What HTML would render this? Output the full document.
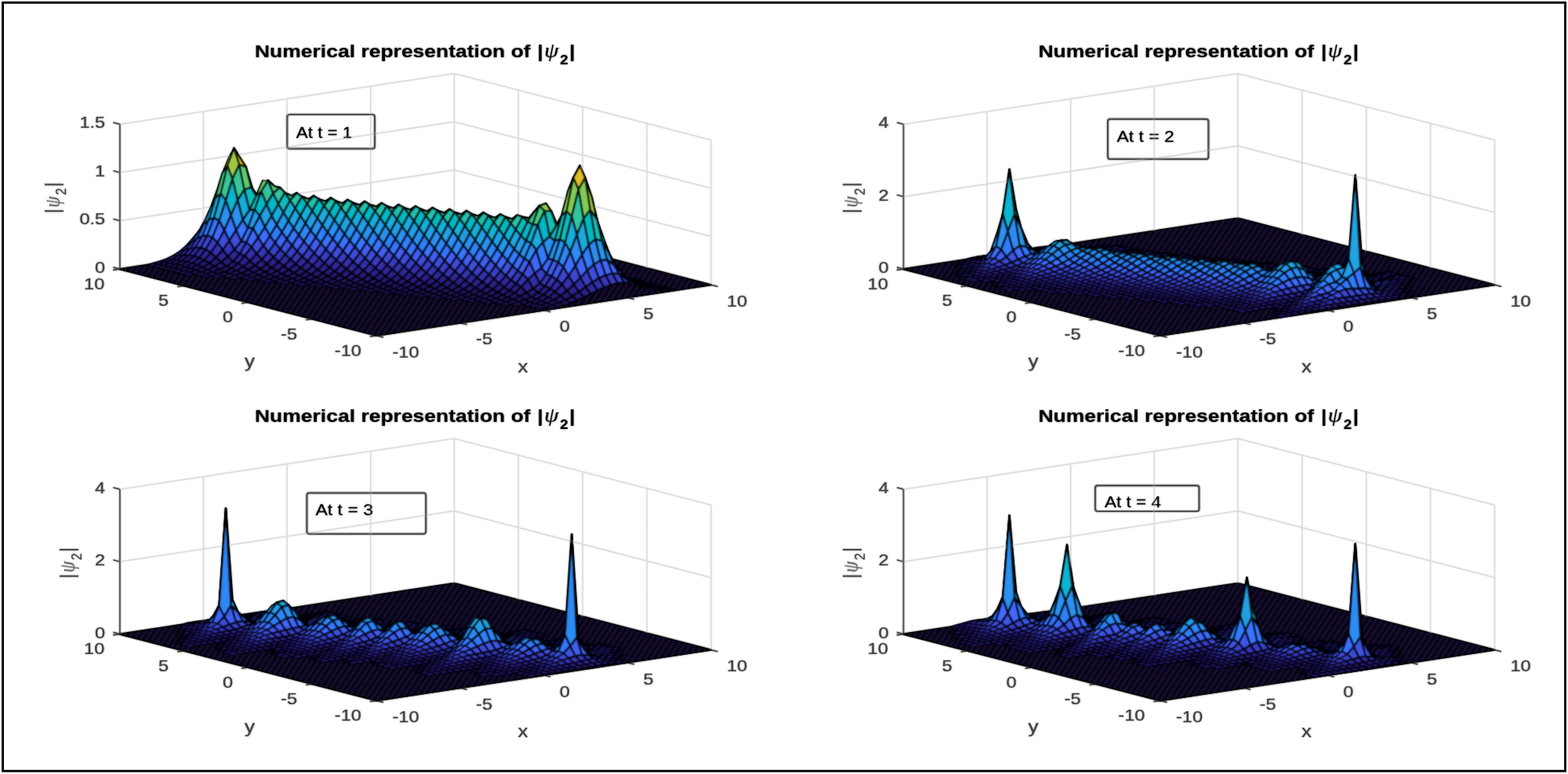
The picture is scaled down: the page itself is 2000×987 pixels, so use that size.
<!DOCTYPE html>
<html lang="en"><head><meta charset="utf-8"><title>Numerical representation of |ψ2|</title>
<style>html,body{margin:0;padding:0;background:#fff}body{width:2000px;height:987px;overflow:hidden}svg{display:block;font-family:"Liberation Sans", sans-serif}</style></head>
<body>
<svg width="2000" height="987" viewBox="0 0 2000 987">
<rect width="2000" height="987" fill="#fff"/>
<defs><filter id="soft" x="0" y="0" width="2000" height="987" filterUnits="userSpaceOnUse"><feGaussianBlur stdDeviation="0.8"/></filter></defs>
<g id="art">
<path d="M152.9 343.1L152.9 158.4M259.5 326.9L259.5 142.2M366.1 310.8L366.1 126.1M472.8 294.6L472.8 109.9M579.4 278.4L579.4 93.7M907 363.2L907 178.5M825.1 342L825.1 157.3M743.2 320.8L743.2 136.1M661.3 299.6L661.3 114.9M152.9 343.1L579.4 278.4M579.4 278.4L907 363.2M152.9 281.5L579.4 216.8M579.4 216.8L907 301.6M152.9 220L579.4 155.3M579.4 155.3L907 240.1M152.9 158.4L579.4 93.7M579.4 93.7L907 178.5" stroke="#dcdcdc" stroke-width="1.5" fill="none"/>
<path d="M152.9 158.4L152.9 343.1L480.5 427.9L907 363.2M152.9 343.1L144.4 340.9M152.9 281.5L144.4 279.3M152.9 220L144.4 217.8M152.9 158.4L144.4 156.2M480.5 427.9L471.8 429.2M398.6 406.7L389.9 408M316.7 385.5L308 386.8M234.8 364.3L226.1 365.6M152.9 343.1L144.2 344.4M480.5 427.9L489 430.1M587.1 411.7L595.6 413.9M693.8 395.5L702.3 397.8M800.4 379.4L808.9 381.6M907 363.2L915.5 365.4" stroke="#4a4a4a" stroke-width="1.7" fill="none" stroke-linejoin="round"/>
<g stroke="#000" stroke-width="1.9" stroke-linejoin="round"><path d="M152.9 343.1L480.5 427.9L907 363.2L579.4 278.4z" fill="#07061c" stroke="#000" stroke-width="2.2"/><path d="M159.5 344.8L161.4 341.8M166 346.5L170 340.5M172.6 348.2L178.5 339.2M179.1 349.9L187 337.9M185.7 351.6L195.5 336.6M192.2 353.3L204.1 335.3M198.8 355L212.6 334M205.3 356.7L221.1 332.7M211.9 358.4L229.7 331.5M218.4 360.1L238.2 330.2M225 361.8L246.7 328.9M231.5 363.5L255.3 327.6M238.1 365.1L263.8 326.3M244.6 366.8L272.3 325M251.2 368.5L280.9 323.7M257.7 370.2L289.4 322.4M264.3 371.9L297.9 321.1M270.8 373.6L306.4 319.8M277.4 375.3L315 318.5M283.9 377L323.5 317.2M290.5 378.7L332 315.9M297 380.4L340.6 314.6M303.6 382.1L349.1 313.3M310.1 383.8L357.6 312M316.7 385.5L366.1 310.8M323.3 387.2L374.7 309.5M329.8 388.9L383.2 308.2M336.4 390.6L391.7 306.9M342.9 392.3L400.3 305.6M349.5 394L408.8 304.3M356 395.7L417.3 303M362.6 397.4L425.9 301.7M369.1 399.1L434.4 300.4M375.7 400.8L442.9 299.1M382.2 402.5L451.4 297.8M388.8 404.2L460 296.5M395.3 405.9L468.5 295.2M401.9 407.5L477 293.9M408.4 409.2L485.6 292.6M415 410.9L494.1 291.3M421.5 412.6L502.6 290M428.1 414.3L511.2 288.8M434.6 416L519.7 287.5M441.2 417.7L528.2 286.2M447.7 419.4L536.7 284.9M454.3 421.1L545.3 283.6M460.8 422.8L553.8 282.3M467.4 424.5L562.3 281M473.9 426.2L570.9 279.7M480.5 427.9L579.4 278.4M489 426.6L586 280.1M497.6 425.3L592.5 281.8M506.1 424L599.1 283.5M514.6 422.7L605.6 285.2M523.1 421.4L612.2 286.9M531.7 420.1L618.7 288.6M540.2 418.8L625.3 290.3M548.7 417.5L631.8 292M557.3 416.3L638.4 293.7M565.8 415L644.9 295.4M574.3 413.7L651.5 297.1M582.9 412.4L658 298.8M591.4 411.1L664.6 300.4M599.9 409.8L671.1 302.1M608.5 408.5L677.7 303.8M617 407.2L684.2 305.5M625.5 405.9L690.8 307.2M634 404.6L697.3 308.9M642.6 403.3L703.9 310.6M651.1 402L710.4 312.3M659.6 400.7L717 314M668.2 399.4L723.5 315.7M676.7 398.1L730.1 317.4M685.2 396.8L736.6 319.1M693.8 395.5L743.2 320.8M702.3 394.3L749.8 322.5M710.8 393L756.3 324.2M719.3 391.7L762.9 325.9M727.9 390.4L769.4 327.6M736.4 389.1L776 329.3M744.9 387.8L782.5 331M753.5 386.5L789.1 332.7M762 385.2L795.6 334.4M770.5 383.9L802.2 336.1M779 382.6L808.7 337.8M787.6 381.3L815.3 339.5M796.1 380L821.8 341.2M804.6 378.7L828.4 342.8M813.2 377.4L834.9 344.5M821.7 376.1L841.5 346.2M830.2 374.8L848 347.9M838.8 373.6L854.6 349.6M847.3 372.3L861.1 351.3M855.8 371L867.7 353M864.3 369.7L874.2 354.7M872.9 368.4L880.8 356.4M881.4 367.1L887.3 358.1M889.9 365.8L893.9 359.8M898.5 364.5L900.4 361.5" fill="none" stroke="#15122c" stroke-width="2.8"/><path fill="#3875fe" stroke-width="1.1" d="M253.3 295.4l8.5-16.4-6.5 12.6-8.6 11.2z"/><path fill="#3e4dd8" stroke-width="1.3" d="M244.8 308.6l8.5-13.2-6.6 7.4-8.5 9.7z"/><path fill="#3430a9" stroke-width="1.5" d="M236.2 318.4l8.6-9.8-6.6 3.9-8.5 7.6z"/><path fill="#2c2389" stroke-width="1.6" d="M227.7 325.5l8.5-7.1-6.5 1.7-8.6 5.6z"/><path fill="#261b70" stroke-width="1.5" d="M219.2 330.6l8.5-5.1-6.6 0.2-8.5 4.2z"/><path fill="#231762" stroke-width="1.4" d="M210.6 334.2l8.6-3.6-6.6-0.7-8.5 3.1z"/><path fill="#201458" stroke-width="1.3" d="M202.1 336.8l8.5-2.6-6.5-1.2-8.6 2.4z"/><path fill="#201456" stroke-width="1.4" d="M193.6 339.6l8.5-2.8-6.6-1.4-8.5 2.5z"/><path fill="#2b91ef" stroke-width="1.2" d="M259.8 286.7l8.6-21.9-6.6 14.2-8.5 16.4z"/><path fill="#4166f7" stroke-width="1.5" d="M251.3 304.1l8.5-17.4-6.5 8.7-8.5 13.2z"/><path fill="#393dbe" stroke-width="1.7" d="M242.8 316.7l8.5-12.6-6.5 4.5-8.6 9.8z"/><path fill="#2e258f" stroke-width="1.8" d="M234.2 325.4l8.6-8.7-6.6 1.7-8.5 7.1z"/><path fill="#271c72" stroke-width="1.7" d="M225.7 331.4l8.5-6-6.5 0.1-8.5 5.1z"/><path fill="#231764" stroke-width="1.5" d="M217.2 335.5l8.5-4.1-6.5-0.8-8.6 3.6z"/><path fill="#211459" stroke-width="1.4" d="M208.7 338.3l8.5-2.8-6.6-1.3-8.5 2.6z"/><path fill="#201456" stroke-width="1.5" d="M200.1 341.3l8.6-3-6.6-1.5-8.5 2.8z"/><path fill="#37c897" stroke-width="1.2" d="M274.9 252.3l8.5-31.3-6.5 20.4-8.5 23.4z"/><path fill="#20a5e3" stroke-width="1.7" d="M266.4 280.1l8.5-27.8-6.5 12.5-8.6 21.9z"/><path fill="#3875fe" stroke-width="1.8" d="M257.9 300.8l8.5-20.7-6.6 6.6-8.5 17.4z"/><path fill="#3c45cd" stroke-width="1.9" d="M249.3 315.5l8.6-14.7-6.6 3.3-8.5 12.6z"/><path fill="#312a9b" stroke-width="1.9" d="M240.8 325.5l8.5-10-6.5 1.2-8.6 8.7z"/><path fill="#291f7b" stroke-width="1.9" d="M232.3 332.4l8.5-6.9-6.6-0.1-8.5 6z"/><path fill="#241765" stroke-width="1.6" d="M223.7 336.9l8.6-4.5-6.6-1-8.5 4.1z"/><path fill="#211459" stroke-width="1.4" d="M215.2 339.9l8.5-3-6.5-1.4-8.5 2.8z"/><path fill="#201457" stroke-width="1.5" d="M206.7 343l8.5-3.1-6.5-1.6-8.6 3z"/><path fill="#c5c22a" stroke-width="1.1" d="M290 211.1l8.5-22.2-6.5 10.9-8.6 21.2z"/><path fill="#4acb84" stroke-width="1.9" d="M281.5 246.6l8.5-35.5-6.6 9.9-8.5 31.3z"/><path fill="#18addb" stroke-width="2.2" d="M272.9 277.9l8.6-31.3-6.6 5.7-8.5 27.8z"/><path fill="#327cfc" stroke-width="2.2" d="M264.4 300.3l8.5-22.4-6.5 2.2-8.5 20.7z"/><path fill="#3d4bd5" stroke-width="2.3" d="M255.9 316l8.5-15.7-6.5 0.5-8.6 14.7z"/><path fill="#322a9d" stroke-width="2.2" d="M247.3 326.6l8.6-10.6-6.6-0.5-8.5 10z"/><path fill="#291f7c" stroke-width="2.0" d="M238.8 333.8l8.5-7.2-6.5-1.1-8.5 6.9z"/><path fill="#241865" stroke-width="1.7" d="M230.3 338.4l8.5-4.6-6.5-1.4-8.6 4.5z"/><path fill="#211459" stroke-width="1.5" d="M221.8 341.6l8.5-3.2-6.6-1.5-8.5 3z"/><path fill="#201457" stroke-width="1.5" d="M213.2 344.7l8.6-3.1-6.6-1.7-8.5 3.1z"/><path fill="#d1bf27" stroke-width="2.4" d="M305.1 210l8.5 2.8-6.5-10.1-8.6-13.8z"/><path fill="#9dc943" stroke-width="2.4" d="M296.5 228.2l8.6-18.2-6.6-21.1-8.5 22.2z"/><path fill="#37c897" stroke-width="2.4" d="M288 255.6l8.5-27.4-6.5-17.1-8.5 35.5z"/><path fill="#1ca9df" stroke-width="2.4" d="M279.5 281.4l8.5-25.8-6.5-9-8.6 31.3z"/><path fill="#327cfc" stroke-width="2.4" d="M271 302.8l8.5-21.4-6.6-3.5-8.5 22.4z"/><path fill="#3d46cf" stroke-width="2.4" d="M262.4 318.2l8.6-15.4-6.6-2.5-8.5 15.7z"/><path fill="#312a9b" stroke-width="2.4" d="M253.9 328.8l8.5-10.6-6.5-2.2-8.6 10.6z"/><path fill="#291f7c" stroke-width="2.1" d="M245.4 335.7l8.5-6.9-6.6-2.2-8.5 7.2z"/><path fill="#241764" stroke-width="1.8" d="M236.8 340.3l8.6-4.6-6.6-1.9-8.5 4.6z"/><path fill="#211459" stroke-width="1.5" d="M228.3 343.3l8.5-3-6.5-1.9-8.5 3.2z"/><path fill="#201456" stroke-width="1.5" d="M219.8 346.4l8.5-3.1-6.5-1.7-8.6 3.1z"/><path fill="#72cd64" stroke-width="2.1" d="M320.2 238.8l8.5 11.7-6.6-10.2-8.5-27.5z"/><path fill="#64cd6f" stroke-width="2.4" d="M311.6 241.9l8.6-3.1-6.6-26-8.5-2.8z"/><path fill="#37c897" stroke-width="2.4" d="M303.1 255.1l8.5-13.2-6.5-31.9-8.6 18.2z"/><path fill="#08b5d0" stroke-width="2.4" d="M294.6 274.6l8.5-19.5-6.6-26.9-8.5 27.4z"/><path fill="#2b91ef" stroke-width="2.4" d="M286 293.6l8.6-19-6.6-19-8.5 25.8z"/><path fill="#4269fd" stroke-width="2.4" d="M277.5 309.5l8.5-15.9-6.5-12.2-8.5 21.4z"/><path fill="#3a3ec4" stroke-width="2.4" d="M269 322.1l8.5-12.6-6.5-6.7-8.6 15.4z"/><path fill="#302997" stroke-width="2.4" d="M260.5 331.7l8.5-9.6-6.6-3.9-8.5 10.6z"/><path fill="#271c73" stroke-width="2.2" d="M251.9 338.1l8.6-6.4-6.6-2.9-8.5 6.9z"/><path fill="#231763" stroke-width="1.8" d="M243.4 342.3l8.5-4.2-6.5-2.4-8.6 4.6z"/><path fill="#201458" stroke-width="1.5" d="M234.9 345.2l8.5-2.9-6.6-2-8.5 3z"/><path fill="#201456" stroke-width="1.4" d="M226.3 348.1l8.6-2.9-6.6-1.9-8.5 3.1z"/><path fill="#4acb84" stroke-width="2.4" d="M326.7 249.9l8.5-19.4-6.5 20-8.5-11.7z"/><path fill="#0bbdbd" stroke-width="2.4" d="M318.2 268l8.5-18.1-6.5-11.1-8.6 3.1z"/><path fill="#18addb" stroke-width="2.4" d="M309.7 280.3l8.5-12.3-6.6-26.1-8.5 13.2z"/><path fill="#2b91ef" stroke-width="2.4" d="M301.1 293.5l8.6-13.2-6.6-25.2-8.5 19.5z"/><path fill="#3875fe" stroke-width="2.4" d="M292.6 306.8l8.5-13.3-6.5-18.9-8.6 19z"/><path fill="#3e4dd9" stroke-width="2.4" d="M284.1 318.6l8.5-11.8-6.6-13.2-8.5 15.9z"/><path fill="#3530aa" stroke-width="2.4" d="M275.5 328.4l8.6-9.8-6.6-9.1-8.5 12.6z"/><path fill="#2d238a" stroke-width="2.4" d="M267 335.5l8.5-7.1-6.5-6.3-8.5 9.6z"/><path fill="#261b6f" stroke-width="2.2" d="M258.5 340.8l8.5-5.3-6.5-3.8-8.6 6.4z"/><path fill="#231762" stroke-width="1.8" d="M249.9 344.6l8.6-3.8-6.6-2.7-8.5 4.2z"/><path fill="#201458" stroke-width="1.5" d="M241.4 347.2l8.5-2.6-6.5-2.3-8.5 2.9z"/><path fill="#1f1456" stroke-width="1.4" d="M232.9 349.8l8.5-2.6-6.5-2-8.6 2.9z"/><path fill="#64cd6f" stroke-width="1.1" d="M333.3 243.8l8.5-13.8-6.6 0.5-8.5 19.4z"/><path fill="#19bfb6" stroke-width="2.2" d="M324.7 267.2l8.6-23.4-6.6 6.1-8.5 18.1z"/><path fill="#259be8" stroke-width="2.4" d="M316.2 290.8l8.5-23.6-6.5 0.8-8.5 12.3z"/><path fill="#3875fe" stroke-width="2.4" d="M307.7 307.7l8.5-16.9-6.5-10.5-8.6 13.2z"/><path fill="#3f4edc" stroke-width="2.4" d="M299.1 318.4l8.6-10.7-6.6-14.2-8.5 13.3z"/><path fill="#3736b5" stroke-width="2.4" d="M290.6 327.1l8.5-8.7-6.5-11.6-8.5 11.8z"/><path fill="#2e258f" stroke-width="2.4" d="M282.1 334.3l8.5-7.2-6.5-8.5-8.6 9.8z"/><path fill="#281c74" stroke-width="2.4" d="M273.6 339.8l8.5-5.5-6.6-5.9-8.5 7.1z"/><path fill="#241865" stroke-width="2.1" d="M265 343.9l8.6-4.1-6.6-4.3-8.5 5.3z"/><path fill="#21145a" stroke-width="1.7" d="M256.5 346.9l8.5-3-6.5-3.1-8.6 3.8z"/><path fill="#201457" stroke-width="2.0" d="M248 350.2l8.5-3.3-6.6-2.3-8.5 2.6z"/><path fill="#1f1355" stroke-width="1.1" d="M239.4 351.5l8.6-1.3-6.6-3-8.5 2.6z"/><path fill="#57cc7a" stroke-width="2.4" d="M348.3 246.5l8.6-7.3-6.6-1.6-8.5-7.6z"/><path fill="#31c69f" stroke-width="2.4" d="M339.8 260.3l8.5-13.8-6.5-16.5-8.5 13.8z"/><path fill="#01b8ca" stroke-width="2.4" d="M331.3 275.4l8.5-15.1-6.5-16.5-8.6 23.4z"/><path fill="#259be8" stroke-width="2.2" d="M322.8 290.9l8.5-15.5-6.6-8.2-8.5 23.6z"/><path fill="#3875fe" stroke-width="2.4" d="M314.2 309l8.6-18.1-6.6-0.1-8.5 16.9z"/><path fill="#3b44ca" stroke-width="2.4" d="M305.7 323.9l8.5-14.9-6.5-1.3-8.6 10.7z"/><path fill="#302999" stroke-width="2.4" d="M297.2 333.7l8.5-9.8-6.6-5.5-8.5 8.7z"/><path fill="#2a1f7d" stroke-width="2.4" d="M288.6 339.4l8.6-5.7-6.6-6.6-8.5 7.2z"/><path fill="#261a6d" stroke-width="2.4" d="M280.1 343.6l8.5-4.2-6.5-5.1-8.5 5.5z"/><path fill="#231762" stroke-width="1.9" d="M271.6 346.8l8.5-3.2-6.5-3.8-8.6 4.1z"/><path fill="#201458" stroke-width="1.6" d="M263 349.2l8.6-2.4-6.6-2.9-8.5 3z"/><path fill="#1f1456" stroke-width="1.4" d="M254.5 351.9l8.5-2.7-6.5-2.3-8.5 3.3z"/><path fill="#31c69f" stroke-width="2.4" d="M354.9 260.1l8.5-14.4-6.5-6.5-8.6 7.3z"/><path fill="#01b8ca" stroke-width="2.4" d="M346.4 275.3l8.5-15.2-6.6-13.6-8.5 13.8z"/><path fill="#23a0e5" stroke-width="2.4" d="M337.8 289.6l8.6-14.3-6.6-15-8.5 15.1z"/><path fill="#2e87f7" stroke-width="2.4" d="M329.3 302.8l8.5-13.2-6.5-14.2-8.5 15.5z"/><path fill="#4166f7" stroke-width="2.4" d="M320.8 315.1l8.5-12.3-6.5-11.9-8.6 18.1z"/><path fill="#3b3fc5" stroke-width="2.4" d="M312.2 326l8.6-10.9-6.6-6.1-8.5 14.9z"/><path fill="#302997" stroke-width="2.4" d="M303.7 335.8l8.5-9.8-6.5-2.1-8.5 9.8z"/><path fill="#271c72" stroke-width="2.4" d="M295.2 342.6l8.5-6.8-6.5-2.1-8.6 5.7z"/><path fill="#231763" stroke-width="2.1" d="M286.7 346.7l8.5-4.1-6.6-3.2-8.5 4.2z"/><path fill="#211459" stroke-width="1.7" d="M278.1 349.3l8.6-2.6-6.6-3.1-8.5 3.2z"/><path fill="#201457" stroke-width="1.9" d="M269.6 352.3l8.5-3-6.5-2.5-8.6 2.4z"/><path fill="#1f1355" stroke-width="1.1" d="M261.1 353.6l8.5-1.3-6.6-3.1-8.5 2.7z"/><path fill="#3fca8e" stroke-width="2.4" d="M370 255.7l8.5-9.6-6.5 3.5-8.6-3.9z"/><path fill="#0bbdbd" stroke-width="2.4" d="M361.5 271.2l8.5-15.5-6.6-10-8.5 14.4z"/><path fill="#1ca9df" stroke-width="2.4" d="M352.9 286.7l8.6-15.5-6.6-11.1-8.5 15.2z"/><path fill="#2d8cf3" stroke-width="2.4" d="M344.4 300.7l8.5-14-6.5-11.4-8.6 14.3z"/><path fill="#3e6fff" stroke-width="2.4" d="M335.9 313.3l8.5-12.6-6.6-11.1-8.5 13.2z"/><path fill="#3d4cd5" stroke-width="2.4" d="M327.3 323.8l8.6-10.5-6.6-10.5-8.5 12.3z"/><path fill="#3430a9" stroke-width="2.4" d="M318.8 332.9l8.5-9.1-6.5-8.7-8.6 10.9z"/><path fill="#2d238a" stroke-width="2.4" d="M310.3 339.7l8.5-6.8-6.6-6.9-8.5 9.8z"/><path fill="#261b70" stroke-width="2.0" d="M301.7 344.9l8.6-5.2-6.6-3.9-8.5 6.8z"/><path fill="#231762" stroke-width="1.8" d="M293.2 348.8l8.5-3.9-6.5-2.3-8.5 4.1z"/><path fill="#201457" stroke-width="2.2" d="M284.7 352.7l8.5-3.9-6.5-2.1-8.6 2.6z"/><path fill="#1f1356" stroke-width="1.1" d="M276.2 354l8.5-1.3-6.6-3.4-8.5 3z"/><path fill="#2cc4a7" stroke-width="2.4" d="M376.5 265.6l8.6-14.9-6.6-4.6-8.5 9.6z"/><path fill="#12b1d6" stroke-width="2.4" d="M368 281.4l8.5-15.8-6.5-9.9-8.5 15.5z"/><path fill="#2797eb" stroke-width="2.4" d="M359.5 296.3l8.5-14.9-6.5-10.2-8.6 15.5z"/><path fill="#327cfc" stroke-width="2.4" d="M350.9 309.6l8.6-13.3-6.6-9.6-8.5 14z"/><path fill="#4055e4" stroke-width="2.4" d="M342.4 321.2l8.5-11.6-6.5-8.9-8.5 12.6z"/><path fill="#3737b6" stroke-width="2.4" d="M333.9 330.9l8.5-9.7-6.5-7.9-8.6 10.5z"/><path fill="#2e258f" stroke-width="2.4" d="M325.4 338.6l8.5-7.7-6.6-7.1-8.5 9.1z"/><path fill="#281c73" stroke-width="2.4" d="M316.8 344.1l8.6-5.5-6.6-5.7-8.5 6.8z"/><path fill="#241765" stroke-width="2.2" d="M308.3 348.2l8.5-4.1-6.5-4.4-8.6 5.2z"/><path fill="#211459" stroke-width="1.7" d="M299.8 351.2l8.5-3-6.6-3.3-8.5 3.9z"/><path fill="#201457" stroke-width="1.5" d="M291.2 354.4l8.6-3.2-6.6-2.4-8.5 3.9z"/><path fill="#3fca8e" stroke-width="2.4" d="M391.6 259.6l8.5-9.8-6.5 4.1-8.5-3.2z"/><path fill="#02bac3" stroke-width="2.4" d="M383.1 275.4l8.5-15.8-6.5-8.9-8.6 14.9z"/><path fill="#20a5e3" stroke-width="2.4" d="M374.6 291l8.5-15.6-6.6-9.8-8.5 15.8z"/><path fill="#2e87f7" stroke-width="2.4" d="M366 305l8.6-14-6.6-9.6-8.5 14.9z"/><path fill="#4166f7" stroke-width="2.4" d="M357.5 317.6l8.5-12.6-6.5-8.7-8.6 13.3z"/><path fill="#3b44ca" stroke-width="2.4" d="M349 327.9l8.5-10.3-6.6-8-8.5 11.6z"/><path fill="#322a9d" stroke-width="2.4" d="M340.4 336.7l8.6-8.8-6.6-6.7-8.5 9.7z"/><path fill="#2a207f" stroke-width="2.4" d="M331.9 343.1l8.5-6.4-6.5-5.8-8.5 7.7z"/><path fill="#241867" stroke-width="2.4" d="M323.4 347.8l8.5-4.7-6.5-4.5-8.6 5.5z"/><path fill="#221761" stroke-width="1.9" d="M314.8 351.1l8.6-3.3-6.6-3.7-8.5 4.1z"/><path fill="#201457" stroke-width="2.2" d="M306.3 354.8l8.5-3.7-6.5-2.9-8.5 3z"/><path fill="#1f1355" stroke-width="1.1" d="M297.8 356.1l8.5-1.3-6.5-3.6-8.6 3.2z"/><path fill="#24c1ae" stroke-width="2.4" d="M398.2 268.9l8.5-15.1-6.6-4-8.5 9.8z"/><path fill="#12b1d6" stroke-width="2.4" d="M389.6 284.8l8.6-15.9-6.6-9.3-8.5 15.8z"/><path fill="#2797eb" stroke-width="2.4" d="M381.1 299.7l8.5-14.9-6.5-9.4-8.5 15.6z"/><path fill="#3875fe" stroke-width="2.4" d="M372.6 313l8.5-13.3-6.5-8.7-8.6 14z"/><path fill="#3f4edc" stroke-width="2.4" d="M364 324.5l8.6-11.5-6.6-8-8.5 12.6z"/><path fill="#3636b2" stroke-width="2.4" d="M355.5 334l8.5-9.5-6.5-6.9-8.5 10.3z"/><path fill="#2d248c" stroke-width="2.4" d="M347 341.5l8.5-7.5-6.5-6.1-8.6 8.8z"/><path fill="#271b71" stroke-width="2.4" d="M338.5 346.9l8.5-5.4-6.6-4.8-8.5 6.4z"/><path fill="#231763" stroke-width="2.1" d="M329.9 350.8l8.6-3.9-6.6-3.8-8.5 4.7z"/><path fill="#201458" stroke-width="1.7" d="M321.4 353.6l8.5-2.8-6.5-3-8.6 3.3z"/><path fill="#201456" stroke-width="1.4" d="M312.9 356.5l8.5-2.9-6.6-2.5-8.5 3.7z"/><path fill="#37c897" stroke-width="2.4" d="M413.2 262.4l8.6-10-6.6 4.4-8.5-3z"/><path fill="#02bac3" stroke-width="2.4" d="M404.7 278.2l8.5-15.8-6.5-8.6-8.5 15.1z"/><path fill="#23a0e5" stroke-width="2.4" d="M396.2 293.9l8.5-15.7-6.5-9.3-8.6 15.9z"/><path fill="#2e87f7" stroke-width="2.4" d="M387.7 307.9l8.5-14-6.6-9.1-8.5 14.9z"/><path fill="#425ff3" stroke-width="2.4" d="M379.1 320.4l8.6-12.5-6.6-8.2-8.5 13.3z"/><path fill="#3b3fc4" stroke-width="2.4" d="M370.6 330.7l8.5-10.3-6.5-7.4-8.6 11.5z"/><path fill="#312a9b" stroke-width="2.4" d="M362.1 339.4l8.5-8.7-6.6-6.2-8.5 9.5z"/><path fill="#2a1f7d" stroke-width="2.4" d="M353.5 345.7l8.6-6.3-6.6-5.4-8.5 7.5z"/><path fill="#241866" stroke-width="2.3" d="M345 350.3l8.5-4.6-6.5-4.2-8.5 5.4z"/><path fill="#21145a" stroke-width="1.8" d="M336.5 353.5l8.5-3.2-6.5-3.4-8.6 3.9z"/><path fill="#201457" stroke-width="2.1" d="M327.9 356.9l8.6-3.4-6.6-2.7-8.5 2.8z"/><path fill="#1f1355" stroke-width="1.1" d="M319.4 358.2l8.5-1.3-6.5-3.3-8.5 2.9z"/><path fill="#24c1ae" stroke-width="2.4" d="M419.8 271.4l8.5-15.1-6.5-3.9-8.6 10z"/><path fill="#18addb" stroke-width="2.4" d="M411.3 287.3l8.5-15.9-6.6-9-8.5 15.8z"/><path fill="#2b91ef" stroke-width="2.4" d="M402.7 302.3l8.6-15-6.6-9.1-8.5 15.7z"/><path fill="#3875fe" stroke-width="2.4" d="M394.2 315.6l8.5-13.3-6.5-8.4-8.5 14z"/><path fill="#3f4edb" stroke-width="2.4" d="M385.7 327.1l8.5-11.5-6.5-7.7-8.6 12.5z"/><path fill="#3635b1" stroke-width="2.4" d="M377.2 336.5l8.5-9.4-6.6-6.7-8.5 10.3z"/><path fill="#2d248b" stroke-width="2.4" d="M368.6 344l8.6-7.5-6.6-5.8-8.5 8.7z"/><path fill="#271b70" stroke-width="2.4" d="M360.1 349.3l8.5-5.3-6.5-4.6-8.6 6.3z"/><path fill="#231762" stroke-width="2.0" d="M351.6 353.2l8.5-3.9-6.6-3.6-8.5 4.6z"/><path fill="#201458" stroke-width="1.6" d="M343 355.9l8.6-2.7-6.6-2.9-8.5 3.2z"/><path fill="#1f1456" stroke-width="1.4" d="M334.5 358.6l8.5-2.7-6.5-2.4-8.6 3.4z"/><path fill="#37c897" stroke-width="2.4" d="M434.9 264.7l8.5-9.9-6.5 4.5-8.6-3z"/><path fill="#02bac3" stroke-width="2.4" d="M426.4 280.6l8.5-15.9-6.6-8.4-8.5 15.1z"/><path fill="#23a0e5" stroke-width="2.4" d="M417.8 296.3l8.6-15.7-6.6-9.2-8.5 15.9z"/><path fill="#2f81fa" stroke-width="2.4" d="M409.3 310.3l8.5-14-6.5-9-8.6 15z"/><path fill="#425ff2" stroke-width="2.4" d="M400.8 322.8l8.5-12.5-6.6-8-8.5 13.3z"/><path fill="#3a3ec3" stroke-width="2.4" d="M392.2 333.1l8.6-10.3-6.6-7.2-8.5 11.5z"/><path fill="#31299a" stroke-width="2.4" d="M383.7 341.8l8.5-8.7-6.5-6-8.5 9.4z"/><path fill="#2a1f7d" stroke-width="2.4" d="M375.2 348l8.5-6.2-6.5-5.3-8.6 7.5z"/><path fill="#241865" stroke-width="2.2" d="M366.6 352.6l8.6-4.6-6.6-4-8.5 5.3z"/><path fill="#211459" stroke-width="1.8" d="M358.1 355.8l8.5-3.2-6.5-3.3-8.5 3.9z"/><path fill="#201457" stroke-width="2.0" d="M349.6 359l8.5-3.2-6.5-2.6-8.6 2.7z"/><path fill="#1f1355" stroke-width="1.1" d="M341.1 360.3l8.5-1.3-6.6-3.1-8.5 2.7z"/><path fill="#24c1ae" stroke-width="2.4" d="M441.4 273.7l8.6-15.1-6.6-3.8-8.5 9.9z"/><path fill="#18addb" stroke-width="2.4" d="M432.9 289.6l8.5-15.9-6.5-9-8.5 15.9z"/><path fill="#2b91ef" stroke-width="2.4" d="M424.4 304.6l8.5-15-6.5-9-8.6 15.7z"/><path fill="#3875fe" stroke-width="2.4" d="M415.8 317.9l8.6-13.3-6.6-8.3-8.5 14z"/><path fill="#3f4dda" stroke-width="2.4" d="M407.3 329.3l8.5-11.4-6.5-7.6-8.5 12.5z"/><path fill="#3531ac" stroke-width="2.4" d="M398.8 338.8l8.5-9.5-6.5-6.5-8.6 10.3z"/><path fill="#2d248a" stroke-width="2.4" d="M390.3 346.2l8.5-7.4-6.6-5.7-8.5 8.7z"/><path fill="#261b70" stroke-width="2.4" d="M381.7 351.5l8.6-5.3-6.6-4.4-8.5 6.2z"/><path fill="#231762" stroke-width="2.0" d="M373.2 355.4l8.5-3.9-6.5-3.5-8.6 4.6z"/><path fill="#201458" stroke-width="1.6" d="M364.7 358.1l8.5-2.7-6.6-2.8-8.5 3.2z"/><path fill="#1f1356" stroke-width="1.4" d="M356.1 360.7l8.6-2.6-6.6-2.3-8.5 3.2z"/><path fill="#37c897" stroke-width="2.4" d="M456.5 266.9l8.5-10-6.5 4.6-8.5-2.9z"/><path fill="#02bac3" stroke-width="2.4" d="M448 282.8l8.5-15.9-6.5-8.3-8.6 15.1z"/><path fill="#23a0e5" stroke-width="2.4" d="M439.5 298.5l8.5-15.7-6.6-9.1-8.5 15.9z"/><path fill="#2f81fa" stroke-width="2.4" d="M430.9 312.5l8.6-14-6.6-8.9-8.5 15z"/><path fill="#425ff1" stroke-width="2.4" d="M422.4 325l8.5-12.5-6.5-7.9-8.6 13.3z"/><path fill="#3a3ec3" stroke-width="2.4" d="M413.9 335.3l8.5-10.3-6.6-7.1-8.5 11.4z"/><path fill="#31299a" stroke-width="2.4" d="M405.3 344l8.6-8.7-6.6-6-8.5 9.5z"/><path fill="#291f7c" stroke-width="2.4" d="M396.8 350.1l8.5-6.1-6.5-5.2-8.5 7.4z"/><path fill="#241865" stroke-width="2.2" d="M388.3 354.7l8.5-4.6-6.5-3.9-8.6 5.3z"/><path fill="#211459" stroke-width="1.8" d="M379.7 357.9l8.6-3.2-6.6-3.2-8.5 3.9z"/><path fill="#201456" stroke-width="1.9" d="M371.2 361.1l8.5-3.2-6.5-2.5-8.5 2.7z"/><path fill="#1f1355" stroke-width="1.1" d="M362.7 362.4l8.5-1.3-6.5-3-8.6 2.6z"/><path fill="#24c1ae" stroke-width="2.4" d="M463.1 275.8l8.5-15.1-6.6-3.8-8.5 10z"/><path fill="#18addb" stroke-width="2.4" d="M454.5 291.8l8.6-16-6.6-8.9-8.5 15.9z"/><path fill="#2b91ef" stroke-width="2.4" d="M446 306.8l8.5-15-6.5-9-8.5 15.7z"/><path fill="#3875fe" stroke-width="2.4" d="M437.5 320l8.5-13.2-6.5-8.3-8.6 14z"/><path fill="#3f4dda" stroke-width="2.4" d="M428.9 331.5l8.6-11.5-6.6-7.5-8.5 12.5z"/><path fill="#3531ab" stroke-width="2.4" d="M420.4 340.9l8.5-9.4-6.5-6.5-8.5 10.3z"/><path fill="#2d238a" stroke-width="2.4" d="M411.9 348.4l8.5-7.5-6.5-5.6-8.6 8.7z"/><path fill="#261b70" stroke-width="2.4" d="M403.4 353.7l8.5-5.3-6.6-4.4-8.5 6.1z"/><path fill="#231762" stroke-width="2.0" d="M394.8 357.5l8.6-3.8-6.6-3.6-8.5 4.6z"/><path fill="#201458" stroke-width="1.6" d="M386.3 360.2l8.5-2.7-6.5-2.8-8.6 3.2z"/><path fill="#1f1355" stroke-width="1.4" d="M377.8 362.8l8.5-2.6-6.6-2.3-8.5 3.2z"/><path fill="#37c897" stroke-width="2.4" d="M478.2 269l8.5-10-6.6 4.6-8.5-2.9z"/><path fill="#02bac3" stroke-width="2.4" d="M469.6 284.9l8.6-15.9-6.6-8.3-8.5 15.1z"/><path fill="#23a0e5" stroke-width="2.4" d="M461.1 300.6l8.5-15.7-6.5-9.1-8.6 16z"/><path fill="#2f81fa" stroke-width="2.4" d="M452.6 314.6l8.5-14-6.6-8.8-8.5 15z"/><path fill="#425ff1" stroke-width="2.4" d="M444 327.2l8.6-12.6-6.6-7.8-8.5 13.2z"/><path fill="#3a3ec2" stroke-width="2.4" d="M435.5 337.5l8.5-10.3-6.5-7.2-8.6 11.5z"/><path fill="#31299a" stroke-width="2.4" d="M427 346.1l8.5-8.6-6.6-6-8.5 9.4z"/><path fill="#291f7c" stroke-width="2.4" d="M418.4 352.3l8.6-6.2-6.6-5.2-8.5 7.5z"/><path fill="#241865" stroke-width="2.2" d="M409.9 356.8l8.5-4.5-6.5-3.9-8.5 5.3z"/><path fill="#211459" stroke-width="1.8" d="M401.4 360l8.5-3.2-6.5-3.1-8.6 3.8z"/><path fill="#201456" stroke-width="1.9" d="M392.9 363.2l8.5-3.2-6.6-2.5-8.5 2.7z"/><path fill="#1f1355" stroke-width="1.1" d="M384.3 364.5l8.6-1.3-6.6-3-8.5 2.6z"/><path fill="#24c1ae" stroke-width="2.4" d="M484.7 277.9l8.5-15.1-6.5-3.8-8.5 10z"/><path fill="#18addb" stroke-width="2.4" d="M476.2 293.9l8.5-16-6.5-8.9-8.6 15.9z"/><path fill="#2b91ef" stroke-width="2.4" d="M467.6 308.9l8.6-15-6.6-9-8.5 15.7z"/><path fill="#3875fe" stroke-width="2.4" d="M459.1 322.1l8.5-13.2-6.5-8.3-8.5 14z"/><path fill="#3f4dda" stroke-width="2.4" d="M450.6 333.6l8.5-11.5-6.5-7.5-8.6 12.6z"/><path fill="#3531ab" stroke-width="2.4" d="M442.1 343l8.5-9.4-6.6-6.4-8.5 10.3z"/><path fill="#2d238a" stroke-width="2.4" d="M433.5 350.5l8.6-7.5-6.6-5.5-8.5 8.6z"/><path fill="#261b70" stroke-width="2.4" d="M425 355.8l8.5-5.3-6.5-4.4-8.6 6.2z"/><path fill="#231762" stroke-width="2.0" d="M416.5 359.6l8.5-3.8-6.6-3.5-8.5 4.5z"/><path fill="#201458" stroke-width="1.6" d="M407.9 362.3l8.6-2.7-6.6-2.8-8.5 3.2z"/><path fill="#1f1355" stroke-width="1.4" d="M399.4 364.9l8.5-2.6-6.5-2.3-8.5 3.2z"/><path fill="#37c897" stroke-width="2.4" d="M499.8 271.1l8.5-10.1-6.5 4.7-8.6-2.9z"/><path fill="#02bac3" stroke-width="2.4" d="M491.3 287l8.5-15.9-6.6-8.3-8.5 15.1z"/><path fill="#23a0e5" stroke-width="2.4" d="M482.7 302.7l8.6-15.7-6.6-9.1-8.5 16z"/><path fill="#2f81fa" stroke-width="2.4" d="M474.2 316.7l8.5-14-6.5-8.8-8.6 15z"/><path fill="#425ff1" stroke-width="2.4" d="M465.7 329.3l8.5-12.6-6.6-7.8-8.5 13.2z"/><path fill="#3a3ec2" stroke-width="2.4" d="M457.1 339.6l8.6-10.3-6.6-7.2-8.5 11.5z"/><path fill="#30299a" stroke-width="2.4" d="M448.6 348.2l8.5-8.6-6.5-6-8.5 9.4z"/><path fill="#291f7c" stroke-width="2.4" d="M440.1 354.4l8.5-6.2-6.5-5.2-8.6 7.5z"/><path fill="#241865" stroke-width="2.2" d="M431.5 359l8.6-4.6-6.6-3.9-8.5 5.3z"/><path fill="#211459" stroke-width="1.8" d="M423 362.1l8.5-3.1-6.5-3.2-8.5 3.8z"/><path fill="#201456" stroke-width="1.9" d="M414.5 365.3l8.5-3.2-6.5-2.5-8.6 2.7z"/><path fill="#1f1355" stroke-width="1.1" d="M406 366.6l8.5-1.3-6.6-3-8.5 2.6z"/><path fill="#4acb84" stroke-width="1.1" d="M514.9 264.8l8.5 2.8-6.6 5.5-8.5-12.1z"/><path fill="#24c1ae" stroke-width="2.4" d="M506.3 279.9l8.6-15.1-6.6-3.8-8.5 10.1z"/><path fill="#18addb" stroke-width="2.4" d="M497.8 295.9l8.5-16-6.5-8.8-8.5 15.9z"/><path fill="#2b91ef" stroke-width="2.4" d="M489.3 310.9l8.5-15-6.5-8.9-8.6 15.7z"/><path fill="#3875fe" stroke-width="2.4" d="M480.7 324.2l8.6-13.3-6.6-8.2-8.5 14z"/><path fill="#3f4dda" stroke-width="2.4" d="M472.2 335.7l8.5-11.5-6.5-7.5-8.5 12.6z"/><path fill="#3531ab" stroke-width="2.4" d="M463.7 345.1l8.5-9.4-6.5-6.4-8.6 10.3z"/><path fill="#2d238a" stroke-width="2.4" d="M455.2 352.6l8.5-7.5-6.6-5.5-8.5 8.6z"/><path fill="#261b70" stroke-width="2.4" d="M446.6 357.9l8.6-5.3-6.6-4.4-8.5 6.2z"/><path fill="#231762" stroke-width="2.0" d="M438.1 361.7l8.5-3.8-6.5-3.5-8.6 4.6z"/><path fill="#201458" stroke-width="1.6" d="M429.6 364.4l8.5-2.7-6.6-2.7-8.5 3.1z"/><path fill="#1f1355" stroke-width="1.4" d="M421 367l8.6-2.6-6.6-2.3-8.5 3.2z"/><path fill="#37c897" stroke-width="2.4" d="M521.4 273l8.6-10-6.6 4.6-8.5-2.8z"/><path fill="#02bac3" stroke-width="2.4" d="M512.9 289l8.5-16-6.5-8.2-8.6 15.1z"/><path fill="#23a0e5" stroke-width="2.4" d="M504.4 304.7l8.5-15.7-6.6-9.1-8.5 16z"/><path fill="#2f81fa" stroke-width="2.4" d="M495.8 318.8l8.6-14.1-6.6-8.8-8.5 15z"/><path fill="#425ff1" stroke-width="2.4" d="M487.3 331.3l8.5-12.5-6.5-7.9-8.6 13.3z"/><path fill="#3a3ec2" stroke-width="2.4" d="M478.8 341.6l8.5-10.3-6.6-7.1-8.5 11.5z"/><path fill="#30299a" stroke-width="2.4" d="M470.2 350.3l8.6-8.7-6.6-5.9-8.5 9.4z"/><path fill="#291f7c" stroke-width="2.4" d="M461.7 356.5l8.5-6.2-6.5-5.2-8.5 7.5z"/><path fill="#241865" stroke-width="2.2" d="M453.2 361.1l8.5-4.6-6.5-3.9-8.6 5.3z"/><path fill="#211459" stroke-width="1.8" d="M444.6 364.2l8.6-3.1-6.6-3.2-8.5 3.8z"/><path fill="#201456" stroke-width="1.9" d="M436.1 367.4l8.5-3.2-6.5-2.5-8.5 2.7z"/><path fill="#1f1355" stroke-width="1.1" d="M427.6 368.7l8.5-1.3-6.5-3-8.6 2.6z"/><path fill="#24c1ae" stroke-width="2.4" d="M528 281.9l8.5-15.2-6.5-3.7-8.6 10z"/><path fill="#18addb" stroke-width="2.4" d="M519.4 297.9l8.6-16-6.6-8.9-8.5 16z"/><path fill="#2b91ef" stroke-width="2.4" d="M510.9 313l8.5-15.1-6.5-8.9-8.5 15.7z"/><path fill="#3875fe" stroke-width="2.4" d="M502.4 326.3l8.5-13.3-6.5-8.3-8.6 14.1z"/><path fill="#3f4dda" stroke-width="2.4" d="M493.9 337.8l8.5-11.5-6.6-7.5-8.5 12.5z"/><path fill="#3531ab" stroke-width="2.4" d="M485.3 347.2l8.6-9.4-6.6-6.5-8.5 10.3z"/><path fill="#2d238a" stroke-width="2.4" d="M476.8 354.7l8.5-7.5-6.5-5.6-8.6 8.7z"/><path fill="#261b70" stroke-width="2.4" d="M468.3 360l8.5-5.3-6.6-4.4-8.5 6.2z"/><path fill="#231762" stroke-width="2.0" d="M459.7 363.8l8.6-3.8-6.6-3.5-8.5 4.6z"/><path fill="#201458" stroke-width="1.6" d="M451.2 366.5l8.5-2.7-6.5-2.7-8.6 3.1z"/><path fill="#1f1355" stroke-width="1.4" d="M442.7 369.1l8.5-2.6-6.6-2.3-8.5 3.2z"/><path fill="#37c897" stroke-width="2.4" d="M543.1 275l8.5-10.1-6.6 4.7-8.5-2.9z"/><path fill="#02bac3" stroke-width="2.4" d="M534.5 290.9l8.6-15.9-6.6-8.3-8.5 15.2z"/><path fill="#23a0e5" stroke-width="2.4" d="M526 306.7l8.5-15.8-6.5-9-8.6 16z"/><path fill="#2f81fa" stroke-width="2.4" d="M517.5 320.8l8.5-14.1-6.6-8.8-8.5 15.1z"/><path fill="#425ff1" stroke-width="2.4" d="M508.9 333.4l8.6-12.6-6.6-7.8-8.5 13.3z"/><path fill="#3a3ec3" stroke-width="2.4" d="M500.4 343.7l8.5-10.3-6.5-7.1-8.5 11.5z"/><path fill="#31299a" stroke-width="2.4" d="M491.9 352.4l8.5-8.7-6.5-5.9-8.6 9.4z"/><path fill="#291f7c" stroke-width="2.4" d="M483.3 358.6l8.6-6.2-6.6-5.2-8.5 7.5z"/><path fill="#241865" stroke-width="2.2" d="M474.8 363.2l8.5-4.6-6.5-3.9-8.5 5.3z"/><path fill="#211459" stroke-width="1.8" d="M466.3 366.3l8.5-3.1-6.5-3.2-8.6 3.8z"/><path fill="#201456" stroke-width="1.9" d="M457.8 369.5l8.5-3.2-6.6-2.5-8.5 2.7z"/><path fill="#1f1355" stroke-width="1.1" d="M449.2 370.8l8.6-1.3-6.6-3-8.5 2.6z"/><path fill="#57cc7a" stroke-width="1.1" d="M558.1 268.6l8.6 2.9-6.6 5.5-8.5-12.1z"/><path fill="#24c1ae" stroke-width="2.4" d="M549.6 283.8l8.5-15.2-6.5-3.7-8.5 10.1z"/><path fill="#12b1d6" stroke-width="2.4" d="M541.1 299.9l8.5-16.1-6.5-8.8-8.6 15.9z"/><path fill="#2b91ef" stroke-width="2.4" d="M532.5 315l8.6-15.1-6.6-9-8.5 15.8z"/><path fill="#3875fe" stroke-width="2.4" d="M524 328.3l8.5-13.3-6.5-8.3-8.5 14.1z"/><path fill="#3f4dda" stroke-width="2.4" d="M515.5 339.8l8.5-11.5-6.5-7.5-8.6 12.6z"/><path fill="#3531ab" stroke-width="2.4" d="M507 349.3l8.5-9.5-6.6-6.4-8.5 10.3z"/><path fill="#2d238a" stroke-width="2.4" d="M498.4 356.8l8.6-7.5-6.6-5.6-8.5 8.7z"/><path fill="#261b70" stroke-width="2.4" d="M489.9 362.1l8.5-5.3-6.5-4.4-8.6 6.2z"/><path fill="#231762" stroke-width="2.0" d="M481.4 365.9l8.5-3.8-6.6-3.5-8.5 4.6z"/><path fill="#201458" stroke-width="1.6" d="M472.8 368.6l8.6-2.7-6.6-2.7-8.5 3.1z"/><path fill="#1f1355" stroke-width="1.4" d="M464.3 371.2l8.5-2.6-6.5-2.3-8.5 3.2z"/><path fill="#37c897" stroke-width="2.4" d="M564.7 276.9l8.5-10-6.5 4.6-8.6-2.9z"/><path fill="#02bac3" stroke-width="2.4" d="M556.2 292.9l8.5-16-6.6-8.3-8.5 15.2z"/><path fill="#23a0e5" stroke-width="2.4" d="M547.6 308.7l8.6-15.8-6.6-9.1-8.5 16.1z"/><path fill="#2f81fa" stroke-width="2.4" d="M539.1 322.8l8.5-14.1-6.5-8.8-8.6 15.1z"/><path fill="#425ff2" stroke-width="2.4" d="M530.6 335.4l8.5-12.6-6.6-7.8-8.5 13.3z"/><path fill="#3a3ec3" stroke-width="2.4" d="M522 345.8l8.6-10.4-6.6-7.1-8.5 11.5z"/><path fill="#31299a" stroke-width="2.4" d="M513.5 354.5l8.5-8.7-6.5-6-8.5 9.5z"/><path fill="#291f7c" stroke-width="2.4" d="M505 360.7l8.5-6.2-6.5-5.2-8.6 7.5z"/><path fill="#241865" stroke-width="2.2" d="M496.4 365.2l8.6-4.5-6.6-3.9-8.5 5.3z"/><path fill="#211459" stroke-width="1.8" d="M487.9 368.4l8.5-3.2-6.5-3.1-8.5 3.8z"/><path fill="#201456" stroke-width="1.9" d="M479.4 371.6l8.5-3.2-6.5-2.5-8.6 2.7z"/><path fill="#1f1355" stroke-width="1.1" d="M470.9 372.9l8.5-1.3-6.6-3-8.5 2.6z"/><path fill="#57cc7a" stroke-width="1.1" d="M579.8 270.6l8.5 2.9-6.6 5.5-8.5-12.1z"/><path fill="#24c1ae" stroke-width="2.4" d="M571.2 285.8l8.6-15.2-6.6-3.7-8.5 10z"/><path fill="#12b1d6" stroke-width="2.4" d="M562.7 301.9l8.5-16.1-6.5-8.9-8.5 16z"/><path fill="#2b91ef" stroke-width="2.4" d="M554.2 317l8.5-15.1-6.5-9-8.6 15.8z"/><path fill="#3875fe" stroke-width="2.4" d="M545.7 330.3l8.5-13.3-6.6-8.3-8.5 14.1z"/><path fill="#3f4dda" stroke-width="2.4" d="M537.1 341.9l8.6-11.6-6.6-7.5-8.5 12.6z"/><path fill="#3531ac" stroke-width="2.4" d="M528.6 351.4l8.5-9.5-6.5-6.5-8.6 10.4z"/><path fill="#2d248a" stroke-width="2.4" d="M520.1 358.9l8.5-7.5-6.6-5.6-8.5 8.7z"/><path fill="#261b70" stroke-width="2.4" d="M511.5 364.2l8.6-5.3-6.6-4.4-8.5 6.2z"/><path fill="#231762" stroke-width="2.0" d="M503 368l8.5-3.8-6.5-3.5-8.6 4.5z"/><path fill="#201458" stroke-width="1.6" d="M494.5 370.7l8.5-2.7-6.6-2.8-8.5 3.2z"/><path fill="#1f1355" stroke-width="1.4" d="M485.9 373.3l8.6-2.6-6.6-2.3-8.5 3.2z"/><path fill="#37c897" stroke-width="2.4" d="M586.3 279l8.6-10.1-6.6 4.6-8.5-2.9z"/><path fill="#02bac3" stroke-width="2.4" d="M577.8 295l8.5-16-6.5-8.4-8.6 15.2z"/><path fill="#23a0e5" stroke-width="2.4" d="M569.3 310.7l8.5-15.7-6.6-9.2-8.5 16.1z"/><path fill="#2e87f7" stroke-width="2.4" d="M560.7 324.9l8.6-14.2-6.6-8.8-8.5 15.1z"/><path fill="#425ff2" stroke-width="2.4" d="M552.2 337.5l8.5-12.6-6.5-7.9-8.5 13.3z"/><path fill="#3a3ec3" stroke-width="2.4" d="M543.7 347.8l8.5-10.3-6.5-7.2-8.6 11.6z"/><path fill="#31299a" stroke-width="2.4" d="M535.1 356.5l8.6-8.7-6.6-5.9-8.5 9.5z"/><path fill="#291f7c" stroke-width="2.4" d="M526.6 362.7l8.5-6.2-6.5-5.1-8.5 7.5z"/><path fill="#241865" stroke-width="2.2" d="M518.1 367.3l8.5-4.6-6.5-3.8-8.6 5.3z"/><path fill="#211459" stroke-width="1.8" d="M509.6 370.5l8.5-3.2-6.6-3.1-8.5 3.8z"/><path fill="#201456" stroke-width="1.9" d="M501 373.7l8.6-3.2-6.6-2.5-8.5 2.7z"/><path fill="#1f1355" stroke-width="1.1" d="M492.5 375l8.5-1.3-6.5-3-8.6 2.6z"/><path fill="#24c1ae" stroke-width="2.4" d="M592.9 287.9l8.5-15.1-6.5-3.9-8.6 10.1z"/><path fill="#12b1d6" stroke-width="2.4" d="M584.3 304l8.6-16.1-6.6-8.9-8.5 16z"/><path fill="#2b91ef" stroke-width="2.4" d="M575.8 319.1l8.5-15.1-6.5-9-8.5 15.7z"/><path fill="#3875fe" stroke-width="2.4" d="M567.3 332.4l8.5-13.3-6.5-8.4-8.6 14.2z"/><path fill="#3f4dda" stroke-width="2.4" d="M558.8 344l8.5-11.6-6.6-7.5-8.5 12.6z"/><path fill="#3635b0" stroke-width="2.4" d="M550.2 353.4l8.6-9.4-6.6-6.5-8.5 10.3z"/><path fill="#2d248a" stroke-width="2.4" d="M541.7 360.9l8.5-7.5-6.5-5.6-8.6 8.7z"/><path fill="#261b70" stroke-width="2.4" d="M533.2 366.2l8.5-5.3-6.6-4.4-8.5 6.2z"/><path fill="#231762" stroke-width="2.0" d="M524.6 370.1l8.6-3.9-6.6-3.5-8.5 4.6z"/><path fill="#201458" stroke-width="1.6" d="M516.1 372.8l8.5-2.7-6.5-2.8-8.5 3.2z"/><path fill="#1f1355" stroke-width="1.4" d="M507.6 375.4l8.5-2.6-6.5-2.3-8.6 3.2z"/><path fill="#37c897" stroke-width="2.4" d="M608 281.1l8.5-10-6.6 4.6-8.5-2.9z"/><path fill="#02bac3" stroke-width="2.4" d="M599.4 297.1l8.6-16-6.6-8.3-8.5 15.1z"/><path fill="#23a0e5" stroke-width="2.4" d="M590.9 312.9l8.5-15.8-6.5-9.2-8.6 16.1z"/><path fill="#2e87f7" stroke-width="2.4" d="M582.4 327l8.5-14.1-6.6-8.9-8.5 15.1z"/><path fill="#425ff2" stroke-width="2.4" d="M573.8 339.6l8.6-12.6-6.6-7.9-8.5 13.3z"/><path fill="#3a3ec3" stroke-width="2.4" d="M565.3 349.9l8.5-10.3-6.5-7.2-8.5 11.6z"/><path fill="#31299a" stroke-width="2.4" d="M556.8 358.6l8.5-8.7-6.5-5.9-8.6 9.4z"/><path fill="#291f7c" stroke-width="2.4" d="M548.2 364.8l8.6-6.2-6.6-5.2-8.5 7.5z"/><path fill="#241865" stroke-width="2.2" d="M539.7 369.4l8.5-4.6-6.5-3.9-8.5 5.3z"/><path fill="#211459" stroke-width="1.8" d="M531.2 372.6l8.5-3.2-6.5-3.2-8.6 3.9z"/><path fill="#201456" stroke-width="1.9" d="M522.7 375.8l8.5-3.2-6.6-2.5-8.5 2.7z"/><path fill="#1f1355" stroke-width="1.1" d="M514.1 377.1l8.6-1.3-6.6-3-8.5 2.6z"/><path fill="#57cc7a" stroke-width="1.1" d="M623 274.9l8.6 2.9-6.6 5.4-8.5-12.1z"/><path fill="#24c1ae" stroke-width="2.4" d="M614.5 290.1l8.5-15.2-6.5-3.8-8.5 10z"/><path fill="#12b1d6" stroke-width="2.4" d="M606 306.1l8.5-16-6.5-9-8.6 16z"/><path fill="#2b91ef" stroke-width="2.4" d="M597.4 321.2l8.6-15.1-6.6-9-8.5 15.8z"/><path fill="#3875fe" stroke-width="2.4" d="M588.9 334.5l8.5-13.3-6.5-8.3-8.5 14.1z"/><path fill="#3f4dda" stroke-width="2.4" d="M580.4 346l8.5-11.5-6.5-7.5-8.6 12.6z"/><path fill="#3635b0" stroke-width="2.4" d="M571.9 355.5l8.5-9.5-6.6-6.4-8.5 10.3z"/><path fill="#2d248a" stroke-width="2.4" d="M563.3 363l8.6-7.5-6.6-5.6-8.5 8.7z"/><path fill="#261b70" stroke-width="2.4" d="M554.8 368.3l8.5-5.3-6.5-4.4-8.6 6.2z"/><path fill="#231762" stroke-width="2.0" d="M546.3 372.2l8.5-3.9-6.6-3.5-8.5 4.6z"/><path fill="#201458" stroke-width="1.6" d="M537.7 374.9l8.6-2.7-6.6-2.8-8.5 3.2z"/><path fill="#1f1355" stroke-width="1.4" d="M529.2 377.5l8.5-2.6-6.5-2.3-8.5 3.2z"/><path fill="#37c897" stroke-width="2.4" d="M629.6 283.2l8.5-10-6.5 4.6-8.6-2.9z"/><path fill="#02bac3" stroke-width="2.4" d="M621.1 299.2l8.5-16-6.6-8.3-8.5 15.2z"/><path fill="#23a0e5" stroke-width="2.4" d="M612.5 315l8.6-15.8-6.6-9.1-8.5 16z"/><path fill="#2f81fa" stroke-width="2.4" d="M604 329.1l8.5-14.1-6.5-8.9-8.6 15.1z"/><path fill="#425ff2" stroke-width="2.4" d="M595.5 341.7l8.5-12.6-6.6-7.9-8.5 13.3z"/><path fill="#3a3ec3" stroke-width="2.4" d="M586.9 352l8.6-10.3-6.6-7.2-8.5 11.5z"/><path fill="#31299a" stroke-width="2.4" d="M578.4 360.7l8.5-8.7-6.5-6-8.5 9.5z"/><path fill="#291f7c" stroke-width="2.4" d="M569.9 366.9l8.5-6.2-6.5-5.2-8.6 7.5z"/><path fill="#241865" stroke-width="2.2" d="M561.4 371.5l8.5-4.6-6.6-3.9-8.5 5.3z"/><path fill="#211459" stroke-width="1.8" d="M552.8 374.7l8.6-3.2-6.6-3.2-8.5 3.9z"/><path fill="#201456" stroke-width="1.9" d="M544.3 377.9l8.5-3.2-6.5-2.5-8.6 2.7z"/><path fill="#1f1355" stroke-width="1.1" d="M535.8 379.2l8.5-1.3-6.6-3-8.5 2.6z"/><path fill="#57cc7a" stroke-width="1.1" d="M644.7 276.7l8.5 2.7-6.5 5.7-8.6-11.9z"/><path fill="#24c1ae" stroke-width="2.4" d="M636.1 292l8.6-15.3-6.6-3.5-8.5 10z"/><path fill="#12b1d6" stroke-width="2.4" d="M627.6 308.1l8.5-16.1-6.5-8.8-8.5 16z"/><path fill="#2b91ef" stroke-width="2.4" d="M619.1 323.2l8.5-15.1-6.5-8.9-8.6 15.8z"/><path fill="#3875fe" stroke-width="2.4" d="M610.6 336.6l8.5-13.4-6.6-8.2-8.5 14.1z"/><path fill="#3f4dda" stroke-width="2.4" d="M602 348.1l8.6-11.5-6.6-7.5-8.5 12.6z"/><path fill="#3635b0" stroke-width="2.4" d="M593.5 357.6l8.5-9.5-6.5-6.4-8.6 10.3z"/><path fill="#2d248a" stroke-width="2.4" d="M585 365.1l8.5-7.5-6.6-5.6-8.5 8.7z"/><path fill="#261b70" stroke-width="2.4" d="M576.4 370.4l8.6-5.3-6.6-4.4-8.5 6.2z"/><path fill="#231762" stroke-width="2.0" d="M567.9 374.3l8.5-3.9-6.5-3.5-8.5 4.6z"/><path fill="#201458" stroke-width="1.6" d="M559.4 377l8.5-2.7-6.5-2.8-8.6 3.2z"/><path fill="#1f1355" stroke-width="1.4" d="M550.8 379.6l8.6-2.6-6.6-2.3-8.5 3.2z"/><path fill="#3fca8e" stroke-width="2.4" d="M651.2 284.6l8.6-10.4-6.6 5.2-8.5-2.7z"/><path fill="#02bac3" stroke-width="2.4" d="M642.7 300.9l8.5-16.3-6.5-7.9-8.6 15.3z"/><path fill="#23a0e5" stroke-width="2.4" d="M634.2 316.8l8.5-15.9-6.6-8.9-8.5 16.1z"/><path fill="#2e87f7" stroke-width="2.4" d="M625.6 331l8.6-14.2-6.6-8.7-8.5 15.1z"/><path fill="#425ff2" stroke-width="2.4" d="M617.1 343.7l8.5-12.7-6.5-7.8-8.5 13.4z"/><path fill="#3a3ec3" stroke-width="2.4" d="M608.6 354.1l8.5-10.4-6.5-7.1-8.6 11.5z"/><path fill="#31299a" stroke-width="2.4" d="M600 362.8l8.6-8.7-6.6-6-8.5 9.5z"/><path fill="#291f7d" stroke-width="2.4" d="M591.5 369l8.5-6.2-6.5-5.2-8.5 7.5z"/><path fill="#241865" stroke-width="2.2" d="M583 373.6l8.5-4.6-6.5-3.9-8.6 5.3z"/><path fill="#211459" stroke-width="1.8" d="M574.5 376.8l8.5-3.2-6.6-3.2-8.5 3.9z"/><path fill="#201456" stroke-width="1.9" d="M565.9 380l8.6-3.2-6.6-2.5-8.5 2.7z"/><path fill="#1f1355" stroke-width="1.1" d="M557.4 381.3l8.5-1.3-6.5-3-8.6 2.6z"/><path fill="#57cc7a" stroke-width="1.1" d="M666.3 276.7l8.5 1.6-6.5 7.4-8.5-11.5z"/><path fill="#2cc4a7" stroke-width="2.4" d="M657.8 292.8l8.5-16.1-6.5-2.5-8.6 10.4z"/><path fill="#12b1d6" stroke-width="2.4" d="M649.2 309.4l8.6-16.6-6.6-8.2-8.5 16.3z"/><path fill="#2797eb" stroke-width="2.4" d="M640.7 324.8l8.5-15.4-6.5-8.5-8.5 15.9z"/><path fill="#3875fe" stroke-width="2.4" d="M632.2 338.4l8.5-13.6-6.5-8-8.6 14.2z"/><path fill="#3f4edb" stroke-width="2.4" d="M623.7 350.1l8.5-11.7-6.6-7.4-8.5 12.7z"/><path fill="#3635b0" stroke-width="2.4" d="M615.1 359.6l8.6-9.5-6.6-6.4-8.5 10.4z"/><path fill="#2d248b" stroke-width="2.4" d="M606.6 367.2l8.5-7.6-6.5-5.5-8.6 8.7z"/><path fill="#261b70" stroke-width="2.4" d="M598.1 372.5l8.5-5.3-6.6-4.4-8.5 6.2z"/><path fill="#231762" stroke-width="2.0" d="M589.5 376.4l8.6-3.9-6.6-3.5-8.5 4.6z"/><path fill="#201458" stroke-width="1.6" d="M581 379.1l8.5-2.7-6.5-2.8-8.5 3.2z"/><path fill="#1f1355" stroke-width="1.4" d="M572.5 381.7l8.5-2.6-6.5-2.3-8.6 3.2z"/><path fill="#4acb84" stroke-width="2.4" d="M672.9 282.6l8.5-12.6-6.6 8.3-8.5-1.6z"/><path fill="#0bbdbd" stroke-width="2.4" d="M664.3 300.5l8.6-17.9-6.6-5.9-8.5 16.1z"/><path fill="#20a5e3" stroke-width="2.4" d="M655.8 317.5l8.5-17-6.5-7.7-8.6 16.6z"/><path fill="#2e87f7" stroke-width="2.4" d="M647.3 332.3l8.5-14.8-6.6-8.1-8.5 15.4z"/><path fill="#4066f5" stroke-width="2.4" d="M638.7 345.3l8.6-13-6.6-7.5-8.5 13.6z"/><path fill="#3b3fc4" stroke-width="2.4" d="M630.2 355.9l8.5-10.6-6.5-6.9-8.5 11.7z"/><path fill="#312a9a" stroke-width="2.4" d="M621.7 364.7l8.5-8.8-6.5-5.8-8.6 9.5z"/><path fill="#2a1f7d" stroke-width="2.4" d="M613.1 371l8.6-6.3-6.6-5.1-8.5 7.6z"/><path fill="#241865" stroke-width="2.2" d="M604.6 375.7l8.5-4.7-6.5-3.8-8.5 5.3z"/><path fill="#211459" stroke-width="1.8" d="M596.1 378.9l8.5-3.2-6.5-3.2-8.6 3.9z"/><path fill="#201456" stroke-width="1.9" d="M587.6 382.1l8.5-3.2-6.6-2.5-8.5 2.7z"/><path fill="#1f1355" stroke-width="1.1" d="M579 383.4l8.6-1.3-6.6-3-8.5 2.6z"/><path fill="#3fca8e" stroke-width="2.4" d="M679.4 286.2l8.5-23.7-6.5 7.5-8.5 12.6z"/><path fill="#01b8ca" stroke-width="2.4" d="M670.9 307.2l8.5-21-6.5-3.6-8.6 17.9z"/><path fill="#259be8" stroke-width="2.4" d="M662.4 324.5l8.5-17.3-6.6-6.7-8.5 17z"/><path fill="#327cfc" stroke-width="2.4" d="M653.8 339.2l8.6-14.7-6.6-7-8.5 14.8z"/><path fill="#3f54e0" stroke-width="2.4" d="M645.3 351.5l8.5-12.3-6.5-6.9-8.6 13z"/><path fill="#3636b2" stroke-width="2.4" d="M636.8 361.4l8.5-9.9-6.6-6.2-8.5 10.6z"/><path fill="#2d248b" stroke-width="2.4" d="M628.2 369.1l8.6-7.7-6.6-5.5-8.5 8.8z"/><path fill="#271b70" stroke-width="2.4" d="M619.7 374.5l8.5-5.4-6.5-4.4-8.6 6.3z"/><path fill="#231762" stroke-width="2.0" d="M611.2 378.4l8.5-3.9-6.6-3.5-8.5 4.7z"/><path fill="#201458" stroke-width="1.6" d="M602.6 381.2l8.6-2.8-6.6-2.7-8.5 3.2z"/><path fill="#1f1356" stroke-width="1.4" d="M594.1 383.8l8.5-2.6-6.5-2.3-8.5 3.2z"/><path fill="#8fcb4e" stroke-width="2.2" d="M694.5 268.9l8.5 0.3-6.5-9.8-8.6 3.1z"/><path fill="#4acb84" stroke-width="2.3" d="M686 286.6l8.5-17.7-6.6-6.4-8.5 23.7z"/><path fill="#08b5d0" stroke-width="2.4" d="M677.4 309.9l8.6-23.3-6.6-0.4-8.5 21z"/><path fill="#2b91ef" stroke-width="2.4" d="M668.9 329.9l8.5-20-6.5-2.7-8.5 17.3z"/><path fill="#3e6ffe" stroke-width="2.4" d="M660.4 345.4l8.5-15.5-6.5-5.4-8.6 14.7z"/><path fill="#3c45cc" stroke-width="2.4" d="M651.8 357l8.6-11.6-6.6-6.2-8.5 12.3z"/><path fill="#312a9c" stroke-width="2.4" d="M643.3 366.3l8.5-9.3-6.5-5.5-8.5 9.9z"/><path fill="#2a1f7e" stroke-width="2.4" d="M634.8 372.8l8.5-6.5-6.5-4.9-8.6 7.7z"/><path fill="#241866" stroke-width="2.2" d="M626.3 377.6l8.5-4.8-6.6-3.7-8.5 5.4z"/><path fill="#21145a" stroke-width="1.8" d="M617.7 380.9l8.6-3.3-6.6-3.1-8.5 3.9z"/><path fill="#201457" stroke-width="2.0" d="M609.2 384.2l8.5-3.3-6.5-2.5-8.6 2.8z"/><path fill="#1f1355" stroke-width="1.1" d="M600.7 385.5l8.5-1.3-6.6-3-8.5 2.6z"/><path fill="#201458" stroke-width="1.1" d="M803.4 356l8.5 0.1-6.5-1.7-8.5 1.3z"/><path fill="#3fca8e" stroke-width="2.4" d="M709.6 287.6l8.5-13.1-6.5 14.6-8.6-19.9z"/><path fill="#19bfb6" stroke-width="2.4" d="M701 301.5l8.6-13.9-6.6-18.4-8.5-0.3z"/><path fill="#01b8ca" stroke-width="2.4" d="M692.5 309l8.5-7.5-6.5-32.6-8.5 17.7z"/><path fill="#1ca9df" stroke-width="2.4" d="M684 318.8l8.5-9.8-6.5-22.4-8.6 23.3z"/><path fill="#2d8cf3" stroke-width="2.4" d="M675.5 333.8l8.5-15-6.6-8.9-8.5 20z"/><path fill="#425ff2" stroke-width="2.4" d="M666.9 349.5l8.6-15.7-6.6-3.9-8.5 15.5z"/><path fill="#3838b8" stroke-width="2.4" d="M658.4 361.8l8.5-12.3-6.5-4.1-8.6 11.6z"/><path fill="#2e248e" stroke-width="2.4" d="M649.9 370.5l8.5-8.7-6.6-4.8-8.5 9.3z"/><path fill="#271b71" stroke-width="2.4" d="M641.3 376.2l8.6-5.7-6.6-4.2-8.5 6.5z"/><path fill="#231763" stroke-width="2.0" d="M632.8 380.3l8.5-4.1-6.5-3.4-8.5 4.8z"/><path fill="#201458" stroke-width="1.6" d="M624.3 383.2l8.5-2.9-6.5-2.7-8.6 3.3z"/><path fill="#1f1456" stroke-width="1.4" d="M615.7 385.9l8.6-2.7-6.6-2.3-8.5 3.3z"/><path fill="#201458" stroke-width="1.1" d="M810 357.5l8.5 0.3-6.6-1.7-8.5-0.1z"/><path fill="#231763" stroke-width="1.1" d="M801.4 357.2l8.6 0.3-6.6-1.5-8.5-0.1z"/><path fill="#72cd64" stroke-width="1.3" d="M716.1 275.6l8.6-32.9-6.6 31.8-8.5 13.1z"/><path fill="#02bac3" stroke-width="2.4" d="M707.6 307.3l8.5-31.7-6.5 12-8.6 13.9z"/><path fill="#2b91ef" stroke-width="2.4" d="M699.1 329.9l8.5-22.6-6.6-5.8-8.5 7.5z"/><path fill="#327cfc" stroke-width="2.4" d="M690.5 341.6l8.6-11.7-6.6-20.9-8.5 9.8z"/><path fill="#4167f9" stroke-width="2.4" d="M682 348.6l8.5-7-6.5-22.8-8.5 15z"/><path fill="#3f4dda" stroke-width="2.4" d="M673.5 356.3l8.5-7.7-6.5-14.8-8.6 15.7z"/><path fill="#3531ab" stroke-width="2.4" d="M664.9 365.9l8.6-9.6-6.6-6.8-8.5 12.3z"/><path fill="#2b2082" stroke-width="2.4" d="M656.4 373.7l8.5-7.8-6.5-4.1-8.5 8.7z"/><path fill="#261a6d" stroke-width="2.3" d="M647.9 379.2l8.5-5.5-6.5-3.2-8.6 5.7z"/><path fill="#21155a" stroke-width="1.8" d="M639.4 382.8l8.5-3.6-6.6-3-8.5 4.1z"/><path fill="#201457" stroke-width="2.0" d="M630.8 386.3l8.6-3.5-6.6-2.5-8.5 2.9z"/><path fill="#1f1355" stroke-width="1.1" d="M622.3 387.6l8.5-1.3-6.5-3.1-8.6 2.7z"/><path fill="#211459" stroke-width="1.1" d="M816.5 359.1l8.5 0.4-6.5-1.7-8.5-0.3z"/><path fill="#231764" stroke-width="1.1" d="M808 358.7l8.5 0.4-6.5-1.6-8.6-0.3z"/><path fill="#8fcb4e" stroke-width="2.0" d="M722.7 269.1l8.5-42.4-6.5 16-8.6 32.9z"/><path fill="#19bfb6" stroke-width="2.2" d="M714.1 305.1l8.6-36-6.6 6.5-8.5 31.7z"/><path fill="#2b91ef" stroke-width="2.4" d="M705.6 331.5l8.5-26.4-6.5 2.2-8.5 22.6z"/><path fill="#4166f7" stroke-width="2.4" d="M697.1 349.4l8.5-17.9-6.5-1.6-8.6 11.7z"/><path fill="#3a3dc1" stroke-width="2.4" d="M688.6 361.4l8.5-12-6.6-7.8-8.5 7z"/><path fill="#332fa4" stroke-width="2.4" d="M680 368.2l8.6-6.8-6.6-12.8-8.5 7.7z"/><path fill="#2d248c" stroke-width="2.4" d="M671.5 373.1l8.5-4.9-6.5-11.9-8.6 9.6z"/><path fill="#281c74" stroke-width="2.4" d="M663 377.6l8.5-4.5-6.6-7.2-8.5 7.8z"/><path fill="#241765" stroke-width="2.0" d="M654.4 381.8l8.6-4.2-6.6-3.9-8.5 5.5z"/><path fill="#211459" stroke-width="1.7" d="M645.9 385l8.5-3.2-6.5-2.6-8.5 3.6z"/><path fill="#201456" stroke-width="1.5" d="M637.4 388l8.5-3-6.5-2.2-8.6 3.5z"/><path fill="#211459" stroke-width="1.1" d="M823.1 360.8l8.5 0.4-6.6-1.7-8.5-0.4z"/><path fill="#231764" stroke-width="1.1" d="M814.5 360.4l8.6 0.4-6.6-1.7-8.5-0.4z"/><path fill="#281c73" stroke-width="1.1" d="M806 358.7l8.5 1.7-6.5-1.7-8.6-1.9z"/><path fill="#dcbd29" stroke-width="2.4" d="M737.8 241.6l8.5-14.9-6.6-15.6-8.5 15.6z"/><path fill="#81cc59" stroke-width="2.4" d="M729.2 276.2l8.6-34.6-6.6-14.9-8.5 42.4z"/><path fill="#0bbdbd" stroke-width="2.4" d="M720.7 309.5l8.5-33.3-6.5-7.1-8.6 36z"/><path fill="#2b91ef" stroke-width="2.4" d="M712.2 334.6l8.5-25.1-6.6-4.4-8.5 26.4z"/><path fill="#425ff1" stroke-width="2.4" d="M703.6 352.3l8.6-17.7-6.6-3.1-8.5 17.9z"/><path fill="#3837b7" stroke-width="2.4" d="M695.1 364.7l8.5-12.4-6.5-2.9-8.5 12z"/><path fill="#2d248c" stroke-width="2.4" d="M686.6 373.3l8.5-8.6-6.5-3.3-8.6 6.8z"/><path fill="#271b71" stroke-width="2.4" d="M678 378.9l8.6-5.6-6.6-5.1-8.5 4.9z"/><path fill="#231764" stroke-width="2.4" d="M669.5 382.4l8.5-3.5-6.5-5.8-8.5 4.5z"/><path fill="#21145a" stroke-width="1.9" d="M661 384.9l8.5-2.5-6.5-4.8-8.6 4.2z"/><path fill="#201457" stroke-width="2.1" d="M652.5 388.4l8.5-3.5-6.6-3.1-8.5 3.2z"/><path fill="#1f1355" stroke-width="1.1" d="M643.9 389.7l8.6-1.3-6.6-3.4-8.5 3z"/><path fill="#211459" stroke-width="1.1" d="M829.6 362.5l8.5 0.4-6.5-1.7-8.5-0.4z"/><path fill="#231764" stroke-width="1.1" d="M821.1 362.2l8.5 0.3-6.5-1.7-8.6-0.4z"/><path fill="#271c72" stroke-width="1.1" d="M812.6 360.7l8.5 1.5-6.6-1.8-8.5-1.7z"/><path fill="#72cd64" stroke-width="1.2" d="M761.4 279.8l8.5 23.9-6.5-18.4-8.6-34.1z"/><path fill="#9dc943" stroke-width="2.4" d="M752.8 267.4l8.6 12.4-6.6-28.6-8.5-24.5z"/><path fill="#81cc59" stroke-width="2.4" d="M744.3 279l8.5-11.6-6.5-40.7-8.5 14.9z"/><path fill="#31c69f" stroke-width="2.4" d="M735.8 299.4l8.5-20.4-6.5-37.4-8.6 34.6z"/><path fill="#18addb" stroke-width="2.4" d="M727.3 321l8.5-21.6-6.6-23.2-8.5 33.3z"/><path fill="#2e87f7" stroke-width="2.4" d="M718.7 340.5l8.6-19.5-6.6-11.5-8.5 25.1z"/><path fill="#4056e5" stroke-width="2.4" d="M710.2 356.5l8.5-16-6.5-5.9-8.6 17.7z"/><path fill="#3635b0" stroke-width="2.4" d="M701.7 368.1l8.5-11.6-6.6-4.2-8.5 12.4z"/><path fill="#2b2082" stroke-width="2.4" d="M693.1 376.1l8.6-8-6.6-3.4-8.5 8.6z"/><path fill="#261b6e" stroke-width="2.1" d="M684.6 381.5l8.5-5.4-6.5-2.8-8.6 5.6z"/><path fill="#221761" stroke-width="1.9" d="M676.1 385.1l8.5-3.6-6.6-2.6-8.5 3.5z"/><path fill="#201457" stroke-width="2.3" d="M667.5 388.8l8.6-3.7-6.6-2.7-8.5 2.5z"/><path fill="#1f1456" stroke-width="1.1" d="M659 390.1l8.5-1.3-6.5-3.9-8.5 3.5z"/><path fill="#201459" stroke-width="1.1" d="M836.2 364.3l8.5 0.3-6.6-1.7-8.5-0.4z"/><path fill="#231763" stroke-width="1.1" d="M827.6 364.1l8.6 0.2-6.6-1.8-8.5-0.3z"/><path fill="#271b71" stroke-width="1.1" d="M819.1 362.9l8.5 1.2-6.5-1.9-8.5-1.5z"/><path fill="#2d248b" stroke-width="1.1" d="M810.6 360.2l8.5 2.7-6.5-2.2-8.6-3.4z"/><path fill="#23a0e5" stroke-width="1.3" d="M776.5 322.4l8.5 14.5-6.6-11.9-8.5-21.3z"/><path fill="#0bbdbd" stroke-width="1.8" d="M767.9 307.1l8.6 15.3-6.6-18.7-8.5-23.9z"/><path fill="#19bfb6" stroke-width="2.4" d="M759.4 305l8.5 2.1-6.5-27.3-8.6-12.4z"/><path fill="#02bac3" stroke-width="2.4" d="M750.9 312.3l8.5-7.3-6.6-37.6-8.5 11.6z"/><path fill="#1ca9df" stroke-width="2.4" d="M742.3 324.9l8.6-12.6-6.6-33.3-8.5 20.4z"/><path fill="#2d8cf3" stroke-width="2.4" d="M733.8 338.8l8.5-13.9-6.5-25.5-8.5 21.6z"/><path fill="#3e6fff" stroke-width="2.4" d="M725.3 351.6l8.5-12.8-6.5-17.8-8.6 19.5z"/><path fill="#3d46ce" stroke-width="2.4" d="M716.7 362.5l8.6-10.9-6.6-11.1-8.5 16z"/><path fill="#322a9e" stroke-width="2.4" d="M708.2 372.1l8.5-9.6-6.5-6-8.5 11.6z"/><path fill="#2a1f7e" stroke-width="2.4" d="M699.7 379.1l8.5-7-6.5-4-8.6 8z"/><path fill="#241866" stroke-width="2.1" d="M691.2 384l8.5-4.9-6.6-3-8.5 5.4z"/><path fill="#211459" stroke-width="1.7" d="M682.6 387.2l8.6-3.2-6.6-2.5-8.5 3.6z"/><path fill="#201457" stroke-width="1.5" d="M674.1 390.5l8.5-3.3-6.5-2.1-8.6 3.7z"/><path fill="#201458" stroke-width="1.1" d="M842.7 366.1l8.5 0.2-6.5-1.7-8.5-0.3z"/><path fill="#231762" stroke-width="1.1" d="M834.2 366.2l8.5-0.1-6.5-1.8-8.6-0.2z"/><path fill="#261b6f" stroke-width="1.1" d="M825.7 365.4l8.5 0.8-6.6-2.1-8.5-1.2z"/><path fill="#2a2080" stroke-width="1.1" d="M817.1 363.4l8.6 2-6.6-2.5-8.5-2.7z"/><path fill="#322a9d" stroke-width="1.1" d="M808.6 359.9l8.5 3.5-6.5-3.2-8.6-4.8z"/><path fill="#3a3ec4" stroke-width="1.1" d="M800.1 354.5l8.5 5.4-6.6-4.5-8.5-7.4z"/><path fill="#425ff2" stroke-width="1.2" d="M791.5 347l8.6 7.5-6.6-6.5-8.5-11.1z"/><path fill="#2f81fa" stroke-width="1.7" d="M783 338l8.5 9-6.5-10.1-8.5-14.5z"/><path fill="#2797eb" stroke-width="2.4" d="M774.5 331.2l8.5 6.8-6.5-15.6-8.6-15.3zM765.9 332.2l8.6-1-6.6-24.1-8.5-2.1z"/><path fill="#2d8cf3" stroke-width="2.4" d="M757.4 337.2l8.5-5-6.5-27.2-8.5 7.3z"/><path fill="#327cfc" stroke-width="2.4" d="M748.9 345.2l8.5-8-6.5-24.9-8.6 12.6z"/><path fill="#4066f5" stroke-width="2.4" d="M740.4 354l8.5-8.8-6.6-20.3-8.5 13.9z"/><path fill="#3d46cf" stroke-width="2.4" d="M731.8 362.8l8.6-8.8-6.6-15.2-8.5 12.8z"/><path fill="#3530aa" stroke-width="2.4" d="M723.3 370.8l8.5-8-6.5-11.2-8.6 10.9z"/><path fill="#2d248c" stroke-width="2.4" d="M714.8 377.4l8.5-6.6-6.6-8.3-8.5 9.6z"/><path fill="#271c72" stroke-width="2.4" d="M706.2 382.5l8.6-5.1-6.6-5.3-8.5 7z"/><path fill="#231763" stroke-width="1.9" d="M697.7 386.4l8.5-3.9-6.5-3.4-8.5 4.9z"/><path fill="#201458" stroke-width="1.6" d="M689.2 389.3l8.5-2.9-6.5-2.4-8.6 3.2z"/><path fill="#201456" stroke-width="1.4" d="M680.6 392.2l8.6-2.9-6.6-2.1-8.5 3.3z"/><path fill="#201458" stroke-width="1.1" d="M849.3 367.9l8.5 0.1-6.6-1.7-8.5-0.2z"/><path fill="#221761" stroke-width="1.1" d="M840.7 368.1l8.6-0.2-6.6-1.8-8.5 0.1z"/><path fill="#241866" stroke-width="1.1" d="M832.2 367.8l8.5 0.3-6.5-1.9-8.5-0.8z"/><path fill="#281c74" stroke-width="1.1" d="M823.7 366.5l8.5 1.3-6.5-2.4-8.6-2z"/><path fill="#2e248e" stroke-width="1.1" d="M815.1 364.2l8.6 2.3-6.6-3.1-8.5-3.5z"/><path fill="#3531ab" stroke-width="1.1" d="M806.6 360.4l8.5 3.8-6.5-4.3-8.5-5.4z"/><path fill="#3d46d0" stroke-width="1.4" d="M798.1 355.3l8.5 5.1-6.5-5.9-8.6-7.5z"/><path fill="#4066f5" stroke-width="1.7" d="M789.6 349.3l8.5 6-6.6-8.3-8.5-9z"/><path fill="#3e6ffe" stroke-width="2.4" d="M781 348.6l8.6 0.7-6.6-11.3-8.5-6.8z"/><path fill="#4167f9" stroke-width="2.4" d="M772.5 350.9l8.5-2.3-6.5-17.4-8.6 1z"/><path fill="#415ded" stroke-width="2.4" d="M764 354.9l8.5-4-6.6-18.7-8.5 5z"/><path fill="#3f4dda" stroke-width="2.4" d="M755.4 360l8.6-5.1-6.6-17.7-8.5 8z"/><path fill="#3a3ec1" stroke-width="2.4" d="M746.9 366l8.5-6-6.5-14.8-8.5 8.8z"/><path fill="#342fa7" stroke-width="2.4" d="M738.4 372l8.5-6-6.5-12-8.6 8.8z"/><path fill="#2d248c" stroke-width="2.4" d="M729.8 377.7l8.6-5.7-6.6-9.2-8.5 8z"/><path fill="#281c73" stroke-width="2.4" d="M721.3 382.4l8.5-4.7-6.5-6.9-8.5 6.6z"/><path fill="#241865" stroke-width="2.3" d="M712.8 386.2l8.5-3.8-6.5-5-8.6 5.1z"/><path fill="#21145a" stroke-width="1.8" d="M704.3 389.1l8.5-2.9-6.6-3.7-8.5 3.9z"/><path fill="#201457" stroke-width="2.1" d="M695.7 392.6l8.6-3.5-6.6-2.7-8.5 2.9z"/><path fill="#1f1355" stroke-width="1.1" d="M687.2 393.9l8.5-1.3-6.5-3.3-8.6 2.9z"/><path fill="#201458" stroke-width="1.1" d="M855.8 369.7l8.6 0-6.6-1.7-8.5-0.1z"/><path fill="#221761" stroke-width="1.1" d="M847.3 370l8.5-0.3-6.5-1.8-8.6 0.2z"/><path fill="#241765" stroke-width="1.1" d="M838.8 369.9l8.5 0.1-6.6-1.9-8.5-0.3z"/><path fill="#271b71" stroke-width="1.1" d="M830.2 369.3l8.6 0.6-6.6-2.1-8.5-1.3z"/><path fill="#2b2080" stroke-width="1.1" d="M821.7 367.9l8.5 1.4-6.5-2.8-8.6-2.3z"/><path fill="#302999" stroke-width="1.3" d="M813.2 365.6l8.5 2.3-6.6-3.7-8.5-3.8z"/><path fill="#3736b4" stroke-width="1.5" d="M804.6 362.3l8.6 3.3-6.6-5.2-8.5-5.1z"/><path fill="#3b44c9" stroke-width="2.3" d="M796.1 359.9l8.5 2.4-6.5-7-8.5-6z"/><path fill="#3b44ca" stroke-width="2.4" d="M787.6 360.9l8.5-1-6.5-10.6-8.6-0.7z"/><path fill="#3a3ec3" stroke-width="2.4" d="M779 363.2l8.6-2.3-6.6-12.3-8.5 2.3z"/><path fill="#3837b7" stroke-width="2.4" d="M770.5 366.5l8.5-3.3-6.5-12.3-8.5 4z"/><path fill="#3430a9" stroke-width="2.4" d="M762 370.5l8.5-4-6.5-11.6-8.6 5.1z"/><path fill="#302999" stroke-width="2.4" d="M753.5 374.8l8.5-4.3-6.6-10.5-8.5 6z"/><path fill="#2b2082" stroke-width="2.4" d="M744.9 379l8.6-4.2-6.6-8.8-8.5 6z"/><path fill="#271c72" stroke-width="2.4" d="M736.4 383l8.5-4-6.5-7-8.6 5.7z"/><path fill="#241866" stroke-width="2.3" d="M727.9 386.5l8.5-3.5-6.6-5.3-8.5 4.7z"/><path fill="#221761" stroke-width="1.9" d="M719.3 389.3l8.6-2.8-6.6-4.1-8.5 3.8z"/><path fill="#201458" stroke-width="1.6" d="M710.8 391.6l8.5-2.3-6.5-3.1-8.5 2.9z"/><path fill="#201456" stroke-width="1.4" d="M702.3 394.3l8.5-2.7-6.5-2.5-8.6 3.5z"/></g>
<text transform="translate(134.2 348) scale(1.18 1)" font-size="20" text-anchor="end" font-weight="normal" fill="#404040" stroke="#404040" stroke-width="0.1" >0</text>
<text transform="translate(134.2 286.4) scale(1.18 1)" font-size="20" text-anchor="end" font-weight="normal" fill="#404040" stroke="#404040" stroke-width="0.1" >0.5</text>
<text transform="translate(134.2 224.9) scale(1.18 1)" font-size="20" text-anchor="end" font-weight="normal" fill="#404040" stroke="#404040" stroke-width="0.1" >1</text>
<text transform="translate(134.2 163.3) scale(1.18 1)" font-size="20" text-anchor="end" font-weight="normal" fill="#404040" stroke="#404040" stroke-width="0.1" >1.5</text>
<text transform="translate(460.9 453.7) scale(1.18 1)" font-size="20" text-anchor="end" font-weight="normal" fill="#404040" stroke="#404040" stroke-width="0.1" >-10</text>
<text transform="translate(379 432.5) scale(1.18 1)" font-size="20" text-anchor="end" font-weight="normal" fill="#404040" stroke="#404040" stroke-width="0.1" >-5</text>
<text transform="translate(297.1 411.3) scale(1.18 1)" font-size="20" text-anchor="end" font-weight="normal" fill="#404040" stroke="#404040" stroke-width="0.1" >0</text>
<text transform="translate(215.2 390.1) scale(1.18 1)" font-size="20" text-anchor="end" font-weight="normal" fill="#404040" stroke="#404040" stroke-width="0.1" >5</text>
<text transform="translate(133.3 368.9) scale(1.18 1)" font-size="20" text-anchor="end" font-weight="normal" fill="#404040" stroke="#404040" stroke-width="0.1" >10</text>
<text transform="translate(500.5 455.6) scale(1.18 1)" font-size="20" text-anchor="start" font-weight="normal" fill="#404040" stroke="#404040" stroke-width="0.1" >-10</text>
<text transform="translate(607.1 439.4) scale(1.18 1)" font-size="20" text-anchor="start" font-weight="normal" fill="#404040" stroke="#404040" stroke-width="0.1" >-5</text>
<text transform="translate(713.8 423.2) scale(1.18 1)" font-size="20" text-anchor="start" font-weight="normal" fill="#404040" stroke="#404040" stroke-width="0.1" >0</text>
<text transform="translate(820.4 407.1) scale(1.18 1)" font-size="20" text-anchor="start" font-weight="normal" fill="#404040" stroke="#404040" stroke-width="0.1" >5</text>
<text transform="translate(927 390.9) scale(1.18 1)" font-size="20" text-anchor="start" font-weight="normal" fill="#404040" stroke="#404040" stroke-width="0.1" >10</text>
<text transform="translate(318.5 468.3) scale(1.18 1)" font-size="22" text-anchor="middle" font-weight="normal" fill="#404040" stroke="#404040" stroke-width="0.1" >y</text>
<text transform="translate(667 474.6) scale(1.18 1)" font-size="22" text-anchor="middle" font-weight="normal" fill="#404040" stroke="#404040" stroke-width="0.1" >x</text>
<text transform="translate(75.5 252.2) rotate(-90) scale(1 1.18)" font-size="22" text-anchor="middle" fill="#404040" textLength="39.5" lengthAdjust="spacing">|<tspan font-family="'Liberation Serif', 'DejaVu Serif', serif" font-style="italic" font-size="23" fill="#6a6a6a">ψ</tspan><tspan font-size="16" dy="7.5">2</tspan><tspan dy="-7.5">|</tspan></text>
<text transform="translate(325 72.5) scale(1.18 1)" font-size="22" font-weight="bold" fill="#000" textLength="298.0" lengthAdjust="spacingAndGlyphs">Numerical representation of</text>
<text transform="translate(685.6 72.5) scale(1.18 1)" font-size="22" font-weight="bold" fill="#000" textLength="40.6" lengthAdjust="spacing">|<tspan font-family="'Liberation Serif', 'DejaVu Serif', serif" font-style="italic" font-weight="normal" font-size="25">ψ</tspan><tspan font-size="16" dy="9.3">2</tspan><tspan dy="-9.3">|</tspan></text>
<rect x="366.3" y="146" width="111.7" height="43.7" rx="3" fill="none" stroke="#505050" stroke-width="2.2"/>
<text x="377.8" y="176" font-size="20.5" fill="#000" textLength="71.5" lengthAdjust="spacingAndGlyphs">At t = 1</text>
<path d="M1152.4 343.1L1152.4 158.4M1259 326.9L1259 142.2M1365.7 310.8L1365.7 126.1M1472.3 294.6L1472.3 109.9M1578.9 278.4L1578.9 93.7M1906.5 363.2L1906.5 178.5M1824.6 342L1824.6 157.3M1742.7 320.8L1742.7 136.1M1660.8 299.6L1660.8 114.9M1152.4 343.1L1578.9 278.4M1578.9 278.4L1906.5 363.2M1152.4 250.8L1578.9 186.1M1578.9 186.1L1906.5 270.9M1152.4 158.4L1578.9 93.7M1578.9 93.7L1906.5 178.5" stroke="#dcdcdc" stroke-width="1.5" fill="none"/>
<path d="M1152.4 158.4L1152.4 343.1L1480 427.9L1906.5 363.2M1152.4 343.1L1143.9 340.9M1152.4 250.8L1143.9 248.5M1152.4 158.4L1143.9 156.2M1480 427.9L1471.3 429.2M1398.1 406.7L1389.4 408M1316.2 385.5L1307.5 386.8M1234.3 364.3L1225.6 365.6M1152.4 343.1L1143.7 344.4M1480 427.9L1488.5 430.1M1586.6 411.7L1595.1 413.9M1693.2 395.5L1701.8 397.8M1799.9 379.4L1808.4 381.6M1906.5 363.2L1915 365.4" stroke="#4a4a4a" stroke-width="1.7" fill="none" stroke-linejoin="round"/>
<g stroke="#000" stroke-width="1.9" stroke-linejoin="round"><path d="M1152.4 343.1L1480 427.9L1906.5 363.2L1578.9 278.4z" fill="#07061c" stroke="#000" stroke-width="2.2"/><path d="M1159 344.8L1160.9 341.8M1165.5 346.5L1169.5 340.5M1172.1 348.2L1178 339.2M1178.6 349.9L1186.5 337.9M1185.2 351.6L1195.1 336.6M1191.7 353.3L1203.6 335.3M1198.3 355L1212.1 334M1204.8 356.7L1220.6 332.7M1211.4 358.4L1229.2 331.5M1217.9 360.1L1237.7 330.2M1224.5 361.8L1246.2 328.9M1231 363.5L1254.8 327.6M1237.6 365.1L1263.3 326.3M1244.1 366.8L1271.8 325M1250.7 368.5L1280.3 323.7M1257.2 370.2L1288.9 322.4M1263.8 371.9L1297.4 321.1M1270.3 373.6L1305.9 319.8M1276.9 375.3L1314.5 318.5M1283.4 377L1323 317.2M1290 378.7L1331.5 315.9M1296.5 380.4L1340.1 314.6M1303.1 382.1L1348.6 313.3M1309.6 383.8L1357.1 312M1316.2 385.5L1365.7 310.8M1322.8 387.2L1374.2 309.5M1329.3 388.9L1382.7 308.2M1335.9 390.6L1391.2 306.9M1342.4 392.3L1399.8 305.6M1349 394L1408.3 304.3M1355.5 395.7L1416.8 303M1362.1 397.4L1425.4 301.7M1368.6 399.1L1433.9 300.4M1375.2 400.8L1442.4 299.1M1381.7 402.5L1450.9 297.8M1388.3 404.2L1459.5 296.5M1394.8 405.9L1468 295.2M1401.4 407.5L1476.5 293.9M1407.9 409.2L1485.1 292.6M1414.5 410.9L1493.6 291.3M1421 412.6L1502.1 290M1427.6 414.3L1510.7 288.8M1434.1 416L1519.2 287.5M1440.7 417.7L1527.7 286.2M1447.2 419.4L1536.2 284.9M1453.8 421.1L1544.8 283.6M1460.3 422.8L1553.3 282.3M1466.9 424.5L1561.8 281M1473.4 426.2L1570.4 279.7M1480 427.9L1578.9 278.4M1488.5 426.6L1585.5 280.1M1497.1 425.3L1592 281.8M1505.6 424L1598.6 283.5M1514.1 422.7L1605.1 285.2M1522.7 421.4L1611.7 286.9M1531.2 420.1L1618.2 288.6M1539.7 418.8L1624.8 290.3M1548.2 417.5L1631.3 292M1556.8 416.3L1637.9 293.7M1565.3 415L1644.4 295.4M1573.8 413.7L1651 297.1M1582.4 412.4L1657.5 298.8M1590.9 411.1L1664.1 300.4M1599.4 409.8L1670.6 302.1M1608 408.5L1677.2 303.8M1616.5 407.2L1683.7 305.5M1625 405.9L1690.3 307.2M1633.5 404.6L1696.8 308.9M1642.1 403.3L1703.4 310.6M1650.6 402L1709.9 312.3M1659.1 400.7L1716.5 314M1667.7 399.4L1723 315.7M1676.2 398.1L1729.6 317.4M1684.7 396.8L1736.1 319.1M1693.2 395.5L1742.7 320.8M1701.8 394.3L1749.3 322.5M1710.3 393L1755.8 324.2M1718.8 391.7L1762.4 325.9M1727.4 390.4L1768.9 327.6M1735.9 389.1L1775.5 329.3M1744.4 387.8L1782 331M1753 386.5L1788.6 332.7M1761.5 385.2L1795.1 334.4M1770 383.9L1801.7 336.1M1778.5 382.6L1808.2 337.8M1787.1 381.3L1814.8 339.5M1795.6 380L1821.3 341.2M1804.1 378.7L1827.9 342.8M1812.7 377.4L1834.4 344.5M1821.2 376.1L1841 346.2M1829.7 374.8L1847.5 347.9M1838.3 373.6L1854.1 349.6M1846.8 372.3L1860.6 351.3M1855.3 371L1867.2 353M1863.8 369.7L1873.7 354.7M1872.4 368.4L1880.3 356.4M1880.9 367.1L1886.8 358.1M1889.4 365.8L1893.4 359.8M1898 364.5L1899.9 361.5" fill="none" stroke="#15122c" stroke-width="2.8"/><path fill="#2a1f7d" stroke-width="1.1" d="M1338.1 315.6l8.5-0.8-6.5-1.6-8.6 1z"/><path fill="#2d248b" stroke-width="1.1" d="M1329.6 316.4l8.5-0.8-6.6-1.4-8.5 1.1z"/><path fill="#302997" stroke-width="1.1" d="M1321 317.1l8.6-0.7-6.6-1.1-8.5 1.4z"/><path fill="#312a9b" stroke-width="1.1" d="M1312.5 318.1l8.5-1-6.5-0.4-8.6 1.4z"/><path fill="#332fa6" stroke-width="1.1" d="M1261.3 325.5l8.5-1.2-6.5 0.1-8.5 1.3z"/><path fill="#312a9b" stroke-width="1.1" d="M1252.8 327.2l8.5-1.7-6.5 0.2-8.6 1.4z"/><path fill="#2d238a" stroke-width="1.1" d="M1244.3 329.4l8.5-2.2-6.6-0.1-8.5 1.6z"/><path fill="#271c72" stroke-width="1.1" d="M1235.7 331.5l8.6-2.1-6.6-0.7-8.5 2.8z"/><path fill="#241865" stroke-width="1.4" d="M1227.2 334.4l8.5-2.9-6.5 0-8.6 1.2z"/><path fill="#2d248c" stroke-width="1.1" d="M1336.1 318l8.5-0.6-6.5-1.8-8.5 0.8z"/><path fill="#322a9e" stroke-width="1.1" d="M1327.6 318.4l8.5-0.4-6.5-1.6-8.6 0.7z"/><path fill="#3737b6" stroke-width="1.1" d="M1319 318.5l8.6-0.1-6.6-1.3-8.5 1z"/><path fill="#3a3ec2" stroke-width="1.1" d="M1310.5 318.8l8.5-0.3-6.5-0.4-8.5 1.3z"/><path fill="#3737b5" stroke-width="1.1" d="M1250.8 329l8.5-3.6-6.5 1.8-8.5 2.2z"/><path fill="#2e248d" stroke-width="1.1" d="M1242.3 332.1l8.5-3.1-6.5 0.4-8.6 2.1z"/><path fill="#271b71" stroke-width="1.1" d="M1233.7 334.6l8.6-2.5-6.6-0.6-8.5 2.9z"/><path fill="#231763" stroke-width="1.4" d="M1225.2 337.4l8.5-2.8-6.5-0.2-8.5 1.3z"/><path fill="#312a9c" stroke-width="1.1" d="M1334.1 320.2l8.6-0.3-6.6-1.9-8.5 0.4z"/><path fill="#3837b7" stroke-width="1.1" d="M1325.6 320l8.5 0.2-6.5-1.8-8.6 0.1z"/><path fill="#3c45cd" stroke-width="1.1" d="M1317.1 319.5l8.5 0.5-6.6-1.5-8.5 0.3z"/><path fill="#3f54e2" stroke-width="1.2" d="M1257.4 326.6l8.5-8.5-6.6 7.3-8.5 3.6z"/><path fill="#3636b3" stroke-width="1.4" d="M1248.8 332.1l8.6-5.5-6.6 2.4-8.5 3.1z"/><path fill="#2b2081" stroke-width="1.3" d="M1240.3 335.5l8.5-3.4-6.5 0-8.6 2.5z"/><path fill="#261b6e" stroke-width="1.1" d="M1231.8 337.9l8.5-2.4-6.6-0.9-8.5 2.8z"/><path fill="#231762" stroke-width="1.4" d="M1223.2 340.4l8.6-2.5-6.6-0.5-8.5 1.3z"/><path fill="#261b6e" stroke-width="1.1" d="M1408.9 313.7l8.5 0-6.5-1.7-8.5 1.2z"/><path fill="#261b70" stroke-width="1.1" d="M1400.4 314.8l8.5-1.1-6.5-0.5-8.6 1.3z"/><path fill="#271b71" stroke-width="1.1" d="M1391.9 316l8.5-1.2-6.6-0.3-8.5 1.3z"/><path fill="#271c72" stroke-width="1.1" d="M1383.3 317.2l8.6-1.2-6.6-0.2-8.5 1.3z"/><path fill="#3c45cd" stroke-width="1.1" d="M1323.6 321.2l8.5 0.8-6.5-2-8.5-0.5z"/><path fill="#3c45ce" stroke-width="1.8" d="M1255.4 331.4l8.5-11.3-6.5 6.5-8.6 5.5z"/><path fill="#302999" stroke-width="1.5" d="M1246.8 336.3l8.6-4.9-6.6 0.7-8.5 3.4z"/><path fill="#281c74" stroke-width="1.2" d="M1238.3 339.1l8.5-2.8-6.5-0.8-8.5 2.4z"/><path fill="#241865" stroke-width="1.5" d="M1229.8 342.1l8.5-3-6.5-1.2-8.6 2.5z"/><path fill="#261b6d" stroke-width="1.1" d="M1424 314.1l8.5 0-6.5-1.7-8.6 1.3z"/><path fill="#271b71" stroke-width="1.1" d="M1415.5 315.1l8.5-1-6.6-0.4-8.5 0z"/><path fill="#291f7b" stroke-width="1.1" d="M1406.9 316.1l8.6-1-6.6-1.4-8.5 1.1z"/><path fill="#2a1f7f" stroke-width="1.1" d="M1398.4 317.1l8.5-1-6.5-1.3-8.5 1.2z"/><path fill="#2b2082" stroke-width="1.1" d="M1389.9 318.2l8.5-1.1-6.5-1.1-8.6 1.2z"/><path fill="#2797eb" stroke-width="2.0" d="M1270.5 314.1l8.5-41-6.6 22.2-8.5 24.8z"/><path fill="#4065f5" stroke-width="1.8" d="M1261.9 329.4l8.6-15.3-6.6 6-8.5 11.3z"/><path fill="#3838b8" stroke-width="1.6" d="M1253.4 336.3l8.5-6.9-6.5 2-8.6 4.9z"/><path fill="#2c2389" stroke-width="1.4" d="M1244.9 340.1l8.5-3.8-6.6 0-8.5 2.8z"/><path fill="#261b6f" stroke-width="1.1" d="M1236.3 342.4l8.6-2.3-6.6-1-8.5 3z"/><path fill="#231763" stroke-width="1.4" d="M1227.8 345.1l8.5-2.7-6.5-0.3-8.5 1.3z"/><path fill="#261b6d" stroke-width="1.1" d="M1430.6 315.8l8.5 0-6.6-1.7-8.5 0z"/><path fill="#271b72" stroke-width="1.1" d="M1422 316.8l8.6-1-6.6-1.7-8.5 1z"/><path fill="#2a1f7e" stroke-width="1.1" d="M1413.5 317.6l8.5-0.8-6.5-1.7-8.6 1z"/><path fill="#2d248b" stroke-width="1.1" d="M1405 318.4l8.5-0.8-6.6-1.5-8.5 1z"/><path fill="#24c1ae" stroke-width="2.4" d="M1294.1 272.7l8.5 18.6-6.5-23.7-8.6-51.6z"/><path fill="#08b5d0" stroke-width="2.4" d="M1285.5 295.3l8.6-22.6-6.6-56.7-8.5 57.1z"/><path fill="#2b91ef" stroke-width="2.4" d="M1277 318.3l8.5-23-6.5-22.2-8.5 41z"/><path fill="#3e6fff" stroke-width="2.0" d="M1268.5 329.6l8.5-11.3-6.5-4.2-8.6 15.3z"/><path fill="#3d46cf" stroke-width="1.4" d="M1260 335.9l8.5-6.3-6.6-0.2-8.5 6.9z"/><path fill="#3430a9" stroke-width="1.2" d="M1251.4 340.2l8.6-4.3-6.6 0.4-8.5 3.8z"/><path fill="#2b2080" stroke-width="1.2" d="M1242.9 343.3l8.5-3.1-6.5-0.1-8.6 2.3z"/><path fill="#261a6d" stroke-width="1.1" d="M1234.4 345.6l8.5-2.3-6.6-0.9-8.5 2.7z"/><path fill="#231762" stroke-width="1.4" d="M1225.8 348.1l8.6-2.5-6.6-0.5-8.5 1.3z"/><path fill="#241867" stroke-width="1.5" d="M1437.1 318.7l8.5-1.3-6.5-1.6-8.5 0z"/><path fill="#271b71" stroke-width="1.1" d="M1428.6 318.5l8.5 0.2-6.5-2.9-8.6 1z"/><path fill="#2a1f7e" stroke-width="1.1" d="M1420 319.3l8.6-0.8-6.6-1.7-8.5 0.8z"/><path fill="#2d248c" stroke-width="1.1" d="M1411.5 319.9l8.5-0.6-6.5-1.7-8.5 0.8z"/><path fill="#2f81fa" stroke-width="1.9" d="M1317.7 319.2l8.5 2.4-6.5-1.7-8.6-8.6z"/><path fill="#2b91ef" stroke-width="2.4" d="M1309.2 314.8l8.5 4.4-6.6-7.9-8.5-20z"/><path fill="#259be8" stroke-width="2.4" d="M1300.6 313.2l8.6 1.6-6.6-23.5-8.5-18.6z"/><path fill="#2d8cf3" stroke-width="2.4" d="M1292.1 319.4l8.5-6.2-6.5-40.5-8.6 22.6z"/><path fill="#327cfc" stroke-width="2.4" d="M1283.6 327.5l8.5-8.1-6.6-24.1-8.5 23z"/><path fill="#415eee" stroke-width="2.4" d="M1275 333.4l8.6-5.9-6.6-9.2-8.5 11.3z"/><path fill="#3d4bd4" stroke-width="1.6" d="M1266.5 337.4l8.5-4-6.5-3.8-8.5 6.3z"/><path fill="#393cbd" stroke-width="1.2" d="M1258 340.8l8.5-3.4-6.5-1.5-8.6 4.3z"/><path fill="#312a9c" stroke-width="1.1" d="M1249.4 343.8l8.6-3-6.6-0.6-8.5 3.1z"/><path fill="#2a1f7f" stroke-width="1.1" d="M1240.9 346.4l8.5-2.6-6.5-0.5-8.5 2.3z"/><path fill="#261b6d" stroke-width="1.1" d="M1232.4 348.6l8.5-2.2-6.5-0.8-8.6 2.5z"/><path fill="#221761" stroke-width="1.4" d="M1223.9 351.1l8.5-2.5-6.6-0.5-8.5 1.3z"/><path fill="#261b6e" stroke-width="1.1" d="M1443.7 319.1l8.5 0-6.6-1.7-8.5 1.3z"/><path fill="#271c72" stroke-width="1.1" d="M1435.1 320.1l8.6-1-6.6-0.4-8.5-0.2z"/><path fill="#2a1f7e" stroke-width="1.1" d="M1426.6 321l8.5-0.9-6.5-1.6-8.6 0.8z"/><path fill="#2d248c" stroke-width="1.1" d="M1418.1 321.7l8.5-0.7-6.6-1.7-8.5 0.6z"/><path fill="#2f81fa" stroke-width="2.4" d="M1315.7 323.8l8.5-3-6.5-1.6-8.5-4.4z"/><path fill="#327cfc" stroke-width="2.4" d="M1307.2 327l8.5-3.2-6.5-9-8.6-1.6z"/><path fill="#4269fd" stroke-width="2.4" d="M1298.6 330.9l8.6-3.9-6.6-13.8-8.5 6.2z"/><path fill="#4055e5" stroke-width="2.4" d="M1290.1 334.7l8.5-3.8-6.5-11.5-8.5 8.1z"/><path fill="#3d46d0" stroke-width="2.4" d="M1281.6 338l8.5-3.3-6.5-7.2-8.6 5.9z"/><path fill="#3a3ec2" stroke-width="1.9" d="M1273.1 340.7l8.5-2.7-6.6-4.6-8.5 4z"/><path fill="#3737b5" stroke-width="1.5" d="M1264.5 343l8.6-2.3-6.6-3.3-8.5 3.4z"/><path fill="#332fa4" stroke-width="1.2" d="M1256 345.2l8.5-2.2-6.5-2.2-8.6 3z"/><path fill="#2e248d" stroke-width="1.1" d="M1247.5 347.5l8.5-2.3-6.6-1.4-8.5 2.6z"/><path fill="#291f7c" stroke-width="1.1" d="M1238.9 349.6l8.6-2.1-6.6-1.1-8.5 2.2z"/><path fill="#241867" stroke-width="1.5" d="M1230.4 352.8l8.5-3.2-6.5-1-8.5 2.5z"/><path fill="#261b6e" stroke-width="1.1" d="M1458.7 319.6l8.6-0.1-6.6-1.7-8.5 1.3z"/><path fill="#271b71" stroke-width="1.1" d="M1450.2 320.6l8.5-1-6.5-0.5-8.5 0z"/><path fill="#281c74" stroke-width="1.1" d="M1441.7 321.6l8.5-1-6.5-1.5-8.6 1z"/><path fill="#2b2080" stroke-width="1.1" d="M1433.1 322.5l8.6-0.9-6.6-1.5-8.5 0.9z"/><path fill="#2e248d" stroke-width="1.1" d="M1424.6 323.3l8.5-0.8-6.5-1.5-8.5 0.7z"/><path fill="#2f81fa" stroke-width="1.7" d="M1322.3 324.1l8.5-6.7-6.6 3.4-8.5 3z"/><path fill="#3e6fff" stroke-width="2.4" d="M1313.7 330.5l8.6-6.4-6.6-0.3-8.5 3.2z"/><path fill="#3f54e2" stroke-width="2.4" d="M1305.2 335.5l8.5-5-6.5-3.5-8.6 3.9z"/><path fill="#3b44ca" stroke-width="2.4" d="M1296.7 339.1l8.5-3.6-6.6-4.6-8.5 3.8z"/><path fill="#3838b8" stroke-width="2.1" d="M1288.1 341.8l8.6-2.7-6.6-4.4-8.5 3.3z"/><path fill="#3530aa" stroke-width="1.8" d="M1279.6 343.9l8.5-2.1-6.5-3.8-8.5 2.7z"/><path fill="#312a9d" stroke-width="1.6" d="M1271.1 345.8l8.5-1.9-6.5-3.2-8.6 2.3z"/><path fill="#2f2590" stroke-width="1.4" d="M1262.5 347.6l8.6-1.8-6.6-2.8-8.5 2.2z"/><path fill="#2d238a" stroke-width="1.3" d="M1254 349.4l8.5-1.8-6.5-2.4-8.5 2.3z"/><path fill="#2a1f7e" stroke-width="1.1" d="M1245.5 351.1l8.5-1.7-6.5-1.9-8.6 2.1z"/><path fill="#271b71" stroke-width="1.1" d="M1237 352.9l8.5-1.8-6.6-1.5-8.5 3.2z"/><path fill="#241866" stroke-width="1.4" d="M1228.4 355.8l8.6-2.9-6.6-0.1-8.5 1.3z"/><path fill="#261b6f" stroke-width="1.1" d="M1465.3 321.2l8.5 0-6.5-1.7-8.6 0.1z"/><path fill="#271c73" stroke-width="1.1" d="M1456.8 322.1l8.5-0.9-6.6-1.6-8.5 1z"/><path fill="#2a1f7e" stroke-width="1.1" d="M1448.2 323.1l8.6-1-6.6-1.5-8.5 1z"/><path fill="#2d248a" stroke-width="1.1" d="M1439.7 323.9l8.5-0.8-6.5-1.5-8.6 0.9z"/><path fill="#302998" stroke-width="1.1" d="M1431.2 324.6l8.5-0.7-6.6-1.4-8.5 0.8z"/><path fill="#1ca9df" stroke-width="1.6" d="M1345.9 307.6l8.5-1.2-6.6 5.1-8.5 1.2z"/><path fill="#23a0e5" stroke-width="1.1" d="M1337.3 313.7l8.6-6.1-6.6 5.1-8.5 4.7z"/><path fill="#2d8cf3" stroke-width="1.3" d="M1328.8 322.2l8.5-8.5-6.5 3.7-8.5 6.7z"/><path fill="#327cfc" stroke-width="1.6" d="M1320.3 330.1l8.5-7.9-6.5 1.9-8.6 6.4z"/><path fill="#405ceb" stroke-width="1.7" d="M1311.8 336.3l8.5-6.2-6.6 0.4-8.5 5z"/><path fill="#3b44c9" stroke-width="1.8" d="M1303.2 340.9l8.6-4.6-6.6-0.8-8.5 3.6z"/><path fill="#3635b0" stroke-width="1.8" d="M1294.7 344.2l8.5-3.3-6.5-1.8-8.6 2.7z"/><path fill="#302998" stroke-width="1.7" d="M1286.2 346.6l8.5-2.4-6.6-2.4-8.5 2.1z"/><path fill="#2d248b" stroke-width="1.5" d="M1277.6 348.5l8.6-1.9-6.6-2.7-8.5 1.9z"/><path fill="#2a2080" stroke-width="1.4" d="M1269.1 350.1l8.5-1.6-6.5-2.7-8.6 1.8z"/><path fill="#291f7c" stroke-width="1.3" d="M1260.6 351.7l8.5-1.6-6.6-2.5-8.5 1.8z"/><path fill="#271c73" stroke-width="1.2" d="M1252 353.2l8.6-1.5-6.6-2.3-8.5 1.7z"/><path fill="#261b70" stroke-width="1.2" d="M1243.5 354.7l8.5-1.5-6.5-2.1-8.5 1.8z"/><path fill="#241867" stroke-width="1.4" d="M1235 357.5l8.5-2.8-6.5-1.8-8.6 2.9z"/><path fill="#261b70" stroke-width="1.1" d="M1471.8 322.8l8.6 0.1-6.6-1.7-8.5 0z"/><path fill="#291f7b" stroke-width="1.1" d="M1463.3 323.7l8.5-0.9-6.5-1.6-8.5 0.9z"/><path fill="#2b2081" stroke-width="1.1" d="M1454.8 324.5l8.5-0.8-6.5-1.6-8.6 1z"/><path fill="#1ca9df" stroke-width="1.1" d="M1352.4 307l8.6-0.7-6.6 0.1-8.5 1.2z"/><path fill="#20a5e3" stroke-width="1.3" d="M1343.9 313.1l8.5-6.1-6.5 0.6-8.6 6.1z"/><path fill="#2b91ef" stroke-width="1.6" d="M1335.4 321.6l8.5-8.5-6.6 0.6-8.5 8.5z"/><path fill="#2f81fa" stroke-width="1.6" d="M1326.8 329.7l8.6-8.1-6.6 0.6-8.5 7.9z"/><path fill="#4168fa" stroke-width="1.5" d="M1318.3 336.3l8.5-6.6-6.5 0.4-8.5 6.2z"/><path fill="#3e4cd6" stroke-width="1.4" d="M1309.8 341.4l8.5-5.1-6.5 0-8.6 4.6z"/><path fill="#3837b8" stroke-width="1.4" d="M1301.2 345.2l8.6-3.8-6.6-0.5-8.5 3.3z"/><path fill="#31299a" stroke-width="1.4" d="M1292.7 348.2l8.5-3-6.5-1-8.5 2.4z"/><path fill="#2b2080" stroke-width="1.4" d="M1284.2 350.4l8.5-2.2-6.5-1.6-8.6 1.9z"/><path fill="#281c73" stroke-width="1.4" d="M1275.7 352.3l8.5-1.9-6.6-1.9-8.5 1.6z"/><path fill="#261b70" stroke-width="1.3" d="M1267.1 353.9l8.6-1.6-6.6-2.2-8.5 1.6z"/><path fill="#261b6e" stroke-width="1.3" d="M1258.6 355.3l8.5-1.4-6.5-2.2-8.6 1.5z"/><path fill="#241866" stroke-width="1.9" d="M1250.1 357.9l8.5-2.6-6.6-2.1-8.5 1.5z"/><path fill="#241765" stroke-width="1.1" d="M1241.5 359.2l8.6-1.3-6.6-3.2-8.5 2.8z"/><path fill="#261b6e" stroke-width="1.1" d="M1486.9 323.4l8.6-0.1-6.6-1.7-8.5 1.3z"/><path fill="#271b71" stroke-width="1.1" d="M1478.4 324.4l8.5-1-6.5-0.5-8.6-0.1z"/><path fill="#291f7d" stroke-width="1.1" d="M1469.9 325.3l8.5-0.9-6.6-1.6-8.5 0.9z"/><path fill="#2d238a" stroke-width="1.1" d="M1461.3 326.1l8.6-0.8-6.6-1.6-8.5 0.8z"/><path fill="#23a0e5" stroke-width="1.1" d="M1376 313.4l8.6 4.3-6.6-1.7-8.5-5.6z"/><path fill="#20a5e3" stroke-width="1.1" d="M1367.5 310.8l8.5 2.6-6.5-3-8.5-4.1z"/><path fill="#20a5e3" stroke-width="2.4" d="M1359 312.3l8.5-1.5-6.5-4.5-8.6 0.7z"/><path fill="#23a0e5" stroke-width="2.4" d="M1350.4 317.5l8.6-5.2-6.6-5.3-8.5 6.1z"/><path fill="#2b91ef" stroke-width="2.3" d="M1341.9 324.2l8.5-6.7-6.5-4.4-8.5 8.5z"/><path fill="#2f81fa" stroke-width="1.9" d="M1333.4 331l8.5-6.8-6.5-2.6-8.6 8.1z"/><path fill="#3e6fff" stroke-width="1.7" d="M1324.9 336.9l8.5-5.9-6.6-1.3-8.5 6.6z"/><path fill="#3f54e2" stroke-width="1.4" d="M1316.3 341.9l8.6-5-6.6-0.6-8.5 5.1z"/><path fill="#3a3ec3" stroke-width="1.3" d="M1307.8 345.9l8.5-4-6.5-0.5-8.6 3.8z"/><path fill="#3430a9" stroke-width="1.3" d="M1299.3 349.1l8.5-3.2-6.6-0.7-8.5 3z"/><path fill="#2d248c" stroke-width="1.2" d="M1290.7 351.7l8.6-2.6-6.6-0.9-8.5 2.2z"/><path fill="#281c74" stroke-width="1.2" d="M1282.2 353.9l8.5-2.2-6.5-1.3-8.5 1.9z"/><path fill="#261b6e" stroke-width="1.2" d="M1273.7 355.7l8.5-1.8-6.5-1.6-8.6 1.6z"/><path fill="#241765" stroke-width="1.8" d="M1265.1 358.3l8.6-2.6-6.6-1.8-8.5 1.4z"/><path fill="#231763" stroke-width="1.1" d="M1256.6 359.6l8.5-1.3-6.5-3-8.5 2.6z"/><path fill="#261b6f" stroke-width="1.1" d="M1493.5 325l8.5 0-6.5-1.7-8.6 0.1z"/><path fill="#271c73" stroke-width="1.1" d="M1484.9 325.9l8.6-0.9-6.6-1.6-8.5 1z"/><path fill="#2a1f7e" stroke-width="1.1" d="M1476.4 326.8l8.5-0.9-6.5-1.5-8.5 0.9z"/><path fill="#23a0e5" stroke-width="2.3" d="M1374.1 316.5l8.5-0.6-6.6-2.5-8.5-2.6z"/><path fill="#259be8" stroke-width="2.4" d="M1365.5 319.7l8.6-3.2-6.6-5.7-8.5 1.5z"/><path fill="#2b91ef" stroke-width="2.4" d="M1357 324.5l8.5-4.8-6.5-7.4-8.6 5.2z"/><path fill="#2e87f7" stroke-width="2.4" d="M1348.5 329.7l8.5-5.2-6.6-7-8.5 6.7z"/><path fill="#327cfc" stroke-width="2.4" d="M1339.9 334.7l8.6-5-6.6-5.5-8.5 6.8z"/><path fill="#3e6fff" stroke-width="1.9" d="M1331.4 339.2l8.5-4.5-6.5-3.7-8.5 5.9z"/><path fill="#4055e4" stroke-width="1.6" d="M1322.9 343.3l8.5-4.1-6.5-2.3-8.6 5z"/><path fill="#3c45cc" stroke-width="1.4" d="M1314.3 347l8.6-3.7-6.6-1.4-8.5 4z"/><path fill="#3737b6" stroke-width="1.3" d="M1305.8 350.1l8.5-3.1-6.5-1.1-8.5 3.2z"/><path fill="#31299a" stroke-width="1.2" d="M1297.3 352.8l8.5-2.7-6.5-1-8.6 2.6z"/><path fill="#2b2080" stroke-width="1.2" d="M1288.8 355.1l8.5-2.3-6.6-1.1-8.5 2.2z"/><path fill="#271b71" stroke-width="1.1" d="M1280.2 357.2l8.6-2.1-6.6-1.2-8.5 1.8z"/><path fill="#241865" stroke-width="1.4" d="M1271.7 360l8.5-2.8-6.5-1.5-8.6 2.6z"/><path fill="#261b6e" stroke-width="1.1" d="M1508.6 325.5l8.5-0.1-6.6-1.7-8.5 1.3z"/><path fill="#271b71" stroke-width="1.1" d="M1500 326.5l8.6-1-6.6-0.5-8.5 0z"/><path fill="#291f7c" stroke-width="1.1" d="M1491.5 327.4l8.5-0.9-6.5-1.5-8.6 0.9z"/><path fill="#2b2081" stroke-width="1.1" d="M1483 328.3l8.5-0.9-6.6-1.5-8.5 0.9z"/><path fill="#2e258f" stroke-width="1.1" d="M1474.4 329l8.6-0.7-6.6-1.5-8.5 0.8z"/><path fill="#259be8" stroke-width="2.2" d="M1380.6 320.1l8.5-3.5-6.5-0.7-8.5 0.6z"/><path fill="#2b91ef" stroke-width="2.4" d="M1372.1 325.6l8.5-5.5-6.5-3.6-8.6 3.2z"/><path fill="#2f81fa" stroke-width="2.4" d="M1363.5 331l8.6-5.4-6.6-5.9-8.5 4.8z"/><path fill="#327cfc" stroke-width="2.4" d="M1355 335.6l8.5-4.6-6.5-6.5-8.5 5.2z"/><path fill="#3e6fff" stroke-width="2.4" d="M1346.5 339.5l8.5-3.9-6.5-5.9-8.6 5z"/><path fill="#405dec" stroke-width="2.2" d="M1338 342.9l8.5-3.4-6.6-4.8-8.5 4.5z"/><path fill="#3f4dd9" stroke-width="1.8" d="M1329.4 346l8.6-3.1-6.6-3.7-8.5 4.1z"/><path fill="#3b44ca" stroke-width="1.5" d="M1320.9 348.9l8.5-2.9-6.5-2.7-8.6 3.7z"/><path fill="#3837b7" stroke-width="1.3" d="M1312.4 351.6l8.5-2.7-6.6-1.9-8.5 3.1z"/><path fill="#332fa4" stroke-width="1.2" d="M1303.8 354.2l8.6-2.6-6.6-1.5-8.5 2.7z"/><path fill="#2d248c" stroke-width="1.2" d="M1295.3 356.4l8.5-2.2-6.5-1.4-8.5 2.3z"/><path fill="#291f7c" stroke-width="1.1" d="M1286.8 358.5l8.5-2.1-6.5-1.3-8.6 2.1z"/><path fill="#261b6f" stroke-width="1.1" d="M1278.2 360.4l8.6-1.9-6.6-1.3-8.5 2.8z"/><path fill="#231764" stroke-width="1.4" d="M1269.7 363l8.5-2.6-6.5-0.4-8.5 1.3z"/><path fill="#261b70" stroke-width="1.1" d="M1515.1 327l8.5 0.1-6.5-1.7-8.5 0.1z"/><path fill="#281c74" stroke-width="1.1" d="M1506.6 328l8.5-1-6.5-1.5-8.6 1z"/><path fill="#2a207f" stroke-width="1.1" d="M1498.1 328.9l8.5-0.9-6.6-1.5-8.5 0.9z"/><path fill="#23a0e5" stroke-width="1.1" d="M1395.7 317.9l8.5-1.4-6.5 0.2-8.6-0.1z"/><path fill="#2797eb" stroke-width="2.2" d="M1387.2 322.9l8.5-5-6.6-1.3-8.5 3.5z"/><path fill="#2d8cf3" stroke-width="2.4" d="M1378.6 329.2l8.6-6.3-6.6-2.8-8.5 5.5z"/><path fill="#327cfc" stroke-width="2.4" d="M1370.1 335.1l8.5-5.9-6.5-3.6-8.6 5.4z"/><path fill="#3e6fff" stroke-width="2.4" d="M1361.6 340l8.5-4.9-6.6-4.1-8.5 4.6z"/><path fill="#4156e7" stroke-width="2.4" d="M1353 343.7l8.6-3.7-6.6-4.4-8.5 3.9z"/><path fill="#3e4cd7" stroke-width="2.2" d="M1344.5 346.7l8.5-3-6.5-4.2-8.5 3.4z"/><path fill="#3b44ca" stroke-width="1.9" d="M1336 349.3l8.5-2.6-6.5-3.8-8.6 3.1z"/><path fill="#393dbe" stroke-width="1.7" d="M1327.4 351.6l8.6-2.3-6.6-3.3-8.5 2.9z"/><path fill="#3636b2" stroke-width="1.5" d="M1318.9 353.8l8.5-2.2-6.5-2.7-8.5 2.7z"/><path fill="#322a9d" stroke-width="1.3" d="M1310.4 356l8.5-2.2-6.5-2.2-8.6 2.6z"/><path fill="#2e248e" stroke-width="1.2" d="M1301.9 358l8.5-2-6.6-1.8-8.5 2.2z"/><path fill="#2a1f7f" stroke-width="1.1" d="M1293.3 360l8.6-2-6.6-1.6-8.5 2.1z"/><path fill="#271b71" stroke-width="1.1" d="M1284.8 361.8l8.5-1.8-6.5-1.5-8.6 1.9z"/><path fill="#241866" stroke-width="1.4" d="M1276.3 364.7l8.5-2.9-6.6-1.4-8.5 2.6z"/><path fill="#261b6e" stroke-width="1.1" d="M1530.2 327.6l8.5-0.1-6.5-1.7-8.6 1.3z"/><path fill="#271b71" stroke-width="1.1" d="M1521.7 328.6l8.5-1-6.6-0.5-8.5-0.1z"/><path fill="#2a1f7d" stroke-width="1.1" d="M1513.1 329.5l8.6-0.9-6.6-1.6-8.5 1z"/><path fill="#2c2389" stroke-width="1.1" d="M1504.6 330.3l8.5-0.8-6.5-1.5-8.5 0.9z"/><path fill="#23a0e5" stroke-width="1.1" d="M1410.8 318.4l8.5 1.1-6.5-0.8-8.6-2.2z"/><path fill="#259be8" stroke-width="1.9" d="M1402.2 321l8.6-2.6-6.6-1.9-8.5 1.4z"/><path fill="#2b91ef" stroke-width="2.4" d="M1393.7 326.4l8.5-5.4-6.5-3.1-8.5 5z"/><path fill="#2e87f7" stroke-width="2.4" d="M1385.2 332.7l8.5-6.3-6.5-3.5-8.6 6.3z"/><path fill="#3875fe" stroke-width="2.3" d="M1376.7 338.3l8.5-5.6-6.6-3.5-8.5 5.9z"/><path fill="#425ff3" stroke-width="2.2" d="M1368.1 342.9l8.6-4.6-6.6-3.2-8.5 4.9z"/><path fill="#3f4dda" stroke-width="2.0" d="M1359.6 346.7l8.5-3.8-6.5-2.9-8.6 3.7z"/><path fill="#3b44c9" stroke-width="1.9" d="M1351.1 349.8l8.5-3.1-6.6-3-8.5 3z"/><path fill="#383cbc" stroke-width="1.8" d="M1342.5 352.3l8.6-2.5-6.6-3.1-8.5 2.6z"/><path fill="#3531ab" stroke-width="1.7" d="M1334 354.4l8.5-2.1-6.5-3-8.6 2.3z"/><path fill="#322a9d" stroke-width="1.5" d="M1325.5 356.4l8.5-2-6.6-2.8-8.5 2.2z"/><path fill="#2f2590" stroke-width="1.4" d="M1316.9 358.2l8.6-1.8-6.6-2.6-8.5 2.2z"/><path fill="#2d238a" stroke-width="1.3" d="M1308.4 360l8.5-1.8-6.5-2.2-8.5 2z"/><path fill="#2a1f7e" stroke-width="1.2" d="M1299.9 361.7l8.5-1.7-6.5-2-8.6 2z"/><path fill="#271c72" stroke-width="1.1" d="M1291.4 363.4l8.5-1.7-6.6-1.7-8.5 1.8z"/><path fill="#261b6e" stroke-width="1.1" d="M1282.8 365.1l8.6-1.7-6.6-1.6-8.5 2.9z"/><path fill="#231764" stroke-width="1.4" d="M1274.3 367.6l8.5-2.5-6.5-0.4-8.6 1.3z"/><path fill="#261b6f" stroke-width="1.1" d="M1536.7 329.2l8.6 0-6.6-1.7-8.5 0.1z"/><path fill="#271c73" stroke-width="1.1" d="M1528.2 330.1l8.5-0.9-6.5-1.6-8.5 1z"/><path fill="#2a1f7f" stroke-width="1.1" d="M1519.7 331l8.5-0.9-6.5-1.5-8.6 0.9z"/><path fill="#2d248c" stroke-width="1.1" d="M1511.2 331.7l8.5-0.7-6.6-1.5-8.5 0.8z"/><path fill="#259be8" stroke-width="1.6" d="M1417.3 321.8l8.6-0.7-6.6-1.6-8.5-1.1z"/><path fill="#2797eb" stroke-width="2.4" d="M1408.8 325.7l8.5-3.9-6.5-3.4-8.6 2.6z"/><path fill="#2d8cf3" stroke-width="2.4" d="M1400.3 331.1l8.5-5.4-6.6-4.7-8.5 5.4z"/><path fill="#2f81fa" stroke-width="2.4" d="M1391.7 336.5l8.6-5.4-6.6-4.7-8.5 6.3z"/><path fill="#3e6fff" stroke-width="2.3" d="M1383.2 341.4l8.5-4.9-6.5-3.8-8.5 5.6z"/><path fill="#405ceb" stroke-width="2.0" d="M1374.7 345.6l8.5-4.2-6.5-3.1-8.6 4.6z"/><path fill="#3d4bd4" stroke-width="1.8" d="M1366.1 349.1l8.6-3.5-6.6-2.7-8.5 3.8z"/><path fill="#3a3ec1" stroke-width="1.7" d="M1357.6 352.1l8.5-3-6.5-2.4-8.5 3.1z"/><path fill="#3636b2" stroke-width="1.6" d="M1349.1 354.7l8.5-2.6-6.5-2.3-8.6 2.5z"/><path fill="#312a9c" stroke-width="1.5" d="M1340.6 356.9l8.5-2.2-6.6-2.4-8.5 2.1z"/><path fill="#2e248e" stroke-width="1.5" d="M1332 358.8l8.6-1.9-6.6-2.5-8.5 2z"/><path fill="#2b2082" stroke-width="1.4" d="M1323.5 360.5l8.5-1.7-6.5-2.4-8.6 1.8z"/><path fill="#2a1f7e" stroke-width="1.3" d="M1315 362.1l8.5-1.6-6.6-2.3-8.5 1.8z"/><path fill="#281c74" stroke-width="1.2" d="M1306.4 363.7l8.6-1.6-6.6-2.1-8.5 1.7z"/><path fill="#271b71" stroke-width="1.2" d="M1297.9 365.3l8.5-1.6-6.5-2-8.5 1.7z"/><path fill="#261b6e" stroke-width="1.1" d="M1289.4 366.8l8.5-1.5-6.5-1.9-8.6 1.7z"/><path fill="#241765" stroke-width="1.4" d="M1280.8 369.3l8.6-2.5-6.6-1.7-8.5 2.5z"/><path fill="#261b6e" stroke-width="1.1" d="M1551.8 329.6l8.6 0-6.6-1.7-8.5 1.3z"/><path fill="#271b71" stroke-width="1.1" d="M1543.3 330.7l8.5-1.1-6.5-0.4-8.6 0z"/><path fill="#291f7c" stroke-width="1.1" d="M1534.8 331.6l8.5-0.9-6.6-1.5-8.5 0.9z"/><path fill="#2b2081" stroke-width="1.1" d="M1526.2 332.5l8.6-0.9-6.6-1.5-8.5 0.9z"/><path fill="#259be8" stroke-width="1.1" d="M1432.4 322.7l8.5 0.2-6.5 0.3-8.5-2.1z"/><path fill="#2797eb" stroke-width="2.2" d="M1423.9 325.6l8.5-2.9-6.5-1.6-8.6 0.7z"/><path fill="#2d8cf3" stroke-width="2.4" d="M1415.3 330.6l8.6-5-6.6-3.8-8.5 3.9z"/><path fill="#2f81fa" stroke-width="2.4" d="M1406.8 335.9l8.5-5.3-6.5-4.9-8.5 5.4z"/><path fill="#3875fe" stroke-width="2.4" d="M1398.3 340.7l8.5-4.8-6.5-4.8-8.6 5.4z"/><path fill="#4065f5" stroke-width="2.3" d="M1389.8 344.9l8.5-4.2-6.6-4.2-8.5 4.9z"/><path fill="#3f53e0" stroke-width="2.0" d="M1381.2 348.5l8.6-3.6-6.6-3.5-8.5 4.2z"/><path fill="#3c45cc" stroke-width="1.7" d="M1372.7 351.6l8.5-3.1-6.5-2.9-8.6 3.5z"/><path fill="#393cbd" stroke-width="1.6" d="M1364.2 354.3l8.5-2.7-6.6-2.5-8.5 3z"/><path fill="#3430a8" stroke-width="1.5" d="M1355.6 356.7l8.6-2.4-6.6-2.2-8.5 2.6z"/><path fill="#302998" stroke-width="1.4" d="M1347.1 358.9l8.5-2.2-6.5-2-8.5 2.2z"/><path fill="#2c238a" stroke-width="1.3" d="M1338.6 360.8l8.5-1.9-6.5-2-8.6 1.9z"/><path fill="#2a1f7d" stroke-width="1.3" d="M1330 362.6l8.6-1.8-6.6-2-8.5 1.7z"/><path fill="#271c72" stroke-width="1.3" d="M1321.5 364.2l8.5-1.6-6.5-2.1-8.5 1.6z"/><path fill="#261b70" stroke-width="1.2" d="M1313 365.8l8.5-1.6-6.5-2.1-8.6 1.6z"/><path fill="#261b6d" stroke-width="1.2" d="M1304.5 367.2l8.5-1.4-6.6-2.1-8.5 1.6z"/><path fill="#241865" stroke-width="1.8" d="M1295.9 369.7l8.6-2.5-6.6-1.9-8.5 1.5z"/><path fill="#231764" stroke-width="1.1" d="M1287.4 371l8.5-1.3-6.5-2.9-8.6 2.5z"/><path fill="#261b70" stroke-width="1.1" d="M1558.4 331.2l8.5 0.1-6.5-1.7-8.6 0z"/><path fill="#281c74" stroke-width="1.1" d="M1549.8 332.1l8.6-0.9-6.6-1.6-8.5 1.1z"/><path fill="#2a207f" stroke-width="1.1" d="M1541.3 333l8.5-0.9-6.5-1.4-8.5 0.9z"/><path fill="#259be8" stroke-width="1.1" d="M1439 324.4l8.5-1.6-6.6 0.1-8.5-0.2z"/><path fill="#2b91ef" stroke-width="2.3" d="M1430.4 329l8.6-4.6-6.6-1.7-8.5 2.9z"/><path fill="#2e87f7" stroke-width="2.4" d="M1421.9 334.7l8.5-5.7-6.5-3.4-8.6 5z"/><path fill="#327cfc" stroke-width="2.4" d="M1413.4 340.1l8.5-5.4-6.6-4.1-8.5 5.3z"/><path fill="#4168fa" stroke-width="2.4" d="M1404.8 344.6l8.6-4.5-6.6-4.2-8.5 4.8z"/><path fill="#4055e4" stroke-width="2.2" d="M1396.3 348.3l8.5-3.7-6.5-3.9-8.5 4.2z"/><path fill="#3d46d0" stroke-width="1.9" d="M1387.8 351.4l8.5-3.1-6.5-3.4-8.6 3.6z"/><path fill="#3a3ec1" stroke-width="1.7" d="M1379.2 354.2l8.6-2.8-6.6-2.9-8.5 3.1z"/><path fill="#3736b4" stroke-width="1.5" d="M1370.7 356.6l8.5-2.4-6.5-2.6-8.5 2.7z"/><path fill="#332fa3" stroke-width="1.4" d="M1362.2 358.8l8.5-2.2-6.5-2.3-8.6 2.4z"/><path fill="#2e258f" stroke-width="1.3" d="M1353.7 360.8l8.5-2-6.6-2.1-8.5 2.2z"/><path fill="#2b2081" stroke-width="1.3" d="M1345.1 362.7l8.6-1.9-6.6-1.9-8.5 1.9z"/><path fill="#281c74" stroke-width="1.2" d="M1336.6 364.5l8.5-1.8-6.5-1.9-8.6 1.8z"/><path fill="#261b70" stroke-width="1.2" d="M1328.1 366.1l8.5-1.6-6.6-1.9-8.5 1.6z"/><path fill="#241867" stroke-width="1.9" d="M1319.5 368.9l8.6-2.8-6.6-1.9-8.5 1.6z"/><path fill="#241765" stroke-width="1.5" d="M1311 370.1l8.5-1.2-6.5-3.1-8.5 1.4z"/><path fill="#231763" stroke-width="1.1" d="M1302.5 371.4l8.5-1.3-6.5-2.9-8.6 2.5z"/><path fill="#261b6e" stroke-width="1.1" d="M1573.5 331.8l8.5-0.1-6.6-1.7-8.5 1.3z"/><path fill="#271b71" stroke-width="1.1" d="M1564.9 332.8l8.6-1-6.6-0.5-8.5-0.1z"/><path fill="#291f7c" stroke-width="1.1" d="M1556.4 333.7l8.5-0.9-6.5-1.6-8.6 0.9z"/><path fill="#2c2389" stroke-width="1.1" d="M1547.9 334.5l8.5-0.8-6.6-1.6-8.5 0.9z"/><path fill="#2797eb" stroke-width="1.7" d="M1445.5 326.8l8.5-3.3-6.5-0.7-8.5 1.6z"/><path fill="#2d8cf3" stroke-width="2.4" d="M1437 332.4l8.5-5.6-6.5-2.4-8.6 4.6z"/><path fill="#2f81fa" stroke-width="2.4" d="M1428.4 338.3l8.6-5.9-6.6-3.4-8.5 5.7z"/><path fill="#3875fe" stroke-width="2.4" d="M1419.9 343.5l8.5-5.2-6.5-3.6-8.5 5.4z"/><path fill="#415ded" stroke-width="2.2" d="M1411.4 347.8l8.5-4.3-6.5-3.4-8.6 4.5z"/><path fill="#3e4cd7" stroke-width="2.0" d="M1402.9 351.3l8.5-3.5-6.6-3.2-8.5 3.7z"/><path fill="#3a3fc4" stroke-width="1.8" d="M1394.3 354.2l8.6-2.9-6.6-3-8.5 3.1z"/><path fill="#3837b7" stroke-width="1.6" d="M1385.8 356.7l8.5-2.5-6.5-2.8-8.6 2.8z"/><path fill="#3430a7" stroke-width="1.5" d="M1377.3 358.9l8.5-2.2-6.6-2.5-8.5 2.4z"/><path fill="#302998" stroke-width="1.4" d="M1368.7 360.9l8.6-2-6.6-2.3-8.5 2.2z"/><path fill="#2d248b" stroke-width="1.3" d="M1360.2 362.8l8.5-1.9-6.5-2.1-8.5 2z"/><path fill="#2a1f7e" stroke-width="1.2" d="M1351.7 364.6l8.5-1.8-6.5-2-8.6 1.9z"/><path fill="#271c73" stroke-width="1.2" d="M1343.2 366.3l8.5-1.7-6.6-1.9-8.5 1.8z"/><path fill="#261b6f" stroke-width="1.2" d="M1334.6 367.9l8.6-1.6-6.6-1.8-8.5 1.6z"/><path fill="#241866" stroke-width="1.4" d="M1326.1 370.5l8.5-2.6-6.5-1.8-8.6 2.8z"/><path fill="#261b6f" stroke-width="1.1" d="M1580 333.3l8.5 0.1-6.5-1.7-8.5 0.1z"/><path fill="#271c73" stroke-width="1.1" d="M1571.5 334.3l8.5-1-6.5-1.5-8.6 1z"/><path fill="#2a1f7e" stroke-width="1.1" d="M1563 335.2l8.5-0.9-6.6-1.5-8.5 0.9z"/><path fill="#259be8" stroke-width="1.1" d="M1460.6 325.7l8.5-0.8-6.5-1-8.6-0.4z"/><path fill="#2797eb" stroke-width="2.2" d="M1452.1 330.1l8.5-4.4-6.6-2.2-8.5 3.3z"/><path fill="#2e87f7" stroke-width="2.4" d="M1443.5 336l8.6-5.9-6.6-3.3-8.5 5.6z"/><path fill="#327cfc" stroke-width="2.4" d="M1435 341.7l8.5-5.7-6.5-3.6-8.6 5.9z"/><path fill="#4268fc" stroke-width="2.2" d="M1426.5 346.5l8.5-4.8-6.6-3.4-8.5 5.2z"/><path fill="#4055e3" stroke-width="2.0" d="M1417.9 350.6l8.6-4.1-6.6-3-8.5 4.3z"/><path fill="#3c45cd" stroke-width="1.8" d="M1409.4 353.9l8.5-3.3-6.5-2.8-8.5 3.5z"/><path fill="#393dbe" stroke-width="1.7" d="M1400.9 356.7l8.5-2.8-6.5-2.6-8.6 2.9z"/><path fill="#3530aa" stroke-width="1.6" d="M1392.4 359.1l8.5-2.4-6.6-2.5-8.5 2.5z"/><path fill="#31299a" stroke-width="1.5" d="M1383.8 361.2l8.6-2.1-6.6-2.4-8.5 2.2z"/><path fill="#2d248c" stroke-width="1.4" d="M1375.3 363.1l8.5-1.9-6.5-2.3-8.6 2z"/><path fill="#2b2080" stroke-width="1.3" d="M1366.8 364.9l8.5-1.8-6.6-2.2-8.5 1.9z"/><path fill="#291f7b" stroke-width="1.2" d="M1358.2 366.5l8.6-1.6-6.6-2.1-8.5 1.8z"/><path fill="#271b71" stroke-width="1.2" d="M1349.7 368.2l8.5-1.7-6.5-1.9-8.5 1.7z"/><path fill="#261b6e" stroke-width="1.2" d="M1341.2 369.7l8.5-1.5-6.5-1.9-8.6 1.6z"/><path fill="#241865" stroke-width="1.4" d="M1332.6 372.2l8.6-2.5-6.6-1.8-8.5 2.6z"/><path fill="#261b6e" stroke-width="1.1" d="M1595.1 333.9l8.5-0.1-6.5-1.7-8.6 1.3z"/><path fill="#271b71" stroke-width="1.1" d="M1586.6 334.9l8.5-1-6.6-0.5-8.5-0.1z"/><path fill="#291f7c" stroke-width="1.1" d="M1578 335.8l8.6-0.9-6.6-1.6-8.5 1z"/><path fill="#259be8" stroke-width="1.1" d="M1475.7 327.1l8.5 0.4-6.5-0.3-8.6-2.3z"/><path fill="#2797eb" stroke-width="2.1" d="M1467.1 329.6l8.6-2.5-6.6-2.2-8.5 0.8z"/><path fill="#2d8cf3" stroke-width="2.4" d="M1458.6 334.5l8.5-4.9-6.5-3.9-8.5 4.4z"/><path fill="#2f81fa" stroke-width="2.4" d="M1450.1 339.9l8.5-5.4-6.5-4.4-8.6 5.9z"/><path fill="#3875fe" stroke-width="2.4" d="M1441.6 345l8.5-5.1-6.6-3.9-8.5 5.7z"/><path fill="#425ff1" stroke-width="2.1" d="M1433 349.5l8.6-4.5-6.6-3.3-8.5 4.8z"/><path fill="#3e4dd9" stroke-width="1.9" d="M1424.5 353.1l8.5-3.6-6.5-3-8.6 4.1z"/><path fill="#3b3fc4" stroke-width="1.7" d="M1416 356.2l8.5-3.1-6.6-2.5-8.5 3.3z"/><path fill="#3737b6" stroke-width="1.6" d="M1407.4 358.9l8.6-2.7-6.6-2.3-8.5 2.8z"/><path fill="#332fa4" stroke-width="1.5" d="M1398.9 361.2l8.5-2.3-6.5-2.2-8.5 2.4z"/><path fill="#2e258f" stroke-width="1.4" d="M1390.4 363.3l8.5-2.1-6.5-2.1-8.6 2.1z"/><path fill="#2b2081" stroke-width="1.3" d="M1381.8 365.2l8.6-1.9-6.6-2.1-8.5 1.9z"/><path fill="#291f7c" stroke-width="1.3" d="M1373.3 366.9l8.5-1.7-6.5-2.1-8.5 1.8z"/><path fill="#271b71" stroke-width="1.2" d="M1364.8 368.5l8.5-1.6-6.5-2-8.6 1.6z"/><path fill="#261b6e" stroke-width="1.2" d="M1356.3 370.1l8.5-1.6-6.6-2-8.5 1.7z"/><path fill="#241866" stroke-width="1.8" d="M1347.7 372.6l8.6-2.5-6.6-1.9-8.5 1.5z"/><path fill="#231764" stroke-width="1.1" d="M1339.2 373.9l8.5-1.3-6.5-2.9-8.6 2.5z"/><path fill="#261b6f" stroke-width="1.1" d="M1601.6 335.5l8.6 0-6.6-1.7-8.5 0.1z"/><path fill="#271c73" stroke-width="1.1" d="M1593.1 336.4l8.5-0.9-6.5-1.6-8.5 1z"/><path fill="#2a207f" stroke-width="1.1" d="M1584.6 337.3l8.5-0.9-6.5-1.5-8.6 0.9z"/><path fill="#259be8" stroke-width="1.2" d="M1482.2 328.9l8.6-1.9-6.6 0.5-8.5-0.4z"/><path fill="#2b91ef" stroke-width="2.4" d="M1473.7 333.5l8.5-4.6-6.5-1.8-8.6 2.5z"/><path fill="#2e87f7" stroke-width="2.4" d="M1465.2 339.1l8.5-5.6-6.6-3.9-8.5 4.9z"/><path fill="#327cfc" stroke-width="2.4" d="M1456.6 344.2l8.6-5.1-6.6-4.6-8.5 5.4z"/><path fill="#4268fc" stroke-width="2.3" d="M1448.1 348.6l8.5-4.4-6.5-4.3-8.5 5.1z"/><path fill="#4055e5" stroke-width="2.0" d="M1439.6 352.4l8.5-3.8-6.5-3.6-8.6 4.5z"/><path fill="#3d46cf" stroke-width="1.8" d="M1431 355.7l8.6-3.3-6.6-2.9-8.5 3.6z"/><path fill="#393dc0" stroke-width="1.6" d="M1422.5 358.5l8.5-2.8-6.5-2.6-8.5 3.1z"/><path fill="#3635b1" stroke-width="1.5" d="M1414 361l8.5-2.5-6.5-2.3-8.6 2.7z"/><path fill="#312a9b" stroke-width="1.4" d="M1405.5 363.2l8.5-2.2-6.6-2.1-8.5 2.3z"/><path fill="#2d248c" stroke-width="1.3" d="M1396.9 365.2l8.6-2-6.6-2-8.5 2.1z"/><path fill="#2a1f7e" stroke-width="1.3" d="M1388.4 367.1l8.5-1.9-6.5-1.9-8.6 1.9z"/><path fill="#271c73" stroke-width="1.2" d="M1379.9 368.8l8.5-1.7-6.6-1.9-8.5 1.7z"/><path fill="#261b6f" stroke-width="1.2" d="M1371.3 370.4l8.6-1.6-6.6-1.9-8.5 1.6z"/><path fill="#241866" stroke-width="1.8" d="M1362.8 373l8.5-2.6-6.5-1.9-8.5 1.6z"/><path fill="#231764" stroke-width="1.1" d="M1354.3 374.3l8.5-1.3-6.5-2.9-8.6 2.5z"/><path fill="#261b6f" stroke-width="1.1" d="M1616.7 335.9l8.6 0-6.6-1.7-8.5 1.3z"/><path fill="#271b72" stroke-width="1.1" d="M1608.2 336.9l8.5-1-6.5-0.4-8.6 0z"/><path fill="#291f7c" stroke-width="1.1" d="M1599.7 337.9l8.5-1-6.6-1.4-8.5 0.9z"/><path fill="#259be8" stroke-width="1.6" d="M1488.8 330.8l8.5-3.2-6.5-0.6-8.6 1.9z"/><path fill="#2d8cf3" stroke-width="2.3" d="M1480.2 336.6l8.6-5.8-6.6-1.9-8.5 4.6z"/><path fill="#2f81fa" stroke-width="2.4" d="M1471.7 342.7l8.5-6.1-6.5-3.1-8.5 5.6z"/><path fill="#3e6fff" stroke-width="2.4" d="M1463.2 347.9l8.5-5.2-6.5-3.6-8.6 5.1z"/><path fill="#405dec" stroke-width="2.3" d="M1454.7 352.1l8.5-4.2-6.6-3.7-8.5 4.4z"/><path fill="#3e4cd7" stroke-width="2.0" d="M1446.1 355.5l8.6-3.4-6.6-3.5-8.5 3.8z"/><path fill="#3b3fc4" stroke-width="1.8" d="M1437.6 358.3l8.5-2.8-6.5-3.1-8.6 3.3z"/><path fill="#3837b7" stroke-width="1.6" d="M1429.1 360.9l8.5-2.6-6.6-2.6-8.5 2.8z"/><path fill="#342fa7" stroke-width="1.4" d="M1420.5 363.2l8.6-2.3-6.6-2.4-8.5 2.5z"/><path fill="#302997" stroke-width="1.4" d="M1412 365.2l8.5-2-6.5-2.2-8.5 2.2z"/><path fill="#2c2389" stroke-width="1.3" d="M1403.5 367.2l8.5-2-6.5-2-8.6 2z"/><path fill="#291f7c" stroke-width="1.2" d="M1394.9 368.9l8.6-1.7-6.6-2-8.5 1.9z"/><path fill="#271b71" stroke-width="1.2" d="M1386.4 370.6l8.5-1.7-6.5-1.8-8.5 1.7z"/><path fill="#261b6e" stroke-width="1.2" d="M1377.9 372.2l8.5-1.6-6.5-1.8-8.6 1.6z"/><path fill="#241865" stroke-width="1.4" d="M1369.4 374.7l8.5-2.5-6.6-1.8-8.5 2.6z"/><path fill="#271b70" stroke-width="1.1" d="M1623.3 337.5l8.5 0.1-6.5-1.7-8.6 0z"/><path fill="#291f7b" stroke-width="1.1" d="M1614.8 338.4l8.5-0.9-6.6-1.6-8.5 1z"/><path fill="#2b2080" stroke-width="1.1" d="M1606.2 339.3l8.6-0.9-6.6-1.5-8.5 1z"/><path fill="#259be8" stroke-width="1.4" d="M1503.9 330.7l8.5-0.8-6.6-1.5-8.5-0.8z"/><path fill="#2797eb" stroke-width="2.3" d="M1495.3 334.5l8.6-3.8-6.6-3.1-8.5 3.2z"/><path fill="#2e87f7" stroke-width="2.4" d="M1486.8 340.1l8.5-5.6-6.5-3.7-8.6 5.8z"/><path fill="#327cfc" stroke-width="2.3" d="M1478.3 345.8l8.5-5.7-6.6-3.5-8.5 6.1z"/><path fill="#4268fc" stroke-width="2.2" d="M1469.7 350.8l8.6-5-6.6-3.1-8.5 5.2z"/><path fill="#3f54e2" stroke-width="2.0" d="M1461.2 354.9l8.5-4.1-6.5-2.9-8.5 4.2z"/><path fill="#3c45cc" stroke-width="1.9" d="M1452.7 358.2l8.5-3.3-6.5-2.8-8.6 3.4z"/><path fill="#393dbe" stroke-width="1.7" d="M1444.2 360.9l8.5-2.7-6.6-2.7-8.5 2.8z"/><path fill="#3531ab" stroke-width="1.6" d="M1435.6 363.3l8.6-2.4-6.6-2.6-8.5 2.6z"/><path fill="#312a9b" stroke-width="1.4" d="M1427.1 365.3l8.5-2-6.5-2.4-8.6 2.3z"/><path fill="#2e248d" stroke-width="1.3" d="M1418.6 367.3l8.5-2-6.6-2.1-8.5 2z"/><path fill="#2a2080" stroke-width="1.3" d="M1410 369.1l8.6-1.8-6.6-2.1-8.5 2z"/><path fill="#281c74" stroke-width="1.2" d="M1401.5 370.8l8.5-1.7-6.5-1.9-8.6 1.7z"/><path fill="#261b70" stroke-width="1.2" d="M1393 372.4l8.5-1.6-6.6-1.9-8.5 1.7z"/><path fill="#241866" stroke-width="1.8" d="M1384.4 375.1l8.6-2.7-6.6-1.8-8.5 1.6z"/><path fill="#231764" stroke-width="1.1" d="M1375.9 376.4l8.5-1.3-6.5-2.9-8.5 2.5z"/><path fill="#271b71" stroke-width="1.1" d="M1629.8 339.1l8.6-1-6.6-0.5-8.5-0.1z"/><path fill="#2a1f7d" stroke-width="1.1" d="M1621.3 339.9l8.5-0.8-6.5-1.6-8.5 0.9z"/><path fill="#2d238a" stroke-width="1.1" d="M1612.8 340.7l8.5-0.8-6.5-1.5-8.6 0.9z"/><path fill="#2797eb" stroke-width="2.1" d="M1510.4 334.3l8.5-3.3-6.5-1.1-8.5 0.8z"/><path fill="#2d8cf3" stroke-width="2.4" d="M1501.9 339.3l8.5-5-6.5-3.6-8.6 3.8z"/><path fill="#2f81fa" stroke-width="2.4" d="M1493.4 344.6l8.5-5.3-6.6-4.8-8.5 5.6z"/><path fill="#3875fe" stroke-width="2.4" d="M1484.8 349.4l8.6-4.8-6.6-4.5-8.5 5.7z"/><path fill="#425ff1" stroke-width="2.1" d="M1476.3 353.6l8.5-4.2-6.5-3.6-8.6 5z"/><path fill="#3f4dd9" stroke-width="1.8" d="M1467.8 357.3l8.5-3.7-6.6-2.8-8.5 4.1z"/><path fill="#3b3fc4" stroke-width="1.7" d="M1459.2 360.5l8.6-3.2-6.6-2.4-8.5 3.3z"/><path fill="#3737b6" stroke-width="1.6" d="M1450.7 363.2l8.5-2.7-6.5-2.3-8.5 2.7z"/><path fill="#332fa4" stroke-width="1.5" d="M1442.2 365.5l8.5-2.3-6.5-2.3-8.6 2.4z"/><path fill="#2e258f" stroke-width="1.4" d="M1433.6 367.5l8.6-2-6.6-2.2-8.5 2z"/><path fill="#2b2081" stroke-width="1.3" d="M1425.1 369.3l8.5-1.8-6.5-2.2-8.5 2z"/><path fill="#291f7c" stroke-width="1.3" d="M1416.6 371l8.5-1.7-6.5-2-8.6 1.8z"/><path fill="#271c72" stroke-width="1.2" d="M1408.1 372.7l8.5-1.7-6.6-1.9-8.5 1.7z"/><path fill="#261b6e" stroke-width="1.2" d="M1399.5 374.3l8.6-1.6-6.6-1.9-8.5 1.6z"/><path fill="#241865" stroke-width="1.4" d="M1391 376.8l8.5-2.5-6.5-1.9-8.6 2.7z"/><path fill="#2a207f" stroke-width="1.1" d="M1627.9 341.5l8.5-0.9-6.6-1.5-8.5 0.8z"/><path fill="#2d248c" stroke-width="1.1" d="M1619.3 342.2l8.6-0.7-6.6-1.6-8.5 0.8z"/><path fill="#312a9c" stroke-width="1.1" d="M1610.8 342.8l8.5-0.6-6.5-1.5-8.6 0.6z"/><path fill="#259be8" stroke-width="1.1" d="M1525.5 332.4l8.5-1.3-6.5-0.1-8.6 0z"/><path fill="#2b91ef" stroke-width="2.1" d="M1517 337.1l8.5-4.7-6.6-1.4-8.5 3.3z"/><path fill="#2e87f7" stroke-width="2.4" d="M1508.4 343.1l8.6-6-6.6-2.8-8.5 5z"/><path fill="#327cfc" stroke-width="2.4" d="M1499.9 348.7l8.5-5.6-6.5-3.8-8.5 5.3z"/><path fill="#4167f9" stroke-width="2.4" d="M1491.4 353.2l8.5-4.5-6.5-4.1-8.6 4.8z"/><path fill="#4055e3" stroke-width="2.1" d="M1482.8 356.9l8.6-3.7-6.6-3.8-8.5 4.2z"/><path fill="#3d46cf" stroke-width="1.8" d="M1474.3 360l8.5-3.1-6.5-3.3-8.5 3.7z"/><path fill="#393dc0" stroke-width="1.6" d="M1465.8 362.7l8.5-2.7-6.5-2.7-8.6 3.2z"/><path fill="#3635b1" stroke-width="1.5" d="M1457.3 365.2l8.5-2.5-6.6-2.2-8.5 2.7z"/><path fill="#312a9b" stroke-width="1.4" d="M1448.7 367.4l8.6-2.2-6.6-2-8.5 2.3z"/><path fill="#2d248b" stroke-width="1.3" d="M1440.2 369.5l8.5-2.1-6.5-1.9-8.6 2z"/><path fill="#2a1f7e" stroke-width="1.3" d="M1431.7 371.3l8.5-1.8-6.6-2-8.5 1.8z"/><path fill="#271c73" stroke-width="1.2" d="M1423.1 373l8.6-1.7-6.6-2-8.5 1.7z"/><path fill="#261b6f" stroke-width="1.2" d="M1414.6 374.6l8.5-1.6-6.5-2-8.5 1.7z"/><path fill="#241866" stroke-width="1.8" d="M1406.1 377.2l8.5-2.6-6.5-1.9-8.6 1.6z"/><path fill="#231764" stroke-width="1.1" d="M1397.5 378.5l8.6-1.3-6.6-2.9-8.5 2.5z"/><path fill="#261b6e" stroke-width="1.1" d="M1660 340.1l8.5 0-6.5-1.7-8.6 1.3z"/><path fill="#302897" stroke-width="1.1" d="M1625.9 343.6l8.5-0.8-6.5-1.3-8.6 0.7z"/><path fill="#332fa5" stroke-width="1.1" d="M1617.3 344.1l8.6-0.5-6.6-1.4-8.5 0.6z"/><path fill="#259be8" stroke-width="1.1" d="M1540.6 333l8.5 0.6-6.5-0.4-8.6-2.1z"/><path fill="#2797eb" stroke-width="1.9" d="M1532 335.6l8.6-2.6-6.6-1.9-8.5 1.3z"/><path fill="#2d8cf3" stroke-width="2.4" d="M1523.5 340.7l8.5-5.1-6.5-3.2-8.5 4.7z"/><path fill="#2f81fa" stroke-width="2.4" d="M1515 346.4l8.5-5.7-6.5-3.6-8.6 6z"/><path fill="#3875fe" stroke-width="2.3" d="M1506.5 351.8l8.5-5.4-6.6-3.3-8.5 5.6z"/><path fill="#415ded" stroke-width="2.2" d="M1497.9 356.2l8.6-4.4-6.6-3.1-8.5 4.5z"/><path fill="#3e4cd6" stroke-width="2.0" d="M1489.4 359.8l8.5-3.6-6.5-3-8.6 3.7z"/><path fill="#3a3ec3" stroke-width="1.8" d="M1480.9 362.7l8.5-2.9-6.6-2.9-8.5 3.1z"/><path fill="#3737b6" stroke-width="1.6" d="M1472.3 365.2l8.6-2.5-6.6-2.7-8.5 2.7z"/><path fill="#332fa6" stroke-width="1.5" d="M1463.8 367.4l8.5-2.2-6.5-2.5-8.5 2.5z"/><path fill="#302997" stroke-width="1.3" d="M1455.3 369.4l8.5-2-6.5-2.2-8.6 2.2z"/><path fill="#2c2389" stroke-width="1.3" d="M1446.7 371.3l8.6-1.9-6.6-2-8.5 2.1z"/><path fill="#291f7c" stroke-width="1.2" d="M1438.2 373.1l8.5-1.8-6.5-1.8-8.5 1.8z"/><path fill="#271b71" stroke-width="1.2" d="M1429.7 374.8l8.5-1.7-6.5-1.8-8.6 1.7z"/><path fill="#261b6e" stroke-width="1.2" d="M1421.2 376.4l8.5-1.6-6.6-1.8-8.5 1.6z"/><path fill="#241865" stroke-width="1.4" d="M1412.6 378.9l8.6-2.5-6.6-1.8-8.5 2.6z"/><path fill="#261b6e" stroke-width="1.1" d="M1666.5 341.8l8.6 0-6.6-1.7-8.5 0z"/><path fill="#271c73" stroke-width="1.1" d="M1658 342.7l8.5-0.9-6.5-1.7-8.5 1z"/><path fill="#259be8" stroke-width="1.4" d="M1547.1 335.1l8.6-2.1-6.6 0.6-8.5-0.6z"/><path fill="#2b91ef" stroke-width="2.4" d="M1538.6 339.6l8.5-4.5-6.5-2.1-8.6 2.6z"/><path fill="#2e87f7" stroke-width="2.4" d="M1530.1 345.1l8.5-5.5-6.6-4-8.5 5.1z"/><path fill="#327cfc" stroke-width="2.4" d="M1521.5 350.3l8.6-5.2-6.6-4.4-8.5 5.7z"/><path fill="#4268fc" stroke-width="2.2" d="M1513 354.9l8.5-4.6-6.5-3.9-8.5 5.4z"/><path fill="#4055e4" stroke-width="1.9" d="M1504.5 358.8l8.5-3.9-6.5-3.1-8.6 4.4z"/><path fill="#3c45ce" stroke-width="1.8" d="M1495.9 362.2l8.6-3.4-6.6-2.6-8.5 3.6z"/><path fill="#393dbe" stroke-width="1.7" d="M1487.4 365.1l8.5-2.9-6.5-2.4-8.5 2.9z"/><path fill="#3430aa" stroke-width="1.6" d="M1478.9 367.5l8.5-2.4-6.5-2.4-8.6 2.5z"/><path fill="#302999" stroke-width="1.5" d="M1470.4 369.6l8.5-2.1-6.6-2.3-8.5 2.2z"/><path fill="#2d248c" stroke-width="1.4" d="M1461.8 371.5l8.6-1.9-6.6-2.2-8.5 2z"/><path fill="#2a207f" stroke-width="1.3" d="M1453.3 373.3l8.5-1.8-6.5-2.1-8.6 1.9z"/><path fill="#281c74" stroke-width="1.2" d="M1444.8 375l8.5-1.7-6.6-2-8.5 1.8z"/><path fill="#261b70" stroke-width="1.2" d="M1436.2 376.6l8.6-1.6-6.6-1.9-8.5 1.7z"/><path fill="#241866" stroke-width="1.8" d="M1427.7 379.3l8.5-2.7-6.5-1.8-8.5 1.6z"/><path fill="#231764" stroke-width="1.1" d="M1419.2 380.6l8.5-1.3-6.5-2.9-8.6 2.5z"/><path fill="#261b6f" stroke-width="1.1" d="M1673.1 343.4l8.5 0.1-6.5-1.7-8.6 0z"/><path fill="#271c73" stroke-width="1.1" d="M1664.6 344.4l8.5-1-6.6-1.6-8.5 0.9z"/><path fill="#259be8" stroke-width="1.4" d="M1553.7 336.5l8.5-3.5-6.5 0-8.6 2.1z"/><path fill="#2d8cf3" stroke-width="2.4" d="M1545.2 342.6l8.5-6.1-6.6-1.4-8.5 4.5z"/><path fill="#2f81fa" stroke-width="2.4" d="M1536.6 348.9l8.6-6.3-6.6-3-8.5 5.5z"/><path fill="#3e6fff" stroke-width="2.4" d="M1528.1 354.1l8.5-5.2-6.5-3.8-8.6 5.2z"/><path fill="#415dee" stroke-width="2.2" d="M1519.6 358.2l8.5-4.1-6.6-3.8-8.5 4.6z"/><path fill="#3e4dd8" stroke-width="1.9" d="M1511 361.7l8.6-3.5-6.6-3.3-8.5 3.9z"/><path fill="#3b3fc5" stroke-width="1.7" d="M1502.5 364.6l8.5-2.9-6.5-2.9-8.6 3.4z"/><path fill="#3837b7" stroke-width="1.5" d="M1494 367.2l8.5-2.6-6.6-2.4-8.5 2.9z"/><path fill="#332fa5" stroke-width="1.4" d="M1485.4 369.6l8.6-2.4-6.6-2.1-8.5 2.4z"/><path fill="#2e258f" stroke-width="1.4" d="M1476.9 371.7l8.5-2.1-6.5-2.1-8.5 2.1z"/><path fill="#2b2081" stroke-width="1.3" d="M1468.4 373.6l8.5-1.9-6.5-2.1-8.6 1.9z"/><path fill="#291f7c" stroke-width="1.3" d="M1459.9 375.3l8.5-1.7-6.6-2.1-8.5 1.8z"/><path fill="#271b71" stroke-width="1.2" d="M1451.3 376.9l8.6-1.6-6.6-2-8.5 1.7z"/><path fill="#261b6e" stroke-width="1.2" d="M1442.8 378.5l8.5-1.6-6.5-1.9-8.6 1.6z"/><path fill="#241865" stroke-width="1.4" d="M1434.3 381l8.5-2.5-6.6-1.9-8.5 2.7z"/><path fill="#261b70" stroke-width="1.1" d="M1696.7 342.5l8.5-1.1-6.5-0.5-8.5 1.3z"/><path fill="#271b71" stroke-width="1.1" d="M1688.2 343.6l8.5-1.1-6.5-0.3-8.6 1.3z"/><path fill="#281c73" stroke-width="1.1" d="M1679.7 344.8l8.5-1.2-6.6-0.1-8.5-0.1z"/><path fill="#2a1f7d" stroke-width="1.1" d="M1671.1 345.8l8.6-1-6.6-1.4-8.5 1z"/><path fill="#2b2081" stroke-width="1.1" d="M1662.6 346.8l8.5-1-6.5-1.4-8.6 0.8z"/><path fill="#259be8" stroke-width="1.4" d="M1568.8 336l8.5-0.7-6.6-1.5-8.5-0.8z"/><path fill="#2797eb" stroke-width="2.2" d="M1560.2 340l8.6-4-6.6-3-8.5 3.5z"/><path fill="#2d8cf3" stroke-width="2.3" d="M1551.7 345.7l8.5-5.7-6.5-3.5-8.5 6.1z"/><path fill="#327cfc" stroke-width="2.3" d="M1543.2 351.7l8.5-6-6.5-3.1-8.6 6.3z"/><path fill="#4269fd" stroke-width="2.2" d="M1534.6 356.9l8.6-5.2-6.6-2.8-8.5 5.2z"/><path fill="#3f54e2" stroke-width="2.1" d="M1526.1 361.1l8.5-4.2-6.5-2.8-8.5 4.1z"/><path fill="#3c45cd" stroke-width="1.9" d="M1517.6 364.4l8.5-3.3-6.5-2.9-8.6 3.5z"/><path fill="#393dbe" stroke-width="1.7" d="M1509.1 367.1l8.5-2.7-6.6-2.7-8.5 2.9z"/><path fill="#3531ab" stroke-width="1.5" d="M1500.5 369.5l8.6-2.4-6.6-2.5-8.5 2.6z"/><path fill="#312a9b" stroke-width="1.4" d="M1492 371.6l8.5-2.1-6.5-2.3-8.6 2.4z"/><path fill="#2d248c" stroke-width="1.3" d="M1483.5 373.6l8.5-2-6.6-2-8.5 2.1z"/><path fill="#2a207f" stroke-width="1.3" d="M1474.9 375.4l8.6-1.8-6.6-1.9-8.5 1.9z"/><path fill="#271c73" stroke-width="1.2" d="M1466.4 377.2l8.5-1.8-6.5-1.8-8.5 1.7z"/><path fill="#261b6f" stroke-width="1.2" d="M1457.9 378.8l8.5-1.6-6.5-1.9-8.6 1.6z"/><path fill="#241866" stroke-width="1.8" d="M1449.3 381.4l8.6-2.6-6.6-1.9-8.5 1.6z"/><path fill="#231764" stroke-width="1.1" d="M1440.8 382.7l8.5-1.3-6.5-2.9-8.5 2.5z"/><path fill="#2a1f7e" stroke-width="1.1" d="M1694.7 344.8l8.6-0.9-6.6-1.4-8.5 1.1z"/><path fill="#2b2082" stroke-width="1.1" d="M1686.2 345.8l8.5-1-6.5-1.2-8.5 1.2z"/><path fill="#2d248c" stroke-width="1.1" d="M1677.7 346.8l8.5-1-6.5-1-8.6 1z"/><path fill="#2f2590" stroke-width="1.1" d="M1669.1 347.8l8.6-1-6.6-1-8.5 1z"/><path fill="#2797eb" stroke-width="2.2" d="M1575.3 339.7l8.5-3.3-6.5-1.1-8.5 0.7z"/><path fill="#2d8cf3" stroke-width="2.4" d="M1566.8 344.9l8.5-5.2-6.5-3.7-8.6 4z"/><path fill="#2f81fa" stroke-width="2.4" d="M1558.3 350.3l8.5-5.4-6.6-4.9-8.5 5.7z"/><path fill="#3875fe" stroke-width="2.4" d="M1549.7 355.2l8.6-4.9-6.6-4.6-8.5 6z"/><path fill="#4065f5" stroke-width="2.0" d="M1541.2 359.6l8.5-4.4-6.5-3.5-8.6 5.2z"/><path fill="#3f4edb" stroke-width="1.8" d="M1532.7 363.4l8.5-3.8-6.6-2.7-8.5 4.2z"/><path fill="#3b44c8" stroke-width="1.7" d="M1524.1 366.7l8.6-3.3-6.6-2.3-8.5 3.3z"/><path fill="#3737b6" stroke-width="1.6" d="M1515.6 369.4l8.5-2.7-6.5-2.3-8.5 2.7z"/><path fill="#332fa4" stroke-width="1.5" d="M1507.1 371.7l8.5-2.3-6.5-2.3-8.6 2.4z"/><path fill="#2e258f" stroke-width="1.4" d="M1498.5 373.7l8.6-2-6.6-2.2-8.5 2.1z"/><path fill="#2b2082" stroke-width="1.3" d="M1490 375.6l8.5-1.9-6.5-2.1-8.5 2z"/><path fill="#291f7c" stroke-width="1.2" d="M1481.5 377.3l8.5-1.7-6.5-2-8.6 1.8z"/><path fill="#271b71" stroke-width="1.2" d="M1473 379l8.5-1.7-6.6-1.9-8.5 1.8z"/><path fill="#261b6e" stroke-width="1.2" d="M1464.4 380.6l8.6-1.6-6.6-1.8-8.5 1.6z"/><path fill="#241865" stroke-width="1.4" d="M1455.9 383.1l8.5-2.5-6.5-1.8-8.6 2.6z"/><path fill="#2f2590" stroke-width="1.1" d="M1692.8 346.9l8.5-0.7-6.6-1.4-8.5 1z"/><path fill="#322a9d" stroke-width="1.1" d="M1684.2 347.7l8.6-0.8-6.6-1.1-8.5 1z"/><path fill="#3530aa" stroke-width="1.1" d="M1675.7 348.4l8.5-0.7-6.5-0.9-8.6 1z"/><path fill="#3737b6" stroke-width="1.1" d="M1667.2 349.1l8.5-0.7-6.6-0.6-8.5 0.8z"/><path fill="#23a0e5" stroke-width="1.1" d="M1590.4 337.7l8.5-1.3-6.5 0-8.6 0z"/><path fill="#2797eb" stroke-width="2.2" d="M1581.9 342.5l8.5-4.8-6.6-1.3-8.5 3.3z"/><path fill="#2e87f7" stroke-width="2.4" d="M1573.3 348.7l8.6-6.2-6.6-2.8-8.5 5.2z"/><path fill="#327cfc" stroke-width="2.4" d="M1564.8 354.4l8.5-5.7-6.5-3.8-8.5 5.4z"/><path fill="#4268fc" stroke-width="2.4" d="M1556.3 359.1l8.5-4.7-6.5-4.1-8.6 4.9z"/><path fill="#4056e5" stroke-width="2.1" d="M1547.7 362.8l8.6-3.7-6.6-3.9-8.5 4.4z"/><path fill="#3d46d1" stroke-width="1.8" d="M1539.2 366l8.5-3.2-6.5-3.2-8.5 3.8z"/><path fill="#3a3ec1" stroke-width="1.6" d="M1530.7 368.8l8.5-2.8-6.5-2.6-8.6 3.3z"/><path fill="#3636b2" stroke-width="1.5" d="M1522.2 371.4l8.5-2.6-6.6-2.1-8.5 2.7z"/><path fill="#312a9b" stroke-width="1.4" d="M1513.6 373.7l8.6-2.3-6.6-2-8.5 2.3z"/><path fill="#2d248c" stroke-width="1.4" d="M1505.1 375.8l8.5-2.1-6.5-2-8.6 2z"/><path fill="#2a1f7e" stroke-width="1.3" d="M1496.6 377.6l8.5-1.8-6.6-2.1-8.5 1.9z"/><path fill="#271c73" stroke-width="1.2" d="M1488 379.3l8.6-1.7-6.6-2-8.5 1.7z"/><path fill="#261b70" stroke-width="1.2" d="M1479.5 380.9l8.5-1.6-6.5-2-8.5 1.7z"/><path fill="#241866" stroke-width="1.8" d="M1471 383.5l8.5-2.6-6.5-1.9-8.6 1.6z"/><path fill="#231764" stroke-width="1.1" d="M1462.4 384.8l8.6-1.3-6.6-2.9-8.5 2.5z"/><path fill="#3530aa" stroke-width="1.1" d="M1690.8 348.8l8.5-0.3-6.5-1.6-8.6 0.8z"/><path fill="#393dbe" stroke-width="1.1" d="M1682.2 349l8.6-0.2-6.6-1.1-8.5 0.7z"/><path fill="#3b44ca" stroke-width="1.1" d="M1673.7 349.2l8.5-0.2-6.5-0.6-8.5 0.7z"/><path fill="#259be8" stroke-width="1.1" d="M1605.5 339.6l8.5 1.6-6.5-2.2-8.6-2.6z"/><path fill="#259be8" stroke-width="1.9" d="M1596.9 341.4l8.6-1.8-6.6-3.2-8.5 1.3z"/><path fill="#2b91ef" stroke-width="2.4" d="M1588.4 346.2l8.5-4.8-6.5-3.7-8.5 4.8z"/><path fill="#2f81fa" stroke-width="2.4" d="M1579.9 352.1l8.5-5.9-6.5-3.7-8.6 6.2z"/><path fill="#3875fe" stroke-width="2.3" d="M1571.4 357.6l8.5-5.5-6.6-3.4-8.5 5.7z"/><path fill="#415ef0" stroke-width="2.2" d="M1562.8 362.1l8.6-4.5-6.6-3.2-8.5 4.7z"/><path fill="#3e4dd8" stroke-width="2.0" d="M1554.3 365.8l8.5-3.7-6.5-3-8.6 3.7z"/><path fill="#3b3fc5" stroke-width="1.8" d="M1545.8 368.8l8.5-3-6.6-3-8.5 3.2z"/><path fill="#3837b7" stroke-width="1.6" d="M1537.2 371.3l8.6-2.5-6.6-2.8-8.5 2.8z"/><path fill="#3430a8" stroke-width="1.4" d="M1528.7 373.6l8.5-2.3-6.5-2.5-8.5 2.6z"/><path fill="#302998" stroke-width="1.3" d="M1520.2 375.6l8.5-2-6.5-2.2-8.6 2.3z"/><path fill="#2d238a" stroke-width="1.3" d="M1511.6 377.6l8.6-2-6.6-1.9-8.5 2.1z"/><path fill="#291f7d" stroke-width="1.2" d="M1503.1 379.4l8.5-1.8-6.5-1.8-8.5 1.8z"/><path fill="#271b71" stroke-width="1.2" d="M1494.6 381.1l8.5-1.7-6.5-1.8-8.6 1.7z"/><path fill="#261b6e" stroke-width="1.2" d="M1486.1 382.7l8.5-1.6-6.6-1.8-8.5 1.6z"/><path fill="#241865" stroke-width="1.4" d="M1477.5 385.2l8.6-2.5-6.6-1.8-8.5 2.6z"/><path fill="#393dc0" stroke-width="1.1" d="M1688.8 350.4l8.5 0.3-6.5-1.9-8.6 0.2z"/><path fill="#3d4cd5" stroke-width="1.1" d="M1680.3 349.8l8.5 0.6-6.6-1.4-8.5 0.2z"/><path fill="#2b91ef" stroke-width="2.0" d="M1612 344l8.6-1.1-6.6-1.7-8.5-1.6z"/><path fill="#2d8cf3" stroke-width="2.4" d="M1603.5 347.2l8.5-3.2-6.5-4.4-8.6 1.8z"/><path fill="#2e87f7" stroke-width="2.4" d="M1595 351.6l8.5-4.4-6.6-5.8-8.5 4.8z"/><path fill="#327cfc" stroke-width="2.4" d="M1586.4 356.3l8.6-4.7-6.6-5.4-8.5 5.9z"/><path fill="#3e6fff" stroke-width="2.2" d="M1577.9 360.8l8.5-4.5-6.5-4.2-8.5 5.5z"/><path fill="#4156e6" stroke-width="2.0" d="M1569.4 364.8l8.5-4-6.5-3.2-8.6 4.5z"/><path fill="#3d46d0" stroke-width="1.8" d="M1560.9 368.3l8.5-3.5-6.6-2.7-8.5 3.7z"/><path fill="#393dbf" stroke-width="1.7" d="M1552.3 371.2l8.6-2.9-6.6-2.5-8.5 3z"/><path fill="#3531ac" stroke-width="1.6" d="M1543.8 373.7l8.5-2.5-6.5-2.4-8.6 2.5z"/><path fill="#312a9b" stroke-width="1.5" d="M1535.3 375.8l8.5-2.1-6.6-2.4-8.5 2.3z"/><path fill="#2e248d" stroke-width="1.4" d="M1526.7 377.7l8.6-1.9-6.6-2.2-8.5 2z"/><path fill="#2b2080" stroke-width="1.3" d="M1518.2 379.5l8.5-1.8-6.5-2.1-8.6 2z"/><path fill="#291f7b" stroke-width="1.2" d="M1509.7 381.2l8.5-1.7-6.6-1.9-8.5 1.8z"/><path fill="#271b70" stroke-width="1.2" d="M1501.1 382.9l8.6-1.7-6.6-1.8-8.5 1.7z"/><path fill="#241866" stroke-width="1.8" d="M1492.6 385.6l8.5-2.7-6.5-1.8-8.5 1.6z"/><path fill="#231764" stroke-width="1.1" d="M1484.1 386.9l8.5-1.3-6.5-2.9-8.6 2.5z"/><path fill="#3d46cf" stroke-width="1.1" d="M1686.8 351.9l8.6 1-6.6-2.5-8.5-0.6z"/><path fill="#415eef" stroke-width="1.1" d="M1678.3 350.1l8.5 1.8-6.5-2.1-8.6-0.8z"/><path fill="#2b91ef" stroke-width="1.9" d="M1618.6 345.8l8.5-5.2-6.5 2.3-8.6 1.1z"/><path fill="#2e87f7" stroke-width="2.4" d="M1610.1 351.8l8.5-6-6.6-1.8-8.5 3.2z"/><path fill="#327cfc" stroke-width="2.4" d="M1601.5 356.8l8.6-5-6.6-4.6-8.5 4.4z"/><path fill="#3e6fff" stroke-width="2.4" d="M1593 361.1l8.5-4.3-6.5-5.2-8.6 4.7z"/><path fill="#405ded" stroke-width="2.3" d="M1584.5 364.7l8.5-3.6-6.6-4.8-8.5 4.5z"/><path fill="#3e4dd9" stroke-width="1.9" d="M1575.9 367.8l8.6-3.1-6.6-3.9-8.5 4z"/><path fill="#3b44ca" stroke-width="1.7" d="M1567.4 370.7l8.5-2.9-6.5-3-8.5 3.5z"/><path fill="#3838b8" stroke-width="1.5" d="M1558.9 373.3l8.5-2.6-6.5-2.4-8.6 2.9z"/><path fill="#342fa7" stroke-width="1.4" d="M1550.3 375.7l8.6-2.4-6.6-2.1-8.5 2.5z"/><path fill="#302897" stroke-width="1.4" d="M1541.8 377.9l8.5-2.2-6.5-2-8.5 2.1z"/><path fill="#2b2082" stroke-width="1.3" d="M1533.3 379.8l8.5-1.9-6.5-2.1-8.6 1.9z"/><path fill="#291f7c" stroke-width="1.3" d="M1524.8 381.5l8.5-1.7-6.6-2.1-8.5 1.8z"/><path fill="#271c72" stroke-width="1.2" d="M1516.2 383.2l8.6-1.7-6.6-2-8.5 1.7z"/><path fill="#261b6f" stroke-width="1.2" d="M1507.7 384.7l8.5-1.5-6.5-2-8.6 1.7z"/><path fill="#241866" stroke-width="1.4" d="M1499.2 387.3l8.5-2.6-6.6-1.8-8.5 2.7z"/><path fill="#261b6f" stroke-width="1.1" d="M1770.1 347.6l8.6 0-6.6-1.7-8.5 1.3z"/><path fill="#271b71" stroke-width="1.1" d="M1761.6 348.7l8.5-1.1-6.5-0.4-8.5 1.3z"/><path fill="#271c72" stroke-width="1.1" d="M1753.1 349.9l8.5-1.2-6.5-0.2-8.6 1.3zM1744.6 351.2l8.5-1.3-6.6-0.1-8.5 1.3z"/><path fill="#271b71" stroke-width="1.1" d="M1736 352.6l8.6-1.4-6.6-0.1-8.5 1.3z"/><path fill="#3f54e2" stroke-width="1.1" d="M1684.8 353.2l8.6 1.9-6.6-3.2-8.5-1.8z"/><path fill="#3875fe" stroke-width="1.1" d="M1676.3 349.9l8.5 3.3-6.5-3.1-8.5-2.5z"/><path fill="#20a5e3" stroke-width="1.1" d="M1633.7 336.9l8.5-3.9-6.6 5.3-8.5 2.3z"/><path fill="#259be8" stroke-width="1.4" d="M1625.1 344.6l8.6-7.7-6.6 3.7-8.5 5.2z"/><path fill="#2e87f7" stroke-width="2.1" d="M1616.6 353l8.5-8.4-6.5 1.2-8.5 6z"/><path fill="#3875fe" stroke-width="2.4" d="M1608.1 359.8l8.5-6.8-6.5-1.2-8.6 5z"/><path fill="#415eef" stroke-width="2.4" d="M1599.5 364.7l8.6-4.9-6.6-3-8.5 4.3z"/><path fill="#3e4dd9" stroke-width="2.2" d="M1591 368.3l8.5-3.6-6.5-3.6-8.5 3.6z"/><path fill="#3b44ca" stroke-width="2.0" d="M1582.5 371.1l8.5-2.8-6.5-3.6-8.6 3.1z"/><path fill="#393dbe" stroke-width="1.7" d="M1574 373.5l8.5-2.4-6.6-3.3-8.5 2.9z"/><path fill="#3635b1" stroke-width="1.5" d="M1565.4 375.7l8.6-2.2-6.6-2.8-8.5 2.6z"/><path fill="#312a9d" stroke-width="1.4" d="M1556.9 377.8l8.5-2.1-6.5-2.4-8.6 2.4z"/><path fill="#2e248e" stroke-width="1.3" d="M1548.4 379.8l8.5-2-6.6-2.1-8.5 2.2z"/><path fill="#2b2080" stroke-width="1.3" d="M1539.8 381.7l8.6-1.9-6.6-1.9-8.5 1.9z"/><path fill="#281c73" stroke-width="1.2" d="M1531.3 383.4l8.5-1.7-6.5-1.9-8.5 1.7z"/><path fill="#261b70" stroke-width="1.2" d="M1522.8 385l8.5-1.6-6.5-1.9-8.6 1.7z"/><path fill="#241866" stroke-width="1.8" d="M1514.2 387.7l8.6-2.7-6.6-1.8-8.5 1.5z"/><path fill="#241764" stroke-width="1.1" d="M1505.7 389l8.5-1.3-6.5-3-8.5 2.6z"/><path fill="#241866" stroke-width="1.5" d="M1776.7 350.6l8.5-1.3-6.5-1.7-8.6 0z"/><path fill="#271c72" stroke-width="1.1" d="M1768.2 350.3l8.5 0.3-6.6-3-8.5 1.1z"/><path fill="#2b2080" stroke-width="1.1" d="M1759.6 351l8.6-0.7-6.6-1.6-8.5 1.2z"/><path fill="#2d248c" stroke-width="1.1" d="M1751.1 351.9l8.5-0.9-6.5-1.1-8.5 1.3z"/><path fill="#2e248e" stroke-width="1.1" d="M1742.6 353l8.5-1.1-6.5-0.7-8.6 1.4z"/><path fill="#3b44ca" stroke-width="1.2" d="M1691.4 357.2l8.5 1.1-6.5-3.2-8.6-1.9z"/><path fill="#425ff2" stroke-width="1.1" d="M1682.9 354.4l8.5 2.8-6.6-4-8.5-3.3z"/><path fill="#2f81fa" stroke-width="1.1" d="M1674.3 349.6l8.6 4.8-6.6-4.5-8.5-4.8z"/><path fill="#1ca9df" stroke-width="1.1" d="M1640.2 336.2l8.5-3.6-6.5 0.4-8.5 3.9z"/><path fill="#23a0e5" stroke-width="1.6" d="M1631.7 344.3l8.5-8.1-6.5 0.7-8.6 7.7z"/><path fill="#2d8cf3" stroke-width="1.8" d="M1623.2 353.1l8.5-8.8-6.6 0.3-8.5 8.4z"/><path fill="#327cfc" stroke-width="1.9" d="M1614.6 360.6l8.6-7.5-6.6-0.1-8.5 6.8z"/><path fill="#415ef0" stroke-width="1.9" d="M1606.1 366.4l8.5-5.8-6.5-0.8-8.6 4.9z"/><path fill="#3d46d1" stroke-width="1.9" d="M1597.6 370.6l8.5-4.2-6.6-1.7-8.5 3.6z"/><path fill="#393dbf" stroke-width="1.8" d="M1589 373.8l8.6-3.2-6.6-2.3-8.5 2.8z"/><path fill="#3531ab" stroke-width="1.7" d="M1580.5 376.2l8.5-2.4-6.5-2.7-8.5 2.4z"/><path fill="#312a9c" stroke-width="1.5" d="M1572 378.2l8.5-2-6.5-2.7-8.6 2.2z"/><path fill="#2e258f" stroke-width="1.4" d="M1563.4 380.1l8.6-1.9-6.6-2.5-8.5 2.1z"/><path fill="#2c2389" stroke-width="1.3" d="M1554.9 381.8l8.5-1.7-6.5-2.3-8.5 2z"/><path fill="#2a1f7d" stroke-width="1.2" d="M1546.4 383.5l8.5-1.7-6.5-2-8.6 1.9z"/><path fill="#271c72" stroke-width="1.2" d="M1537.9 385.2l8.5-1.7-6.6-1.8-8.5 1.7z"/><path fill="#261b6e" stroke-width="1.2" d="M1529.3 386.8l8.6-1.6-6.6-1.8-8.5 1.6z"/><path fill="#241865" stroke-width="1.4" d="M1520.8 389.4l8.5-2.6-6.5-1.8-8.6 2.7z"/><path fill="#261b6f" stroke-width="1.1" d="M1783.2 351l8.6 0-6.6-1.7-8.5 1.3z"/><path fill="#271b70" stroke-width="1.1" d="M1774.7 352.1l8.5-1.1-6.5-0.4-8.5-0.3z"/><path fill="#291f7c" stroke-width="1.1" d="M1766.2 353l8.5-0.9-6.5-1.8-8.6 0.7z"/><path fill="#2e248e" stroke-width="1.1" d="M1757.7 353.4l8.5-0.4-6.6-2-8.5 0.9z"/><path fill="#342fa7" stroke-width="1.1" d="M1749.1 353.7l8.6-0.3-6.6-1.5-8.5 1.1z"/><path fill="#3736b5" stroke-width="1.1" d="M1740.6 354.2l8.5-0.5-6.5-0.7-8.6 1.3z"/><path fill="#3e4cd7" stroke-width="1.4" d="M1689.4 359l8.5 1-6.5-2.8-8.5-2.8z"/><path fill="#3e6fff" stroke-width="1.4" d="M1680.9 355.8l8.5 3.2-6.5-4.6-8.6-4.8z"/><path fill="#2e87f7" stroke-width="1.2" d="M1672.4 350.4l8.5 5.4-6.6-6.2-8.5-6.9z"/><path fill="#259be8" stroke-width="1.2" d="M1663.8 344.3l8.6 6.1-6.6-7.7-8.5-6.9z"/><path fill="#20a5e3" stroke-width="1.8" d="M1655.3 340.9l8.5 3.4-6.5-8.5-8.6-3.2z"/><path fill="#20a5e3" stroke-width="2.4" d="M1646.8 342.5l8.5-1.6-6.6-8.3-8.5 3.6z"/><path fill="#259be8" stroke-width="2.4" d="M1638.2 347.9l8.6-5.4-6.6-6.3-8.5 8.1z"/><path fill="#2d8cf3" stroke-width="2.1" d="M1629.7 355l8.5-7.1-6.5-3.6-8.5 8.8z"/><path fill="#327cfc" stroke-width="1.9" d="M1621.2 361.7l8.5-6.7-6.5-1.9-8.6 7.5z"/><path fill="#4166f7" stroke-width="1.7" d="M1612.6 367.3l8.6-5.6-6.6-1.1-8.5 5.8z"/><path fill="#3e4cd7" stroke-width="1.6" d="M1604.1 371.8l8.5-4.5-6.5-0.9-8.5 4.2z"/><path fill="#393dbf" stroke-width="1.5" d="M1595.6 375.4l8.5-3.6-6.5-1.2-8.6 3.2z"/><path fill="#3430a7" stroke-width="1.5" d="M1587.1 378.2l8.5-2.8-6.6-1.6-8.5 2.4z"/><path fill="#2e2590" stroke-width="1.5" d="M1578.5 380.4l8.6-2.2-6.6-2-8.5 2z"/><path fill="#2b2082" stroke-width="1.4" d="M1570 382.3l8.5-1.9-6.5-2.2-8.6 1.9z"/><path fill="#2a1f7d" stroke-width="1.3" d="M1561.5 384l8.5-1.7-6.6-2.2-8.5 1.7z"/><path fill="#271c73" stroke-width="1.2" d="M1552.9 385.6l8.6-1.6-6.6-2.2-8.5 1.7z"/><path fill="#261b70" stroke-width="1.2" d="M1544.4 387.1l8.5-1.5-6.5-2.1-8.5 1.7z"/><path fill="#241867" stroke-width="1.8" d="M1535.9 389.8l8.5-2.7-6.5-1.9-8.6 1.6z"/><path fill="#241765" stroke-width="1.1" d="M1527.3 391.1l8.6-1.3-6.6-3-8.5 2.6z"/><path fill="#261b6e" stroke-width="1.1" d="M1789.8 352.7l8.5 0-6.5-1.7-8.6 0z"/><path fill="#291f7b" stroke-width="1.1" d="M1781.3 353.5l8.5-0.8-6.6-1.7-8.5 1.1z"/><path fill="#2b2080" stroke-width="1.1" d="M1772.7 354.4l8.6-0.9-6.6-1.4-8.5 0.9z"/><path fill="#2d238a" stroke-width="1.1" d="M1764.2 355.4l8.5-1-6.5-1.4-8.5 0.4z"/><path fill="#302999" stroke-width="1.1" d="M1755.7 355.9l8.5-0.5-6.5-2-8.6 0.3z"/><path fill="#3837b8" stroke-width="1.1" d="M1747.2 355.6l8.5 0.3-6.6-2.2-8.5 0.5z"/><path fill="#3c45ce" stroke-width="1.1" d="M1738.6 354.9l8.6 0.7-6.6-1.4-8.5 0.9z"/><path fill="#415ded" stroke-width="1.6" d="M1687.4 359.8l8.6-0.3-6.6-0.5-8.5-3.2z"/><path fill="#3875fe" stroke-width="2.0" d="M1678.9 357.9l8.5 1.9-6.5-4-8.5-5.4z"/><path fill="#2f81fa" stroke-width="2.2" d="M1670.4 355l8.5 2.9-6.5-7.5-8.6-6.1z"/><path fill="#2d8cf3" stroke-width="2.4" d="M1661.8 353.2l8.6 1.8-6.6-10.7-8.5-3.4zM1653.3 353.8l8.5-0.6-6.5-12.3-8.5 1.6z"/><path fill="#2e87f7" stroke-width="2.4" d="M1644.8 356.4l8.5-2.6-6.5-11.3-8.6 5.4z"/><path fill="#2f81fa" stroke-width="2.4" d="M1636.3 360.3l8.5-3.9-6.6-8.5-8.5 7.1z"/><path fill="#327cfc" stroke-width="2.1" d="M1627.7 364.7l8.6-4.4-6.6-5.3-8.5 6.7z"/><path fill="#4066f6" stroke-width="1.8" d="M1619.2 369.1l8.5-4.4-6.5-3-8.6 5.6z"/><path fill="#3f4dda" stroke-width="1.5" d="M1610.7 373.2l8.5-4.1-6.6-1.8-8.5 4.5z"/><path fill="#3a3ec3" stroke-width="1.4" d="M1602.1 376.6l8.6-3.4-6.6-1.4-8.5 3.6z"/><path fill="#3531ab" stroke-width="1.3" d="M1593.6 379.6l8.5-3-6.5-1.2-8.5 2.8z"/><path fill="#2f2590" stroke-width="1.3" d="M1585.1 382.1l8.5-2.5-6.5-1.4-8.6 2.2z"/><path fill="#2b2080" stroke-width="1.3" d="M1576.6 384.2l8.5-2.1-6.6-1.7-8.5 1.9z"/><path fill="#271c73" stroke-width="1.3" d="M1568 386l8.6-1.8-6.6-1.9-8.5 1.7z"/><path fill="#261b6f" stroke-width="1.2" d="M1559.5 387.6l8.5-1.6-6.5-2-8.6 1.6z"/><path fill="#241867" stroke-width="1.9" d="M1551 390.2l8.5-2.6-6.6-2-8.5 1.5z"/><path fill="#241865" stroke-width="1.1" d="M1542.4 391.5l8.6-1.3-6.6-3.1-8.5 2.7z"/><path fill="#231762" stroke-width="1.5" d="M1796.4 355.7l8.5-1.3-6.6-1.7-8.5 0z"/><path fill="#261b6f" stroke-width="1.1" d="M1787.8 355.7l8.6 0-6.6-3-8.5 0.8z"/><path fill="#2a207f" stroke-width="1.1" d="M1779.3 356.1l8.5-0.4-6.5-2.2-8.6 0.9z"/><path fill="#302998" stroke-width="1.1" d="M1770.8 356.4l8.5-0.3-6.6-1.7-8.5 1z"/><path fill="#342fa6" stroke-width="1.1" d="M1762.2 357l8.6-0.6-6.6-1-8.5 0.5z"/><path fill="#3636b2" stroke-width="1.1" d="M1753.7 357.8l8.5-0.8-6.5-1.1-8.5-0.3z"/><path fill="#3a3ec3" stroke-width="1.1" d="M1745.2 357.7l8.5 0.1-6.5-2.2-8.6-0.7z"/><path fill="#3e6fff" stroke-width="2.4" d="M1676.9 361.6l8.6-2.9-6.6-0.8-8.5-2.9zM1668.4 363.1l8.5-1.5-6.5-6.6-8.6-1.8zM1659.9 364.3l8.5-1.2-6.6-9.9-8.5 0.6zM1651.3 365.8l8.6-1.5-6.6-10.5-8.5 2.6z"/><path fill="#4168fa" stroke-width="2.4" d="M1642.8 367.8l8.5-2-6.5-9.4-8.5 3.9z"/><path fill="#425ef0" stroke-width="2.4" d="M1634.3 370.1l8.5-2.3-6.5-7.5-8.6 4.4z"/><path fill="#4055e4" stroke-width="2.0" d="M1625.8 372.7l8.5-2.6-6.6-5.4-8.5 4.4z"/><path fill="#3d4cd5" stroke-width="1.6" d="M1617.2 375.5l8.6-2.8-6.6-3.6-8.5 4.1z"/><path fill="#3a3ec3" stroke-width="1.4" d="M1608.7 378.3l8.5-2.8-6.5-2.3-8.6 3.4z"/><path fill="#3636b3" stroke-width="1.3" d="M1600.2 381l8.5-2.7-6.6-1.7-8.5 3z"/><path fill="#31299a" stroke-width="1.2" d="M1591.6 383.5l8.6-2.5-6.6-1.4-8.5 2.5z"/><path fill="#2b2082" stroke-width="1.2" d="M1583.1 385.7l8.5-2.2-6.5-1.4-8.5 2.1z"/><path fill="#281c73" stroke-width="1.2" d="M1574.6 387.6l8.5-1.9-6.5-1.5-8.6 1.8z"/><path fill="#261b6e" stroke-width="1.2" d="M1566 389.3l8.6-1.7-6.6-1.6-8.5 1.6z"/><path fill="#241865" stroke-width="1.4" d="M1557.5 391.9l8.5-2.6-6.5-1.7-8.5 2.6z"/><path fill="#231763" stroke-width="1.5" d="M1794.4 358.7l8.5-1.3-6.5-1.7-8.6 0z"/><path fill="#261b6e" stroke-width="1.1" d="M1785.8 358.7l8.6 0-6.6-3-8.5 0.4z"/><path fill="#2b2081" stroke-width="1.1" d="M1777.3 359l8.5-0.3-6.5-2.6-8.5 0.3z"/><path fill="#332fa6" stroke-width="1.1" d="M1768.8 358.8l8.5 0.2-6.5-2.6-8.6 0.6z"/><path fill="#3a3ec1" stroke-width="1.1" d="M1760.3 358.3l8.5 0.5-6.6-1.8-8.5 0.8z"/><path fill="#3d46cf" stroke-width="1.1" d="M1751.7 358.2l8.6 0.1-6.6-0.5-8.5-0.1z"/><path fill="#3f4edb" stroke-width="1.1" d="M1743.2 358.4l8.5-0.2-6.5-0.5-8.6-1.9z"/><path fill="#4167f9" stroke-width="2.4" d="M1675 365.7l8.5-7.8-6.6 3.7-8.5 1.5z"/><path fill="#3e4dd8" stroke-width="2.4" d="M1666.4 370.4l8.6-4.7-6.6-2.6-8.5 1.2z"/><path fill="#3c45cd" stroke-width="2.4" d="M1657.9 372.7l8.5-2.3-6.5-6.1-8.6 1.5z"/><path fill="#3b44ca" stroke-width="2.4" d="M1649.4 374.3l8.5-1.6-6.6-6.9-8.5 2z"/><path fill="#3b44c9" stroke-width="2.4" d="M1640.8 375.8l8.6-1.5-6.6-6.5-8.5 2.3z"/><path fill="#3a3ec4" stroke-width="2.2" d="M1632.3 377.3l8.5-1.5-6.5-5.7-8.5 2.6z"/><path fill="#393dc0" stroke-width="1.8" d="M1623.8 379.1l8.5-1.8-6.5-4.6-8.6 2.8z"/><path fill="#3837b8" stroke-width="1.5" d="M1615.2 381l8.6-1.9-6.6-3.6-8.5 2.8z"/><path fill="#3530aa" stroke-width="1.4" d="M1606.7 383l8.5-2-6.5-2.7-8.5 2.7z"/><path fill="#31299a" stroke-width="1.3" d="M1598.2 385.2l8.5-2.2-6.5-2-8.6 2.5z"/><path fill="#2d248b" stroke-width="1.2" d="M1589.7 387.2l8.5-2-6.6-1.7-8.5 2.2z"/><path fill="#291f7c" stroke-width="1.2" d="M1581.1 389.1l8.6-1.9-6.6-1.5-8.5 1.9z"/><path fill="#261b70" stroke-width="1.1" d="M1572.6 390.9l8.5-1.8-6.5-1.5-8.6 1.7z"/><path fill="#241865" stroke-width="1.4" d="M1564.1 393.6l8.5-2.7-6.6-1.6-8.5 2.6z"/><path fill="#231764" stroke-width="1.5" d="M1792.4 361.7l8.5-1.3-6.5-1.7-8.6 0z"/><path fill="#271b70" stroke-width="1.1" d="M1783.9 361.5l8.5 0.2-6.6-3-8.5 0.3z"/><path fill="#2b2081" stroke-width="1.4" d="M1775.3 362l8.6-0.5-6.6-2.5-8.5-0.2z"/><path fill="#3530aa" stroke-width="1.1" d="M1766.8 361.5l8.5 0.5-6.5-3.2-8.5-0.5z"/><path fill="#3d46cf" stroke-width="1.1" d="M1758.3 359.9l8.5 1.6-6.5-3.2-8.6-0.1z"/><path fill="#425ff2" stroke-width="1.1" d="M1749.7 357.7l8.6 2.2-6.6-1.7-8.5 0.2z"/><path fill="#18addb" stroke-width="1.8" d="M1698.6 339.6l8.5-3.9-6.6 7.5-8.5 5.8z"/><path fill="#2f81fa" stroke-width="1.1" d="M1681.5 360.7l8.5-11.1-6.5 8.3-8.5 7.8z"/><path fill="#425ff2" stroke-width="1.6" d="M1673 369.4l8.5-8.7-6.5 5-8.6 4.7z"/><path fill="#3a3ec4" stroke-width="2.1" d="M1664.4 375.1l8.6-5.7-6.6 1-8.5 2.3z"/><path fill="#3430a9" stroke-width="2.3" d="M1655.9 378.3l8.5-3.2-6.5-2.4-8.5 1.6z"/><path fill="#322a9d" stroke-width="2.1" d="M1647.4 380.2l8.5-1.9-6.5-4-8.6 1.5z"/><path fill="#312a9b" stroke-width="2.0" d="M1638.9 381.6l8.5-1.4-6.6-4.4-8.5 1.5z"/><path fill="#312a9b" stroke-width="1.8" d="M1630.3 382.9l8.6-1.3-6.6-4.3-8.5 1.8z"/><path fill="#31299a" stroke-width="1.6" d="M1621.8 384.3l8.5-1.4-6.5-3.8-8.6 1.9z"/><path fill="#302997" stroke-width="1.5" d="M1613.3 385.8l8.5-1.5-6.6-3.3-8.5 2z"/><path fill="#2e248e" stroke-width="1.3" d="M1604.7 387.4l8.6-1.6-6.6-2.8-8.5 2.2z"/><path fill="#2b2082" stroke-width="1.2" d="M1596.2 389.1l8.5-1.7-6.5-2.2-8.5 2z"/><path fill="#291f7d" stroke-width="1.2" d="M1587.7 390.8l8.5-1.7-6.5-1.9-8.6 1.9z"/><path fill="#271b71" stroke-width="1.1" d="M1579.1 392.5l8.6-1.7-6.6-1.7-8.5 1.8z"/><path fill="#241866" stroke-width="1.4" d="M1570.6 395.3l8.5-2.8-6.5-1.6-8.5 2.7z"/><path fill="#241865" stroke-width="1.6" d="M1790.4 364.7l8.5-1.3-6.5-1.7-8.5-0.2z"/><path fill="#271c73" stroke-width="1.1" d="M1781.9 364.3l8.5 0.4-6.5-3.2-8.6 0.5z"/><path fill="#2d248c" stroke-width="1.3" d="M1773.4 364.6l8.5-0.3-6.6-2.3-8.5-0.5z"/><path fill="#3635b0" stroke-width="1.6" d="M1764.8 364.3l8.6 0.3-6.6-3.1-8.5-1.6z"/><path fill="#3e4cd8" stroke-width="1.1" d="M1756.3 362.2l8.5 2.1-6.5-4.4-8.6-2.2z"/><path fill="#3875fe" stroke-width="1.1" d="M1747.8 357.8l8.5 4.4-6.6-4.5-8.5-1.4z"/><path fill="#1ca9df" stroke-width="2.4" d="M1713.6 341.3l8.6-9.5-6.6 9.5-8.5-5.6z"/><path fill="#1ca9df" stroke-width="2.2" d="M1705.1 343.7l8.5-2.4-6.5-5.6-8.5 3.9z"/><path fill="#20a5e3" stroke-width="1.1" d="M1696.6 348.1l8.5-4.4-6.5-4.1-8.6 10z"/><path fill="#2b91ef" stroke-width="1.1" d="M1688.1 357.2l8.5-9.1-6.6 1.5-8.5 11.1z"/><path fill="#327cfc" stroke-width="1.1" d="M1679.5 366.2l8.6-9-6.6 3.5-8.5 8.7z"/><path fill="#4156e8" stroke-width="1.2" d="M1671 373.4l8.5-7.2-6.5 3.2-8.6 5.7z"/><path fill="#393dc0" stroke-width="1.4" d="M1662.5 378.7l8.5-5.3-6.6 1.7-8.5 3.2z"/><path fill="#302998" stroke-width="1.7" d="M1653.9 382.2l8.6-3.5-6.6-0.4-8.5 1.9z"/><path fill="#2a207f" stroke-width="1.7" d="M1645.4 384.5l8.5-2.3-6.5-2-8.5 1.4z"/><path fill="#291f7c" stroke-width="1.6" d="M1636.9 386.1l8.5-1.6-6.5-2.9-8.6 1.3zM1628.3 387.4l8.6-1.3-6.6-3.2-8.5 1.4z"/><path fill="#291f7c" stroke-width="1.5" d="M1619.8 388.6l8.5-1.2-6.5-3.1-8.5 1.5z"/><path fill="#291f7c" stroke-width="1.4" d="M1611.3 390l8.5-1.4-6.5-2.8-8.6 1.6z"/><path fill="#281c74" stroke-width="1.3" d="M1602.8 391.3l8.5-1.3-6.6-2.6-8.5 1.7z"/><path fill="#271c72" stroke-width="1.2" d="M1594.2 392.8l8.6-1.5-6.6-2.2-8.5 1.7z"/><path fill="#261b70" stroke-width="1.1" d="M1585.7 394.3l8.5-1.5-6.5-2-8.6 1.7z"/><path fill="#241867" stroke-width="1.4" d="M1577.2 397l8.5-2.7-6.6-1.8-8.5 2.8z"/><path fill="#241867" stroke-width="1.6" d="M1788.4 367.7l8.6-1.3-6.6-1.7-8.5-0.4z"/><path fill="#291f7c" stroke-width="1.1" d="M1779.9 367.1l8.5 0.6-6.5-3.4-8.5 0.3z"/><path fill="#302998" stroke-width="1.1" d="M1771.4 367.2l8.5-0.1-6.5-2.5-8.6-0.3z"/><path fill="#383cbd" stroke-width="1.5" d="M1762.8 366.5l8.6 0.7-6.6-2.9-8.5-2.1z"/><path fill="#3f4edc" stroke-width="1.9" d="M1754.3 364.7l8.5 1.8-6.5-4.3-8.5-4.4z"/><path fill="#327cfc" stroke-width="1.1" d="M1745.8 358.4l8.5 6.3-6.5-6.9-8.6-6z"/><path fill="#2797eb" stroke-width="2.4" d="M1711.7 353.7l8.5-23.1-6.6 10.7-8.5 2.4z"/><path fill="#2d8cf3" stroke-width="2.4" d="M1703.1 359.8l8.6-6.1-6.6-10-8.5 4.4z"/><path fill="#2e87f7" stroke-width="2.4" d="M1694.6 362.4l8.5-2.6-6.5-11.7-8.5 9.1z"/><path fill="#2f81fa" stroke-width="1.3" d="M1686.1 366.7l8.5-4.3-6.5-5.2-8.6 9z"/><path fill="#3e6fff" stroke-width="1.1" d="M1677.6 372.5l8.5-5.8-6.6-0.5-8.5 7.2z"/><path fill="#3f4dda" stroke-width="1.1" d="M1669 377.8l8.6-5.3-6.6 0.9-8.5 5.3z"/><path fill="#383cbc" stroke-width="1.1" d="M1660.5 382.1l8.5-4.3-6.5 0.9-8.6 3.5z"/><path fill="#2e2590" stroke-width="1.3" d="M1652 385.4l8.5-3.3-6.6 0.1-8.5 2.3z"/><path fill="#281c73" stroke-width="1.4" d="M1643.4 387.9l8.6-2.5-6.6-0.9-8.5 1.6z"/><path fill="#261b6e" stroke-width="1.4" d="M1634.9 389.7l8.5-1.8-6.5-1.8-8.6 1.3z"/><path fill="#241866" stroke-width="2.0" d="M1626.4 392.2l8.5-2.5-6.6-2.3-8.5 1.2z"/><path fill="#241866" stroke-width="1.7" d="M1617.8 393.5l8.6-1.3-6.6-3.6-8.5 1.4zM1609.3 394.8l8.5-1.3-6.5-3.5-8.5 1.3z"/><path fill="#241866" stroke-width="1.6" d="M1600.8 396.1l8.5-1.3-6.5-3.5-8.6 1.5zM1592.2 397.4l8.6-1.3-6.6-3.3-8.5 1.5z"/><path fill="#241765" stroke-width="1.1" d="M1583.7 398.7l8.5-1.3-6.5-3.1-8.5 2.7z"/><path fill="#261b6f" stroke-width="1.1" d="M1786.5 369.3l8.5 0.1-6.6-1.7-8.5-0.6z"/><path fill="#2b2080" stroke-width="1.2" d="M1777.9 369.7l8.6-0.4-6.6-2.2-8.5 0.1z"/><path fill="#332fa4" stroke-width="1.2" d="M1769.4 369.6l8.5 0.1-6.5-2.5-8.6-0.7z"/><path fill="#3b3fc4" stroke-width="1.2" d="M1760.9 368.6l8.5 1-6.6-3.1-8.5-1.8z"/><path fill="#415eee" stroke-width="1.8" d="M1752.3 365.9l8.6 2.7-6.6-3.9-8.5-6.3z"/><path fill="#2e87f7" stroke-width="2.3" d="M1743.8 357.7l8.5 8.2-6.5-7.5-8.5-23.8z"/><path fill="#18addb" stroke-width="2.4" d="M1735.3 341l8.5 16.7-6.5-23.1-8.6-111.2z"/><path fill="#20a5e3" stroke-width="2.4" d="M1726.8 348.2l8.5-7.2-6.6-117.6-8.5 107.2z"/><path fill="#259be8" stroke-width="2.0" d="M1718.2 355.1l8.6-6.9-6.6-17.6-8.5 23.1z"/><path fill="#2e87f7" stroke-width="2.4" d="M1709.7 362.8l8.5-7.7-6.5-1.4-8.6 6.1z"/><path fill="#3875fe" stroke-width="2.4" d="M1701.2 370l8.5-7.2-6.6-3-8.5 2.6z"/><path fill="#4166f7" stroke-width="2.4" d="M1692.6 374l8.6-4-6.6-7.6-8.5 4.3z"/><path fill="#415ef0" stroke-width="1.9" d="M1684.1 376l8.5-2-6.5-7.3-8.5 5.8z"/><path fill="#4054e2" stroke-width="1.2" d="M1675.6 378.8l8.5-2.8-6.5-3.5-8.6 5.3z"/><path fill="#3c44cb" stroke-width="1.1" d="M1667 382.3l8.6-3.5-6.6-1-8.5 4.3z"/><path fill="#3636b2" stroke-width="1.1" d="M1658.5 385.7l8.5-3.4-6.5-0.2-8.5 3.3z"/><path fill="#2e248e" stroke-width="1.1" d="M1650 388.6l8.5-2.9-6.5-0.3-8.6 2.5z"/><path fill="#271c73" stroke-width="1.2" d="M1641.5 391l8.5-2.4-6.6-0.7-8.5 1.8z"/><path fill="#241865" stroke-width="1.4" d="M1632.9 393.9l8.6-2.9-6.6-1.3-8.5 2.5z"/><path fill="#241866" stroke-width="1.5" d="M1793 372.3l8.5-1.2-6.5-1.7-8.5-0.1z"/><path fill="#281c73" stroke-width="1.1" d="M1784.5 371.9l8.5 0.4-6.5-3-8.6 0.4z"/><path fill="#2d248c" stroke-width="1.2" d="M1776 372.3l8.5-0.4-6.6-2.2-8.5-0.1z"/><path fill="#3531ab" stroke-width="1.3" d="M1767.4 372l8.6 0.3-6.6-2.7-8.5-1z"/><path fill="#3c45cc" stroke-width="1.6" d="M1758.9 370.9l8.5 1.1-6.5-3.4-8.6-2.7z"/><path fill="#415eee" stroke-width="2.4" d="M1750.4 368.9l8.5 2-6.6-5-8.5-8.2z"/><path fill="#3875fe" stroke-width="2.4" d="M1741.8 367.3l8.6 1.6-6.6-11.2-8.5-16.7zM1733.3 368l8.5-0.7-6.5-26.3-8.5 7.2z"/><path fill="#327cfc" stroke-width="2.4" d="M1724.8 368l8.5 0-6.5-19.8-8.6 6.9zM1716.2 368.8l8.6-0.8-6.6-12.9-8.5 7.7z"/><path fill="#3875fe" stroke-width="1.4" d="M1707.7 371.7l8.5-2.9-6.5-6-8.5 7.2z"/><path fill="#415ef0" stroke-width="2.0" d="M1699.2 376.4l8.5-4.7-6.5-1.7-8.6 4z"/><path fill="#3d46d0" stroke-width="2.4" d="M1690.7 380.8l8.5-4.4-6.6-2.4-8.5 2z"/><path fill="#3a3ec3" stroke-width="2.4" d="M1682.1 383.4l8.6-2.6-6.6-4.8-8.5 2.8z"/><path fill="#393dc0" stroke-width="1.5" d="M1673.6 384.9l8.5-1.5-6.5-4.6-8.6 3.5z"/><path fill="#3837b7" stroke-width="1.1" d="M1665.1 387l8.5-2.1-6.6-2.6-8.5 3.4z"/><path fill="#332fa4" stroke-width="1.1" d="M1656.5 389.4l8.6-2.4-6.6-1.3-8.5 2.9z"/><path fill="#2d238a" stroke-width="1.1" d="M1648 391.8l8.5-2.4-6.5-0.8-8.5 2.4z"/><path fill="#271c72" stroke-width="1.1" d="M1639.5 394l8.5-2.2-6.5-0.8-8.6 2.9z"/><path fill="#241765" stroke-width="1.4" d="M1630.9 396.9l8.6-2.9-6.6-0.1-8.5 1.3z"/><path fill="#261b70" stroke-width="1.1" d="M1791 373.9l8.6 0.1-6.6-1.7-8.5-0.4z"/><path fill="#2a207f" stroke-width="1.1" d="M1782.5 374.5l8.5-0.6-6.5-2-8.5 0.4z"/><path fill="#302999" stroke-width="1.1" d="M1774 374.7l8.5-0.2-6.5-2.2-8.6-0.3z"/><path fill="#3736b4" stroke-width="1.5" d="M1765.4 374.7l8.6 0-6.6-2.7-8.5-1.1z"/><path fill="#3b3fc4" stroke-width="2.1" d="M1756.9 374.5l8.5 0.2-6.5-3.8-8.5-2z"/><path fill="#3d46d0" stroke-width="2.4" d="M1748.4 374.7l8.5-0.2-6.5-5.6-8.6-1.6z"/><path fill="#3e4cd6" stroke-width="2.4" d="M1739.9 375.6l8.5-0.9-6.6-7.4-8.5 0.7z"/><path fill="#3d4cd6" stroke-width="2.4" d="M1731.3 377l8.6-1.4-6.6-7.6-8.5 0z"/><path fill="#3d46d0" stroke-width="2.4" d="M1722.8 378.6l8.5-1.6-6.5-9-8.6 0.8z"/><path fill="#3e4cd8" stroke-width="2.4" d="M1714.3 379.3l8.5-0.7-6.6-9.8-8.5 2.9z"/><path fill="#3f4dda" stroke-width="1.8" d="M1705.7 380.4l8.6-1.1-6.6-7.6-8.5 4.7z"/><path fill="#3d46d1" stroke-width="1.2" d="M1697.2 382.4l8.5-2-6.5-4-8.5 4.4z"/><path fill="#393dc0" stroke-width="1.6" d="M1688.7 385.4l8.5-3-6.5-1.6-8.6 2.6z"/><path fill="#3430a7" stroke-width="2.0" d="M1680.1 388.3l8.6-2.9-6.6-2-8.5 1.5z"/><path fill="#302999" stroke-width="1.8" d="M1671.6 390.2l8.5-1.9-6.5-3.4-8.5 2.1z"/><path fill="#302998" stroke-width="1.3" d="M1663.1 391.6l8.5-1.4-6.5-3.2-8.6 2.4z"/><path fill="#2e248d" stroke-width="1.1" d="M1654.6 393.3l8.5-1.7-6.6-2.2-8.5 2.4z"/><path fill="#2a207f" stroke-width="1.1" d="M1646 395.2l8.6-1.9-6.6-1.5-8.5 2.2z"/><path fill="#271b70" stroke-width="1.1" d="M1637.5 397.1l8.5-1.9-6.5-1.2-8.6 2.9z"/><path fill="#241764" stroke-width="1.4" d="M1629 399.9l8.5-2.8-6.6-0.2-8.5 1.3z"/><path fill="#241867" stroke-width="1.6" d="M1797.6 377l8.5-1.3-6.5-1.7-8.6-0.1z"/><path fill="#281c74" stroke-width="1.1" d="M1789.1 376.6l8.5 0.4-6.6-3.1-8.5 0.6z"/><path fill="#2d248b" stroke-width="1.1" d="M1780.5 377.1l8.6-0.5-6.6-2.1-8.5 0.2z"/><path fill="#312a9c" stroke-width="1.2" d="M1772 377.5l8.5-0.4-6.5-2.4-8.6 0z"/><path fill="#3430a9" stroke-width="1.6" d="M1763.5 378.2l8.5-0.7-6.6-2.8-8.5-0.2z"/><path fill="#3531ab" stroke-width="2.1" d="M1754.9 379.3l8.6-1.1-6.6-3.7-8.5 0.2z"/><path fill="#3531ab" stroke-width="2.3" d="M1746.4 380.6l8.5-1.3-6.5-4.6-8.5 0.9z"/><path fill="#3530aa" stroke-width="2.2" d="M1737.9 382l8.5-1.4-6.5-5-8.6 1.4z"/><path fill="#3430a9" stroke-width="2.2" d="M1729.3 383.4l8.6-1.4-6.6-5-8.5 1.6z"/><path fill="#3430a7" stroke-width="2.4" d="M1720.8 384.8l8.5-1.4-6.5-4.8-8.5 0.7z"/><path fill="#332fa5" stroke-width="2.4" d="M1712.3 386.3l8.5-1.5-6.5-5.5-8.6 1.1z"/><path fill="#3530aa" stroke-width="2.1" d="M1703.8 387.2l8.5-0.9-6.6-5.9-8.5 2z"/><path fill="#3635b1" stroke-width="1.4" d="M1695.2 388.3l8.6-1.1-6.6-4.8-8.5 3z"/><path fill="#3430a8" stroke-width="1.1" d="M1686.7 389.9l8.5-1.6-6.5-2.9-8.6 2.9z"/><path fill="#302997" stroke-width="1.3" d="M1678.2 392.1l8.5-2.2-6.6-1.6-8.5 1.9z"/><path fill="#2b2080" stroke-width="1.6" d="M1669.6 394.2l8.6-2.1-6.6-1.9-8.5 1.4z"/><path fill="#291f7c" stroke-width="1.5" d="M1661.1 395.9l8.5-1.7-6.5-2.6-8.5 1.7z"/><path fill="#291f7b" stroke-width="1.2" d="M1652.6 397.2l8.5-1.3-6.5-2.6-8.6 1.9z"/><path fill="#271c72" stroke-width="1.1" d="M1644 398.7l8.6-1.5-6.6-2-8.5 1.9z"/><path fill="#261b6e" stroke-width="1.1" d="M1635.5 400.4l8.5-1.7-6.5-1.6-8.5 2.8z"/><path fill="#231764" stroke-width="1.4" d="M1627 402.9l8.5-2.5-6.5-0.5-8.6 1.3z"/><path fill="#261b70" stroke-width="1.1" d="M1795.6 378.6l8.5 0.1-6.5-1.7-8.5-0.4z"/><path fill="#2a1f7d" stroke-width="1.1" d="M1787.1 379.3l8.5-0.7-6.5-2-8.6 0.5z"/><path fill="#2d238a" stroke-width="1.3" d="M1778.6 380.1l8.5-0.8-6.6-2.2-8.5 0.4z"/><path fill="#2e248e" stroke-width="1.4" d="M1770 381.1l8.6-1-6.6-2.6-8.5 0.7z"/><path fill="#2e248d" stroke-width="1.6" d="M1761.5 382.4l8.5-1.3-6.5-2.9-8.6 1.1z"/><path fill="#2d248b" stroke-width="1.7" d="M1753 383.9l8.5-1.5-6.6-3.1-8.5 1.3z"/><path fill="#2b2081" stroke-width="1.8" d="M1744.4 385.5l8.6-1.6-6.6-3.3-8.5 1.4z"/><path fill="#2b2080" stroke-width="1.7" d="M1735.9 386.9l8.5-1.4-6.5-3.5-8.6 1.4z"/><path fill="#2a207f" stroke-width="1.7" d="M1727.4 388.2l8.5-1.3-6.6-3.5-8.5 1.4z"/><path fill="#2a207f" stroke-width="1.6" d="M1718.8 389.6l8.6-1.4-6.6-3.4-8.5 1.5z"/><path fill="#2a1f7e" stroke-width="1.8" d="M1710.3 390.9l8.5-1.3-6.5-3.3-8.5 0.9z"/><path fill="#2a1f7e" stroke-width="1.9" d="M1701.8 392.2l8.5-1.3-6.5-3.7-8.6 1.1z"/><path fill="#2b2081" stroke-width="1.6" d="M1693.2 393.3l8.6-1.1-6.6-3.9-8.5 1.6z"/><path fill="#2c2389" stroke-width="1.2" d="M1684.7 394.4l8.5-1.1-6.5-3.4-8.5 2.2z"/><path fill="#2b2081" stroke-width="1.1" d="M1676.2 395.9l8.5-1.5-6.5-2.3-8.6 2.1z"/><path fill="#281c74" stroke-width="1.2" d="M1667.7 397.6l8.5-1.7-6.6-1.7-8.5 1.7z"/><path fill="#261b6f" stroke-width="1.4" d="M1659.1 399.4l8.6-1.8-6.6-1.7-8.5 1.3z"/><path fill="#241866" stroke-width="1.9" d="M1650.6 402l8.5-2.6-6.5-2.2-8.6 1.5z"/><path fill="#241866" stroke-width="1.5" d="M1642.1 403.3l8.5-1.3-6.6-3.3-8.5 1.7z"/><path fill="#241865" stroke-width="1.1" d="M1633.5 404.6l8.6-1.3-6.6-2.9-8.5 2.5z"/></g>
<text transform="translate(1133.7 348) scale(1.18 1)" font-size="20" text-anchor="end" font-weight="normal" fill="#404040" stroke="#404040" stroke-width="0.1" >0</text>
<text transform="translate(1133.7 255.7) scale(1.18 1)" font-size="20" text-anchor="end" font-weight="normal" fill="#404040" stroke="#404040" stroke-width="0.1" >2</text>
<text transform="translate(1133.7 163.3) scale(1.18 1)" font-size="20" text-anchor="end" font-weight="normal" fill="#404040" stroke="#404040" stroke-width="0.1" >4</text>
<text transform="translate(1460.4 453.7) scale(1.18 1)" font-size="20" text-anchor="end" font-weight="normal" fill="#404040" stroke="#404040" stroke-width="0.1" >-10</text>
<text transform="translate(1378.5 432.5) scale(1.18 1)" font-size="20" text-anchor="end" font-weight="normal" fill="#404040" stroke="#404040" stroke-width="0.1" >-5</text>
<text transform="translate(1296.6 411.3) scale(1.18 1)" font-size="20" text-anchor="end" font-weight="normal" fill="#404040" stroke="#404040" stroke-width="0.1" >0</text>
<text transform="translate(1214.7 390.1) scale(1.18 1)" font-size="20" text-anchor="end" font-weight="normal" fill="#404040" stroke="#404040" stroke-width="0.1" >5</text>
<text transform="translate(1132.8 368.9) scale(1.18 1)" font-size="20" text-anchor="end" font-weight="normal" fill="#404040" stroke="#404040" stroke-width="0.1" >10</text>
<text transform="translate(1500 455.6) scale(1.18 1)" font-size="20" text-anchor="start" font-weight="normal" fill="#404040" stroke="#404040" stroke-width="0.1" >-10</text>
<text transform="translate(1606.6 439.4) scale(1.18 1)" font-size="20" text-anchor="start" font-weight="normal" fill="#404040" stroke="#404040" stroke-width="0.1" >-5</text>
<text transform="translate(1713.2 423.2) scale(1.18 1)" font-size="20" text-anchor="start" font-weight="normal" fill="#404040" stroke="#404040" stroke-width="0.1" >0</text>
<text transform="translate(1819.9 407.1) scale(1.18 1)" font-size="20" text-anchor="start" font-weight="normal" fill="#404040" stroke="#404040" stroke-width="0.1" >5</text>
<text transform="translate(1926.5 390.9) scale(1.18 1)" font-size="20" text-anchor="start" font-weight="normal" fill="#404040" stroke="#404040" stroke-width="0.1" >10</text>
<text transform="translate(1318 468.3) scale(1.18 1)" font-size="22" text-anchor="middle" font-weight="normal" fill="#404040" stroke="#404040" stroke-width="0.1" >y</text>
<text transform="translate(1666.5 474.6) scale(1.18 1)" font-size="22" text-anchor="middle" font-weight="normal" fill="#404040" stroke="#404040" stroke-width="0.1" >x</text>
<text transform="translate(1094.3 252.2) rotate(-90) scale(1 1.18)" font-size="22" text-anchor="middle" fill="#404040" textLength="39.5" lengthAdjust="spacing">|<tspan font-family="'Liberation Serif', 'DejaVu Serif', serif" font-style="italic" font-size="23" fill="#6a6a6a">ψ</tspan><tspan font-size="16" dy="7.5">2</tspan><tspan dy="-7.5">|</tspan></text>
<text transform="translate(1324.5 72.5) scale(1.18 1)" font-size="22" font-weight="bold" fill="#000" textLength="298.0" lengthAdjust="spacingAndGlyphs">Numerical representation of</text>
<text transform="translate(1685.1 72.5) scale(1.18 1)" font-size="22" font-weight="bold" fill="#000" textLength="40.6" lengthAdjust="spacing">|<tspan font-family="'Liberation Serif', 'DejaVu Serif', serif" font-style="italic" font-weight="normal" font-size="25">ψ</tspan><tspan font-size="16" dy="9.3">2</tspan><tspan dy="-9.3">|</tspan></text>
<rect x="1413" y="151.8" width="128.4" height="51.1" rx="3" fill="none" stroke="#505050" stroke-width="2.2"/>
<text x="1424.4" y="180.5" font-size="20.5" fill="#000" textLength="73.5" lengthAdjust="spacingAndGlyphs">At t = 2</text>
<path d="M152.9 808.6L152.9 623.9M259.5 792.4L259.5 607.7M366.1 776.2L366.1 591.5M472.8 760.1L472.8 575.4M579.4 743.9L579.4 559.2M907 828.7L907 644M825.1 807.5L825.1 622.8M743.2 786.3L743.2 601.6M661.3 765.1L661.3 580.4M152.9 808.6L579.4 743.9M579.4 743.9L907 828.7M152.9 716.2L579.4 651.6M579.4 651.6L907 736.4M152.9 623.9L579.4 559.2M579.4 559.2L907 644" stroke="#dcdcdc" stroke-width="1.5" fill="none"/>
<path d="M152.9 623.9L152.9 808.6L480.5 893.4L907 828.7M152.9 808.6L144.4 806.4M152.9 716.2L144.4 714M152.9 623.9L144.4 621.7M480.5 893.4L471.8 894.7M398.6 872.2L389.9 873.5M316.7 851L308 852.3M234.8 829.8L226.1 831.1M152.9 808.6L144.2 809.9M480.5 893.4L489 895.6M587.1 877.2L595.6 879.4M693.8 861L702.3 863.3M800.4 844.9L808.9 847.1M907 828.7L915.5 830.9" stroke="#4a4a4a" stroke-width="1.7" fill="none" stroke-linejoin="round"/>
<g stroke="#000" stroke-width="1.9" stroke-linejoin="round"><path d="M152.9 808.6L480.5 893.4L907 828.7L579.4 743.9z" fill="#07061c" stroke="#000" stroke-width="2.2"/><path d="M159.5 810.3L161.4 807.3M166 812L170 806M172.6 813.7L178.5 804.7M179.1 815.4L187 803.4M185.7 817.1L195.5 802.1M192.2 818.8L204.1 800.8M198.8 820.5L212.6 799.5M205.3 822.2L221.1 798.2M211.9 823.9L229.7 797M218.4 825.6L238.2 795.7M225 827.3L246.7 794.4M231.5 829L255.3 793.1M238.1 830.6L263.8 791.8M244.6 832.3L272.3 790.5M251.2 834L280.9 789.2M257.7 835.7L289.4 787.9M264.3 837.4L297.9 786.6M270.8 839.1L306.4 785.3M277.4 840.8L315 784M283.9 842.5L323.5 782.7M290.5 844.2L332 781.4M297 845.9L340.6 780.1M303.6 847.6L349.1 778.8M310.1 849.3L357.6 777.5M316.7 851L366.1 776.2M323.3 852.7L374.7 775M329.8 854.4L383.2 773.7M336.4 856.1L391.7 772.4M342.9 857.8L400.3 771.1M349.5 859.5L408.8 769.8M356 861.2L417.3 768.5M362.6 862.9L425.9 767.2M369.1 864.6L434.4 765.9M375.7 866.3L442.9 764.6M382.2 868L451.4 763.3M388.8 869.7L460 762M395.3 871.4L468.5 760.7M401.9 873L477 759.4M408.4 874.7L485.6 758.1M415 876.4L494.1 756.8M421.5 878.1L502.6 755.5M428.1 879.8L511.2 754.3M434.6 881.5L519.7 753M441.2 883.2L528.2 751.7M447.7 884.9L536.7 750.4M454.3 886.6L545.3 749.1M460.8 888.3L553.8 747.8M467.4 890L562.3 746.5M473.9 891.7L570.9 745.2M480.5 893.4L579.4 743.9M489 892.1L586 745.6M497.6 890.8L592.5 747.3M506.1 889.5L599.1 749M514.6 888.2L605.6 750.7M523.1 886.9L612.2 752.4M531.7 885.6L618.7 754.1M540.2 884.3L625.3 755.8M548.7 883L631.8 757.5M557.3 881.8L638.4 759.2M565.8 880.5L644.9 760.9M574.3 879.2L651.5 762.6M582.9 877.9L658 764.3M591.4 876.6L664.6 765.9M599.9 875.3L671.1 767.6M608.5 874L677.7 769.3M617 872.7L684.2 771M625.5 871.4L690.8 772.7M634 870.1L697.3 774.4M642.6 868.8L703.9 776.1M651.1 867.5L710.4 777.8M659.6 866.2L717 779.5M668.2 864.9L723.5 781.2M676.7 863.6L730.1 782.9M685.2 862.3L736.6 784.6M693.8 861L743.2 786.3M702.3 859.8L749.8 788M710.8 858.5L756.3 789.7M719.3 857.2L762.9 791.4M727.9 855.9L769.4 793.1M736.4 854.6L776 794.8M744.9 853.3L782.5 796.5M753.5 852L789.1 798.2M762 850.7L795.6 799.9M770.5 849.4L802.2 801.6M779 848.1L808.7 803.3M787.6 846.8L815.3 805M796.1 845.5L821.8 806.7M804.6 844.2L828.4 808.3M813.2 842.9L834.9 810M821.7 841.6L841.5 811.7M830.2 840.3L848 813.4M838.8 839.1L854.6 815.1M847.3 837.8L861.1 816.8M855.8 836.5L867.7 818.5M864.3 835.2L874.2 820.2M872.9 833.9L880.8 821.9M881.4 832.6L887.3 823.6M889.9 831.3L893.9 825.3M898.5 830L900.4 827" fill="none" stroke="#15122c" stroke-width="2.8"/><path fill="#271c73" stroke-width="1.1" d="M338.6 781.4l8.5-0.8-6.5-1.7-8.6 1.1z"/><path fill="#2a207f" stroke-width="1.1" d="M330.1 782.3l8.5-0.9-6.6-1.4-8.5 1.2z"/><path fill="#2c2389" stroke-width="1.1" d="M321.5 783.3l8.6-1-6.6-1.1-8.5 1.3z"/><path fill="#2d248b" stroke-width="1.1" d="M313 784.4l8.5-1.1-6.5-0.8-8.6 1.4z"/><path fill="#2d248c" stroke-width="1.1" d="M304.5 785.7l8.5-1.3-6.6-0.5-8.5 1.4z"/><path fill="#2e258e" stroke-width="1.1" d="M270.3 790.6l8.6-0.9-6.6-0.6-8.5 1.3z"/><path fill="#302998" stroke-width="1.1" d="M261.8 791.6l8.5-1-6.5-0.2-8.5 1.2z"/><path fill="#302997" stroke-width="1.1" d="M253.3 793l8.5-1.4-6.5 0-8.6 1.3z"/><path fill="#2b2080" stroke-width="1.1" d="M244.8 795.1l8.5-2.1-6.6-0.1-8.5 1.4z"/><path fill="#261b6e" stroke-width="1.1" d="M236.2 797.3l8.6-2.2-6.6-0.8-8.5 2.7z"/><path fill="#231762" stroke-width="1.4" d="M227.7 799.9l8.5-2.6-6.5-0.3-8.6 1.2z"/><path fill="#2a1f7e" stroke-width="1.1" d="M336.6 784l8.5-0.7-6.5-1.9-8.5 0.9z"/><path fill="#2e258e" stroke-width="1.1" d="M328.1 784.6l8.5-0.6-6.5-1.7-8.6 1z"/><path fill="#322a9e" stroke-width="1.1" d="M319.5 785.1l8.6-0.5-6.6-1.3-8.5 1.1z"/><path fill="#3531ac" stroke-width="1.1" d="M311 785.8l8.5-0.7-6.5-0.7-8.5 1.3z"/><path fill="#3737b6" stroke-width="1.1" d="M302.5 786.6l8.5-0.8-6.5-0.1-8.6 1.4z"/><path fill="#3a3ec2" stroke-width="1.1" d="M268.4 790.7l8.5-0.9-6.6 0.8-8.5 1z"/><path fill="#393dbf" stroke-width="1.1" d="M259.8 792.4l8.6-1.7-6.6 0.9-8.5 1.4z"/><path fill="#332fa4" stroke-width="1.1" d="M251.3 795.4l8.5-3-6.5 0.6-8.5 2.1z"/><path fill="#2a1f7d" stroke-width="1.2" d="M242.8 798.3l8.5-2.9-6.5-0.3-8.6 2.2z"/><path fill="#241865" stroke-width="1.5" d="M234.2 801.6l8.6-3.3-6.6-1-8.5 2.6z"/><path fill="#2d238a" stroke-width="1.1" d="M334.6 786.6l8.6-0.4-6.6-2.2-8.5 0.6z"/><path fill="#322a9e" stroke-width="1.1" d="M326.1 786.8l8.5-0.2-6.5-2-8.6 0.5z"/><path fill="#3838b8" stroke-width="1.1" d="M317.6 786.7l8.5 0.1-6.6-1.7-8.5 0.7z"/><path fill="#3c45cc" stroke-width="1.1" d="M309 786.4l8.6 0.3-6.6-0.9-8.5 0.8z"/><path fill="#383cbc" stroke-width="1.3" d="M257.9 795.7l8.5-4.7-6.6 1.4-8.5 3z"/><path fill="#2e258e" stroke-width="1.3" d="M249.3 799.2l8.6-3.5-6.6-0.3-8.5 2.9z"/><path fill="#271c72" stroke-width="1.1" d="M240.8 801.7l8.5-2.5-6.5-0.9-8.6 3.3z"/><path fill="#231764" stroke-width="1.4" d="M232.3 804.6l8.5-2.9-6.6-0.1-8.5 1.3z"/><path fill="#2e258e" stroke-width="1.1" d="M332.6 789.3l8.6-0.3-6.6-2.4-8.5 0.2z"/><path fill="#3636b3" stroke-width="1.1" d="M324.1 789l8.5 0.3-6.5-2.5-8.5-0.1z"/><path fill="#3c45ce" stroke-width="1.1" d="M315.6 787.9l8.5 1.1-6.5-2.3-8.6-0.3z"/><path fill="#3e4cd7" stroke-width="1.8" d="M264.4 794.9l8.5-10.8-6.5 6.9-8.5 4.7z"/><path fill="#332fa6" stroke-width="1.5" d="M255.9 800l8.5-5.1-6.5 0.8-8.6 3.5z"/><path fill="#2a207f" stroke-width="1.2" d="M247.3 802.9l8.6-2.9-6.6-0.8-8.5 2.5z"/><path fill="#261b6f" stroke-width="1.1" d="M238.8 805l8.5-2.1-6.5-1.2-8.5 2.9z"/><path fill="#231763" stroke-width="1.4" d="M230.3 807.6l8.5-2.6-6.5-0.4-8.6 1.3z"/><path fill="#261b6f" stroke-width="1.1" d="M416 780.8l8.5 0-6.6-1.6-8.5 1.2z"/><path fill="#271b71" stroke-width="1.1" d="M407.4 781.9l8.6-1.1-6.6-0.4-8.5 1.3z"/><path fill="#271c73" stroke-width="1.1" d="M398.9 783l8.5-1.1-6.5-0.2-8.5 1.3z"/><path fill="#281c74" stroke-width="1.1" d="M390.4 784.3l8.5-1.3-6.5 0-8.6 1.3zM381.8 785.6l8.6-1.3-6.6 0-8.5 1.3z"/><path fill="#312a9b" stroke-width="1.1" d="M330.7 791.7l8.5-0.1-6.6-2.3-8.5-0.3z"/><path fill="#3a3ec1" stroke-width="1.1" d="M322.1 790.8l8.6 0.9-6.6-2.7-8.5-1.1z"/><path fill="#405cea" stroke-width="1.1" d="M313.6 788.2l8.5 2.6-6.5-2.9-8.5-2.1z"/><path fill="#23a0e5" stroke-width="2.2" d="M279.5 773.2l8.5-124.9-6.5 119.4-8.6 16.4z"/><path fill="#4065f5" stroke-width="2.1" d="M271 793.5l8.5-20.3-6.6 10.9-8.5 10.8z"/><path fill="#3a3ec3" stroke-width="1.4" d="M262.4 799.6l8.6-6.1-6.6 1.4-8.5 5.1z"/><path fill="#31299a" stroke-width="1.3" d="M253.9 803.5l8.5-3.9-6.5 0.4-8.6 2.9z"/><path fill="#291f7b" stroke-width="1.2" d="M245.4 806.2l8.5-2.7-6.6-0.6-8.5 2.1z"/><path fill="#241866" stroke-width="1.5" d="M236.8 809.3l8.6-3.1-6.6-1.2-8.5 2.6z"/><path fill="#271b71" stroke-width="1.1" d="M422.5 782.3l8.6 0.2-6.6-1.7-8.5 0z"/><path fill="#291f7c" stroke-width="1.1" d="M414 783.2l8.5-0.9-6.5-1.5-8.6 1.1z"/><path fill="#2b2080" stroke-width="1.1" d="M405.5 784.2l8.5-1-6.6-1.3-8.5 1.1z"/><path fill="#2d248b" stroke-width="1.1" d="M396.9 785.2l8.6-1-6.6-1.2-8.5 1.3z"/><path fill="#2e248e" stroke-width="1.1" d="M388.4 786.2l8.5-1-6.5-0.9-8.6 1.3z"/><path fill="#2e258f" stroke-width="1.1" d="M379.9 787.4l8.5-1.2-6.6-0.6-8.5 1.3z"/><path fill="#3636b2" stroke-width="1.1" d="M328.7 793.7l8.5 0-6.5-2-8.6-0.9z"/><path fill="#3d4cd6" stroke-width="1.1" d="M320.2 791.9l8.5 1.8-6.6-2.9-8.5-2.6z"/><path fill="#3875fe" stroke-width="1.1" d="M311.6 787.7l8.6 4.2-6.6-3.7-8.5-5.4z"/><path fill="#2d8cf3" stroke-width="1.9" d="M303.1 780.2l8.5 7.5-6.5-4.9-8.6-17.8z"/><path fill="#20a5e3" stroke-width="2.4" d="M294.6 771.8l8.5 8.4-6.6-15.2-8.5-116.7z"/><path fill="#2e87f7" stroke-width="2.4" d="M286 786.3l8.6-14.5-6.6-123.5-8.5 124.9z"/><path fill="#4066f5" stroke-width="2.2" d="M277.5 795.2l8.5-8.9-6.5-13.1-8.5 20.3z"/><path fill="#3d46d0" stroke-width="1.4" d="M269 800l8.5-4.8-6.5-1.7-8.6 6.1z"/><path fill="#3737b6" stroke-width="1.1" d="M260.5 803.8l8.5-3.8-6.6-0.4-8.5 3.9z"/><path fill="#2e2590" stroke-width="1.1" d="M251.9 806.8l8.6-3-6.6-0.3-8.5 2.7z"/><path fill="#281c74" stroke-width="1.1" d="M243.4 809.2l8.5-2.4-6.5-0.6-8.6 3.1z"/><path fill="#241865" stroke-width="1.5" d="M234.9 812.3l8.5-3.1-6.6 0.1-8.5 1.3z"/><path fill="#261b6e" stroke-width="1.1" d="M429.1 784.3l8.5-0.1-6.5-1.7-8.6-0.2z"/><path fill="#291f7b" stroke-width="1.1" d="M420.5 785l8.6-0.7-6.6-2-8.5 0.9z"/><path fill="#2d238a" stroke-width="1.1" d="M412 785.6l8.5-0.6-6.5-1.8-8.5 1z"/><path fill="#302998" stroke-width="1.1" d="M403.5 786.3l8.5-0.7-6.5-1.4-8.6 1z"/><path fill="#332fa5" stroke-width="1.1" d="M395 787l8.5-0.7-6.6-1.1-8.5 1z"/><path fill="#3635b1" stroke-width="1.1" d="M386.4 787.7l8.6-0.7-6.6-0.8-8.5 1.2z"/><path fill="#3737b6" stroke-width="1.1" d="M377.9 788.6l8.5-0.9-6.5-0.3-8.6 1.3z"/><path fill="#3d46cf" stroke-width="1.1" d="M326.7 794.1l8.5-0.1-6.5-0.3-8.5-1.8z"/><path fill="#405cea" stroke-width="1.7" d="M318.2 792.9l8.5 1.2-6.5-2.2-8.6-4.2z"/><path fill="#4269fd" stroke-width="2.4" d="M309.7 792l8.5 0.9-6.6-5.2-8.5-7.5zM301.1 793.3l8.6-1.3-6.6-11.8-8.5-8.4z"/><path fill="#415ded" stroke-width="2.4" d="M292.6 796.5l8.5-3.2-6.5-21.5-8.6 14.5z"/><path fill="#3f4dda" stroke-width="2.4" d="M284.1 799.6l8.5-3.1-6.6-10.2-8.5 8.9z"/><path fill="#3c44cb" stroke-width="1.6" d="M275.5 802.4l8.6-2.8-6.6-4.4-8.5 4.8z"/><path fill="#383cbd" stroke-width="1.2" d="M267 805.1l8.5-2.7-6.5-2.4-8.5 3.8z"/><path fill="#332fa5" stroke-width="1.1" d="M258.5 807.7l8.5-2.6-6.5-1.3-8.6 3z"/><path fill="#2d248b" stroke-width="1.1" d="M249.9 810.1l8.6-2.4-6.6-0.9-8.5 2.4z"/><path fill="#271c73" stroke-width="1.1" d="M241.4 812.3l8.5-2.2-6.5-0.9-8.5 3.1z"/><path fill="#241865" stroke-width="1.5" d="M232.9 815.3l8.5-3-6.5 0-8.6 1.3z"/><path fill="#231763" stroke-width="1.5" d="M435.6 787.2l8.6-1.3-6.6-1.7-8.5 0.1z"/><path fill="#261b6f" stroke-width="1.1" d="M427.1 787.2l8.5 0-6.5-2.9-8.6 0.7z"/><path fill="#2a1f7e" stroke-width="1.1" d="M418.6 787.7l8.5-0.5-6.6-2.2-8.5 0.6z"/><path fill="#302997" stroke-width="1.1" d="M410 788.1l8.6-0.4-6.6-2.1-8.5 0.7z"/><path fill="#3531ab" stroke-width="1.1" d="M401.5 788.2l8.5-0.1-6.5-1.8-8.5 0.7z"/><path fill="#393dbf" stroke-width="1.1" d="M393 788.4l8.5-0.2-6.5-1.2-8.6 0.7z"/><path fill="#3b44ca" stroke-width="1.1" d="M384.4 788.6l8.6-0.2-6.6-0.7-8.5 0.9z"/><path fill="#3f4edb" stroke-width="2.4" d="M316.2 797.2l8.5-4-6.5-0.3-8.5-0.9z"/><path fill="#3b44c9" stroke-width="2.4" d="M307.7 800.4l8.5-3.2-6.5-5.2-8.6 1.3z"/><path fill="#393dbf" stroke-width="2.4" d="M299.1 802.7l8.6-2.3-6.6-7.1-8.5 3.2z"/><path fill="#3837b7" stroke-width="2.3" d="M290.6 804.4l8.5-1.7-6.5-6.2-8.5 3.1z"/><path fill="#3636b3" stroke-width="1.9" d="M282.1 806.1l8.5-1.7-6.5-4.8-8.6 2.8z"/><path fill="#3430a9" stroke-width="1.5" d="M273.6 807.8l8.5-1.7-6.6-3.7-8.5 2.7z"/><path fill="#322a9d" stroke-width="1.3" d="M265 809.6l8.6-1.8-6.6-2.7-8.5 2.6z"/><path fill="#2e258f" stroke-width="1.1" d="M256.5 811.5l8.5-1.9-6.5-1.9-8.6 2.4z"/><path fill="#2a2080" stroke-width="1.1" d="M248 813.5l8.5-2-6.6-1.4-8.5 2.2z"/><path fill="#271b71" stroke-width="1.1" d="M239.4 815.4l8.6-1.9-6.6-1.2-8.5 3z"/><path fill="#241865" stroke-width="1.4" d="M230.9 818.3l8.5-2.9-6.5-0.1-8.5 1.3z"/><path fill="#231763" stroke-width="1.5" d="M433.6 790.2l8.6-1.3-6.6-1.7-8.5 0z"/><path fill="#2b2080" stroke-width="1.1" d="M416.6 790.6l8.5-0.4-6.5-2.5-8.6 0.4z"/><path fill="#312a9d" stroke-width="1.1" d="M408.1 790.6l8.5 0-6.6-2.5-8.5 0.1z"/><path fill="#393cbd" stroke-width="1.1" d="M399.5 790.3l8.6 0.3-6.6-2.4-8.5 0.2z"/><path fill="#3d46d0" stroke-width="1.1" d="M391 789.6l8.5 0.7-6.5-1.9-8.6 0.2z"/><path fill="#4156e7" stroke-width="1.1" d="M382.5 788.7l8.5 0.9-6.6-1-8.5 0.3z"/><path fill="#425ff3" stroke-width="1.6" d="M322.8 796.5l8.5-8.4-6.6 5.1-8.5 4z"/><path fill="#3a3ec2" stroke-width="2.1" d="M314.2 802.6l8.6-6.1-6.6 0.7-8.5 3.2z"/><path fill="#322a9e" stroke-width="2.1" d="M305.7 806.1l8.5-3.5-6.5-2.2-8.6 2.3z"/><path fill="#2e248e" stroke-width="2.0" d="M297.2 808.1l8.5-2-6.6-3.4-8.5 1.7z"/><path fill="#2d248b" stroke-width="1.8" d="M288.6 809.6l8.6-1.5-6.6-3.7-8.5 1.7z"/><path fill="#2d248b" stroke-width="1.6" d="M280.1 811l8.5-1.4-6.5-3.5-8.5 1.7z"/><path fill="#2d238a" stroke-width="1.4" d="M271.6 812.3l8.5-1.3-6.5-3.2-8.6 1.8z"/><path fill="#2b2081" stroke-width="1.3" d="M263 813.8l8.6-1.5-6.6-2.7-8.5 1.9z"/><path fill="#2a1f7e" stroke-width="1.2" d="M254.5 815.3l8.5-1.5-6.5-2.3-8.5 2z"/><path fill="#281c73" stroke-width="1.1" d="M246 817l8.5-1.7-6.5-1.8-8.6 1.9z"/><path fill="#261b6f" stroke-width="1.1" d="M237.5 818.7l8.5-1.7-6.6-1.6-8.5 2.9z"/><path fill="#231764" stroke-width="1.4" d="M228.9 821.3l8.6-2.6-6.6-0.4-8.5 1.3z"/><path fill="#241865" stroke-width="1.5" d="M431.7 793.2l8.5-1.3-6.6-1.7-8.5 0z"/><path fill="#332fa6" stroke-width="1.1" d="M406.1 793.3l8.5 0.2-6.5-2.9-8.6-0.3z"/><path fill="#3b3fc4" stroke-width="1.1" d="M397.5 792.4l8.6 0.9-6.6-3-8.5-0.7z"/><path fill="#4156e6" stroke-width="1.1" d="M389 790.5l8.5 1.9-6.5-2.8-8.5-0.9z"/><path fill="#327cfc" stroke-width="1.4" d="M329.3 793.9l8.5-11.3-6.5 5.5-8.5 8.4z"/><path fill="#3f4edc" stroke-width="1.5" d="M320.8 801.8l8.5-7.9-6.5 2.6-8.6 6.1z"/><path fill="#3737b5" stroke-width="1.5" d="M312.2 806.7l8.6-4.9-6.6 0.8-8.5 3.5z"/><path fill="#2e248d" stroke-width="1.5" d="M303.7 809.9l8.5-3.2-6.5-0.6-8.5 2z"/><path fill="#291f7b" stroke-width="1.5" d="M295.2 812.1l8.5-2.2-6.5-1.8-8.6 1.5z"/><path fill="#271b71" stroke-width="1.5" d="M286.7 813.7l8.5-1.6-6.6-2.5-8.5 1.4z"/><path fill="#271b70" stroke-width="1.4" d="M278.1 815l8.6-1.3-6.6-2.7-8.5 1.3z"/><path fill="#271b71" stroke-width="1.4" d="M269.6 816.3l8.5-1.3-6.5-2.7-8.6 1.5z"/><path fill="#271b70" stroke-width="1.3" d="M261.1 817.6l8.5-1.3-6.6-2.5-8.5 1.5z"/><path fill="#261b70" stroke-width="1.2" d="M252.5 819l8.6-1.4-6.6-2.3-8.5 1.7z"/><path fill="#261b6e" stroke-width="1.1" d="M244 820.4l8.5-1.4-6.5-2-8.5 1.7z"/><path fill="#241865" stroke-width="1.4" d="M235.5 823l8.5-2.6-6.5-1.7-8.6 2.6z"/><path fill="#261b6e" stroke-width="1.1" d="M463.8 789.8l8.5-0.1-6.5-1.7-8.5 1.3zM455.3 791l8.5-1.2-6.5-0.5-8.6 1.3z"/><path fill="#261b6f" stroke-width="1.1" d="M446.8 792.3l8.5-1.3-6.6-0.4-8.5 1.3z"/><path fill="#261b70" stroke-width="1.1" d="M438.2 793.5l8.6-1.2-6.6-0.4-8.5 1.3z"/><path fill="#3430a9" stroke-width="1.3" d="M404.1 796.1l8.5 0.3-6.5-3.1-8.6-0.9z"/><path fill="#3d46cf" stroke-width="1.1" d="M395.6 794.5l8.5 1.6-6.6-3.7-8.5-1.9z"/><path fill="#3e6fff" stroke-width="1.1" d="M387 790.9l8.6 3.6-6.6-4-8.5-3z"/><path fill="#12b1d6" stroke-width="1.1" d="M352.9 768.5l8.6-2.6-6.6 6.1-8.5 0.5z"/><path fill="#23a0e5" stroke-width="1.7" d="M344.4 780.8l8.5-12.3-6.5 4-8.6 10.1z"/><path fill="#2e87f7" stroke-width="1.7" d="M335.9 792.6l8.5-11.8-6.6 1.8-8.5 11.3z"/><path fill="#4166f7" stroke-width="1.5" d="M327.3 800.8l8.6-8.2-6.6 1.3-8.5 7.9z"/><path fill="#3c45cd" stroke-width="1.3" d="M318.8 806.4l8.5-5.6-6.5 1-8.6 4.9z"/><path fill="#3430a9" stroke-width="1.2" d="M310.3 810.3l8.5-3.9-6.6 0.3-8.5 3.2z"/><path fill="#2c2389" stroke-width="1.2" d="M301.7 813.2l8.6-2.9-6.6-0.4-8.5 2.2z"/><path fill="#271b71" stroke-width="1.3" d="M293.2 815.4l8.5-2.2-6.5-1.1-8.5 1.6z"/><path fill="#241865" stroke-width="1.9" d="M284.7 818.2l8.5-2.8-6.5-1.7-8.6 1.3z"/><path fill="#231764" stroke-width="1.6" d="M276.2 819.5l8.5-1.3-6.6-3.2-8.5 1.3zM267.6 820.8l8.6-1.3-6.6-3.2-8.5 1.3zM259.1 822.1l8.5-1.3-6.5-3.2-8.6 1.4z"/><path fill="#231764" stroke-width="1.5" d="M250.6 823.4l8.5-1.3-6.6-3.1-8.5 1.4z"/><path fill="#231763" stroke-width="1.1" d="M242 824.7l8.6-1.3-6.6-3-8.5 2.6z"/><path fill="#261b6f" stroke-width="1.1" d="M478.9 790.1l8.5 0-6.5-1.7-8.6 1.3z"/><path fill="#271c72" stroke-width="1.1" d="M470.4 791.1l8.5-1-6.6-0.4-8.5 0.1z"/><path fill="#291f7b" stroke-width="1.1" d="M461.8 792.2l8.6-1.1-6.6-1.3-8.5 1.2z"/><path fill="#2a1f7e" stroke-width="1.1" d="M453.3 793.3l8.5-1.1-6.5-1.2-8.5 1.3z"/><path fill="#2a207f" stroke-width="1.1" d="M444.8 794.4l8.5-1.1-6.5-1-8.6 1.2z"/><path fill="#2b2081" stroke-width="1.1" d="M436.2 795.6l8.6-1.2-6.6-0.9-8.5 1.2z"/><path fill="#3737b5" stroke-width="1.5" d="M402.1 798.5l8.6 0.2-6.6-2.6-8.5-1.6z"/><path fill="#3f4edc" stroke-width="1.3" d="M393.6 796.2l8.5 2.3-6.5-4-8.6-3.6z"/><path fill="#327cfc" stroke-width="1.1" d="M385.1 790.3l8.5 5.9-6.6-5.3-8.5-6.5z"/><path fill="#1ca9df" stroke-width="2.4" d="M359.5 774l8.5-2.5-6.5-5.6-8.6 2.6z"/><path fill="#259be8" stroke-width="2.4" d="M350.9 784.1l8.6-10.1-6.6-5.5-8.5 12.3z"/><path fill="#2e87f7" stroke-width="2.2" d="M342.4 793.8l8.5-9.7-6.5-3.3-8.5 11.8z"/><path fill="#3e6fff" stroke-width="1.7" d="M333.9 801l8.5-7.2-6.5-1.2-8.6 8.2z"/><path fill="#3f54e0" stroke-width="1.3" d="M325.4 806.3l8.5-5.3-6.6-0.2-8.5 5.6z"/><path fill="#3a3ec1" stroke-width="1.2" d="M316.8 810.4l8.6-4.1-6.6 0.1-8.5 3.9z"/><path fill="#332fa4" stroke-width="1.1" d="M308.3 813.7l8.5-3.3-6.5-0.1-8.6 2.9z"/><path fill="#2b2081" stroke-width="1.1" d="M299.8 816.3l8.5-2.6-6.6-0.5-8.5 2.2z"/><path fill="#261b70" stroke-width="1.1" d="M291.2 818.5l8.6-2.2-6.6-0.9-8.5 2.8z"/><path fill="#231764" stroke-width="1.4" d="M282.7 821.2l8.5-2.7-6.5-0.3-8.5 1.3z"/><path fill="#261b6e" stroke-width="1.1" d="M485.4 791.8l8.6 0-6.6-1.7-8.5 0z"/><path fill="#281c73" stroke-width="1.1" d="M476.9 792.7l8.5-0.9-6.5-1.7-8.5 1z"/><path fill="#2d248c" stroke-width="1.1" d="M459.9 794.4l8.5-0.9-6.6-1.3-8.5 1.1z"/><path fill="#302997" stroke-width="1.1" d="M451.3 795.3l8.6-0.9-6.6-1.1-8.5 1.1z"/><path fill="#312a9b" stroke-width="1.1" d="M442.8 796.2l8.5-0.9-6.5-0.9-8.6 1.2z"/><path fill="#3c45cc" stroke-width="1.2" d="M400.1 799.4l8.6 0.3-6.6-1.2-8.5-2.3z"/><path fill="#425ff2" stroke-width="1.6" d="M391.6 796.9l8.5 2.5-6.5-3.2-8.5-5.9z"/><path fill="#2f81fa" stroke-width="1.7" d="M383.1 791.1l8.5 5.8-6.5-6.6-8.6-10.1z"/><path fill="#2b91ef" stroke-width="2.3" d="M374.6 786.6l8.5 4.5-6.6-10.9-8.5-8.7z"/><path fill="#2b91ef" stroke-width="2.4" d="M366 788.2l8.6-1.6-6.6-15.1-8.5 2.5z"/><path fill="#2e87f7" stroke-width="2.4" d="M357.5 793l8.5-4.8-6.5-14.2-8.6 10.1z"/><path fill="#327cfc" stroke-width="2.4" d="M349 798.2l8.5-5.2-6.6-8.9-8.5 9.7z"/><path fill="#3e6fff" stroke-width="1.9" d="M340.4 803.1l8.6-4.9-6.6-4.4-8.5 7.2z"/><path fill="#4055e5" stroke-width="1.5" d="M331.9 807.4l8.5-4.3-6.5-2.1-8.5 5.3z"/><path fill="#3c45cc" stroke-width="1.3" d="M323.4 811.1l8.5-3.7-6.5-1.1-8.6 4.1z"/><path fill="#3737b6" stroke-width="1.1" d="M314.8 814.3l8.6-3.2-6.6-0.7-8.5 3.3z"/><path fill="#302999" stroke-width="1.1" d="M306.3 817.1l8.5-2.8-6.5-0.6-8.5 2.6z"/><path fill="#2a207f" stroke-width="1.1" d="M297.8 819.4l8.5-2.3-6.5-0.8-8.6 2.2z"/><path fill="#261b6f" stroke-width="1.1" d="M289.3 821.5l8.5-2.1-6.6-0.9-8.5 2.7z"/><path fill="#231763" stroke-width="1.4" d="M280.7 824.2l8.6-2.7-6.6-0.3-8.5 1.3z"/><path fill="#241865" stroke-width="1.5" d="M492 794.8l8.5-1.3-6.5-1.7-8.6 0z"/><path fill="#271b71" stroke-width="1.1" d="M483.5 794.6l8.5 0.2-6.6-3-8.5 0.9z"/><path fill="#2a207f" stroke-width="1.1" d="M474.9 795.3l8.6-0.7-6.6-1.9-8.5 0.8z"/><path fill="#332fa5" stroke-width="1.1" d="M457.9 796.3l8.5-0.5-6.5-1.4-8.6 0.9z"/><path fill="#3736b4" stroke-width="1.1" d="M449.3 796.8l8.6-0.5-6.6-1-8.5 0.9z"/><path fill="#393dbe" stroke-width="1.1" d="M440.8 797.3l8.5-0.5-6.5-0.6-8.5 1z"/><path fill="#3e6fff" stroke-width="2.4" d="M389.6 797.9l8.6-0.4-6.6-0.6-8.5-5.8zM381.1 799.6l8.5-1.7-6.5-6.8-8.5-4.5z"/><path fill="#4268fc" stroke-width="2.4" d="M372.6 801.4l8.5-1.8-6.5-13-8.6 1.6z"/><path fill="#4166f7" stroke-width="2.4" d="M364 803.4l8.6-2-6.6-13.2-8.5 4.8z"/><path fill="#415ef0" stroke-width="2.4" d="M355.5 805.4l8.5-2-6.5-10.4-8.5 5.2z"/><path fill="#4156e6" stroke-width="2.3" d="M347 807.6l8.5-2.2-6.5-7.2-8.6 4.9z"/><path fill="#3f4dda" stroke-width="1.7" d="M338.5 810.1l8.5-2.5-6.6-4.5-8.5 4.3z"/><path fill="#3c45cc" stroke-width="1.4" d="M329.9 812.8l8.6-2.7-6.6-2.7-8.5 3.7z"/><path fill="#393cbd" stroke-width="1.3" d="M321.4 815.6l8.5-2.8-6.5-1.7-8.6 3.2z"/><path fill="#342fa7" stroke-width="1.2" d="M312.9 818.1l8.5-2.5-6.6-1.3-8.5 2.8z"/><path fill="#2e248e" stroke-width="1.1" d="M304.3 820.5l8.6-2.4-6.6-1-8.5 2.3z"/><path fill="#291f7d" stroke-width="1.1" d="M295.8 822.6l8.5-2.1-6.5-1.1-8.5 2.1z"/><path fill="#261b6e" stroke-width="1.1" d="M287.3 824.6l8.5-2-6.5-1.1-8.6 2.7z"/><path fill="#231763" stroke-width="1.4" d="M278.7 827.2l8.6-2.6-6.6-0.4-8.5 1.3z"/><path fill="#261a6d" stroke-width="1.1" d="M490 796.6l8.6-0.1-6.6-1.7-8.5-0.2z"/><path fill="#281c73" stroke-width="1.1" d="M481.5 797.4l8.5-0.8-6.5-2-8.6 0.7z"/><path fill="#3838b8" stroke-width="1.1" d="M455.9 798.1l8.5 0-6.5-1.8-8.6 0.5z"/><path fill="#3c45cb" stroke-width="1.1" d="M447.4 797.8l8.5 0.3-6.6-1.3-8.5 0.5z"/><path fill="#327cfc" stroke-width="1.1" d="M396.2 797.3l8.5-4-6.5 4.2-8.6 0.4z"/><path fill="#415eef" stroke-width="2.4" d="M387.7 803.3l8.5-6-6.6 0.6-8.5 1.7z"/><path fill="#3c45cc" stroke-width="2.4" d="M379.1 808l8.6-4.7-6.6-3.7-8.5 1.8z"/><path fill="#393dbf" stroke-width="2.4" d="M370.6 810.6l8.5-2.6-6.5-6.6-8.6 2z"/><path fill="#393dbe" stroke-width="2.4" d="M362.1 812l8.5-1.4-6.6-7.2-8.5 2z"/><path fill="#393dbf" stroke-width="2.4" d="M353.5 813.2l8.6-1.2-6.6-6.6-8.5 2.2z"/><path fill="#393dbf" stroke-width="2.0" d="M345 814.5l8.5-1.3-6.5-5.6-8.5 2.5z"/><path fill="#393cbd" stroke-width="1.6" d="M336.5 816l8.5-1.5-6.5-4.4-8.6 2.7z"/><path fill="#3737b6" stroke-width="1.4" d="M327.9 817.8l8.6-1.8-6.6-3.2-8.5 2.8z"/><path fill="#3430a7" stroke-width="1.2" d="M319.4 819.8l8.5-2-6.5-2.2-8.5 2.5z"/><path fill="#302997" stroke-width="1.2" d="M310.9 821.9l8.5-2.1-6.5-1.7-8.6 2.4z"/><path fill="#2b2081" stroke-width="1.1" d="M302.4 824l8.5-2.1-6.6-1.4-8.5 2.1z"/><path fill="#271c73" stroke-width="1.1" d="M293.8 825.9l8.6-1.9-6.6-1.4-8.5 2z"/><path fill="#241867" stroke-width="1.5" d="M285.3 828.9l8.5-3-6.5-1.3-8.6 2.6z"/><path fill="#261b6f" stroke-width="1.1" d="M522.2 794.3l8.5 0-6.6-1.7-8.5 1.3z"/><path fill="#271b71" stroke-width="1.1" d="M513.6 795.4l8.6-1.1-6.6-0.4-8.5 1.3zM505.1 796.7l8.5-1.3-6.5-0.2-8.5 1.3z"/><path fill="#271b70" stroke-width="1.1" d="M496.6 798.1l8.5-1.4-6.5-0.2-8.6 0.1z"/><path fill="#271b71" stroke-width="1.1" d="M488 799.2l8.6-1.1-6.6-1.5-8.5 0.8z"/><path fill="#2a1f7d" stroke-width="1.1" d="M479.5 800.1l8.5-0.9-6.5-1.8-8.5 0.5z"/><path fill="#3b44cb" stroke-width="1.1" d="M453.9 799.6l8.6 0.8-6.6-2.3-8.5-0.3z"/><path fill="#4156e7" stroke-width="1.1" d="M445.4 798l8.5 1.6-6.5-1.8-8.6-0.5z"/><path fill="#2e87f7" stroke-width="1.1" d="M402.7 795.3l8.6-7.2-6.6 5.2-8.5 4z"/><path fill="#4268fc" stroke-width="1.8" d="M394.2 803.6l8.5-8.3-6.5 2-8.5 6z"/><path fill="#3d46ce" stroke-width="1.9" d="M385.7 809.4l8.5-5.8-6.5-0.3-8.6 4.7z"/><path fill="#3636b2" stroke-width="1.9" d="M377.2 813.2l8.5-3.8-6.6-1.4-8.5 2.6z"/><path fill="#302998" stroke-width="2.1" d="M368.6 815.8l8.6-2.6-6.6-2.6-8.5 1.4z"/><path fill="#2e248d" stroke-width="2.1" d="M360.1 817.5l8.5-1.7-6.5-3.8-8.6 1.2z"/><path fill="#2e258e" stroke-width="1.9" d="M351.6 818.7l8.5-1.2-6.6-4.3-8.5 1.3z"/><path fill="#302997" stroke-width="1.7" d="M343 819.8l8.6-1.1-6.6-4.2-8.5 1.5z"/><path fill="#302998" stroke-width="1.6" d="M334.5 821l8.5-1.2-6.5-3.8-8.6 1.8z"/><path fill="#302997" stroke-width="1.4" d="M326 822.3l8.5-1.3-6.6-3.2-8.5 2z"/><path fill="#2e248e" stroke-width="1.2" d="M317.4 823.9l8.6-1.6-6.6-2.5-8.5 2.1z"/><path fill="#2b2081" stroke-width="1.2" d="M308.9 825.6l8.5-1.7-6.5-2-8.5 2.1z"/><path fill="#291f7c" stroke-width="1.1" d="M300.4 827.4l8.5-1.8-6.5-1.6-8.6 1.9z"/><path fill="#261b70" stroke-width="1.1" d="M291.9 829.2l8.5-1.8-6.6-1.5-8.5 3z"/><path fill="#241865" stroke-width="1.4" d="M283.3 831.9l8.6-2.7-6.6-0.3-8.5 1.3z"/><path fill="#261b6f" stroke-width="1.1" d="M528.7 796l8.5 0-6.5-1.7-8.5 0z"/><path fill="#291f7b" stroke-width="1.1" d="M520.2 796.8l8.5-0.8-6.5-1.7-8.6 1.1z"/><path fill="#2b2080" stroke-width="1.1" d="M511.7 797.7l8.5-0.9-6.6-1.4-8.5 1.3z"/><path fill="#2d238a" stroke-width="1.1" d="M503.1 798.7l8.6-1-6.6-1-8.5 1.4zM494.6 800l8.5-1.3-6.5-0.6-8.6 1.1z"/><path fill="#2c2389" stroke-width="1.1" d="M486.1 801.3l8.5-1.3-6.6-0.8-8.5 0.9z"/><path fill="#3f54e0" stroke-width="1.1" d="M451.9 800.5l8.6 1.9-6.6-2.8-8.5-1.6z"/><path fill="#2d8cf3" stroke-width="1.8" d="M409.3 795.2l8.5-8.9-6.5 1.8-8.6 7.2z"/><path fill="#3875fe" stroke-width="1.8" d="M400.8 803.8l8.5-8.6-6.6 0.1-8.5 8.3z"/><path fill="#3f4edb" stroke-width="1.6" d="M392.2 809.9l8.6-6.1-6.6-0.2-8.5 5.8z"/><path fill="#393dbe" stroke-width="1.4" d="M383.7 814.2l8.5-4.3-6.5-0.5-8.5 3.8z"/><path fill="#312a9b" stroke-width="1.4" d="M375.2 817.2l8.5-3-6.5-1-8.6 2.6z"/><path fill="#2b2081" stroke-width="1.5" d="M366.6 819.6l8.6-2.4-6.6-1.4-8.5 1.7z"/><path fill="#281c73" stroke-width="1.6" d="M358.1 821.5l8.5-1.9-6.5-2.1-8.5 1.2z"/><path fill="#271b72" stroke-width="1.6" d="M349.6 822.9l8.5-1.4-6.5-2.8-8.6 1.1z"/><path fill="#271c73" stroke-width="1.6" d="M341.1 824.1l8.5-1.2-6.6-3.1-8.5 1.2z"/><path fill="#291f7b" stroke-width="1.5" d="M332.5 825.3l8.6-1.2-6.6-3.1-8.5 1.3z"/><path fill="#291f7c" stroke-width="1.4" d="M324 826.5l8.5-1.2-6.5-3-8.6 1.6z"/><path fill="#291f7b" stroke-width="1.2" d="M315.5 827.8l8.5-1.3-6.6-2.6-8.5 1.7z"/><path fill="#271c73" stroke-width="1.2" d="M306.9 829.3l8.6-1.5-6.6-2.2-8.5 1.8z"/><path fill="#261b70" stroke-width="1.1" d="M298.4 830.8l8.5-1.5-6.5-1.9-8.5 1.8z"/><path fill="#241866" stroke-width="1.4" d="M289.9 833.6l8.5-2.8-6.5-1.6-8.6 2.7z"/><path fill="#241865" stroke-width="1.5" d="M535.3 799l8.5-1.3-6.6-1.7-8.5 0z"/><path fill="#271b71" stroke-width="1.1" d="M526.7 798.8l8.6 0.2-6.6-3-8.5 0.8z"/><path fill="#2b2080" stroke-width="1.1" d="M518.2 799.4l8.5-0.6-6.5-2-8.5 0.9z"/><path fill="#3531ab" stroke-width="1.1" d="M492.6 801.3l8.5-0.9-6.5-0.4-8.5 1.3z"/><path fill="#3635b1" stroke-width="1.1" d="M484.1 802.5l8.5-1.2-6.5 0-8.6 1.1z"/><path fill="#3e6fff" stroke-width="1.1" d="M450 800.2l8.5 3.2-6.6-2.9-8.5-3.9z"/><path fill="#2797eb" stroke-width="2.4" d="M424.4 791.2l8.5-2.3-6.5-4.5-8.6 1.9z"/><path fill="#2e87f7" stroke-width="2.4" d="M415.8 798.4l8.6-7.2-6.6-4.9-8.5 8.9z"/><path fill="#3875fe" stroke-width="2.1" d="M407.3 805.5l8.5-7.1-6.5-3.2-8.5 8.6z"/><path fill="#4055e4" stroke-width="1.6" d="M398.8 810.9l8.5-5.4-6.5-1.7-8.6 6.1z"/><path fill="#3b3fc5" stroke-width="1.4" d="M390.3 814.9l8.5-4-6.6-1-8.5 4.3z"/><path fill="#3531ab" stroke-width="1.2" d="M381.7 818.2l8.6-3.3-6.6-0.7-8.5 3z"/><path fill="#2e248e" stroke-width="1.2" d="M373.2 820.8l8.5-2.6-6.5-1-8.6 2.4z"/><path fill="#291f7c" stroke-width="1.2" d="M364.7 823l8.5-2.2-6.6-1.2-8.5 1.9z"/><path fill="#261b6f" stroke-width="1.3" d="M356.1 824.8l8.6-1.8-6.6-1.5-8.5 1.4z"/><path fill="#241865" stroke-width="2.0" d="M347.6 827.5l8.5-2.7-6.5-1.9-8.5 1.2z"/><path fill="#231764" stroke-width="1.7" d="M339.1 828.8l8.5-1.3-6.5-3.4-8.6 1.2z"/><path fill="#241865" stroke-width="1.7" d="M330.5 830.1l8.6-1.3-6.6-3.5-8.5 1.2z"/><path fill="#241866" stroke-width="1.7" d="M322 831.4l8.5-1.3-6.5-3.6-8.5 1.3zM313.5 832.7l8.5-1.3-6.5-3.6-8.6 1.5z"/><path fill="#241866" stroke-width="1.6" d="M305 834l8.5-1.3-6.6-3.4-8.5 1.5z"/><path fill="#241865" stroke-width="1.1" d="M296.4 835.2l8.6-1.2-6.6-3.2-8.5 2.8z"/><path fill="#261b6e" stroke-width="1.1" d="M533.3 800.8l8.5-0.1-6.5-1.7-8.6-0.2z"/><path fill="#271c73" stroke-width="1.1" d="M524.8 801.6l8.5-0.8-6.6-2-8.5 0.6z"/><path fill="#2d248b" stroke-width="1.1" d="M516.2 802.1l8.6-0.5-6.6-2.2-8.5 0.5z"/><path fill="#393dbe" stroke-width="1.1" d="M499.2 802l8.5 0.1-6.6-1.7-8.5 0.9z"/><path fill="#3c45cc" stroke-width="1.1" d="M490.6 801.9l8.6 0.1-6.6-0.7-8.5 1.2z"/><path fill="#327cfc" stroke-width="1.2" d="M448 799.5l8.5 2.7-6.5-2-8.6-6.1z"/><path fill="#2e87f7" stroke-width="2.4" d="M439.5 798.3l8.5 1.2-6.6-5.4-8.5-5.2z"/><path fill="#2f81fa" stroke-width="2.4" d="M430.9 801l8.6-2.7-6.6-9.4-8.5 2.3z"/><path fill="#3875fe" stroke-width="2.4" d="M422.4 805.2l8.5-4.2-6.5-9.8-8.6 7.2z"/><path fill="#4066f7" stroke-width="2.4" d="M413.9 809.3l8.5-4.1-6.6-6.8-8.5 7.1z"/><path fill="#3f54e0" stroke-width="1.7" d="M405.3 813l8.6-3.7-6.6-3.8-8.5 5.4z"/><path fill="#3b44ca" stroke-width="1.4" d="M396.8 816.4l8.5-3.4-6.5-2.1-8.5 4z"/><path fill="#3737b6" stroke-width="1.3" d="M388.3 819.3l8.5-2.9-6.5-1.5-8.6 3.3z"/><path fill="#312a9b" stroke-width="1.2" d="M379.7 821.9l8.6-2.6-6.6-1.1-8.5 2.6z"/><path fill="#2b2082" stroke-width="1.1" d="M371.2 824.2l8.5-2.3-6.5-1.1-8.5 2.2z"/><path fill="#271c73" stroke-width="1.1" d="M362.7 826.2l8.5-2-6.5-1.2-8.6 1.8z"/><path fill="#241866" stroke-width="1.4" d="M354.2 829.2l8.5-3-6.6-1.4-8.5 2.7z"/><path fill="#261b6f" stroke-width="1.1" d="M565.4 798.5l8.6 0-6.6-1.7-8.5 1.3z"/><path fill="#271c73" stroke-width="1.1" d="M556.9 799.4l8.5-0.9-6.5-0.4-8.6 1.3z"/><path fill="#291f7c" stroke-width="1.1" d="M539.8 801.8l8.6-1.2-6.6 0.1-8.5 0.1zM531.3 803.1l8.5-1.3-6.5-1-8.5 0.8z"/><path fill="#2a1f7e" stroke-width="1.2" d="M522.8 804.2l8.5-1.1-6.5-1.5-8.6 0.5z"/><path fill="#3c45cd" stroke-width="1.1" d="M497.2 803.5l8.5 1-6.5-2.5-8.6-0.1z"/><path fill="#415ded" stroke-width="1.1" d="M488.7 801.6l8.5 1.9-6.6-1.6-8.5 0.2z"/><path fill="#3875fe" stroke-width="2.4" d="M446 804.7l8.5-5.6-6.5 0.4-8.5-1.2z"/><path fill="#415ef0" stroke-width="2.4" d="M437.5 809.1l8.5-4.4-6.5-6.4-8.6 2.7z"/><path fill="#3f53e0" stroke-width="2.4" d="M428.9 812.2l8.6-3.1-6.6-8.1-8.5 4.2z"/><path fill="#3d4bd4" stroke-width="2.4" d="M420.4 814.6l8.5-2.4-6.5-7-8.5 4.1z"/><path fill="#3b44cb" stroke-width="2.0" d="M411.9 816.7l8.5-2.1-6.5-5.3-8.6 3.7z"/><path fill="#3a3dc1" stroke-width="1.6" d="M403.4 818.9l8.5-2.2-6.6-3.7-8.5 3.4z"/><path fill="#3737b5" stroke-width="1.3" d="M394.8 821.1l8.6-2.2-6.6-2.5-8.5 2.9z"/><path fill="#332fa4" stroke-width="1.2" d="M386.3 823.4l8.5-2.3-6.5-1.8-8.6 2.6z"/><path fill="#2e248d" stroke-width="1.1" d="M377.8 825.5l8.5-2.1-6.6-1.5-8.5 2.3z"/><path fill="#2a1f7e" stroke-width="1.1" d="M369.2 827.6l8.6-2.1-6.6-1.3-8.5 2z"/><path fill="#261b70" stroke-width="1.1" d="M360.7 829.4l8.5-1.8-6.5-1.4-8.5 3z"/><path fill="#241865" stroke-width="1.4" d="M352.2 832.2l8.5-2.8-6.5-0.2-8.6 1.3z"/><path fill="#241866" stroke-width="1.5" d="M572 801.5l8.5-1.3-6.5-1.7-8.6 0z"/><path fill="#271c72" stroke-width="1.1" d="M563.5 801.2l8.5 0.3-6.6-3-8.5 0.9z"/><path fill="#302997" stroke-width="1.1" d="M537.9 803.6l8.5-1-6.6-0.8-8.5 1.3z"/><path fill="#302998" stroke-width="1.1" d="M529.3 804.8l8.6-1.2-6.6-0.5-8.5 1.1z"/><path fill="#302999" stroke-width="1.1" d="M520.8 806.1l8.5-1.3-6.5-0.6-8.6 0.5z"/><path fill="#3f54e2" stroke-width="1.1" d="M495.2 804.6l8.5 2-6.5-3.1-8.5-1.9z"/><path fill="#259be8" stroke-width="1.1" d="M461.1 792.5l8.5-4.4-6.5 8.2-8.6 2.8z"/><path fill="#2f81fa" stroke-width="1.6" d="M452.6 803.2l8.5-10.7-6.6 6.6-8.5 5.6z"/><path fill="#4156e7" stroke-width="2.4" d="M444 811.6l8.6-8.4-6.6 1.5-8.5 4.4z"/><path fill="#3a3ec3" stroke-width="2.4" d="M435.5 816.4l8.5-4.8-6.5-2.5-8.6 3.1z"/><path fill="#3737b5" stroke-width="2.3" d="M427 818.9l8.5-2.5-6.6-4.2-8.5 2.4z"/><path fill="#3530aa" stroke-width="2.0" d="M418.4 820.7l8.6-1.8-6.6-4.3-8.5 2.1z"/><path fill="#342fa7" stroke-width="1.7" d="M409.9 822.3l8.5-1.6-6.5-4-8.5 2.2z"/><path fill="#322a9e" stroke-width="1.5" d="M401.4 823.8l8.5-1.5-6.5-3.4-8.6 2.2z"/><path fill="#302999" stroke-width="1.3" d="M392.9 825.5l8.5-1.7-6.6-2.7-8.5 2.3z"/><path fill="#2e248d" stroke-width="1.2" d="M384.3 827.3l8.6-1.8-6.6-2.1-8.5 2.1z"/><path fill="#2a207f" stroke-width="1.1" d="M375.8 829.1l8.5-1.8-6.5-1.8-8.6 2.1z"/><path fill="#271c72" stroke-width="1.1" d="M367.3 830.9l8.5-1.8-6.6-1.5-8.5 1.8z"/><path fill="#261b6e" stroke-width="1.1" d="M358.7 832.6l8.6-1.7-6.6-1.5-8.5 2.8z"/><path fill="#231764" stroke-width="1.4" d="M350.2 835.2l8.5-2.6-6.5-0.4-8.6 1.3z"/><path fill="#261b6e" stroke-width="1.1" d="M570 803.3l8.5-0.1-6.5-1.7-8.5-0.3z"/><path fill="#291f7b" stroke-width="1.1" d="M561.5 804l8.5-0.7-6.5-2.1-8.6 0.7z"/><path fill="#3737b6" stroke-width="1.1" d="M535.9 805l8.5-0.3-6.5-1.1-8.6 1.2z"/><path fill="#393dbf" stroke-width="1.1" d="M527.4 805.7l8.5-0.7-6.6-0.2-8.5 1.3z"/><path fill="#3e6fff" stroke-width="1.1" d="M493.2 804.4l8.6 3-6.6-2.8-8.5-4.4z"/><path fill="#259be8" stroke-width="1.1" d="M476.2 791.8l8.5 6.1-6.5-4.6-8.6-5.2z"/><path fill="#259be8" stroke-width="1.2" d="M467.6 794l8.6-2.2-6.6-3.7-8.5 4.4z"/><path fill="#2e87f7" stroke-width="1.5" d="M459.1 802.3l8.5-8.3-6.5-1.5-8.5 10.7z"/><path fill="#3e6fff" stroke-width="1.5" d="M450.6 810.6l8.5-8.3-6.5 0.9-8.6 8.4z"/><path fill="#3d4bd4" stroke-width="1.6" d="M442.1 816.7l8.5-6.1-6.6 1-8.5 4.8z"/><path fill="#3636b2" stroke-width="1.7" d="M433.5 820.8l8.6-4.1-6.6-0.3-8.5 2.5z"/><path fill="#2f2590" stroke-width="1.8" d="M425 823.5l8.5-2.7-6.5-1.9-8.6 1.8z"/><path fill="#2d238a" stroke-width="1.7" d="M416.5 825.3l8.5-1.8-6.6-2.8-8.5 1.6z"/><path fill="#2b2081" stroke-width="1.5" d="M407.9 826.8l8.6-1.5-6.6-3-8.5 1.5z"/><path fill="#2b2080" stroke-width="1.4" d="M399.4 828.1l8.5-1.3-6.5-3-8.5 1.7z"/><path fill="#2a207f" stroke-width="1.3" d="M390.9 829.6l8.5-1.5-6.5-2.6-8.6 1.8z"/><path fill="#291f7c" stroke-width="1.2" d="M382.3 831.1l8.6-1.5-6.6-2.3-8.5 1.8z"/><path fill="#271c72" stroke-width="1.1" d="M373.8 832.6l8.5-1.5-6.5-2-8.5 1.8z"/><path fill="#261b6f" stroke-width="1.1" d="M365.3 834.3l8.5-1.7-6.5-1.7-8.6 1.7z"/><path fill="#241865" stroke-width="1.4" d="M356.8 836.9l8.5-2.6-6.6-1.7-8.5 2.6z"/><path fill="#261b6e" stroke-width="1.1" d="M593.6 802.3l8.5 0-6.5-1.7-8.5 1.3z"/><path fill="#261b6f" stroke-width="1.1" d="M585.1 803.5l8.5-1.2-6.5-0.4-8.6 1.3z"/><path fill="#261b70" stroke-width="1.1" d="M576.6 804.8l8.5-1.3-6.6-0.3-8.5 0.1z"/><path fill="#271c72" stroke-width="1.1" d="M568 805.9l8.6-1.1-6.6-1.5-8.5 0.7z"/><path fill="#2f81fa" stroke-width="1.7" d="M491.3 803.1l8.5 1-6.6 0.3-8.5-6.5z"/><path fill="#2e87f7" stroke-width="2.4" d="M482.7 802.6l8.6 0.5-6.6-5.2-8.5-6.1z"/><path fill="#2f81fa" stroke-width="2.4" d="M474.2 804.9l8.5-2.3-6.5-10.8-8.6 2.2z"/><path fill="#327cfc" stroke-width="2.4" d="M465.7 808.7l8.5-3.8-6.6-10.9-8.5 8.3z"/><path fill="#4268fc" stroke-width="1.9" d="M457.1 812.9l8.6-4.2-6.6-6.4-8.5 8.3z"/><path fill="#3f54e1" stroke-width="1.3" d="M448.6 817.1l8.5-4.2-6.5-2.3-8.5 6.1z"/><path fill="#3a3ec3" stroke-width="1.2" d="M440.1 821l8.5-3.9-6.5-0.4-8.6 4.1z"/><path fill="#332fa6" stroke-width="1.3" d="M431.5 824.4l8.6-3.4-6.6-0.2-8.5 2.7z"/><path fill="#2c2389" stroke-width="1.4" d="M423 827.1l8.5-2.7-6.5-0.9-8.5 1.8z"/><path fill="#281c73" stroke-width="1.5" d="M414.5 829.1l8.5-2-6.5-1.8-8.6 1.5z"/><path fill="#271b70" stroke-width="1.4" d="M406 830.6l8.5-1.5-6.6-2.3-8.5 1.3z"/><path fill="#261b70" stroke-width="1.3" d="M397.4 832l8.6-1.4-6.6-2.5-8.5 1.5z"/><path fill="#261b6f" stroke-width="1.3" d="M388.9 833.3l8.5-1.3-6.5-2.4-8.6 1.5z"/><path fill="#261b6e" stroke-width="1.2" d="M380.4 834.7l8.5-1.4-6.6-2.2-8.5 1.5z"/><path fill="#241867" stroke-width="1.8" d="M371.8 837.3l8.6-2.6-6.6-2.1-8.5 1.7z"/><path fill="#241865" stroke-width="1.1" d="M363.3 838.6l8.5-1.3-6.5-3-8.5 2.6z"/><path fill="#281c73" stroke-width="1.1" d="M600.2 803.6l8.5-1-6.6-0.3-8.5 0z"/><path fill="#2a1f7d" stroke-width="1.1" d="M591.6 804.6l8.6-1-6.6-1.3-8.5 1.2z"/><path fill="#2a207f" stroke-width="1.1" d="M583.1 805.8l8.5-1.2-6.5-1.1-8.5 1.3z"/><path fill="#2b2081" stroke-width="1.1" d="M574.6 806.9l8.5-1.1-6.5-1-8.6 1.1z"/><path fill="#2f81fa" stroke-width="2.4" d="M489.3 806.2l8.5-7.9-6.5 4.8-8.6-0.5z"/><path fill="#425ff3" stroke-width="2.4" d="M480.7 812.9l8.6-6.7-6.6-3.6-8.5 2.3z"/><path fill="#3f4edd" stroke-width="2.4" d="M472.2 816.4l8.5-3.5-6.5-8-8.5 3.8z"/><path fill="#3d4cd5" stroke-width="2.4" d="M463.7 818.6l8.5-2.2-6.5-7.7-8.6 4.2z"/><path fill="#3c45cd" stroke-width="1.9" d="M455.2 820.6l8.5-2-6.6-5.7-8.5 4.2z"/><path fill="#3a3ec3" stroke-width="1.3" d="M446.6 822.8l8.6-2.2-6.6-3.5-8.5 3.9z"/><path fill="#3737b6" stroke-width="1.1" d="M438.1 825.2l8.5-2.4-6.5-1.8-8.6 3.4z"/><path fill="#312a9b" stroke-width="1.1" d="M429.6 827.8l8.5-2.6-6.6-0.8-8.5 2.7z"/><path fill="#2b2080" stroke-width="1.2" d="M421 830.2l8.6-2.4-6.6-0.7-8.5 2z"/><path fill="#271b70" stroke-width="1.3" d="M412.5 832.3l8.5-2.1-6.5-1.1-8.5 1.5z"/><path fill="#241865" stroke-width="1.9" d="M404 835.1l8.5-2.8-6.5-1.7-8.6 1.4z"/><path fill="#231764" stroke-width="1.5" d="M395.4 836.4l8.6-1.3-6.6-3.1-8.5 1.3z"/><path fill="#231763" stroke-width="1.5" d="M386.9 837.7l8.5-1.3-6.5-3.1-8.5 1.4z"/><path fill="#231763" stroke-width="1.1" d="M378.4 839l8.5-1.3-6.5-3-8.6 2.6z"/><path fill="#2b2081" stroke-width="1.1" d="M598.2 806l8.5-0.8-6.5-1.6-8.6 1z"/><path fill="#2e258e" stroke-width="1.1" d="M589.7 806.7l8.5-0.7-6.6-1.4-8.5 1.2z"/><path fill="#31299a" stroke-width="1.1" d="M581.1 807.6l8.6-0.9-6.6-0.9-8.5 1.1z"/><path fill="#322b9e" stroke-width="1.1" d="M572.6 808.6l8.5-1-6.5-0.7-8.6 1.2z"/><path fill="#2d8cf3" stroke-width="1.2" d="M495.8 803.4l8.6-10-6.6 4.9-8.5 7.9z"/><path fill="#3e6fff" stroke-width="1.9" d="M487.3 813.1l8.5-9.7-6.5 2.8-8.6 6.7z"/><path fill="#3d46cf" stroke-width="2.4" d="M478.8 819.4l8.5-6.3-6.6-0.2-8.5 3.5z"/><path fill="#3837b7" stroke-width="2.4" d="M470.2 823l8.6-3.6-6.6-3-8.5 2.2z"/><path fill="#3530aa" stroke-width="2.2" d="M461.7 824.9l8.5-1.9-6.5-4.4-8.5 2z"/><path fill="#3430a8" stroke-width="1.8" d="M453.2 826.4l8.5-1.5-6.5-4.3-8.6 2.2z"/><path fill="#332fa5" stroke-width="1.4" d="M444.6 827.8l8.6-1.4-6.6-3.6-8.5 2.4z"/><path fill="#312a9b" stroke-width="1.1" d="M436.1 829.5l8.5-1.7-6.5-2.6-8.5 2.6z"/><path fill="#2e248d" stroke-width="1.1" d="M427.6 831.4l8.5-1.9-6.5-1.7-8.6 2.4z"/><path fill="#2a1f7d" stroke-width="1.1" d="M419.1 833.5l8.5-2.1-6.6-1.2-8.5 2.1z"/><path fill="#261b6f" stroke-width="1.1" d="M410.5 835.4l8.6-1.9-6.6-1.2-8.5 2.8z"/><path fill="#231764" stroke-width="1.4" d="M402 838.1l8.5-2.7-6.5-0.3-8.6 1.3z"/><path fill="#302997" stroke-width="1.1" d="M596.2 808.3l8.5-0.6-6.5-1.7-8.5 0.7z"/><path fill="#3430a8" stroke-width="1.1" d="M587.7 808.7l8.5-0.4-6.5-1.6-8.6 0.9z"/><path fill="#3837b7" stroke-width="1.1" d="M579.2 809.1l8.5-0.4-6.6-1.1-8.5 1z"/><path fill="#3a3ec1" stroke-width="1.1" d="M570.6 809.5l8.6-0.4-6.6-0.5-8.5 1z"/><path fill="#2f81fa" stroke-width="1.1" d="M528 805.7l8.5 3.5-6.5-2.1-8.6-6.8z"/><path fill="#2b91ef" stroke-width="1.5" d="M519.4 801.1l8.6 4.6-6.6-5.4-8.5-7.6z"/><path fill="#2b91ef" stroke-width="2.4" d="M510.9 801.5l8.5-0.4-6.5-8.4-8.5 0.7z"/><path fill="#2e87f7" stroke-width="2.4" d="M502.4 806.7l8.5-5.2-6.5-8.1-8.6 10z"/><path fill="#3875fe" stroke-width="1.6" d="M493.9 813.3l8.5-6.6-6.6-3.3-8.5 9.7z"/><path fill="#4055e4" stroke-width="1.4" d="M485.3 819.2l8.6-5.9-6.6-0.2-8.5 6.3z"/><path fill="#3a3ec1" stroke-width="1.5" d="M476.8 823.8l8.5-4.6-6.5 0.2-8.6 3.6z"/><path fill="#322a9e" stroke-width="1.7" d="M468.3 827.1l8.5-3.3-6.6-0.8-8.5 1.9z"/><path fill="#2d248b" stroke-width="1.8" d="M459.7 829.4l8.6-2.3-6.6-2.2-8.5 1.5z"/><path fill="#2b2081" stroke-width="1.6" d="M451.2 831l8.5-1.6-6.5-3-8.6 1.4z"/><path fill="#2b2081" stroke-width="1.5" d="M442.7 832.3l8.5-1.3-6.6-3.2-8.5 1.7z"/><path fill="#2b2080" stroke-width="1.3" d="M434.1 833.6l8.6-1.3-6.6-2.8-8.5 1.9z"/><path fill="#2a1f7e" stroke-width="1.1" d="M425.6 835.1l8.5-1.5-6.5-2.2-8.5 2.1z"/><path fill="#271c73" stroke-width="1.1" d="M417.1 836.8l8.5-1.7-6.5-1.6-8.6 1.9z"/><path fill="#261b6d" stroke-width="1.1" d="M408.6 838.5l8.5-1.7-6.6-1.4-8.5 2.7z"/><path fill="#231763" stroke-width="1.4" d="M400 841l8.6-2.5-6.6-0.4-8.5 1.3z"/><path fill="#332fa6" stroke-width="1.1" d="M594.2 810.5l8.6-0.2-6.6-2-8.5 0.4z"/><path fill="#393dbe" stroke-width="1.1" d="M585.7 810.4l8.5 0.1-6.5-1.8-8.5 0.4z"/><path fill="#3d46ce" stroke-width="1.1" d="M577.2 810l8.5 0.4-6.5-1.3-8.6 0.4z"/><path fill="#2f81fa" stroke-width="2.4" d="M526 807.6l8.5-2.9-6.5 1-8.6-4.6z"/><path fill="#3875fe" stroke-width="2.4" d="M517.5 812.2l8.5-4.6-6.6-6.5-8.5 0.4z"/><path fill="#4269fd" stroke-width="2.4" d="M508.9 815.6l8.6-3.4-6.6-10.7-8.5 5.2z"/><path fill="#415eef" stroke-width="2.4" d="M500.4 818.5l8.5-2.9-6.5-8.9-8.5 6.6z"/><path fill="#3f54e0" stroke-width="1.6" d="M491.9 821.3l8.5-2.8-6.5-5.2-8.6 5.9z"/><path fill="#3c45cd" stroke-width="1.1" d="M483.3 824.5l8.6-3.2-6.6-2.1-8.5 4.6z"/><path fill="#3737b7" stroke-width="1.1" d="M474.8 827.7l8.5-3.2-6.5-0.7-8.5 3.3z"/><path fill="#302998" stroke-width="1.2" d="M466.3 830.5l8.5-2.8-6.5-0.6-8.6 2.3z"/><path fill="#2a1f7e" stroke-width="1.4" d="M457.8 832.9l8.5-2.4-6.6-1.1-8.5 1.6z"/><path fill="#271b71" stroke-width="1.5" d="M449.2 834.8l8.6-1.9-6.6-1.9-8.5 1.3z"/><path fill="#261b6f" stroke-width="1.4" d="M440.7 836.2l8.5-1.4-6.5-2.5-8.6 1.3z"/><path fill="#261b6f" stroke-width="1.3" d="M432.2 837.5l8.5-1.3-6.6-2.6-8.5 1.5z"/><path fill="#261b6f" stroke-width="1.2" d="M423.6 838.8l8.6-1.3-6.6-2.4-8.5 1.7z"/><path fill="#261b6e" stroke-width="1.1" d="M415.1 840.2l8.5-1.4-6.5-2-8.5 1.7z"/><path fill="#241865" stroke-width="1.4" d="M406.6 842.7l8.5-2.5-6.5-1.7-8.6 2.5z"/><path fill="#261b6f" stroke-width="1.1" d="M669 804.3l8.6 0-6.6-1.7-8.5 1.3zM660.5 805.6l8.5-1.3-6.5-0.4-8.6 1.3z"/><path fill="#261b6e" stroke-width="1.1" d="M652 806.9l8.5-1.3-6.6-0.4-8.5 1.3z"/><path fill="#241866" stroke-width="1.4" d="M643.4 809.5l8.6-2.6-6.6-0.4-8.5 1.3z"/><path fill="#3737b6" stroke-width="1.1" d="M592.3 812.6l8.5 0.2-6.6-2.3-8.5-0.1z"/><path fill="#3c45ce" stroke-width="1.1" d="M583.7 811.8l8.6 0.8-6.6-2.2-8.5-0.4z"/><path fill="#415ded" stroke-width="1.1" d="M575.2 810.1l8.5 1.7-6.5-1.8-8.6-0.7z"/><path fill="#2e87f7" stroke-width="1.5" d="M532.5 806.9l8.6-7.6-6.6 5.4-8.5 2.9z"/><path fill="#3e6fff" stroke-width="2.4" d="M524 815.4l8.5-8.5-6.5 0.7-8.5 4.6z"/><path fill="#3f4dda" stroke-width="2.4" d="M515.5 821l8.5-5.6-6.5-3.2-8.6 3.4z"/><path fill="#3b3fc4" stroke-width="2.4" d="M507 824.2l8.5-3.2-6.6-5.4-8.5 2.9z"/><path fill="#393dc0" stroke-width="2.3" d="M498.4 826.1l8.6-1.9-6.6-5.7-8.5 2.8z"/><path fill="#393cbd" stroke-width="1.7" d="M489.9 827.7l8.5-1.6-6.5-4.8-8.6 3.2z"/><path fill="#3737b6" stroke-width="1.2" d="M481.4 829.5l8.5-1.8-6.6-3.2-8.5 3.2z"/><path fill="#332fa6" stroke-width="1.1" d="M472.8 831.6l8.6-2.1-6.6-1.8-8.5 2.8z"/><path fill="#2e248d" stroke-width="1.1" d="M464.3 833.9l8.5-2.3-6.5-1.1-8.5 2.4z"/><path fill="#291f7c" stroke-width="1.2" d="M455.8 836.1l8.5-2.2-6.5-1-8.6 1.9z"/><path fill="#261b6e" stroke-width="1.3" d="M447.2 838l8.6-1.9-6.6-1.3-8.5 1.4z"/><path fill="#231764" stroke-width="1.8" d="M438.7 840.6l8.5-2.6-6.5-1.8-8.5 1.3z"/><path fill="#231763" stroke-width="1.5" d="M430.2 841.9l8.5-1.3-6.5-3.1-8.6 1.3zM421.7 843.1l8.5-1.2-6.6-3.1-8.5 1.4z"/><path fill="#231763" stroke-width="1.1" d="M413.1 844.4l8.6-1.3-6.6-2.9-8.5 2.5z"/><path fill="#271b71" stroke-width="1.1" d="M675.6 805.8l8.5 0.2-6.5-1.7-8.6 0z"/><path fill="#291f7c" stroke-width="1.1" d="M667 806.7l8.6-0.9-6.6-1.5-8.5 1.3z"/><path fill="#2a207f" stroke-width="1.1" d="M658.5 807.8l8.5-1.1-6.5-1.1-8.5 1.3z"/><path fill="#2b2080" stroke-width="1.1" d="M650 809l8.5-1.2-6.5-0.9-8.6 2.6z"/><path fill="#2a1f7e" stroke-width="1.1" d="M641.5 810.4l8.5-1.4-6.6 0.5-8.5 1.3z"/><path fill="#291f7c" stroke-width="1.1" d="M632.9 811.9l8.6-1.5-6.6 0.4-8.5 1.3z"/><path fill="#3a3ec3" stroke-width="1.1" d="M590.3 814.4l8.5 0.7-6.5-2.5-8.6-0.8z"/><path fill="#4156e6" stroke-width="1.1" d="M581.7 812.4l8.6 2-6.6-2.6-8.5-1.7z"/><path fill="#2d8cf3" stroke-width="1.7" d="M539.1 806.3l8.5-9.4-6.5 2.4-8.6 7.6z"/><path fill="#3875fe" stroke-width="1.9" d="M530.6 815.6l8.5-9.3-6.6 0.6-8.5 8.5z"/><path fill="#3f54e1" stroke-width="1.8" d="M522 822.1l8.6-6.5-6.6-0.2-8.5 5.6z"/><path fill="#393dc0" stroke-width="1.9" d="M513.5 826.4l8.5-4.3-6.5-1.1-8.5 3.2z"/><path fill="#3430a7" stroke-width="2.0" d="M505 829.3l8.5-2.9-6.5-2.2-8.6 1.9z"/><path fill="#302999" stroke-width="1.9" d="M496.4 831.3l8.6-2-6.6-3.2-8.5 1.6z"/><path fill="#302997" stroke-width="1.7" d="M487.9 832.8l8.5-1.5-6.5-3.6-8.5 1.8z"/><path fill="#2f2590" stroke-width="1.4" d="M479.4 834.1l8.5-1.3-6.5-3.3-8.6 2.1z"/><path fill="#2e248d" stroke-width="1.1" d="M470.9 835.7l8.5-1.6-6.6-2.5-8.5 2.3z"/><path fill="#2b2080" stroke-width="1.1" d="M462.3 837.4l8.6-1.7-6.6-1.8-8.5 2.2z"/><path fill="#271c73" stroke-width="1.1" d="M453.8 839.3l8.5-1.9-6.5-1.3-8.6 1.9z"/><path fill="#241866" stroke-width="1.4" d="M445.3 842.3l8.5-3-6.6-1.3-8.5 2.6z"/><path fill="#261b70" stroke-width="1.1" d="M682.1 807.6l8.6 0.1-6.6-1.7-8.5-0.2z"/><path fill="#2a1f7d" stroke-width="1.1" d="M673.6 808.3l8.5-0.7-6.5-1.8-8.6 0.9z"/><path fill="#2d248b" stroke-width="1.1" d="M665.1 809l8.5-0.7-6.6-1.6-8.5 1.1z"/><path fill="#302999" stroke-width="1.1" d="M656.5 809.7l8.6-0.7-6.6-1.2-8.5 1.2z"/><path fill="#322a9e" stroke-width="1.1" d="M648 810.6l8.5-0.9-6.5-0.7-8.5 1.4z"/><path fill="#332fa4" stroke-width="1.1" d="M639.5 811.8l8.5-1.2-6.5-0.2-8.6 1.5z"/><path fill="#322a9d" stroke-width="1.1" d="M631 813.3l8.5-1.5-6.6 0.1-8.5 1.5z"/><path fill="#3e4dd9" stroke-width="1.1" d="M588.3 815.4l8.5 1.6-6.5-2.6-8.6-2z"/><path fill="#259be8" stroke-width="2.4" d="M554.2 802.5l8.5-2.6-6.5-4.6-8.6 1.6z"/><path fill="#2d8cf3" stroke-width="2.4" d="M545.7 809.9l8.5-7.4-6.6-5.6-8.5 9.4z"/><path fill="#327cfc" stroke-width="2.0" d="M537.1 817.1l8.6-7.2-6.6-3.6-8.5 9.3z"/><path fill="#405ceb" stroke-width="1.6" d="M528.6 822.8l8.5-5.7-6.5-1.5-8.6 6.5z"/><path fill="#3c44cb" stroke-width="1.4" d="M520.1 827.2l8.5-4.4-6.6-0.7-8.5 4.3z"/><path fill="#3636b2" stroke-width="1.4" d="M511.5 830.5l8.6-3.3-6.6-0.8-8.5 2.9z"/><path fill="#302896" stroke-width="1.4" d="M503 833.2l8.5-2.7-6.5-1.2-8.6 2z"/><path fill="#2b2080" stroke-width="1.5" d="M494.5 835.3l8.5-2.1-6.6-1.9-8.5 1.5z"/><path fill="#291f7c" stroke-width="1.5" d="M485.9 836.9l8.6-1.6-6.6-2.5-8.5 1.3z"/><path fill="#291f7b" stroke-width="1.4" d="M477.4 838.3l8.5-1.4-6.5-2.8-8.5 1.6z"/><path fill="#281c74" stroke-width="1.2" d="M468.9 839.6l8.5-1.3-6.5-2.6-8.6 1.7z"/><path fill="#271c72" stroke-width="1.1" d="M460.4 841l8.5-1.4-6.6-2.2-8.5 1.9z"/><path fill="#261b6f" stroke-width="1.1" d="M451.8 842.6l8.6-1.6-6.6-1.7-8.5 3z"/><path fill="#241865" stroke-width="1.4" d="M443.3 845.2l8.5-2.6-6.5-0.3-8.6 1.3z"/><path fill="#241865" stroke-width="1.6" d="M688.7 810.7l8.5-1.3-6.5-1.7-8.6-0.1z"/><path fill="#271c72" stroke-width="1.1" d="M680.2 810.4l8.5 0.3-6.6-3.1-8.5 0.7z"/><path fill="#2b2081" stroke-width="1.1" d="M671.6 811l8.6-0.6-6.6-2.1-8.5 0.7z"/><path fill="#30299a" stroke-width="1.1" d="M663.1 811.4l8.5-0.4-6.5-2-8.6 0.7z"/><path fill="#3635b1" stroke-width="1.1" d="M654.6 811.6l8.5-0.2-6.6-1.7-8.5 0.9z"/><path fill="#393dbe" stroke-width="1.1" d="M646 811.9l8.6-0.3-6.6-1-8.5 1.2z"/><path fill="#3b3fc4" stroke-width="1.1" d="M637.5 812.5l8.5-0.6-6.5-0.1-8.5 1.5z"/><path fill="#4168fa" stroke-width="1.1" d="M586.3 815l8.6 2.6-6.6-2.2-8.5-3.9z"/><path fill="#2f81fa" stroke-width="1.1" d="M577.8 810.7l8.5 4.3-6.5-3.5-8.6-6.5z"/><path fill="#2d8cf3" stroke-width="2.2" d="M569.3 809l8.5 1.7-6.6-5.7-8.5-5.1z"/><path fill="#2e87f7" stroke-width="2.4" d="M560.7 812.1l8.6-3.1-6.6-9.1-8.5 2.6z"/><path fill="#327cfc" stroke-width="2.4" d="M552.2 816.9l8.5-4.8-6.5-9.6-8.5 7.4z"/><path fill="#4268fb" stroke-width="2.4" d="M543.7 821.3l8.5-4.4-6.5-7-8.6 7.2z"/><path fill="#4055e4" stroke-width="1.8" d="M535.1 825.1l8.6-3.8-6.6-4.2-8.5 5.7z"/><path fill="#3c45ce" stroke-width="1.4" d="M526.6 828.5l8.5-3.4-6.5-2.3-8.5 4.4z"/><path fill="#383cbd" stroke-width="1.2" d="M518.1 831.6l8.5-3.1-6.5-1.3-8.6 3.3z"/><path fill="#322b9e" stroke-width="1.2" d="M509.6 834.3l8.5-2.7-6.6-1.1-8.5 2.7z"/><path fill="#2d248a" stroke-width="1.2" d="M501 836.7l8.6-2.4-6.6-1.1-8.5 2.1z"/><path fill="#281c74" stroke-width="1.3" d="M492.5 838.7l8.5-2-6.5-1.4-8.6 1.6z"/><path fill="#261b6f" stroke-width="1.3" d="M484 840.4l8.5-1.7-6.6-1.8-8.5 1.4z"/><path fill="#241866" stroke-width="2.0" d="M475.4 843.1l8.6-2.7-6.6-2.1-8.5 1.3z"/><path fill="#241866" stroke-width="1.6" d="M466.9 844.4l8.5-1.3-6.5-3.5-8.5 1.4z"/><path fill="#241866" stroke-width="1.5" d="M458.4 845.6l8.5-1.2-6.5-3.4-8.6 1.6z"/><path fill="#241865" stroke-width="1.1" d="M449.8 846.9l8.6-1.3-6.6-3-8.5 2.6z"/><path fill="#241866" stroke-width="1.6" d="M686.7 813.7l8.5-1.3-6.5-1.7-8.5-0.3z"/><path fill="#271c73" stroke-width="1.1" d="M678.2 813.3l8.5 0.4-6.5-3.3-8.6 0.6z"/><path fill="#2d248c" stroke-width="1.1" d="M669.6 813.7l8.6-0.4-6.6-2.3-8.5 0.4z"/><path fill="#3430a7" stroke-width="1.1" d="M661.1 813.7l8.5 0-6.5-2.3-8.5 0.2z"/><path fill="#393dc0" stroke-width="1.1" d="M652.6 813.5l8.5 0.2-6.5-2.1-8.6 0.3z"/><path fill="#3d4bd4" stroke-width="1.1" d="M644.1 812.9l8.5 0.6-6.6-1.6-8.5 0.6z"/><path fill="#327cfc" stroke-width="1.9" d="M584.3 815.3l8.6-0.6-6.6 0.3-8.5-4.3z"/><path fill="#3875fe" stroke-width="2.4" d="M575.8 817.4l8.5-2.1-6.5-4.6-8.5-1.7z"/><path fill="#4167f8" stroke-width="2.4" d="M567.3 820.8l8.5-3.4-6.5-8.4-8.6 3.1z"/><path fill="#4156e7" stroke-width="2.4" d="M558.8 823.9l8.5-3.1-6.6-8.7-8.5 4.8z"/><path fill="#3f4dd9" stroke-width="2.4" d="M550.2 826.5l8.6-2.6-6.6-7-8.5 4.4z"/><path fill="#3c45ce" stroke-width="2.1" d="M541.7 828.9l8.5-2.4-6.5-5.2-8.6 3.8z"/><path fill="#3a3ec3" stroke-width="1.6" d="M533.2 831.2l8.5-2.3-6.6-3.8-8.5 3.4z"/><path fill="#3837b7" stroke-width="1.4" d="M524.6 833.4l8.6-2.2-6.6-2.7-8.5 3.1z"/><path fill="#3430a7" stroke-width="1.2" d="M516.1 835.7l8.5-2.3-6.5-1.8-8.5 2.7z"/><path fill="#2e2590" stroke-width="1.1" d="M507.6 837.9l8.5-2.2-6.5-1.4-8.6 2.4z"/><path fill="#2a207f" stroke-width="1.1" d="M499 840l8.6-2.1-6.6-1.2-8.5 2z"/><path fill="#271b71" stroke-width="1.1" d="M490.5 842l8.5-2-6.5-1.3-8.5 1.7z"/><path fill="#241866" stroke-width="1.4" d="M482 844.8l8.5-2.8-6.5-1.6-8.6 2.7z"/><path fill="#241866" stroke-width="1.7" d="M684.7 816.7l8.6-1.3-6.6-1.7-8.5-0.4z"/><path fill="#281c74" stroke-width="1.1" d="M676.2 816.2l8.5 0.5-6.5-3.4-8.6 0.4z"/><path fill="#2e258e" stroke-width="1.1" d="M667.7 816.4l8.5-0.2-6.6-2.5-8.5 0z"/><path fill="#3636b3" stroke-width="1.1" d="M659.1 816.2l8.6 0.2-6.6-2.7-8.5-0.2z"/><path fill="#3c45cc" stroke-width="1.1" d="M650.6 815.3l8.5 0.9-6.5-2.7-8.5-0.6z"/><path fill="#405ceb" stroke-width="1.1" d="M642.1 813.6l8.5 1.7-6.5-2.4-8.6-0.5z"/><path fill="#4268fc" stroke-width="2.4" d="M582.4 820.8l8.5-9.7-6.6 4.2-8.5 2.1z"/><path fill="#3d4cd5" stroke-width="2.4" d="M573.8 826.1l8.6-5.3-6.6-3.4-8.5 3.4z"/><path fill="#3a3ec2" stroke-width="2.4" d="M565.3 829.1l8.5-3-6.5-5.3-8.5 3.1z"/><path fill="#383cbc" stroke-width="2.3" d="M556.8 831.1l8.5-2-6.5-5.2-8.6 2.6z"/><path fill="#3736b5" stroke-width="2.0" d="M548.2 832.9l8.6-1.8-6.6-4.6-8.5 2.4z"/><path fill="#3531ab" stroke-width="1.7" d="M539.7 834.5l8.5-1.6-6.5-4-8.5 2.3z"/><path fill="#332fa6" stroke-width="1.5" d="M531.2 836.2l8.5-1.7-6.5-3.3-8.6 2.2z"/><path fill="#312a9b" stroke-width="1.3" d="M522.7 837.9l8.5-1.7-6.6-2.8-8.5 2.3z"/><path fill="#2e258f" stroke-width="1.2" d="M514.1 839.7l8.6-1.8-6.6-2.2-8.5 2.2z"/><path fill="#2b2081" stroke-width="1.1" d="M505.6 841.5l8.5-1.8-6.5-1.8-8.6 2.1z"/><path fill="#281c74" stroke-width="1.1" d="M497.1 843.4l8.5-1.9-6.6-1.5-8.5 2z"/><path fill="#261b6e" stroke-width="1.1" d="M488.5 845.2l8.6-1.8-6.6-1.4-8.5 2.8z"/><path fill="#231764" stroke-width="1.4" d="M480 847.7l8.5-2.5-6.5-0.4-8.5 1.2z"/><path fill="#2f2590" stroke-width="1.3" d="M665.7 819.3l8.5-0.2-6.5-2.7-8.6-0.2z"/><path fill="#3837b8" stroke-width="1.1" d="M657.2 818.7l8.5 0.6-6.6-3.1-8.5-0.9z"/><path fill="#3f4dda" stroke-width="1.1" d="M648.6 816.9l8.6 1.8-6.6-3.4-8.5-1.7z"/><path fill="#3e6fff" stroke-width="1.1" d="M640.1 813.7l8.5 3.2-6.5-3.3-8.6-2.4z"/><path fill="#2f81fa" stroke-width="1.3" d="M588.9 816.2l8.5-14.8-6.5 9.7-8.5 9.7z"/><path fill="#4156e7" stroke-width="1.8" d="M580.4 826l8.5-9.8-6.5 4.6-8.6 5.3z"/><path fill="#383cbd" stroke-width="2.1" d="M571.9 831.5l8.5-5.5-6.6 0.1-8.5 3z"/><path fill="#312a9d" stroke-width="1.9" d="M563.3 834.3l8.6-2.8-6.6-2.4-8.5 2z"/><path fill="#2e2590" stroke-width="1.8" d="M554.8 836.2l8.5-1.9-6.5-3.2-8.6 1.8z"/><path fill="#2e248d" stroke-width="1.6" d="M546.3 837.7l8.5-1.5-6.6-3.3-8.5 1.6z"/><path fill="#2d248b" stroke-width="1.5" d="M537.7 839.1l8.6-1.4-6.6-3.2-8.5 1.7z"/><path fill="#2c2389" stroke-width="1.4" d="M529.2 840.5l8.5-1.4-6.5-2.9-8.5 1.7z"/><path fill="#2b2080" stroke-width="1.3" d="M520.7 842l8.5-1.5-6.5-2.6-8.6 1.8z"/><path fill="#2a1f7e" stroke-width="1.2" d="M512.1 843.5l8.6-1.5-6.6-2.3-8.5 1.8z"/><path fill="#281c73" stroke-width="1.1" d="M503.6 845.1l8.5-1.6-6.5-2-8.5 1.9z"/><path fill="#261b70" stroke-width="1.1" d="M495.1 846.7l8.5-1.6-6.5-1.7-8.6 1.8z"/><path fill="#241866" stroke-width="1.4" d="M486.6 849.4l8.5-2.7-6.6-1.5-8.5 2.5z"/><path fill="#261b6e" stroke-width="1.1" d="M723.4 815l8.6-0.1-6.6-1.7-8.5 1.3z"/><path fill="#261b6f" stroke-width="1.1" d="M714.9 816.1l8.5-1.1-6.5-0.5-8.6 1.3z"/><path fill="#271b70" stroke-width="1.1" d="M706.4 817.3l8.5-1.2-6.6-0.3-8.5 1.3z"/><path fill="#271b71" stroke-width="1.1" d="M697.8 818.5l8.6-1.2-6.6-0.2-8.5 1.3z"/><path fill="#271c72" stroke-width="1.1" d="M689.3 819.7l8.5-1.2-6.5-0.1-8.6 0z"/><path fill="#302999" stroke-width="1.4" d="M663.7 822l8.5-0.2-6.5-2.5-8.5-0.6z"/><path fill="#393dc0" stroke-width="1.3" d="M655.2 821.1l8.5 0.9-6.5-3.3-8.6-1.8z"/><path fill="#405deb" stroke-width="1.1" d="M646.7 818.2l8.5 2.9-6.6-4.2-8.5-3.2z"/><path fill="#2f81fa" stroke-width="1.1" d="M638.1 812.3l8.6 5.9-6.6-4.5-8.5-5.7z"/><path fill="#1ca9df" stroke-width="1.5" d="M604 799.3l8.5-11.1-6.5 0.3-8.6 12.9z"/><path fill="#2b91ef" stroke-width="1.5" d="M595.5 812.9l8.5-13.6-6.6 2.1-8.5 14.8z"/><path fill="#3875fe" stroke-width="1.3" d="M586.9 823.2l8.6-10.3-6.6 3.3-8.5 9.8z"/><path fill="#3f4dda" stroke-width="1.3" d="M578.4 830.2l8.5-7-6.5 2.8-8.5 5.5z"/><path fill="#3736b4" stroke-width="1.5" d="M569.9 835l8.5-4.8-6.5 1.3-8.6 2.8z"/><path fill="#2d248c" stroke-width="1.6" d="M561.4 838.1l8.5-3.1-6.6-0.7-8.5 1.9z"/><path fill="#291f7d" stroke-width="1.5" d="M552.8 840.1l8.6-2-6.6-1.9-8.5 1.5z"/><path fill="#271c73" stroke-width="1.4" d="M544.3 841.7l8.5-1.6-6.5-2.4-8.6 1.4z"/><path fill="#271c72" stroke-width="1.4" d="M535.8 843.1l8.5-1.4-6.6-2.6-8.5 1.4z"/><path fill="#271b71" stroke-width="1.3" d="M527.2 844.4l8.6-1.3-6.6-2.6-8.5 1.5z"/><path fill="#271b70" stroke-width="1.3" d="M518.7 845.8l8.5-1.4-6.5-2.4-8.6 1.5z"/><path fill="#261b6f" stroke-width="1.2" d="M510.2 847.2l8.5-1.4-6.6-2.3-8.5 1.6z"/><path fill="#261b6e" stroke-width="1.2" d="M501.6 848.6l8.6-1.4-6.6-2.1-8.5 1.6z"/><path fill="#241865" stroke-width="1.4" d="M493.1 851.1l8.5-2.5-6.5-1.9-8.5 2.7z"/><path fill="#281c73" stroke-width="1.1" d="M721.4 817.5l8.6-1-6.6-1.5-8.5 1.1z"/><path fill="#2a1f7e" stroke-width="1.1" d="M712.9 818.5l8.5-1-6.5-1.4-8.5 1.2z"/><path fill="#2b2081" stroke-width="1.1" d="M704.4 819.5l8.5-1-6.5-1.2-8.6 1.2z"/><path fill="#2d238a" stroke-width="1.1" d="M695.9 820.6l8.5-1.1-6.6-1-8.5 1.2z"/><path fill="#2d248c" stroke-width="1.1" d="M687.3 821.7l8.6-1.1-6.6-0.9-8.5 1.2z"/><path fill="#3c45cc" stroke-width="1.5" d="M653.2 823l8.5 1.1-6.5-3-8.5-2.9z"/><path fill="#3e6fff" stroke-width="1.1" d="M644.7 818.7l8.5 4.3-6.5-4.8-8.6-5.9z"/><path fill="#2b91ef" stroke-width="1.1" d="M636.1 810.3l8.6 8.4-6.6-6.4-8.5-10.4z"/><path fill="#20a5e3" stroke-width="1.3" d="M627.6 801.7l8.5 8.6-6.5-8.4-8.5-11.9z"/><path fill="#1ca9df" stroke-width="2.4" d="M619.1 801.7l8.5 0-6.5-11.7-8.6-1.8z"/><path fill="#259be8" stroke-width="2.4" d="M610.6 808.6l8.5-6.9-6.6-13.5-8.5 11.1z"/><path fill="#2d8cf3" stroke-width="2.4" d="M602 816.5l8.6-7.9-6.6-9.3-8.5 13.6z"/><path fill="#327cfc" stroke-width="1.6" d="M593.5 823.3l8.5-6.8-6.5-3.6-8.6 10.3z"/><path fill="#4066f5" stroke-width="1.2" d="M585 829.2l8.5-5.9-6.6-0.1-8.5 7z"/><path fill="#3d46d0" stroke-width="1.1" d="M576.4 834.2l8.6-5-6.6 1-8.5 4.8z"/><path fill="#3636b2" stroke-width="1.1" d="M567.9 838.1l8.5-3.9-6.5 0.8-8.5 3.1z"/><path fill="#2d248b" stroke-width="1.3" d="M559.4 841.2l8.5-3.1-6.5 0-8.6 2z"/><path fill="#271b71" stroke-width="1.4" d="M550.8 843.5l8.6-2.3-6.6-1.1-8.5 1.6z"/><path fill="#241866" stroke-width="2.0" d="M542.3 846.4l8.5-2.9-6.5-1.8-8.5 1.4z"/><path fill="#241865" stroke-width="1.6" d="M533.8 847.7l8.5-1.3-6.5-3.3-8.6 1.3z"/><path fill="#241765" stroke-width="1.6" d="M525.3 849l8.5-1.3-6.6-3.3-8.5 1.4z"/><path fill="#231764" stroke-width="1.5" d="M516.7 850.2l8.6-1.2-6.6-3.2-8.5 1.4zM508.2 851.5l8.5-1.3-6.5-3-8.6 1.4z"/><path fill="#231763" stroke-width="1.1" d="M499.7 852.8l8.5-1.3-6.6-2.9-8.5 2.5z"/><path fill="#261b6f" stroke-width="1.1" d="M736.5 818.3l8.6 0-6.6-1.7-8.5-0.1z"/><path fill="#2b2081" stroke-width="1.1" d="M719.5 819.9l8.5-0.8-6.6-1.6-8.5 1z"/><path fill="#2e258f" stroke-width="1.1" d="M710.9 820.6l8.6-0.7-6.6-1.4-8.5 1z"/><path fill="#312a9c" stroke-width="1.1" d="M702.4 821.4l8.5-0.8-6.5-1.1-8.5 1.1z"/><path fill="#3430a7" stroke-width="1.1" d="M693.9 822.2l8.5-0.8-6.5-0.8-8.6 1.1z"/><path fill="#4157e8" stroke-width="1.3" d="M651.2 823.1l8.6 1.3-6.6-1.4-8.5-4.3z"/><path fill="#327cfc" stroke-width="1.9" d="M642.7 819.7l8.5 3.4-6.5-4.4-8.6-8.4z"/><path fill="#2e87f7" stroke-width="2.4" d="M634.2 816.7l8.5 3-6.6-9.4-8.5-8.6zM625.6 817.6l8.6-0.9-6.6-15-8.5 0z"/><path fill="#2f81fa" stroke-width="2.4" d="M617.1 820.8l8.5-3.2-6.5-15.9-8.5 6.9z"/><path fill="#327cfc" stroke-width="2.4" d="M608.6 824.5l8.5-3.7-6.5-12.2-8.6 7.9z"/><path fill="#3e6fff" stroke-width="2.4" d="M600 828l8.6-3.5-6.6-8-8.5 6.8z"/><path fill="#425ef0" stroke-width="1.7" d="M591.5 831.4l8.5-3.4-6.5-4.7-8.5 5.9z"/><path fill="#3f4edb" stroke-width="1.2" d="M583 834.8l8.5-3.4-6.5-2.2-8.6 5z"/><path fill="#3b3fc4" stroke-width="1.1" d="M574.5 838.2l8.5-3.4-6.6-0.6-8.5 3.9z"/><path fill="#3430aa" stroke-width="1.1" d="M565.9 841.4l8.6-3.2-6.6-0.1-8.5 3.1z"/><path fill="#2d248b" stroke-width="1.1" d="M557.4 844.2l8.5-2.8-6.5-0.2-8.6 2.3z"/><path fill="#271b71" stroke-width="1.1" d="M548.9 846.5l8.5-2.3-6.6-0.7-8.5 2.9z"/><path fill="#231764" stroke-width="1.4" d="M540.3 849.4l8.6-2.9-6.6-0.1-8.5 1.3z"/><path fill="#241866" stroke-width="1.5" d="M743.1 821.3l8.5-1.3-6.5-1.7-8.6 0z"/><path fill="#271b71" stroke-width="1.1" d="M734.5 821l8.6 0.3-6.6-3-8.5 0.8z"/><path fill="#2e2590" stroke-width="1.1" d="M717.5 822.2l8.5-0.5-6.5-1.8-8.6 0.7z"/><path fill="#3430a7" stroke-width="1.1" d="M709 822.6l8.5-0.4-6.6-1.6-8.5 0.8z"/><path fill="#3838b8" stroke-width="1.1" d="M700.4 822.8l8.6-0.2-6.6-1.2-8.5 0.8z"/><path fill="#3875fe" stroke-width="1.4" d="M649.2 822.6l8.6-1-6.6 1.5-8.5-3.4z"/><path fill="#4166f7" stroke-width="2.4" d="M640.7 825.9l8.5-3.3-6.5-2.9-8.5-3z"/><path fill="#4156e7" stroke-width="2.4" d="M632.2 828.8l8.5-2.9-6.5-9.2-8.6 0.9z"/><path fill="#3f54e2" stroke-width="2.4" d="M623.7 830.8l8.5-2-6.6-11.2-8.5 3.2z"/><path fill="#3f4edc" stroke-width="2.4" d="M615.1 832.4l8.6-1.6-6.6-10-8.5 3.7z"/><path fill="#3f4dda" stroke-width="2.4" d="M606.6 834.1l8.5-1.7-6.5-7.9-8.6 3.5z"/><path fill="#3d4cd6" stroke-width="2.2" d="M598.1 835.9l8.5-1.8-6.6-6.1-8.5 3.4z"/><path fill="#3c45cd" stroke-width="1.7" d="M589.5 837.9l8.6-2-6.6-4.5-8.5 3.4z"/><path fill="#3a3ec3" stroke-width="1.3" d="M581 840.1l8.5-2.2-6.5-3.1-8.5 3.4z"/><path fill="#3837b7" stroke-width="1.1" d="M572.5 842.4l8.5-2.3-6.5-1.9-8.6 3.2z"/><path fill="#322a9e" stroke-width="1.1" d="M563.9 844.9l8.6-2.5-6.6-1-8.5 2.8z"/><path fill="#2c2389" stroke-width="1.1" d="M555.4 847.3l8.5-2.4-6.5-0.7-8.5 2.3z"/><path fill="#271b71" stroke-width="1.1" d="M546.9 849.5l8.5-2.2-6.5-0.8-8.6 2.9z"/><path fill="#231764" stroke-width="1.4" d="M538.4 852.3l8.5-2.8-6.6-0.1-8.5 1.2z"/><path fill="#261b6f" stroke-width="1.1" d="M741.1 822.9l8.5 0.1-6.5-1.7-8.6-0.3z"/><path fill="#332fa5" stroke-width="1.1" d="M715.5 824.4l8.5-0.2-6.5-2-8.5 0.4z"/><path fill="#393dbe" stroke-width="1.1" d="M707 824.3l8.5 0.1-6.5-1.8-8.6 0.2z"/><path fill="#3d46d0" stroke-width="1.1" d="M698.4 823.6l8.6 0.7-6.6-1.5-8.5 0.2z"/><path fill="#2f81fa" stroke-width="1.1" d="M655.8 820.8l8.5-3.9-6.5 4.7-8.6 1z"/><path fill="#4166f7" stroke-width="2.0" d="M647.3 827.6l8.5-6.8-6.6 1.8-8.5 3.3z"/><path fill="#3d46ce" stroke-width="2.4" d="M638.7 832.9l8.6-5.3-6.6-1.7-8.5 2.9z"/><path fill="#3837b7" stroke-width="2.4" d="M630.2 836.3l8.5-3.4-6.5-4.1-8.5 2z"/><path fill="#3531ab" stroke-width="2.4" d="M621.7 838.2l8.5-1.9-6.5-5.5-8.6 1.6z"/><path fill="#3635b0" stroke-width="2.4" d="M613.1 839.5l8.6-1.3-6.6-5.8-8.5 1.7z"/><path fill="#3636b2" stroke-width="2.1" d="M604.6 840.6l8.5-1.1-6.5-5.4-8.5 1.8z"/><path fill="#3636b3" stroke-width="1.9" d="M596.1 841.9l8.5-1.3-6.5-4.7-8.6 2z"/><path fill="#3635b1" stroke-width="1.6" d="M587.6 843.3l8.5-1.4-6.6-4-8.5 2.2z"/><path fill="#3430a8" stroke-width="1.4" d="M579 844.9l8.6-1.6-6.6-3.2-8.5 2.3z"/><path fill="#312a9d" stroke-width="1.2" d="M570.5 846.7l8.5-1.8-6.5-2.5-8.6 2.5z"/><path fill="#2e258f" stroke-width="1.1" d="M562 848.6l8.5-1.9-6.6-1.8-8.5 2.4z"/><path fill="#2a207f" stroke-width="1.1" d="M553.4 850.6l8.6-2-6.6-1.3-8.5 2.2z"/><path fill="#271b70" stroke-width="1.1" d="M544.9 852.6l8.5-2-6.5-1.1-8.5 2.8z"/><path fill="#231764" stroke-width="1.4" d="M536.4 855.3l8.5-2.7-6.5-0.3-8.6 1.3z"/><path fill="#261b6e" stroke-width="1.1" d="M764.7 822.2l8.5-0.1-6.5-1.7-8.5 1.3z"/><path fill="#261b6f" stroke-width="1.1" d="M756.2 823.3l8.5-1.1-6.5-0.5-8.6 1.3z"/><path fill="#271b70" stroke-width="1.1" d="M747.7 824.5l8.5-1.2-6.6-0.3-8.5-0.1z"/><path fill="#281c73" stroke-width="1.1" d="M739.1 825.5l8.6-1-6.6-1.6-8.5 0.8z"/><path fill="#3737b6" stroke-width="1.1" d="M713.5 826.4l8.6 0.2-6.6-2.2-8.5-0.1z"/><path fill="#3d46cf" stroke-width="1.1" d="M705 825.4l8.5 1-6.5-2.1-8.6-0.7z"/><path fill="#4065f4" stroke-width="1.1" d="M696.5 823.2l8.5 2.2-6.6-1.8-8.5-1.2z"/><path fill="#2e87f7" stroke-width="1.1" d="M662.4 819.5l8.5-6.3-6.6 3.7-8.5 3.9z"/><path fill="#3e6fff" stroke-width="1.8" d="M653.8 827.7l8.6-8.2-6.6 1.3-8.5 6.8z"/><path fill="#3e4cd7" stroke-width="1.8" d="M645.3 833.9l8.5-6.2-6.5-0.1-8.6 5.3z"/><path fill="#3837b7" stroke-width="1.7" d="M636.8 838l8.5-4.1-6.6-1-8.5 3.4z"/><path fill="#302999" stroke-width="1.8" d="M628.2 840.9l8.6-2.9-6.6-1.7-8.5 1.9z"/><path fill="#2c2389" stroke-width="1.9" d="M619.7 842.9l8.5-2-6.5-2.7-8.6 1.3z"/><path fill="#2b2081" stroke-width="1.8" d="M611.2 844.4l8.5-1.5-6.6-3.4-8.5 1.1z"/><path fill="#2b2082" stroke-width="1.7" d="M602.6 845.6l8.6-1.2-6.6-3.8-8.5 1.3z"/><path fill="#2d248b" stroke-width="1.6" d="M594.1 846.7l8.5-1.1-6.5-3.7-8.5 1.4z"/><path fill="#2d248c" stroke-width="1.5" d="M585.6 847.9l8.5-1.2-6.5-3.4-8.6 1.6z"/><path fill="#2d248b" stroke-width="1.4" d="M577 849.3l8.6-1.4-6.6-3-8.5 1.8z"/><path fill="#2b2082" stroke-width="1.3" d="M568.5 850.8l8.5-1.5-6.5-2.6-8.5 1.9z"/><path fill="#2a1f7f" stroke-width="1.1" d="M560 852.3l8.5-1.5-6.5-2.2-8.6 2z"/><path fill="#281c73" stroke-width="1.1" d="M551.5 854l8.5-1.7-6.6-1.7-8.5 2z"/><path fill="#261b6f" stroke-width="1.1" d="M542.9 855.7l8.6-1.7-6.6-1.4-8.5 2.7z"/><path fill="#231764" stroke-width="1.4" d="M534.4 858.3l8.5-2.6-6.5-0.4-8.6 1.3z"/><path fill="#271b71" stroke-width="1.1" d="M771.3 823.5l8.5 0.3-6.6-1.7-8.5 0.1z"/><path fill="#291f7b" stroke-width="1.1" d="M762.7 824.5l8.6-1-6.6-1.3-8.5 1.1z"/><path fill="#2a1f7e" stroke-width="1.1" d="M754.2 825.6l8.5-1.1-6.5-1.2-8.5 1.2z"/><path fill="#2b2080" stroke-width="1.1" d="M745.7 826.7l8.5-1.1-6.5-1.1-8.6 1z"/><path fill="#2d238a" stroke-width="1.1" d="M737.1 827.8l8.6-1.1-6.6-1.2-8.5 0.8z"/><path fill="#3b44ca" stroke-width="1.1" d="M711.6 827.8l8.5 0.8-6.6-2.2-8.5-1z"/><path fill="#415eef" stroke-width="1.1" d="M703 825.4l8.6 2.4-6.6-2.4-8.5-2.2z"/><path fill="#2b91ef" stroke-width="1.1" d="M686 815.4l8.5 5.3-6.6-1.5-8.5-4.9z"/><path fill="#2797eb" stroke-width="1.1" d="M677.4 815.2l8.6 0.2-6.6-1.1-8.5-1.1z"/><path fill="#2e87f7" stroke-width="2.1" d="M668.9 821.6l8.5-6.4-6.5-2-8.5 6.3z"/><path fill="#3875fe" stroke-width="2.0" d="M660.4 829l8.5-7.4-6.5-2.1-8.6 8.2z"/><path fill="#3f54e1" stroke-width="1.6" d="M651.8 834.7l8.6-5.7-6.6-1.3-8.5 6.2z"/><path fill="#3a3ec1" stroke-width="1.4" d="M643.3 838.9l8.5-4.2-6.5-0.8-8.5 4.1z"/><path fill="#332fa5" stroke-width="1.3" d="M634.8 842l8.5-3.1-6.5-0.9-8.6 2.9z"/><path fill="#2d248b" stroke-width="1.3" d="M626.3 844.5l8.5-2.5-6.6-1.1-8.5 2z"/><path fill="#281c74" stroke-width="1.4" d="M617.7 846.6l8.6-2.1-6.6-1.6-8.5 1.5z"/><path fill="#261b70" stroke-width="1.5" d="M609.2 848.3l8.5-1.7-6.5-2.2-8.6 1.2z"/><path fill="#261b6f" stroke-width="1.5" d="M600.7 849.6l8.5-1.3-6.6-2.7-8.5 1.1z"/><path fill="#261b70" stroke-width="1.5" d="M592.1 850.8l8.6-1.2-6.6-2.9-8.5 1.2z"/><path fill="#271b71" stroke-width="1.4" d="M583.6 852l8.5-1.2-6.5-2.9-8.6 1.4z"/><path fill="#271c72" stroke-width="1.3" d="M575.1 853.3l8.5-1.3-6.6-2.7-8.5 1.5z"/><path fill="#271b71" stroke-width="1.3" d="M566.5 854.6l8.6-1.3-6.6-2.5-8.5 1.5z"/><path fill="#271b70" stroke-width="1.2" d="M558 856l8.5-1.4-6.5-2.3-8.5 1.7z"/><path fill="#261b6e" stroke-width="1.1" d="M549.5 857.4l8.5-1.4-6.5-2-8.6 1.7z"/><path fill="#241865" stroke-width="1.4" d="M541 860l8.5-2.6-6.6-1.7-8.5 2.6z"/><path fill="#261b6f" stroke-width="1.1" d="M777.8 825.4l8.5 0.1-6.5-1.7-8.5-0.3z"/><path fill="#2a1f7d" stroke-width="1.1" d="M769.3 826.1l8.5-0.7-6.5-1.9-8.6 1z"/><path fill="#2d248b" stroke-width="1.1" d="M760.8 826.8l8.5-0.7-6.6-1.6-8.5 1.1z"/><path fill="#302998" stroke-width="1.1" d="M752.2 827.5l8.6-0.7-6.6-1.2-8.5 1.1z"/><path fill="#322a9e" stroke-width="1.1" d="M743.7 828.4l8.5-0.9-6.5-0.8-8.6 1.1z"/><path fill="#2e87f7" stroke-width="1.1" d="M692.5 820.8l8.5 3.2-6.5-3.3-8.5-5.3z"/><path fill="#2e87f7" stroke-width="2.4" d="M684 822.5l8.5-1.7-6.5-5.4-8.6-0.2z"/><path fill="#327cfc" stroke-width="2.4" d="M675.5 827.4l8.5-4.9-6.6-7.3-8.5 6.4z"/><path fill="#4167fa" stroke-width="2.4" d="M666.9 832.4l8.6-5-6.6-5.8-8.5 7.4z"/><path fill="#3f53df" stroke-width="1.8" d="M658.4 836.6l8.5-4.2-6.5-3.4-8.6 5.7z"/><path fill="#3b3fc5" stroke-width="1.4" d="M649.9 840.1l8.5-3.5-6.6-1.9-8.5 4.2z"/><path fill="#3636b2" stroke-width="1.3" d="M641.3 843.1l8.6-3-6.6-1.2-8.5 3.1z"/><path fill="#302997" stroke-width="1.2" d="M632.8 845.7l8.5-2.6-6.5-1.1-8.5 2.5z"/><path fill="#2a207f" stroke-width="1.2" d="M624.3 847.9l8.5-2.2-6.5-1.2-8.6 2.1z"/><path fill="#271b71" stroke-width="1.2" d="M615.7 849.9l8.6-2-6.6-1.3-8.5 1.7z"/><path fill="#241866" stroke-width="1.9" d="M607.2 852.7l8.5-2.8-6.5-1.6-8.5 1.3z"/><path fill="#231763" stroke-width="1.6" d="M598.7 854l8.5-1.3-6.5-3.1-8.6 1.2zM590.2 855.2l8.5-1.2-6.6-3.2-8.5 1.2zM581.6 856.5l8.6-1.3-6.6-3.2-8.5 1.3z"/><path fill="#231764" stroke-width="1.6" d="M573.1 857.8l8.5-1.3-6.5-3.2-8.6 1.3z"/><path fill="#241765" stroke-width="1.6" d="M564.6 859.1l8.5-1.3-6.6-3.2-8.5 1.4z"/><path fill="#241764" stroke-width="1.5" d="M556 860.4l8.6-1.3-6.6-3.1-8.5 1.4z"/><path fill="#231764" stroke-width="1.1" d="M547.5 861.7l8.5-1.3-6.5-3-8.5 2.6z"/><path fill="#231764" stroke-width="1.5" d="M784.4 828.5l8.5-1.3-6.6-1.7-8.5-0.1z"/><path fill="#271b71" stroke-width="1.1" d="M775.8 828.3l8.6 0.2-6.6-3.1-8.5 0.7z"/><path fill="#2b2081" stroke-width="1.1" d="M767.3 828.7l8.5-0.4-6.5-2.2-8.5 0.7z"/><path fill="#312a9b" stroke-width="1.1" d="M758.8 829l8.5-0.3-6.5-1.9-8.6 0.7z"/><path fill="#3737b5" stroke-width="1.1" d="M750.2 829.1l8.6-0.1-6.6-1.5-8.5 0.9z"/><path fill="#327cfc" stroke-width="2.4" d="M699.1 827.1l8.5-0.7-6.6-2.4-8.5-3.2z"/><path fill="#3e6fff" stroke-width="2.4" d="M690.5 830.3l8.6-3.2-6.6-6.3-8.5 1.7z"/><path fill="#415eef" stroke-width="2.4" d="M682 833.9l8.5-3.6-6.5-7.8-8.5 4.9z"/><path fill="#3f4edc" stroke-width="2.4" d="M673.5 837.1l8.5-3.2-6.5-6.5-8.6 5z"/><path fill="#3c45cd" stroke-width="2.0" d="M664.9 839.9l8.6-2.8-6.6-4.7-8.5 4.2z"/><path fill="#393dc0" stroke-width="1.6" d="M656.4 842.4l8.5-2.5-6.5-3.3-8.5 3.5z"/><path fill="#3636b3" stroke-width="1.3" d="M647.9 844.8l8.5-2.4-6.5-2.3-8.6 3z"/><path fill="#312a9c" stroke-width="1.2" d="M639.4 847.1l8.5-2.3-6.6-1.7-8.5 2.6z"/><path fill="#2d248a" stroke-width="1.1" d="M630.8 849.2l8.6-2.1-6.6-1.4-8.5 2.2z"/><path fill="#291f7b" stroke-width="1.1" d="M622.3 851.3l8.5-2.1-6.5-1.3-8.6 2z"/><path fill="#261b6e" stroke-width="1.1" d="M613.8 853.1l8.5-1.8-6.6-1.4-8.5 2.8z"/><path fill="#231764" stroke-width="1.4" d="M605.2 855.6l8.6-2.5-6.6-0.4-8.5 1.3z"/><path fill="#241866" stroke-width="1.6" d="M782.4 831.5l8.5-1.3-6.5-1.7-8.6-0.2z"/><path fill="#271c72" stroke-width="1.1" d="M773.9 831.2l8.5 0.3-6.6-3.2-8.5 0.4z"/><path fill="#2d248b" stroke-width="1.1" d="M765.3 831.5l8.6-0.3-6.6-2.5-8.5 0.3z"/><path fill="#3531ab" stroke-width="1.1" d="M756.8 831.2l8.5 0.3-6.5-2.5-8.6 0.1z"/><path fill="#3c44cb" stroke-width="1.1" d="M748.3 830.2l8.5 1-6.6-2.1-8.5 0.1z"/><path fill="#3875fe" stroke-width="2.4" d="M705.6 830.3l8.5-8.8-6.5 4.9-8.5 0.7z"/><path fill="#4055e3" stroke-width="2.4" d="M697.1 835.6l8.5-5.3-6.5-3.2-8.6 3.2z"/><path fill="#3c45cc" stroke-width="2.4" d="M688.6 839.1l8.5-3.5-6.6-5.3-8.5 3.6z"/><path fill="#393dc0" stroke-width="2.3" d="M680 841.5l8.6-2.4-6.6-5.2-8.5 3.2z"/><path fill="#3737b6" stroke-width="1.9" d="M671.5 843.6l8.5-2.1-6.5-4.4-8.6 2.8z"/><path fill="#3531ab" stroke-width="1.7" d="M663 845.4l8.5-1.8-6.6-3.7-8.5 2.5z"/><path fill="#332fa4" stroke-width="1.5" d="M654.4 847.2l8.6-1.8-6.6-3-8.5 2.4z"/><path fill="#302998" stroke-width="1.3" d="M645.9 849l8.5-1.8-6.5-2.4-8.5 2.3z"/><path fill="#2d248b" stroke-width="1.2" d="M637.4 850.9l8.5-1.9-6.5-1.9-8.6 2.1z"/><path fill="#2a1f7e" stroke-width="1.1" d="M628.8 852.7l8.6-1.8-6.6-1.7-8.5 2.1z"/><path fill="#271b71" stroke-width="1.1" d="M620.3 854.5l8.5-1.8-6.5-1.4-8.5 1.8z"/><path fill="#241866" stroke-width="1.4" d="M611.8 857.3l8.5-2.8-6.5-1.4-8.6 2.5z"/><path fill="#261b6e" stroke-width="1.1" d="M780.4 833.2l8.5 0-6.5-1.7-8.5-0.3z"/><path fill="#291f7c" stroke-width="1.1" d="M771.9 833.9l8.5-0.7-6.5-2-8.6 0.3z"/><path fill="#2e258f" stroke-width="1.2" d="M763.4 834.1l8.5-0.2-6.6-2.4-8.5-0.3z"/><path fill="#383cbd" stroke-width="1.1" d="M754.8 833.3l8.6 0.8-6.6-2.9-8.5-1z"/><path fill="#405ceb" stroke-width="1.1" d="M746.3 830l8.5 3.3-6.5-3.1-8.6-2z"/><path fill="#327cfc" stroke-width="2.3" d="M712.2 830.4l8.5-20.7-6.6 11.8-8.5 8.8z"/><path fill="#3f54e1" stroke-width="2.1" d="M703.6 837.5l8.6-7.1-6.6-0.1-8.5 5.3z"/><path fill="#393dc0" stroke-width="2.1" d="M695.1 841.9l8.5-4.4-6.5-1.9-8.5 3.5z"/><path fill="#3430a8" stroke-width="1.9" d="M686.6 844.7l8.5-2.8-6.5-2.8-8.6 2.4z"/><path fill="#31299a" stroke-width="1.7" d="M678 846.7l8.6-2-6.6-3.2-8.5 2.1z"/><path fill="#2e258f" stroke-width="1.6" d="M669.5 848.4l8.5-1.7-6.5-3.1-8.5 1.8z"/><path fill="#2d248c" stroke-width="1.5" d="M661 849.9l8.5-1.5-6.5-3-8.6 1.8z"/><path fill="#2c2389" stroke-width="1.4" d="M652.5 851.5l8.5-1.6-6.6-2.7-8.5 1.8z"/><path fill="#2a207f" stroke-width="1.3" d="M643.9 853l8.6-1.5-6.6-2.5-8.5 1.9z"/><path fill="#291f7c" stroke-width="1.2" d="M635.4 854.6l8.5-1.6-6.5-2.1-8.6 1.8z"/><path fill="#271b71" stroke-width="1.1" d="M626.9 856.2l8.5-1.6-6.6-1.9-8.5 1.8z"/><path fill="#261b6e" stroke-width="1.1" d="M618.3 857.8l8.6-1.6-6.6-1.7-8.5 2.8z"/><path fill="#231764" stroke-width="1.4" d="M609.8 860.3l8.5-2.5-6.5-0.5-8.5 1.3z"/><path fill="#231764" stroke-width="1.5" d="M787 836.2l8.5-1.3-6.6-1.7-8.5 0z"/><path fill="#271b70" stroke-width="1.1" d="M778.4 836l8.6 0.2-6.6-3-8.5 0.7z"/><path fill="#2b2081" stroke-width="1.1" d="M769.9 836.4l8.5-0.4-6.5-2.1-8.5 0.2z"/><path fill="#342fa7" stroke-width="1.1" d="M761.4 836.2l8.5 0.2-6.5-2.3-8.6-0.8z"/><path fill="#3c45ce" stroke-width="1.2" d="M752.8 834.5l8.6 1.7-6.6-2.9-8.5-3.3z"/><path fill="#327cfc" stroke-width="1.8" d="M744.3 826.9l8.5 7.6-6.5-4.5-8.5-18.2z"/><path fill="#20a5e3" stroke-width="2.4" d="M735.8 812.8l8.5 14.1-6.5-15.1-8.6-130.3z"/><path fill="#2d8cf3" stroke-width="2.4" d="M727.3 824l8.5-11.2-6.6-131.3-8.5 128.2z"/><path fill="#3875fe" stroke-width="2.4" d="M718.7 833l8.6-9-6.6-14.3-8.5 20.7z"/><path fill="#4055e5" stroke-width="1.8" d="M710.2 838.8l8.5-5.8-6.5-2.6-8.6 7.1z"/><path fill="#3b3fc4" stroke-width="1.6" d="M701.7 843.1l8.5-4.3-6.6-1.3-8.5 4.4z"/><path fill="#3430a9" stroke-width="1.5" d="M693.1 846.4l8.6-3.3-6.6-1.2-8.5 2.8z"/><path fill="#2e248e" stroke-width="1.5" d="M684.6 848.9l8.5-2.5-6.5-1.7-8.6 2z"/><path fill="#2a207f" stroke-width="1.5" d="M676.1 850.8l8.5-1.9-6.6-2.2-8.5 1.7z"/><path fill="#291f7c" stroke-width="1.4" d="M667.5 852.4l8.6-1.6-6.6-2.4-8.5 1.5z"/><path fill="#271c73" stroke-width="1.4" d="M659 853.9l8.5-1.5-6.5-2.5-8.5 1.6z"/><path fill="#271b71" stroke-width="1.3" d="M650.5 855.3l8.5-1.4-6.5-2.4-8.6 1.5z"/><path fill="#261b70" stroke-width="1.2" d="M642 856.7l8.5-1.4-6.6-2.3-8.5 1.6z"/><path fill="#261b6e" stroke-width="1.2" d="M633.4 858.1l8.6-1.4-6.6-2.1-8.5 1.6z"/><path fill="#241866" stroke-width="1.8" d="M624.9 860.7l8.5-2.6-6.5-1.9-8.6 1.6z"/><path fill="#231764" stroke-width="1.1" d="M616.4 862l8.5-1.3-6.6-2.9-8.5 2.5z"/><path fill="#241866" stroke-width="1.6" d="M785 839.1l8.5-1.3-6.5-1.6-8.6-0.2z"/><path fill="#291f7b" stroke-width="1.1" d="M776.5 838.6l8.5 0.5-6.6-3.1-8.5 0.4z"/><path fill="#302998" stroke-width="1.1" d="M767.9 838.6l8.6 0-6.6-2.2-8.5-0.2z"/><path fill="#393dbf" stroke-width="1.1" d="M759.4 837.6l8.5 1-6.5-2.4-8.6-1.7z"/><path fill="#3f54e1" stroke-width="2.2" d="M750.9 835.8l8.5 1.8-6.6-3.1-8.5-7.6z"/><path fill="#4065f5" stroke-width="2.4" d="M742.3 835l8.6 0.8-6.6-8.9-8.5-14.1z"/><path fill="#425ff1" stroke-width="2.4" d="M733.8 836.7l8.5-1.7-6.5-22.2-8.5 11.2z"/><path fill="#4055e4" stroke-width="2.4" d="M725.3 839.3l8.5-2.6-6.5-12.7-8.6 9z"/><path fill="#3e4cd6" stroke-width="1.9" d="M716.7 842l8.6-2.7-6.6-6.3-8.5 5.8z"/><path fill="#3a3ec4" stroke-width="1.4" d="M708.2 844.9l8.5-2.9-6.5-3.2-8.5 4.3z"/><path fill="#3636b3" stroke-width="1.3" d="M699.7 847.7l8.5-2.8-6.5-1.8-8.6 3.3z"/><path fill="#302999" stroke-width="1.2" d="M691.2 850.2l8.5-2.5-6.6-1.3-8.5 2.5z"/><path fill="#2b2080" stroke-width="1.3" d="M682.6 852.4l8.6-2.2-6.6-1.3-8.5 1.9z"/><path fill="#271c72" stroke-width="1.3" d="M674.1 854.3l8.5-1.9-6.5-1.6-8.6 1.6z"/><path fill="#261b6e" stroke-width="1.3" d="M665.6 856l8.5-1.7-6.6-1.9-8.5 1.5z"/><path fill="#241866" stroke-width="1.9" d="M657 858.6l8.6-2.6-6.6-2.1-8.5 1.4z"/><path fill="#241865" stroke-width="1.6" d="M648.5 859.8l8.5-1.2-6.5-3.3-8.5 1.4z"/><path fill="#231764" stroke-width="1.5" d="M640 861.1l8.5-1.3-6.5-3.1-8.6 1.4z"/><path fill="#231764" stroke-width="1.1" d="M631.4 862.4l8.6-1.3-6.6-3-8.5 2.6z"/><path fill="#261b70" stroke-width="1.1" d="M783 840.7l8.5 0.1-6.5-1.7-8.5-0.5z"/><path fill="#2c238a" stroke-width="1.1" d="M774.5 841l8.5-0.3-6.5-2.1-8.6 0z"/><path fill="#3531ab" stroke-width="1.1" d="M765.9 840.6l8.6 0.4-6.6-2.4-8.5-1z"/><path fill="#3a3ec3" stroke-width="1.5" d="M757.4 840.1l8.5 0.5-6.5-3-8.5-1.8z"/><path fill="#3b44c9" stroke-width="2.4" d="M748.9 841.1l8.5-1-6.5-4.3-8.6-0.8z"/><path fill="#393dc0" stroke-width="2.4" d="M740.4 843.2l8.5-2.1-6.6-6.1-8.5 1.7z"/><path fill="#3737b5" stroke-width="2.4" d="M731.8 845.3l8.6-2.1-6.6-6.5-8.5 2.6z"/><path fill="#3636b2" stroke-width="2.2" d="M723.3 846.9l8.5-1.6-6.5-6-8.6 2.7z"/><path fill="#3531ab" stroke-width="1.7" d="M714.8 848.3l8.5-1.4-6.6-4.9-8.5 2.9z"/><path fill="#332fa6" stroke-width="1.4" d="M706.2 850l8.6-1.7-6.6-3.4-8.5 2.8z"/><path fill="#302999" stroke-width="1.2" d="M697.7 851.8l8.5-1.8-6.5-2.3-8.5 2.5z"/><path fill="#2d238a" stroke-width="1.1" d="M689.2 853.9l8.5-2.1-6.5-1.6-8.6 2.2z"/><path fill="#291f7c" stroke-width="1.1" d="M680.6 855.8l8.6-1.9-6.6-1.5-8.5 1.9z"/><path fill="#261b6f" stroke-width="1.2" d="M672.1 857.6l8.5-1.8-6.5-1.5-8.5 1.7z"/><path fill="#241765" stroke-width="1.4" d="M663.6 860.2l8.5-2.6-6.5-1.6-8.6 2.6z"/><path fill="#241867" stroke-width="1.1" d="M789.6 842.6l8.5-0.1-6.6-1.7-8.5-0.1z"/><path fill="#2a1f7d" stroke-width="1.1" d="M781 843.1l8.6-0.5-6.6-1.9-8.5 0.3z"/><path fill="#302997" stroke-width="1.2" d="M772.5 843.4l8.5-0.3-6.5-2.1-8.6-0.4z"/><path fill="#332fa5" stroke-width="1.7" d="M764 844l8.5-0.6-6.6-2.8-8.5-0.5z"/><path fill="#322b9e" stroke-width="2.0" d="M755.4 845.4l8.6-1.4-6.6-3.9-8.5 1z"/><path fill="#302998" stroke-width="2.0" d="M746.9 847.2l8.5-1.8-6.5-4.3-8.5 2.1z"/><path fill="#2e248d" stroke-width="1.8" d="M738.4 848.9l8.5-1.7-6.5-4-8.6 2.1z"/><path fill="#2c2389" stroke-width="1.8" d="M729.8 850.5l8.6-1.6-6.6-3.6-8.5 1.6z"/><path fill="#2b2080" stroke-width="1.8" d="M721.3 851.9l8.5-1.4-6.5-3.6-8.5 1.4z"/><path fill="#2b2081" stroke-width="1.6" d="M712.8 853.2l8.5-1.3-6.5-3.6-8.6 1.7z"/><path fill="#2b2081" stroke-width="1.4" d="M704.3 854.5l8.5-1.3-6.6-3.2-8.5 1.8z"/><path fill="#2b2080" stroke-width="1.2" d="M695.7 855.9l8.6-1.4-6.6-2.7-8.5 2.1z"/><path fill="#291f7c" stroke-width="1.1" d="M687.2 857.4l8.5-1.5-6.5-2-8.6 1.9z"/><path fill="#271b71" stroke-width="1.1" d="M678.7 859.1l8.5-1.7-6.6-1.6-8.5 1.8z"/><path fill="#241866" stroke-width="1.4" d="M670.1 861.9l8.6-2.8-6.6-1.5-8.5 2.6z"/><path fill="#241865" stroke-width="1.5" d="M796.1 845.5l8.5-1.3-6.5-1.7-8.5 0.1z"/><path fill="#271c72" stroke-width="1.1" d="M787.6 845.2l8.5 0.3-6.5-2.9-8.6 0.5z"/><path fill="#2b2080" stroke-width="1.2" d="M779 845.9l8.6-0.7-6.6-2.1-8.5 0.3z"/><path fill="#2b2081" stroke-width="1.5" d="M770.5 847.1l8.5-1.2-6.5-2.5-8.5 0.6z"/><path fill="#2a1f7d" stroke-width="1.7" d="M762 848.7l8.5-1.6-6.5-3.1-8.6 1.4z"/><path fill="#281c73" stroke-width="1.6" d="M753.5 850.3l8.5-1.6-6.6-3.3-8.5 1.8z"/><path fill="#271b72" stroke-width="1.5" d="M744.9 851.7l8.6-1.4-6.6-3.1-8.5 1.7z"/><path fill="#271b70" stroke-width="1.4" d="M736.4 853.1l8.5-1.4-6.5-2.8-8.6 1.6z"/><path fill="#261b6f" stroke-width="1.4" d="M727.9 854.5l8.5-1.4-6.6-2.6-8.5 1.4zM719.3 855.8l8.6-1.3-6.6-2.6-8.5 1.3z"/><path fill="#261b6e" stroke-width="1.4" d="M710.8 857.2l8.5-1.4-6.5-2.6-8.5 1.3z"/><path fill="#261b6f" stroke-width="1.3" d="M702.3 858.4l8.5-1.2-6.5-2.7-8.6 1.4z"/><path fill="#261b6f" stroke-width="1.2" d="M693.8 859.7l8.5-1.3-6.6-2.5-8.5 1.5z"/><path fill="#261b6f" stroke-width="1.1" d="M685.2 861l8.6-1.3-6.6-2.3-8.5 1.7z"/><path fill="#241866" stroke-width="1.4" d="M676.7 863.6l8.5-2.6-6.5-1.9-8.6 2.8z"/></g>
<text transform="translate(134.2 813.5) scale(1.18 1)" font-size="20" text-anchor="end" font-weight="normal" fill="#404040" stroke="#404040" stroke-width="0.1" >0</text>
<text transform="translate(134.2 721.1) scale(1.18 1)" font-size="20" text-anchor="end" font-weight="normal" fill="#404040" stroke="#404040" stroke-width="0.1" >2</text>
<text transform="translate(134.2 628.8) scale(1.18 1)" font-size="20" text-anchor="end" font-weight="normal" fill="#404040" stroke="#404040" stroke-width="0.1" >4</text>
<text transform="translate(460.9 919.2) scale(1.18 1)" font-size="20" text-anchor="end" font-weight="normal" fill="#404040" stroke="#404040" stroke-width="0.1" >-10</text>
<text transform="translate(379 898) scale(1.18 1)" font-size="20" text-anchor="end" font-weight="normal" fill="#404040" stroke="#404040" stroke-width="0.1" >-5</text>
<text transform="translate(297.1 876.8) scale(1.18 1)" font-size="20" text-anchor="end" font-weight="normal" fill="#404040" stroke="#404040" stroke-width="0.1" >0</text>
<text transform="translate(215.2 855.6) scale(1.18 1)" font-size="20" text-anchor="end" font-weight="normal" fill="#404040" stroke="#404040" stroke-width="0.1" >5</text>
<text transform="translate(133.3 834.4) scale(1.18 1)" font-size="20" text-anchor="end" font-weight="normal" fill="#404040" stroke="#404040" stroke-width="0.1" >10</text>
<text transform="translate(500.5 921.1) scale(1.18 1)" font-size="20" text-anchor="start" font-weight="normal" fill="#404040" stroke="#404040" stroke-width="0.1" >-10</text>
<text transform="translate(607.1 904.9) scale(1.18 1)" font-size="20" text-anchor="start" font-weight="normal" fill="#404040" stroke="#404040" stroke-width="0.1" >-5</text>
<text transform="translate(713.8 888.8) scale(1.18 1)" font-size="20" text-anchor="start" font-weight="normal" fill="#404040" stroke="#404040" stroke-width="0.1" >0</text>
<text transform="translate(820.4 872.6) scale(1.18 1)" font-size="20" text-anchor="start" font-weight="normal" fill="#404040" stroke="#404040" stroke-width="0.1" >5</text>
<text transform="translate(927 856.4) scale(1.18 1)" font-size="20" text-anchor="start" font-weight="normal" fill="#404040" stroke="#404040" stroke-width="0.1" >10</text>
<text transform="translate(318.5 933.8) scale(1.18 1)" font-size="22" text-anchor="middle" font-weight="normal" fill="#404040" stroke="#404040" stroke-width="0.1" >y</text>
<text transform="translate(667 940.1) scale(1.18 1)" font-size="22" text-anchor="middle" font-weight="normal" fill="#404040" stroke="#404040" stroke-width="0.1" >x</text>
<text transform="translate(94.8 717.7) rotate(-90) scale(1 1.18)" font-size="22" text-anchor="middle" fill="#404040" textLength="39.5" lengthAdjust="spacing">|<tspan font-family="'Liberation Serif', 'DejaVu Serif', serif" font-style="italic" font-size="23" fill="#6a6a6a">ψ</tspan><tspan font-size="16" dy="7.5">2</tspan><tspan dy="-7.5">|</tspan></text>
<text transform="translate(325 538) scale(1.18 1)" font-size="22" font-weight="bold" fill="#000" textLength="298.0" lengthAdjust="spacingAndGlyphs">Numerical representation of</text>
<text transform="translate(685.6 538) scale(1.18 1)" font-size="22" font-weight="bold" fill="#000" textLength="40.6" lengthAdjust="spacing">|<tspan font-family="'Liberation Serif', 'DejaVu Serif', serif" font-style="italic" font-weight="normal" font-size="25">ψ</tspan><tspan font-size="16" dy="9.3">2</tspan><tspan dy="-9.3">|</tspan></text>
<rect x="391.4" y="628.7" width="151.8" height="52.1" rx="3" fill="none" stroke="#505050" stroke-width="2.2"/>
<text x="402.5" y="657.4" font-size="20.5" fill="#000" textLength="73.5" lengthAdjust="spacingAndGlyphs">At t = 3</text>
<path d="M1152.4 808.6L1152.4 623.9M1259 792.4L1259 607.7M1365.7 776.2L1365.7 591.5M1472.3 760.1L1472.3 575.4M1578.9 743.9L1578.9 559.2M1906.5 828.7L1906.5 644M1824.6 807.5L1824.6 622.8M1742.7 786.3L1742.7 601.6M1660.8 765.1L1660.8 580.4M1152.4 808.6L1578.9 743.9M1578.9 743.9L1906.5 828.7M1152.4 716.2L1578.9 651.6M1578.9 651.6L1906.5 736.4M1152.4 623.9L1578.9 559.2M1578.9 559.2L1906.5 644" stroke="#dcdcdc" stroke-width="1.5" fill="none"/>
<path d="M1152.4 623.9L1152.4 808.6L1480 893.4L1906.5 828.7M1152.4 808.6L1143.9 806.4M1152.4 716.2L1143.9 714M1152.4 623.9L1143.9 621.7M1480 893.4L1471.3 894.7M1398.1 872.2L1389.4 873.5M1316.2 851L1307.5 852.3M1234.3 829.8L1225.6 831.1M1152.4 808.6L1143.7 809.9M1480 893.4L1488.5 895.6M1586.6 877.2L1595.1 879.4M1693.2 861L1701.8 863.3M1799.9 844.9L1808.4 847.1M1906.5 828.7L1915 830.9" stroke="#4a4a4a" stroke-width="1.7" fill="none" stroke-linejoin="round"/>
<g stroke="#000" stroke-width="1.9" stroke-linejoin="round"><path d="M1152.4 808.6L1480 893.4L1906.5 828.7L1578.9 743.9z" fill="#07061c" stroke="#000" stroke-width="2.2"/><path d="M1159 810.3L1160.9 807.3M1165.5 812L1169.5 806M1172.1 813.7L1178 804.7M1178.6 815.4L1186.5 803.4M1185.2 817.1L1195.1 802.1M1191.7 818.8L1203.6 800.8M1198.3 820.5L1212.1 799.5M1204.8 822.2L1220.6 798.2M1211.4 823.9L1229.2 797M1217.9 825.6L1237.7 795.7M1224.5 827.3L1246.2 794.4M1231 829L1254.8 793.1M1237.6 830.6L1263.3 791.8M1244.1 832.3L1271.8 790.5M1250.7 834L1280.3 789.2M1257.2 835.7L1288.9 787.9M1263.8 837.4L1297.4 786.6M1270.3 839.1L1305.9 785.3M1276.9 840.8L1314.5 784M1283.4 842.5L1323 782.7M1290 844.2L1331.5 781.4M1296.5 845.9L1340.1 780.1M1303.1 847.6L1348.6 778.8M1309.6 849.3L1357.1 777.5M1316.2 851L1365.7 776.2M1322.8 852.7L1374.2 775M1329.3 854.4L1382.7 773.7M1335.9 856.1L1391.2 772.4M1342.4 857.8L1399.8 771.1M1349 859.5L1408.3 769.8M1355.5 861.2L1416.8 768.5M1362.1 862.9L1425.4 767.2M1368.6 864.6L1433.9 765.9M1375.2 866.3L1442.4 764.6M1381.7 868L1450.9 763.3M1388.3 869.7L1459.5 762M1394.8 871.4L1468 760.7M1401.4 873L1476.5 759.4M1407.9 874.7L1485.1 758.1M1414.5 876.4L1493.6 756.8M1421 878.1L1502.1 755.5M1427.6 879.8L1510.7 754.3M1434.1 881.5L1519.2 753M1440.7 883.2L1527.7 751.7M1447.2 884.9L1536.2 750.4M1453.8 886.6L1544.8 749.1M1460.3 888.3L1553.3 747.8M1466.9 890L1561.8 746.5M1473.4 891.7L1570.4 745.2M1480 893.4L1578.9 743.9M1488.5 892.1L1585.5 745.6M1497.1 890.8L1592 747.3M1505.6 889.5L1598.6 749M1514.1 888.2L1605.1 750.7M1522.7 886.9L1611.7 752.4M1531.2 885.6L1618.2 754.1M1539.7 884.3L1624.8 755.8M1548.2 883L1631.3 757.5M1556.8 881.8L1637.9 759.2M1565.3 880.5L1644.4 760.9M1573.8 879.2L1651 762.6M1582.4 877.9L1657.5 764.3M1590.9 876.6L1664.1 765.9M1599.4 875.3L1670.6 767.6M1608 874L1677.2 769.3M1616.5 872.7L1683.7 771M1625 871.4L1690.3 772.7M1633.5 870.1L1696.8 774.4M1642.1 868.8L1703.4 776.1M1650.6 867.5L1709.9 777.8M1659.1 866.2L1716.5 779.5M1667.7 864.9L1723 781.2M1676.2 863.6L1729.6 782.9M1684.7 862.3L1736.1 784.6M1693.2 861L1742.7 786.3M1701.8 859.8L1749.3 788M1710.3 858.5L1755.8 789.7M1718.8 857.2L1762.4 791.4M1727.4 855.9L1768.9 793.1M1735.9 854.6L1775.5 794.8M1744.4 853.3L1782 796.5M1753 852L1788.6 798.2M1761.5 850.7L1795.1 799.9M1770 849.4L1801.7 801.6M1778.5 848.1L1808.2 803.3M1787.1 846.8L1814.8 805M1795.6 845.5L1821.3 806.7M1804.1 844.2L1827.9 808.3M1812.7 842.9L1834.4 810M1821.2 841.6L1841 811.7M1829.7 840.3L1847.5 813.4M1838.3 839.1L1854.1 815.1M1846.8 837.8L1860.6 816.8M1855.3 836.5L1867.2 818.5M1863.8 835.2L1873.7 820.2M1872.4 833.9L1880.3 821.9M1880.9 832.6L1886.8 823.6M1889.4 831.3L1893.4 825.3M1898 830L1899.9 827" fill="none" stroke="#15122c" stroke-width="2.8"/><path fill="#271c73" stroke-width="1.1" d="M1338.1 781.4l8.5-0.9-6.5-1.6-8.6 1z"/><path fill="#2a207f" stroke-width="1.1" d="M1329.6 782.3l8.5-0.9-6.6-1.5-8.5 1.1z"/><path fill="#2d248b" stroke-width="1.1" d="M1321 783.2l8.6-0.9-6.6-1.3-8.5 1.1z"/><path fill="#2e258f" stroke-width="1.1" d="M1312.5 784.1l8.5-0.9-6.5-1.1-8.6 1.2z"/><path fill="#302999" stroke-width="1.1" d="M1304 785.1l8.5-1-6.6-0.8-8.5 1.2z"/><path fill="#393dc0" stroke-width="1.1" d="M1244.3 791.9l8.5-2.4-6.6 0.8-8.5 1.5z"/><path fill="#322a9d" stroke-width="1.2" d="M1235.7 795.1l8.6-3.2-6.6-0.1-8.5 2.5z"/><path fill="#2a1f7e" stroke-width="1.3" d="M1227.2 797.9l8.5-2.8-6.5-0.8-8.6 2.4z"/><path fill="#241867" stroke-width="1.5" d="M1218.7 801.2l8.5-3.3-6.6-1.2-8.5 2.8z"/><path fill="#271c72" stroke-width="1.1" d="M1344.6 783.2l8.6 0.3-6.6-3-8.5 0.9z"/><path fill="#2a207f" stroke-width="1.1" d="M1336.1 783.9l8.5-0.7-6.5-1.8-8.5 0.9z"/><path fill="#2e258e" stroke-width="1.1" d="M1327.6 784.6l8.5-0.7-6.5-1.6-8.6 0.9z"/><path fill="#322b9e" stroke-width="1.1" d="M1319 785.1l8.6-0.5-6.6-1.4-8.5 0.9z"/><path fill="#3636b2" stroke-width="1.1" d="M1310.5 785.6l8.5-0.5-6.5-1-8.5 1z"/><path fill="#3d46cf" stroke-width="1.1" d="M1250.8 792.1l8.5-3.7-6.5 1.1-8.5 2.4z"/><path fill="#3636b2" stroke-width="1.4" d="M1242.3 796l8.5-3.9-6.5-0.2-8.6 3.2z"/><path fill="#2d248b" stroke-width="1.3" d="M1233.7 799.1l8.6-3.1-6.6-0.9-8.5 2.8z"/><path fill="#271b71" stroke-width="1.1" d="M1225.2 801.4l8.5-2.3-6.5-1.2-8.5 3.3z"/><path fill="#241764" stroke-width="1.4" d="M1216.7 804.2l8.5-2.8-6.5-0.2-8.6 1.3z"/><path fill="#2a1f7d" stroke-width="1.1" d="M1342.7 785.9l8.5-0.8-6.6-1.9-8.5 0.7z"/><path fill="#2e248d" stroke-width="1.1" d="M1334.1 786.4l8.6-0.5-6.6-2-8.5 0.7z"/><path fill="#332fa5" stroke-width="1.1" d="M1325.6 786.7l8.5-0.3-6.5-1.8-8.6 0.5z"/><path fill="#3838b8" stroke-width="1.1" d="M1317.1 786.7l8.5 0-6.6-1.6-8.5 0.5z"/><path fill="#3c45cc" stroke-width="1.1" d="M1308.5 786.4l8.6 0.3-6.6-1.1-8.5 0.5z"/><path fill="#3f54e1" stroke-width="1.6" d="M1257.4 792.2l8.5-6.8-6.6 3-8.5 3.7z"/><path fill="#3838b8" stroke-width="1.6" d="M1248.8 797.1l8.6-4.9-6.6-0.1-8.5 3.9z"/><path fill="#302997" stroke-width="1.3" d="M1240.3 800.3l8.5-3.2-6.5-1.1-8.6 3.1z"/><path fill="#291f7d" stroke-width="1.2" d="M1231.8 802.7l8.5-2.4-6.6-1.2-8.5 2.3z"/><path fill="#261b6e" stroke-width="1.1" d="M1223.2 804.7l8.6-2-6.6-1.3-8.5 2.8z"/><path fill="#231763" stroke-width="1.4" d="M1214.7 807.2l8.5-2.5-6.5-0.5-8.5 1.3z"/><path fill="#2b2082" stroke-width="1.1" d="M1340.7 788.4l8.5-0.6-6.5-1.9-8.6 0.5z"/><path fill="#312a9b" stroke-width="1.1" d="M1332.1 788.7l8.6-0.3-6.6-2-8.5 0.3z"/><path fill="#3837b7" stroke-width="1.1" d="M1323.6 788.5l8.5 0.2-6.5-2-8.5 0z"/><path fill="#3d46cf" stroke-width="1.1" d="M1315.1 787.7l8.5 0.8-6.5-1.8-8.6-0.3z"/><path fill="#4268fb" stroke-width="1.9" d="M1263.9 791.1l8.5-14.8-6.5 9.1-8.5 6.8z"/><path fill="#3b43c8" stroke-width="1.7" d="M1255.4 797.6l8.5-6.5-6.5 1.1-8.6 4.9z"/><path fill="#322b9e" stroke-width="1.4" d="M1246.8 801.4l8.6-3.8-6.6-0.5-8.5 3.2z"/><path fill="#2b2081" stroke-width="1.2" d="M1238.3 804l8.5-2.6-6.5-1.1-8.5 2.4z"/><path fill="#271b71" stroke-width="1.1" d="M1229.8 806.1l8.5-2.1-6.5-1.3-8.6 2z"/><path fill="#241865" stroke-width="1.4" d="M1221.3 808.9l8.5-2.8-6.6-1.4-8.5 2.5z"/><path fill="#241867" stroke-width="1.1" d="M1381.4 786.1l8.5-0.1-6.6-1.7-8.5 1.3z"/><path fill="#3636b2" stroke-width="1.1" d="M1330.2 790.7l8.5 0.1-6.6-2.1-8.5-0.2z"/><path fill="#3c45cd" stroke-width="1.1" d="M1321.6 789.7l8.6 1-6.6-2.2-8.5-0.8z"/><path fill="#12b1d6" stroke-width="2.1" d="M1279 763l8.5-105.5-6.5 98.5-8.6 20.3z"/><path fill="#3875fe" stroke-width="2.3" d="M1270.5 790.9l8.5-27.9-6.6 13.3-8.5 14.8z"/><path fill="#3d4bd5" stroke-width="1.8" d="M1261.9 798.1l8.6-7.2-6.6 0.2-8.5 6.5z"/><path fill="#3737b5" stroke-width="1.3" d="M1253.4 802.2l8.5-4.1-6.5-0.5-8.6 3.8z"/><path fill="#2e258f" stroke-width="1.2" d="M1244.9 805.1l8.5-2.9-6.6-0.8-8.5 2.6z"/><path fill="#291f7c" stroke-width="1.2" d="M1236.3 807.4l8.6-2.3-6.6-1.1-8.5 2.1z"/><path fill="#261b6e" stroke-width="1.1" d="M1227.8 809.3l8.5-1.9-6.5-1.3-8.5 2.8z"/><path fill="#231764" stroke-width="1.4" d="M1219.3 811.9l8.5-2.6-6.5-0.4-8.6 1.3z"/><path fill="#261b6e" stroke-width="1.1" d="M1413.5 783.9l8.5-0.1-6.5-1.7-8.6 1.3z"/><path fill="#271b70" stroke-width="1.1" d="M1405 785l8.5-1.1-6.6-0.5-8.5 1.3z"/><path fill="#271c72" stroke-width="1.1" d="M1396.4 786.1l8.6-1.1-6.6-0.3-8.5 1.3z"/><path fill="#281c74" stroke-width="1.1" d="M1387.9 787.2l8.5-1.1-6.5-0.1-8.5 0.1z"/><path fill="#291f7c" stroke-width="1.1" d="M1379.4 788.4l8.5-1.2-6.5-1.1-8.6 1.3z"/><path fill="#3b3fc5" stroke-width="1.1" d="M1328.2 792l8.5 0.8-6.5-2.1-8.6-1z"/><path fill="#415ded" stroke-width="1.1" d="M1319.7 789.5l8.5 2.5-6.6-2.3-8.5-2.6z"/><path fill="#08b5d0" stroke-width="2.4" d="M1294.1 761.8l8.5 12-6.5-18.3-8.6-98z"/><path fill="#2b91ef" stroke-width="2.4" d="M1285.5 781.5l8.6-19.7-6.6-104.3-8.5 105.5z"/><path fill="#4269fd" stroke-width="2.4" d="M1277 794.2l8.5-12.7-6.5-18.5-8.5 27.9z"/><path fill="#3e4cd6" stroke-width="1.8" d="M1268.5 799.6l8.5-5.4-6.5-3.3-8.6 7.2z"/><path fill="#393dbe" stroke-width="1.4" d="M1260 803.2l8.5-3.6-6.6-1.5-8.5 4.1z"/><path fill="#332fa4" stroke-width="1.2" d="M1251.4 806.1l8.6-2.9-6.6-1-8.5 2.9z"/><path fill="#2d238a" stroke-width="1.1" d="M1242.9 808.5l8.5-2.4-6.5-1-8.6 2.3z"/><path fill="#271c73" stroke-width="1.1" d="M1234.4 810.6l8.5-2.1-6.6-1.1-8.5 1.9z"/><path fill="#241866" stroke-width="1.4" d="M1225.8 813.6l8.6-3-6.6-1.3-8.5 2.6z"/><path fill="#271c73" stroke-width="1.1" d="M1411.5 786.4l8.5-0.9-6.5-1.6-8.5 1.1z"/><path fill="#2a1f7e" stroke-width="1.1" d="M1403 787.4l8.5-1-6.5-1.4-8.6 1.1z"/><path fill="#2b2082" stroke-width="1.1" d="M1394.5 788.3l8.5-0.9-6.6-1.3-8.5 1.1z"/><path fill="#2e248d" stroke-width="1.1" d="M1385.9 789.3l8.6-1-6.6-1.1-8.5 1.2z"/><path fill="#4156e8" stroke-width="1.1" d="M1326.2 791.7l8.5 1.6-6.5-1.3-8.5-2.5z"/><path fill="#3875fe" stroke-width="1.1" d="M1317.7 789l8.5 2.7-6.5-2.2-8.6-5.2z"/><path fill="#2f81fa" stroke-width="2.4" d="M1309.2 787.7l8.5 1.3-6.6-4.7-8.5-10.5z"/><path fill="#327cfc" stroke-width="2.4" d="M1300.6 789.7l8.6-2-6.6-13.9-8.5-12z"/><path fill="#4269fd" stroke-width="2.4" d="M1292.1 794.6l8.5-4.9-6.5-27.9-8.6 19.7z"/><path fill="#3f54e0" stroke-width="2.4" d="M1283.6 799.1l8.5-4.5-6.6-13.1-8.5 12.7z"/><path fill="#3c45cb" stroke-width="1.9" d="M1275 802.3l8.6-3.2-6.6-4.9-8.5 5.4z"/><path fill="#383cbd" stroke-width="1.4" d="M1266.5 805l8.5-2.7-6.5-2.7-8.5 3.6z"/><path fill="#3430a8" stroke-width="1.2" d="M1258 807.5l8.5-2.5-6.5-1.8-8.6 2.9z"/><path fill="#2e258f" stroke-width="1.2" d="M1249.4 809.8l8.6-2.3-6.6-1.4-8.5 2.4z"/><path fill="#2a1f7e" stroke-width="1.1" d="M1240.9 811.9l8.5-2.1-6.5-1.3-8.5 2.1z"/><path fill="#271b70" stroke-width="1.1" d="M1232.4 813.8l8.5-1.9-6.5-1.3-8.6 3z"/><path fill="#241865" stroke-width="1.4" d="M1223.9 816.6l8.5-2.8-6.6-0.2-8.5 1.3z"/><path fill="#241865" stroke-width="1.5" d="M1426.6 788.5l8.5-1.3-6.5-1.7-8.6 0z"/><path fill="#2a207f" stroke-width="1.1" d="M1409.5 789l8.6-0.7-6.6-1.9-8.5 1z"/><path fill="#2e248e" stroke-width="1.1" d="M1401 789.6l8.5-0.6-6.5-1.6-8.5 0.9z"/><path fill="#312a9c" stroke-width="1.1" d="M1392.5 790.3l8.5-0.7-6.5-1.3-8.6 1z"/><path fill="#3530aa" stroke-width="1.1" d="M1383.9 790.9l8.6-0.6-6.6-1-8.5 1z"/><path fill="#3e6fff" stroke-width="1.3" d="M1324.2 791.8l8.6-0.9-6.6 0.8-8.5-2.7z"/><path fill="#4066f7" stroke-width="2.4" d="M1315.7 794.5l8.5-2.7-6.5-2.8-8.5-1.3z"/><path fill="#4055e3" stroke-width="2.4" d="M1307.2 797.9l8.5-3.4-6.5-6.8-8.6 2z"/><path fill="#3d46cf" stroke-width="2.4" d="M1298.6 801l8.6-3.1-6.6-8.2-8.5 4.9z"/><path fill="#3a3ec2" stroke-width="2.3" d="M1290.1 803.5l8.5-2.5-6.5-6.4-8.5 4.5z"/><path fill="#3837b8" stroke-width="1.8" d="M1281.6 805.7l8.5-2.2-6.5-4.4-8.6 3.2z"/><path fill="#3531ab" stroke-width="1.6" d="M1273.1 807.7l8.5-2-6.6-3.4-8.5 2.7z"/><path fill="#322a9d" stroke-width="1.4" d="M1264.5 809.6l8.6-1.9-6.6-2.7-8.5 2.5z"/><path fill="#2e258f" stroke-width="1.2" d="M1256 811.5l8.5-1.9-6.5-2.1-8.6 2.3z"/><path fill="#2b2081" stroke-width="1.1" d="M1247.5 813.4l8.5-1.9-6.6-1.7-8.5 2.1z"/><path fill="#281c73" stroke-width="1.1" d="M1238.9 815.3l8.6-1.9-6.6-1.5-8.5 1.9z"/><path fill="#261b6e" stroke-width="1.1" d="M1230.4 817l8.5-1.7-6.5-1.5-8.5 2.8z"/><path fill="#231764" stroke-width="1.4" d="M1221.9 819.6l8.5-2.6-6.5-0.4-8.6 1.3z"/><path fill="#241866" stroke-width="1.6" d="M1424.6 791.5l8.5-1.3-6.5-1.7-8.5-0.2z"/><path fill="#2d248b" stroke-width="1.1" d="M1407.6 791.5l8.5-0.4-6.6-2.1-8.5 0.6z"/><path fill="#322b9e" stroke-width="1.1" d="M1399 791.8l8.6-0.3-6.6-1.9-8.5 0.7z"/><path fill="#3837b7" stroke-width="1.1" d="M1390.5 791.9l8.5-0.1-6.5-1.5-8.6 0.6z"/><path fill="#415ded" stroke-width="2.4" d="M1322.3 797.3l8.5-7-6.6 1.5-8.5 2.7z"/><path fill="#3b44ca" stroke-width="2.4" d="M1313.7 802l8.6-4.7-6.6-2.8-8.5 3.4z"/><path fill="#3737b6" stroke-width="2.2" d="M1305.2 805l8.5-3-6.5-4.1-8.6 3.1z"/><path fill="#332fa6" stroke-width="1.9" d="M1296.7 807.1l8.5-2.1-6.6-4-8.5 2.5z"/><path fill="#312a9b" stroke-width="1.7" d="M1288.1 808.9l8.6-1.8-6.6-3.6-8.5 2.2z"/><path fill="#302897" stroke-width="1.5" d="M1279.6 810.5l8.5-1.6-6.5-3.2-8.5 2z"/><path fill="#2e248d" stroke-width="1.4" d="M1271.1 812.1l8.5-1.6-6.5-2.8-8.6 1.9z"/><path fill="#2b2082" stroke-width="1.3" d="M1262.5 813.7l8.6-1.6-6.6-2.5-8.5 1.9z"/><path fill="#2a1f7e" stroke-width="1.2" d="M1254 815.3l8.5-1.6-6.5-2.2-8.5 1.9z"/><path fill="#281c73" stroke-width="1.1" d="M1245.5 817l8.5-1.7-6.5-1.9-8.6 1.9z"/><path fill="#261b6f" stroke-width="1.1" d="M1237 818.6l8.5-1.6-6.6-1.7-8.5 1.7z"/><path fill="#241865" stroke-width="1.4" d="M1228.4 821.3l8.6-2.7-6.6-1.6-8.5 2.6z"/><path fill="#2f2590" stroke-width="1.1" d="M1405.6 794.1l8.5-0.2-6.5-2.4-8.6 0.3z"/><path fill="#3736b4" stroke-width="1.1" d="M1397.1 793.9l8.5 0.2-6.6-2.3-8.5 0.1z"/><path fill="#3c45cd" stroke-width="1.1" d="M1388.5 792.9l8.6 1-6.6-2-8.5-0.1z"/><path fill="#2b91ef" stroke-width="1.6" d="M1337.3 785.7l8.6-20.2-6.6 18-8.5 6.8z"/><path fill="#4268fc" stroke-width="2.0" d="M1328.8 797.3l8.5-11.6-6.5 4.6-8.5 7z"/><path fill="#3c44cb" stroke-width="2.0" d="M1320.3 803.6l8.5-6.3-6.5 0-8.6 4.7z"/><path fill="#3430aa" stroke-width="1.8" d="M1311.8 807.3l8.5-3.7-6.6-1.6-8.5 3z"/><path fill="#2e258f" stroke-width="1.7" d="M1303.2 809.7l8.6-2.4-6.6-2.3-8.5 2.1z"/><path fill="#2b2082" stroke-width="1.5" d="M1294.7 811.6l8.5-1.9-6.5-2.6-8.6 1.8z"/><path fill="#2a1f7e" stroke-width="1.5" d="M1286.2 813.1l8.5-1.5-6.6-2.7-8.5 1.6z"/><path fill="#291f7c" stroke-width="1.4" d="M1277.6 814.6l8.6-1.5-6.6-2.6-8.5 1.6z"/><path fill="#281c74" stroke-width="1.3" d="M1269.1 816l8.5-1.4-6.5-2.5-8.6 1.6z"/><path fill="#271c72" stroke-width="1.3" d="M1260.6 817.5l8.5-1.5-6.6-2.3-8.5 1.6z"/><path fill="#261b70" stroke-width="1.2" d="M1252 818.9l8.6-1.4-6.6-2.2-8.5 1.7z"/><path fill="#261b6e" stroke-width="1.1" d="M1243.5 820.4l8.5-1.5-6.5-1.9-8.5 1.6z"/><path fill="#241865" stroke-width="1.4" d="M1235 823l8.5-2.6-6.5-1.8-8.6 2.7z"/><path fill="#261b6f" stroke-width="1.1" d="M1471.8 788.4l8.6 0-6.6-1.7-8.5 1.3z"/><path fill="#261b70" stroke-width="1.1" d="M1463.3 789.6l8.5-1.2-6.5-0.4-8.5 1.3z"/><path fill="#261b6f" stroke-width="1.1" d="M1454.8 790.9l8.5-1.3-6.5-0.3-8.6 1.3z"/><path fill="#261b6e" stroke-width="1.1" d="M1446.3 792.4l8.5-1.5-6.6-0.3-8.5 1.3z"/><path fill="#241866" stroke-width="1.4" d="M1437.7 794.9l8.6-2.5-6.6-0.5-8.5 1.3z"/><path fill="#312a9c" stroke-width="1.1" d="M1403.6 796.7l8.5 0-6.5-2.6-8.5-0.2z"/><path fill="#3a3ec2" stroke-width="1.1" d="M1395.1 795.6l8.5 1.1-6.5-2.8-8.6-1z"/><path fill="#259be8" stroke-width="2.2" d="M1343.9 783.2l8.5-35.6-6.5 17.9-8.6 20.2z"/><path fill="#3875fe" stroke-width="2.1" d="M1335.4 797.3l8.5-14.1-6.6 2.5-8.5 11.6z"/><path fill="#3e4cd7" stroke-width="1.8" d="M1326.8 804.2l8.6-6.9-6.6 0-8.5 6.3z"/><path fill="#3737b6" stroke-width="1.5" d="M1318.3 808.4l8.5-4.2-6.5-0.6-8.5 3.7z"/><path fill="#302997" stroke-width="1.4" d="M1309.8 811.3l8.5-2.9-6.5-1.1-8.6 2.4z"/><path fill="#2a207f" stroke-width="1.4" d="M1301.2 813.5l8.6-2.2-6.6-1.6-8.5 1.9z"/><path fill="#271c72" stroke-width="1.3" d="M1292.7 815.3l8.5-1.8-6.5-1.9-8.5 1.5z"/><path fill="#261b6f" stroke-width="1.3" d="M1284.2 816.8l8.5-1.5-6.5-2.2-8.6 1.5z"/><path fill="#261b6e" stroke-width="1.3" d="M1275.7 818.3l8.5-1.5-6.6-2.2-8.5 1.4z"/><path fill="#241866" stroke-width="1.9" d="M1267.1 820.8l8.6-2.5-6.6-2.3-8.5 1.5z"/><path fill="#241866" stroke-width="1.6" d="M1258.6 822.1l8.5-1.3-6.5-3.3-8.6 1.4z"/><path fill="#241765" stroke-width="1.5" d="M1250.1 823.4l8.5-1.3-6.6-3.2-8.5 1.5z"/><path fill="#231764" stroke-width="1.1" d="M1241.5 824.7l8.6-1.3-6.6-3-8.5 2.6z"/><path fill="#261b70" stroke-width="1.1" d="M1478.4 790l8.5 0.1-6.5-1.7-8.6 0z"/><path fill="#291f7c" stroke-width="1.1" d="M1469.9 790.8l8.5-0.8-6.6-1.6-8.5 1.2z"/><path fill="#2a207f" stroke-width="1.1" d="M1461.3 791.8l8.6-1-6.6-1.2-8.5 1.3z"/><path fill="#2b2081" stroke-width="1.1" d="M1452.8 793l8.5-1.2-6.5-0.9-8.5 1.5zM1444.3 794.3l8.5-1.3-6.5-0.6-8.6 2.5z"/><path fill="#2a1f7f" stroke-width="1.1" d="M1435.7 795.8l8.6-1.5-6.6 0.6-8.5 1.3z"/><path fill="#3531ab" stroke-width="1.2" d="M1401.6 798.9l8.6 0.4-6.6-2.6-8.5-1.1z"/><path fill="#3f4edb" stroke-width="1.1" d="M1393.1 796.3l8.5 2.6-6.5-3.3-8.6-3.3z"/><path fill="#19bfb6" stroke-width="2.2" d="M1367.5 747.4l8.5 20.7-6.5-18.5-8.5-54.8z"/><path fill="#08b5d0" stroke-width="2.4" d="M1359 766.5l8.5-19.1-6.5-52.6-8.6 52.8z"/><path fill="#2b91ef" stroke-width="2.4" d="M1350.4 788l8.6-21.5-6.6-18.9-8.5 35.6z"/><path fill="#3875fe" stroke-width="2.4" d="M1341.9 799.1l8.5-11.1-6.5-4.8-8.5 14.1z"/><path fill="#3f4edc" stroke-width="1.8" d="M1333.4 805.2l8.5-6.1-6.5-1.8-8.6 6.9z"/><path fill="#393dc0" stroke-width="1.4" d="M1324.9 809.3l8.5-4.1-6.6-1-8.5 4.2z"/><path fill="#332fa4" stroke-width="1.3" d="M1316.3 812.3l8.6-3-6.6-0.9-8.5 2.9z"/><path fill="#2d238a" stroke-width="1.2" d="M1307.8 814.8l8.5-2.5-6.5-1-8.6 2.2z"/><path fill="#281c73" stroke-width="1.2" d="M1299.3 816.9l8.5-2.1-6.6-1.3-8.5 1.8z"/><path fill="#261b6e" stroke-width="1.2" d="M1290.7 818.7l8.6-1.8-6.6-1.6-8.5 1.5z"/><path fill="#241764" stroke-width="1.8" d="M1282.2 821.2l8.5-2.5-6.5-1.9-8.5 1.5z"/><path fill="#231763" stroke-width="1.1" d="M1273.7 822.5l8.5-1.3-6.5-2.9-8.6 2.5z"/><path fill="#231764" stroke-width="1.6" d="M1484.9 793.1l8.6-1.3-6.6-1.7-8.5-0.1z"/><path fill="#271b71" stroke-width="1.1" d="M1476.4 792.9l8.5 0.2-6.5-3.1-8.5 0.8z"/><path fill="#2b2082" stroke-width="1.1" d="M1467.9 793.4l8.5-0.5-6.5-2.1-8.6 1z"/><path fill="#302998" stroke-width="1.1" d="M1459.4 793.9l8.5-0.5-6.6-1.6-8.5 1.2z"/><path fill="#332fa4" stroke-width="1.1" d="M1450.8 794.7l8.6-0.8-6.6-0.9-8.5 1.3z"/><path fill="#3430a7" stroke-width="1.1" d="M1442.3 795.7l8.5-1-6.5-0.4-8.6 1.5zM1433.8 797l8.5-1.3-6.6 0.1-8.5 1.5z"/><path fill="#3a3ec3" stroke-width="1.3" d="M1399.6 800.3l8.6 0.7-6.6-2.1-8.5-2.6z"/><path fill="#4167f8" stroke-width="1.6" d="M1391.1 796.4l8.5 3.9-6.5-4-8.5-8.1z"/><path fill="#2d8cf3" stroke-width="2.2" d="M1382.6 788.7l8.5 7.7-6.5-8.2-8.6-20.1z"/><path fill="#259be8" stroke-width="2.4" d="M1374.1 783.9l8.5 4.8-6.6-20.6-8.5-20.7z"/><path fill="#2b91ef" stroke-width="2.4" d="M1365.5 788.7l8.6-4.8-6.6-36.5-8.5 19.1z"/><path fill="#2f81fa" stroke-width="2.4" d="M1357 796.6l8.5-7.9-6.5-22.2-8.6 21.5z"/><path fill="#4167f9" stroke-width="2.4" d="M1348.5 802.6l8.5-6-6.6-8.6-8.5 11.1z"/><path fill="#3f4dda" stroke-width="1.8" d="M1339.9 807.1l8.6-4.5-6.6-3.5-8.5 6.1z"/><path fill="#3a3ec3" stroke-width="1.4" d="M1331.4 810.6l8.5-3.5-6.5-1.9-8.5 4.1z"/><path fill="#3531ac" stroke-width="1.3" d="M1322.9 813.5l8.5-2.9-6.5-1.3-8.6 3z"/><path fill="#2f2590" stroke-width="1.2" d="M1314.3 816l8.6-2.5-6.6-1.2-8.5 2.5z"/><path fill="#2a207f" stroke-width="1.1" d="M1305.8 818.2l8.5-2.2-6.5-1.2-8.5 2.1z"/><path fill="#271b70" stroke-width="1.1" d="M1297.3 820.1l8.5-1.9-6.5-1.3-8.6 1.8z"/><path fill="#241865" stroke-width="1.4" d="M1288.8 822.9l8.5-2.8-6.6-1.4-8.5 2.5z"/><path fill="#241866" stroke-width="1.6" d="M1483 796.1l8.5-1.3-6.6-1.7-8.5-0.2z"/><path fill="#271b71" stroke-width="1.1" d="M1474.4 795.9l8.6 0.2-6.6-3.2-8.5 0.5z"/><path fill="#2d238a" stroke-width="1.1" d="M1465.9 796.2l8.5-0.3-6.5-2.5-8.5 0.5z"/><path fill="#3430a8" stroke-width="1.1" d="M1457.4 796.1l8.5 0.1-6.5-2.3-8.6 0.8z"/><path fill="#393dbf" stroke-width="1.1" d="M1448.8 796l8.6 0.1-6.6-1.4-8.5 1z"/><path fill="#3b44ca" stroke-width="1.1" d="M1440.3 796.3l8.5-0.3-6.5-0.3-8.5 1.3z"/><path fill="#4055e4" stroke-width="1.6" d="M1397.7 800.2l8.5-0.4-6.6 0.5-8.5-3.9z"/><path fill="#4167f8" stroke-width="2.4" d="M1389.1 799.4l8.6 0.8-6.6-3.8-8.5-7.7z"/><path fill="#3e6fff" stroke-width="2.4" d="M1380.6 799.7l8.5-0.3-6.5-10.7-8.5-4.8z"/><path fill="#4066f7" stroke-width="2.4" d="M1372.1 802.1l8.5-2.4-6.5-15.8-8.6 4.8z"/><path fill="#4156e6" stroke-width="2.4" d="M1363.5 805.1l8.6-3-6.6-13.4-8.5 7.9z"/><path fill="#3e4dd8" stroke-width="2.4" d="M1355 807.8l8.5-2.7-6.5-8.5-8.5 6z"/><path fill="#3c45cc" stroke-width="1.9" d="M1346.5 810.3l8.5-2.5-6.5-5.2-8.6 4.5z"/><path fill="#393dbf" stroke-width="1.5" d="M1338 812.7l8.5-2.4-6.6-3.2-8.5 3.5z"/><path fill="#3635b1" stroke-width="1.3" d="M1329.4 815.1l8.6-2.4-6.6-2.1-8.5 2.9z"/><path fill="#31299a" stroke-width="1.2" d="M1320.9 817.4l8.5-2.3-6.5-1.6-8.6 2.5z"/><path fill="#2c238a" stroke-width="1.1" d="M1312.4 819.5l8.5-2.1-6.6-1.4-8.5 2.2z"/><path fill="#281c74" stroke-width="1.1" d="M1303.8 821.5l8.6-2-6.6-1.3-8.5 1.9z"/><path fill="#261b6e" stroke-width="1.1" d="M1295.3 823.3l8.5-1.8-6.5-1.4-8.5 2.8z"/><path fill="#231764" stroke-width="1.4" d="M1286.8 825.9l8.5-2.6-6.5-0.4-8.6 1.3z"/><path fill="#261b6f" stroke-width="1.1" d="M1498.1 795.2l8.5 0-6.6-1.7-8.5 1.3z"/><path fill="#271b71" stroke-width="1.1" d="M1489.5 796.3l8.6-1.1-6.6-0.4-8.5 1.3z"/><path fill="#271c73" stroke-width="1.1" d="M1481 797.4l8.5-1.1-6.5-0.2-8.6-0.2z"/><path fill="#291f7c" stroke-width="1.2" d="M1472.5 798.5l8.5-1.1-6.6-1.5-8.5 0.3z"/><path fill="#2d248a" stroke-width="1.4" d="M1463.9 799.2l8.6-0.7-6.6-2.3-8.5-0.1z"/><path fill="#3635b0" stroke-width="1.1" d="M1455.4 798.7l8.5 0.5-6.5-3.1-8.6-0.1z"/><path fill="#3d46cf" stroke-width="1.1" d="M1446.9 797.4l8.5 1.3-6.6-2.7-8.5 0.3z"/><path fill="#3e6fff" stroke-width="1.6" d="M1395.7 800.1l8.5-5.7-6.5 5.8-8.6-0.8z"/><path fill="#3e4cd6" stroke-width="2.4" d="M1387.2 805.9l8.5-5.8-6.6-0.7-8.5 0.3z"/><path fill="#393dc0" stroke-width="2.4" d="M1378.6 809.2l8.6-3.3-6.6-6.2-8.5 2.4z"/><path fill="#3737b6" stroke-width="2.4" d="M1370.1 811.3l8.5-2.1-6.5-7.1-8.6 3z"/><path fill="#3636b2" stroke-width="2.3" d="M1361.6 812.8l8.5-1.5-6.6-6.2-8.5 2.7z"/><path fill="#3531ab" stroke-width="1.9" d="M1353 814.3l8.6-1.5-6.6-5-8.5 2.5z"/><path fill="#3430a8" stroke-width="1.6" d="M1344.5 815.8l8.5-1.5-6.5-4-8.5 2.4z"/><path fill="#322b9e" stroke-width="1.4" d="M1336 817.5l8.5-1.7-6.5-3.1-8.6 2.4z"/><path fill="#302998" stroke-width="1.2" d="M1327.4 819.3l8.6-1.8-6.6-2.4-8.5 2.3z"/><path fill="#2d248a" stroke-width="1.2" d="M1318.9 821.2l8.5-1.9-6.5-1.9-8.5 2.1z"/><path fill="#2a1f7d" stroke-width="1.1" d="M1310.4 823l8.5-1.8-6.5-1.7-8.6 2z"/><path fill="#271b70" stroke-width="1.1" d="M1301.9 824.8l8.5-1.8-6.6-1.5-8.5 1.8z"/><path fill="#241866" stroke-width="1.4" d="M1293.3 827.6l8.6-2.8-6.6-1.5-8.5 2.6z"/><path fill="#241866" stroke-width="1.5" d="M1504.6 798.2l8.5-1.3-6.5-1.7-8.5 0z"/><path fill="#271c72" stroke-width="1.1" d="M1496.1 797.9l8.5 0.3-6.5-3-8.6 1.1z"/><path fill="#2b2080" stroke-width="1.1" d="M1487.5 798.6l8.6-0.7-6.6-1.6-8.5 1.1z"/><path fill="#2d248b" stroke-width="1.1" d="M1479 799.5l8.5-0.9-6.5-1.2-8.5 1.1z"/><path fill="#2e258f" stroke-width="1.1" d="M1470.5 800.5l8.5-1-6.5-1-8.6 0.7z"/><path fill="#31299a" stroke-width="1.3" d="M1462 801.4l8.5-0.9-6.6-1.3-8.5-0.5z"/><path fill="#3f4dda" stroke-width="1.1" d="M1444.9 799.3l8.5 2.2-6.5-4.1-8.6-1.6z"/><path fill="#4066f6" stroke-width="1.5" d="M1393.7 804.3l8.5-10.1-6.5 5.9-8.5 5.8z"/><path fill="#393dc0" stroke-width="2.0" d="M1385.2 810.8l8.5-6.5-6.5 1.6-8.6 3.3z"/><path fill="#302998" stroke-width="2.1" d="M1376.7 814.5l8.5-3.7-6.6-1.6-8.5 2.1z"/><path fill="#2c2389" stroke-width="1.9" d="M1368.1 816.5l8.6-2-6.6-3.2-8.5 1.5z"/><path fill="#2b2081" stroke-width="1.8" d="M1359.6 817.9l8.5-1.4-6.5-3.7-8.6 1.5z"/><path fill="#2b2081" stroke-width="1.6" d="M1351.1 819.2l8.5-1.3-6.6-3.6-8.5 1.5z"/><path fill="#2b2082" stroke-width="1.5" d="M1342.5 820.4l8.6-1.2-6.6-3.4-8.5 1.7z"/><path fill="#2b2081" stroke-width="1.4" d="M1334 821.8l8.5-1.4-6.5-2.9-8.6 1.8z"/><path fill="#2a207f" stroke-width="1.2" d="M1325.5 823.2l8.5-1.4-6.6-2.5-8.5 1.9z"/><path fill="#291f7c" stroke-width="1.2" d="M1316.9 824.8l8.6-1.6-6.6-2-8.5 1.8z"/><path fill="#271b71" stroke-width="1.1" d="M1308.4 826.5l8.5-1.7-6.5-1.8-8.5 1.8z"/><path fill="#241867" stroke-width="1.4" d="M1299.9 829.3l8.5-2.8-6.5-1.7-8.6 2.8z"/><path fill="#271b70" stroke-width="1.1" d="M1511.2 798.5l8.5-1.3-6.6-0.3-8.5 1.3z"/><path fill="#261b70" stroke-width="1.1" d="M1502.6 799.8l8.6-1.3-6.6-0.3-8.5-0.3z"/><path fill="#291f7b" stroke-width="1.1" d="M1494.1 800.7l8.5-0.9-6.5-1.9-8.6 0.7z"/><path fill="#2d248d" stroke-width="1.1" d="M1485.6 801.1l8.5-0.4-6.6-2.1-8.5 0.9z"/><path fill="#405dec" stroke-width="1.7" d="M1442.9 800.6l8.5 1.9-6.5-3.2-8.5-4.8z"/><path fill="#2e87f7" stroke-width="1.1" d="M1434.4 793.3l8.5 7.3-6.5-6.1-8.6-6.3z"/><path fill="#2797eb" stroke-width="1.2" d="M1408.8 791.3l8.5-10.1-6.5 3.2-8.6 9.8z"/><path fill="#327cfc" stroke-width="1.4" d="M1400.3 801.9l8.5-10.6-6.6 2.9-8.5 10.1z"/><path fill="#3f54e2" stroke-width="1.3" d="M1391.7 809.4l8.6-7.5-6.6 2.4-8.5 6.5z"/><path fill="#3837b7" stroke-width="1.3" d="M1383.2 814.5l8.5-5.1-6.5 1.4-8.5 3.7z"/><path fill="#2d248c" stroke-width="1.5" d="M1374.7 817.9l8.5-3.4-6.5 0-8.6 2z"/><path fill="#271c72" stroke-width="1.5" d="M1366.1 820.3l8.6-2.4-6.6-1.4-8.5 1.4z"/><path fill="#261b6f" stroke-width="1.5" d="M1357.6 821.9l8.5-1.6-6.5-2.4-8.5 1.3z"/><path fill="#261b6f" stroke-width="1.4" d="M1349.1 823.2l8.5-1.3-6.5-2.7-8.6 1.2zM1340.6 824.4l8.5-1.2-6.6-2.8-8.5 1.4z"/><path fill="#261b70" stroke-width="1.3" d="M1332 825.7l8.6-1.3-6.6-2.6-8.5 1.4z"/><path fill="#261b70" stroke-width="1.2" d="M1323.5 827l8.5-1.3-6.5-2.5-8.6 1.6z"/><path fill="#261b6e" stroke-width="1.2" d="M1315 828.4l8.5-1.4-6.6-2.2-8.5 1.7z"/><path fill="#241866" stroke-width="1.4" d="M1306.4 831l8.6-2.6-6.6-1.9-8.5 2.8z"/><path fill="#2b2082" stroke-width="1.1" d="M1509.2 800.5l8.5-0.9-6.5-1.1-8.6 1.3z"/><path fill="#2c2389" stroke-width="1.1" d="M1500.6 801.8l8.6-1.3-6.6-0.7-8.5 0.9zM1492.1 803.1l8.5-1.3-6.5-1.1-8.5 0.4z"/><path fill="#302998" stroke-width="1.1" d="M1483.6 803.6l8.5-0.5-6.5-2-8.6 0.2z"/><path fill="#2e87f7" stroke-width="2.4" d="M1432.4 796.4l8.5 2.2-6.5-5.3-8.5-10.7z"/><path fill="#2d8cf3" stroke-width="2.4" d="M1423.9 794.6l8.5 1.8-6.5-13.8-8.6-1.4zM1415.3 797.3l8.6-2.7-6.6-13.4-8.5 10.1z"/><path fill="#327cfc" stroke-width="1.8" d="M1406.8 803.1l8.5-5.8-6.5-6-8.5 10.6z"/><path fill="#4065f5" stroke-width="1.4" d="M1398.3 809.1l8.5-6-6.5-1.2-8.6 7.5z"/><path fill="#3d46cf" stroke-width="1.1" d="M1389.8 814l8.5-4.9-6.6 0.3-8.5 5.1z"/><path fill="#3636b2" stroke-width="1.1" d="M1381.2 817.9l8.6-3.9-6.6 0.5-8.5 3.4z"/><path fill="#2d248c" stroke-width="1.1" d="M1372.7 821l8.5-3.1-6.5 0-8.6 2.4z"/><path fill="#271b71" stroke-width="1.3" d="M1364.2 823.4l8.5-2.4-6.6-0.7-8.5 1.6z"/><path fill="#241764" stroke-width="1.9" d="M1355.6 826.2l8.6-2.8-6.6-1.5-8.5 1.3z"/><path fill="#231763" stroke-width="1.5" d="M1347.1 827.5l8.5-1.3-6.5-3-8.5 1.2z"/><path fill="#231763" stroke-width="1.6" d="M1338.6 828.8l8.5-1.3-6.5-3.1-8.6 1.3zM1330 830.1l8.6-1.3-6.6-3.1-8.5 1.3z"/><path fill="#231763" stroke-width="1.5" d="M1321.5 831.4l8.5-1.3-6.5-3.1-8.5 1.4z"/><path fill="#231763" stroke-width="1.1" d="M1313 832.7l8.5-1.3-6.5-3-8.6 2.6z"/><path fill="#241867" stroke-width="1.6" d="M1532.8 802l8.5-1.3-6.5-1.7-8.6-0.2z"/><path fill="#31299a" stroke-width="1.1" d="M1507.2 802.6l8.5-0.4-6.5-1.7-8.6 1.3z"/><path fill="#3430aa" stroke-width="1.1" d="M1498.7 803.1l8.5-0.5-6.6-0.8-8.5 1.3z"/><path fill="#3635b1" stroke-width="1.1" d="M1490.1 804.2l8.6-1.1-6.6 0-8.5 0.5z"/><path fill="#2e87f7" stroke-width="1.6" d="M1439 798.3l8.5-3.4-6.6 3.7-8.5-2.2z"/><path fill="#3e6fff" stroke-width="2.4" d="M1430.4 804.9l8.6-6.6-6.6-1.9-8.5-1.8z"/><path fill="#405dec" stroke-width="2.4" d="M1421.9 809.2l8.5-4.3-6.5-10.3-8.6 2.7z"/><path fill="#4156e7" stroke-width="2.4" d="M1413.4 810.8l8.5-1.6-6.6-11.9-8.5 5.8z"/><path fill="#4055e4" stroke-width="1.7" d="M1404.8 812.5l8.6-1.7-6.6-7.7-8.5 6z"/><path fill="#3e4cd6" stroke-width="1.2" d="M1396.3 815.2l8.5-2.7-6.5-3.4-8.5 4.9z"/><path fill="#3a3ec1" stroke-width="1.1" d="M1387.8 818.4l8.5-3.2-6.5-1.2-8.6 3.9z"/><path fill="#3430a7" stroke-width="1.1" d="M1379.2 821.4l8.6-3-6.6-0.5-8.5 3.1z"/><path fill="#2d248b" stroke-width="1.1" d="M1370.7 824.1l8.5-2.7-6.5-0.4-8.5 2.4z"/><path fill="#271b71" stroke-width="1.1" d="M1362.2 826.3l8.5-2.2-6.5-0.7-8.6 2.8z"/><path fill="#231764" stroke-width="1.4" d="M1353.7 829.2l8.5-2.9-6.6-0.1-8.5 1.3z"/><path fill="#261b6e" stroke-width="1.1" d="M1573.5 797.3l8.5-0.1-6.6-1.7-8.5 1.3z"/><path fill="#261b6f" stroke-width="1.1" d="M1564.9 798.5l8.6-1.2-6.6-0.5-8.5 1.3z"/><path fill="#261b6e" stroke-width="1.1" d="M1556.4 799.8l8.5-1.3-6.5-0.4-8.6 1.3zM1547.9 801.2l8.5-1.4-6.6-0.4-8.5 1.3z"/><path fill="#261a6d" stroke-width="1.1" d="M1539.3 802.5l8.6-1.3-6.6-0.5-8.5 1.3z"/><path fill="#3635b0" stroke-width="1.1" d="M1505.2 804.7l8.6 0-6.6-2.1-8.5 0.5z"/><path fill="#3a3ec3" stroke-width="1.1" d="M1496.7 804.3l8.5 0.4-6.5-1.6-8.6 1.1z"/><path fill="#327cfc" stroke-width="1.1" d="M1462.6 801.4l8.5 2.7-6.6-2-8.5-4.7z"/><path fill="#2e87f7" stroke-width="1.1" d="M1454 797.3l8.6 4.1-6.6-4-8.5-2.5zM1445.5 799.1l8.5-1.8-6.5-2.4-8.5 3.4z"/><path fill="#3875fe" stroke-width="1.9" d="M1437 806.1l8.5-7-6.5-0.8-8.6 6.6z"/><path fill="#3f53e0" stroke-width="2.3" d="M1428.4 812.2l8.6-6.1-6.6-1.2-8.5 4.3z"/><path fill="#393dc0" stroke-width="2.4" d="M1419.9 816.3l8.5-4.1-6.5-3-8.5 1.6z"/><path fill="#3736b4" stroke-width="2.4" d="M1411.4 818.6l8.5-2.3-6.5-5.5-8.6 1.7z"/><path fill="#3837b7" stroke-width="2.0" d="M1402.9 819.6l8.5-1-6.6-6.1-8.5 2.7z"/><path fill="#3837b8" stroke-width="1.3" d="M1394.3 820.8l8.6-1.2-6.6-4.4-8.5 3.2z"/><path fill="#3635b1" stroke-width="1.1" d="M1385.8 822.7l8.5-1.9-6.5-2.4-8.6 3z"/><path fill="#31299a" stroke-width="1.1" d="M1377.3 825l8.5-2.3-6.6-1.3-8.5 2.7z"/><path fill="#2b2081" stroke-width="1.1" d="M1368.7 827.3l8.6-2.3-6.6-0.9-8.5 2.2z"/><path fill="#271b71" stroke-width="1.1" d="M1360.2 829.4l8.5-2.1-6.5-1-8.5 2.9z"/><path fill="#231764" stroke-width="1.4" d="M1351.7 832.2l8.5-2.8-6.5-0.2-8.6 1.3z"/><path fill="#261b70" stroke-width="1.1" d="M1580 798.8l8.5 0.1-6.5-1.7-8.5 0.1z"/><path fill="#281c74" stroke-width="1.1" d="M1571.5 799.7l8.5-0.9-6.5-1.5-8.6 1.2z"/><path fill="#2a1f7e" stroke-width="1.1" d="M1563 800.7l8.5-1-6.6-1.2-8.5 1.3z"/><path fill="#2a207f" stroke-width="1.1" d="M1554.4 801.9l8.6-1.2-6.6-0.9-8.5 1.4zM1545.9 803.2l8.5-1.3-6.5-0.7-8.6 1.3z"/><path fill="#2a1f7e" stroke-width="1.1" d="M1537.4 804.6l8.5-1.4-6.6-0.7-8.5 1.1z"/><path fill="#393dbf" stroke-width="1.1" d="M1503.2 806.5l8.6 0.6-6.6-2.4-8.5-0.4z"/><path fill="#3f4edc" stroke-width="1.1" d="M1494.7 804.9l8.5 1.6-6.5-2.2-8.5-0.5z"/><path fill="#327cfc" stroke-width="2.4" d="M1460.6 803.3l8.5-4.9-6.5 3-8.6-4.1z"/><path fill="#3e6fff" stroke-width="2.4" d="M1452.1 807.6l8.5-4.3-6.6-6-8.5 1.8z"/><path fill="#425ff1" stroke-width="2.4" d="M1443.5 810.7l8.6-3.1-6.6-8.5-8.5 7z"/><path fill="#3f4edc" stroke-width="1.5" d="M1435 813.9l8.5-3.2-6.5-4.6-8.6 6.1z"/><path fill="#3a3ec4" stroke-width="1.4" d="M1426.5 817.6l8.5-3.7-6.6-1.7-8.5 4.1z"/><path fill="#3530aa" stroke-width="1.6" d="M1417.9 820.7l8.6-3.1-6.6-1.3-8.5 2.3z"/><path fill="#2e258f" stroke-width="2.0" d="M1409.4 823.2l8.5-2.5-6.5-2.1-8.5 1z"/><path fill="#2d248a" stroke-width="2.0" d="M1400.9 824.9l8.5-1.7-6.5-3.6-8.6 1.2z"/><path fill="#2e248d" stroke-width="1.5" d="M1392.4 825.9l8.5-1-6.6-4.1-8.5 1.9z"/><path fill="#2e258f" stroke-width="1.2" d="M1383.8 827.1l8.6-1.2-6.6-3.2-8.5 2.3z"/><path fill="#2d248b" stroke-width="1.1" d="M1375.3 828.7l8.5-1.6-6.5-2.1-8.6 2.3z"/><path fill="#2a1f7d" stroke-width="1.1" d="M1366.8 830.6l8.5-1.9-6.6-1.4-8.5 2.1z"/><path fill="#261b70" stroke-width="1.1" d="M1358.2 832.5l8.6-1.9-6.6-1.2-8.5 2.8z"/><path fill="#231764" stroke-width="1.4" d="M1349.7 835.2l8.5-2.7-6.5-0.3-8.5 1.3z"/><path fill="#291f7b" stroke-width="1.1" d="M1578 801.4l8.6-0.8-6.6-1.8-8.5 0.9z"/><path fill="#2b2082" stroke-width="1.1" d="M1569.5 802.1l8.5-0.7-6.5-1.7-8.5 1z"/><path fill="#2f2590" stroke-width="1.1" d="M1561 802.8l8.5-0.7-6.5-1.4-8.6 1.2z"/><path fill="#312a9c" stroke-width="1.1" d="M1552.4 803.7l8.6-0.9-6.6-0.9-8.5 1.3z"/><path fill="#332fa4" stroke-width="1.1" d="M1543.9 804.7l8.5-1-6.5-0.5-8.5 1.4z"/><path fill="#3d46d0" stroke-width="1.1" d="M1501.3 807.8l8.5 1.2-6.6-2.5-8.5-1.6z"/><path fill="#3e6fff" stroke-width="1.1" d="M1492.7 804.3l8.6 3.5-6.6-2.9-8.5-3z"/><path fill="#2d8cf3" stroke-width="1.1" d="M1467.1 799.7l8.6-4.6-6.6 3.3-8.5 4.9z"/><path fill="#3e6fff" stroke-width="2.2" d="M1458.6 809.1l8.5-9.4-6.5 3.6-8.5 4.3z"/><path fill="#3d46d0" stroke-width="2.4" d="M1450.1 815.6l8.5-6.5-6.5-1.5-8.6 3.1z"/><path fill="#393dbf" stroke-width="2.4" d="M1441.6 818.6l8.5-3-6.6-4.9-8.5 3.2z"/><path fill="#3837b7" stroke-width="1.6" d="M1433 820.4l8.6-1.8-6.6-4.7-8.5 3.7z"/><path fill="#3635b0" stroke-width="1.2" d="M1424.5 822.3l8.5-1.9-6.5-2.8-8.6 3.1z"/><path fill="#302999" stroke-width="1.2" d="M1416 824.6l8.5-2.3-6.6-1.6-8.5 2.5z"/><path fill="#2b2081" stroke-width="1.3" d="M1407.4 826.8l8.6-2.2-6.6-1.4-8.5 1.7z"/><path fill="#281c73" stroke-width="1.6" d="M1398.9 828.7l8.5-1.9-6.5-1.9-8.5 1z"/><path fill="#271b71" stroke-width="1.6" d="M1390.4 830.2l8.5-1.5-6.5-2.8-8.6 1.2z"/><path fill="#271c72" stroke-width="1.3" d="M1381.8 831.3l8.6-1.1-6.6-3.1-8.5 1.6z"/><path fill="#281c73" stroke-width="1.1" d="M1373.3 832.5l8.5-1.2-6.5-2.6-8.5 1.9z"/><path fill="#271b71" stroke-width="1.1" d="M1364.8 834l8.5-1.5-6.5-1.9-8.6 1.9z"/><path fill="#241867" stroke-width="1.4" d="M1356.3 836.9l8.5-2.9-6.6-1.5-8.5 2.7z"/><path fill="#2b2080" stroke-width="1.1" d="M1576.1 804l8.5-0.6-6.6-2-8.5 0.7z"/><path fill="#302997" stroke-width="1.1" d="M1567.5 804.5l8.6-0.5-6.6-1.9-8.5 0.7z"/><path fill="#3430a9" stroke-width="1.1" d="M1559 804.8l8.5-0.3-6.5-1.7-8.6 0.9z"/><path fill="#383cbd" stroke-width="1.1" d="M1550.5 805.1l8.5-0.3-6.6-1.1-8.5 1z"/><path fill="#3a3ec3" stroke-width="1.1" d="M1541.9 805.5l8.6-0.4-6.6-0.4-8.5 1.3z"/><path fill="#425ff3" stroke-width="1.1" d="M1499.3 807.3l8.5 1.5-6.5-1-8.6-3.5z"/><path fill="#327cfc" stroke-width="1.1" d="M1490.8 803.9l8.5 3.4-6.6-3-8.5-5.7z"/><path fill="#2e87f7" stroke-width="2.0" d="M1482.2 802.4l8.6 1.5-6.6-5.3-8.5-3.5z"/><path fill="#2f81fa" stroke-width="2.4" d="M1473.7 805.5l8.5-3.1-6.5-7.3-8.6 4.6z"/><path fill="#3e6fff" stroke-width="1.7" d="M1465.2 810.4l8.5-4.9-6.6-5.8-8.5 9.4z"/><path fill="#4055e4" stroke-width="1.2" d="M1456.6 815.4l8.6-5-6.6-1.3-8.5 6.5z"/><path fill="#3a3dc0" stroke-width="1.7" d="M1448.1 820.1l8.5-4.7-6.5 0.2-8.5 3z"/><path fill="#312a9c" stroke-width="2.0" d="M1439.6 823.5l8.5-3.4-6.5-1.5-8.6 1.8z"/><path fill="#2e248e" stroke-width="1.7" d="M1431 825.4l8.6-1.9-6.6-3.1-8.5 1.9z"/><path fill="#2d248d" stroke-width="1.3" d="M1422.5 826.8l8.5-1.4-6.5-3.1-8.5 2.3z"/><path fill="#2c2389" stroke-width="1.1" d="M1414 828.3l8.5-1.5-6.5-2.2-8.6 2.2z"/><path fill="#291f7c" stroke-width="1.1" d="M1405.5 830.2l8.5-1.9-6.6-1.5-8.5 1.9z"/><path fill="#261b70" stroke-width="1.2" d="M1396.9 832l8.6-1.8-6.6-1.5-8.5 1.5z"/><path fill="#241865" stroke-width="2.0" d="M1388.4 834.7l8.5-2.7-6.5-1.8-8.6 1.1z"/><path fill="#231764" stroke-width="1.7" d="M1379.9 836l8.5-1.3-6.6-3.4-8.5 1.2z"/><path fill="#241865" stroke-width="1.6" d="M1371.3 837.3l8.6-1.3-6.6-3.5-8.5 1.5z"/><path fill="#241865" stroke-width="1.1" d="M1362.8 838.6l8.5-1.3-6.5-3.3-8.5 2.9z"/><path fill="#2d248b" stroke-width="1.1" d="M1574.1 806.6l8.5-0.4-6.5-2.2-8.6 0.5z"/><path fill="#332fa4" stroke-width="1.1" d="M1565.5 806.8l8.6-0.2-6.6-2.1-8.5 0.3z"/><path fill="#393cbd" stroke-width="1.1" d="M1557 806.7l8.5 0.1-6.5-2-8.5 0.3z"/><path fill="#3d46ce" stroke-width="1.1" d="M1548.5 806.2l8.5 0.5-6.5-1.6-8.6 0.4z"/><path fill="#3e6fff" stroke-width="2.4" d="M1488.8 810l8.5-3.7-6.5-2.4-8.6-1.5z"/><path fill="#415eef" stroke-width="2.4" d="M1480.2 813.4l8.6-3.4-6.6-7.6-8.5 3.1z"/><path fill="#3f54e0" stroke-width="2.4" d="M1471.7 816.3l8.5-2.9-6.5-7.9-8.5 4.9z"/><path fill="#3d46d0" stroke-width="2.0" d="M1463.2 818.9l8.5-2.6-6.5-5.9-8.6 5z"/><path fill="#3a3ec3" stroke-width="1.2" d="M1454.7 821.4l8.5-2.5-6.6-3.5-8.5 4.7z"/><path fill="#3737b5" stroke-width="1.1" d="M1446.1 824l8.6-2.6-6.6-1.3-8.5 3.4z"/><path fill="#302897" stroke-width="1.3" d="M1437.6 826.9l8.5-2.9-6.5-0.5-8.6 1.9z"/><path fill="#2a1f7d" stroke-width="1.6" d="M1429.1 829.2l8.5-2.3-6.6-1.5-8.5 1.4z"/><path fill="#271c72" stroke-width="1.4" d="M1420.5 830.8l8.6-1.6-6.6-2.4-8.5 1.5z"/><path fill="#271c72" stroke-width="1.2" d="M1412 832.2l8.5-1.4-6.5-2.5-8.5 1.9z"/><path fill="#271b70" stroke-width="1.1" d="M1403.5 833.6l8.5-1.4-6.5-2-8.6 1.8z"/><path fill="#241866" stroke-width="1.4" d="M1394.9 836.4l8.6-2.8-6.6-1.6-8.5 2.7z"/><path fill="#2e258f" stroke-width="1.1" d="M1572.1 809.3l8.5-0.3-6.5-2.4-8.6 0.2z"/><path fill="#3636b2" stroke-width="1.1" d="M1563.6 809.1l8.5 0.2-6.6-2.5-8.5-0.1z"/><path fill="#3c44cb" stroke-width="1.1" d="M1555 808.3l8.6 0.8-6.6-2.4-8.5-0.5z"/><path fill="#4157e8" stroke-width="1.1" d="M1546.5 806.7l8.5 1.6-6.5-2.1-8.5-0.8z"/><path fill="#3875fe" stroke-width="2.0" d="M1495.3 810.2l8.6-10.2-6.6 6.3-8.5 3.7z"/><path fill="#3e4dd8" stroke-width="2.4" d="M1486.8 817.4l8.5-7.2-6.5-0.2-8.6 3.4z"/><path fill="#393dbf" stroke-width="2.4" d="M1478.3 821.1l8.5-3.7-6.6-4-8.5 2.9z"/><path fill="#3736b4" stroke-width="2.2" d="M1469.7 823.2l8.6-2.1-6.6-4.8-8.5 2.6z"/><path fill="#3530aa" stroke-width="1.8" d="M1461.2 824.9l8.5-1.7-6.5-4.3-8.5 2.5z"/><path fill="#332fa6" stroke-width="1.4" d="M1452.7 826.5l8.5-1.6-6.5-3.5-8.6 2.6z"/><path fill="#31299a" stroke-width="1.1" d="M1444.2 828.3l8.5-1.8-6.6-2.5-8.5 2.9z"/><path fill="#2d248c" stroke-width="1.1" d="M1435.6 830.3l8.6-2-6.6-1.4-8.5 2.3z"/><path fill="#281c74" stroke-width="1.2" d="M1427.1 832.4l8.5-2.1-6.5-1.1-8.6 1.6z"/><path fill="#241867" stroke-width="2.0" d="M1418.6 835.5l8.5-3.1-6.6-1.6-8.5 1.4z"/><path fill="#241765" stroke-width="1.6" d="M1410 836.8l8.6-1.3-6.6-3.3-8.5 1.4z"/><path fill="#241765" stroke-width="1.1" d="M1401.5 838.1l8.5-1.3-6.5-3.2-8.6 2.8z"/><path fill="#302999" stroke-width="1.2" d="M1570.1 812l8.6-0.1-6.6-2.6-8.5-0.2z"/><path fill="#393dbe" stroke-width="1.1" d="M1561.6 811.3l8.5 0.7-6.5-2.9-8.6-0.8z"/><path fill="#3f4edc" stroke-width="1.1" d="M1553.1 809.5l8.5 1.8-6.6-3-8.5-1.6z"/><path fill="#23a0e5" stroke-width="1.1" d="M1510.4 794.9l8.5-7.9-6.5 6.2-8.5 6.8z"/><path fill="#2e87f7" stroke-width="1.4" d="M1501.9 807.1l8.5-12.2-6.5 5.1-8.6 10.2z"/><path fill="#425ff3" stroke-width="1.6" d="M1493.4 816.3l8.5-9.2-6.6 3.1-8.5 7.2z"/><path fill="#3a3fc4" stroke-width="1.8" d="M1484.8 822.2l8.6-5.9-6.6 1.1-8.5 3.7z"/><path fill="#332fa4" stroke-width="1.9" d="M1476.3 825.8l8.5-3.6-6.5-1.1-8.6 2.1z"/><path fill="#2e248d" stroke-width="1.8" d="M1467.8 828l8.5-2.2-6.6-2.6-8.5 1.7z"/><path fill="#2d238a" stroke-width="1.6" d="M1459.2 829.5l8.6-1.5-6.6-3.1-8.5 1.6z"/><path fill="#2b2081" stroke-width="1.4" d="M1450.7 830.9l8.5-1.4-6.5-3-8.5 1.8z"/><path fill="#2b2080" stroke-width="1.2" d="M1442.2 832.4l8.5-1.5-6.5-2.6-8.6 2z"/><path fill="#2a1f7d" stroke-width="1.1" d="M1433.6 833.9l8.6-1.5-6.6-2.1-8.5 2.1z"/><path fill="#271c72" stroke-width="1.1" d="M1425.1 835.6l8.5-1.7-6.5-1.5-8.5 3.1z"/><path fill="#241866" stroke-width="1.4" d="M1416.6 838.5l8.5-2.9-6.5-0.1-8.6 1.3z"/><path fill="#261b6e" stroke-width="1.1" d="M1627.9 807.9l8.5-0.1-6.6-1.7-8.5 1.3z"/><path fill="#261b6f" stroke-width="1.1" d="M1619.3 809.1l8.6-1.2-6.6-0.5-8.5 1.3zM1610.8 810.3l8.5-1.2-6.5-0.4-8.6 1.3z"/><path fill="#332fa5" stroke-width="1.2" d="M1568.1 814.5l8.6 0-6.6-2.5-8.5-0.7z"/><path fill="#3b44ca" stroke-width="1.1" d="M1559.6 813.2l8.5 1.3-6.5-3.2-8.5-1.8z"/><path fill="#4167f8" stroke-width="1.1" d="M1551.1 809.8l8.5 3.4-6.5-3.7-8.6-3.6z"/><path fill="#20a5e3" stroke-width="1.6" d="M1525.5 792.9l8.5 2.1-6.5-4-8.6-4z"/><path fill="#259be8" stroke-width="2.4" d="M1517 799.5l8.5-6.6-6.6-5.9-8.5 7.9z"/><path fill="#2e87f7" stroke-width="2.0" d="M1508.4 808.1l8.6-8.6-6.6-4.6-8.5 12.2z"/><path fill="#3875fe" stroke-width="1.5" d="M1499.9 815.6l8.5-7.5-6.5-1-8.5 9.2z"/><path fill="#3f4edd" stroke-width="1.2" d="M1491.4 821.5l8.5-5.9-6.5 0.7-8.6 5.9z"/><path fill="#393dbe" stroke-width="1.2" d="M1482.8 825.9l8.6-4.4-6.6 0.7-8.5 3.6z"/><path fill="#302998" stroke-width="1.4" d="M1474.3 829.2l8.5-3.3-6.5-0.1-8.5 2.2z"/><path fill="#2a1f7e" stroke-width="1.5" d="M1465.8 831.7l8.5-2.5-6.5-1.2-8.6 1.5z"/><path fill="#271c72" stroke-width="1.4" d="M1457.3 833.4l8.5-1.7-6.6-2.2-8.5 1.4z"/><path fill="#261b70" stroke-width="1.4" d="M1448.7 834.8l8.6-1.4-6.6-2.5-8.5 1.5z"/><path fill="#261b70" stroke-width="1.3" d="M1440.2 836.2l8.5-1.4-6.5-2.4-8.6 1.5z"/><path fill="#261b6f" stroke-width="1.2" d="M1431.7 837.5l8.5-1.3-6.6-2.3-8.5 1.7z"/><path fill="#241867" stroke-width="1.4" d="M1423.1 840.2l8.6-2.7-6.6-1.9-8.5 2.9z"/><path fill="#261b6e" stroke-width="1.1" d="M1642.9 808.2l8.6 0-6.6-1.7-8.5 1.3z"/><path fill="#271b71" stroke-width="1.1" d="M1634.4 809.2l8.5-1-6.5-0.4-8.5 0.1z"/><path fill="#281c74" stroke-width="1.1" d="M1625.9 810.3l8.5-1.1-6.5-1.3-8.6 1.2z"/><path fill="#2a1f7e" stroke-width="1.1" d="M1617.3 811.4l8.6-1.1-6.6-1.2-8.5 1.2z"/><path fill="#2a2080" stroke-width="1.1" d="M1608.8 812.5l8.5-1.1-6.5-1.1-8.5 1.2z"/><path fill="#3837b8" stroke-width="1.2" d="M1566.2 816.3l8.5 0.2-6.6-2-8.5-1.3z"/><path fill="#3f4edc" stroke-width="1.1" d="M1557.6 814.2l8.6 2.1-6.6-3.1-8.5-3.4z"/><path fill="#327cfc" stroke-width="1.1" d="M1549.1 809.4l8.5 4.8-6.5-4.4-8.5-6.6z"/><path fill="#2d8cf3" stroke-width="1.6" d="M1540.6 804.4l8.5 5-6.5-6.2-8.6-8.2z"/><path fill="#2b91ef" stroke-width="2.4" d="M1532 804.5l8.6-0.1-6.6-9.4-8.5-2.1z"/><path fill="#2e87f7" stroke-width="2.4" d="M1523.5 809l8.5-4.5-6.5-11.6-8.5 6.6z"/><path fill="#327cfc" stroke-width="2.4" d="M1515 814.1l8.5-5.1-6.5-9.5-8.6 8.6z"/><path fill="#4269fd" stroke-width="2.1" d="M1506.5 818.6l8.5-4.5-6.6-6-8.5 7.5z"/><path fill="#4055e5" stroke-width="1.4" d="M1497.9 822.5l8.6-3.9-6.6-3-8.5 5.9z"/><path fill="#3c45cc" stroke-width="1.1" d="M1489.4 826.2l8.5-3.7-6.5-1-8.6 4.4z"/><path fill="#3736b4" stroke-width="1.1" d="M1480.9 829.6l8.5-3.4-6.6-0.3-8.5 3.3z"/><path fill="#2e2590" stroke-width="1.1" d="M1472.3 832.5l8.6-2.9-6.6-0.4-8.5 2.5z"/><path fill="#291f7b" stroke-width="1.2" d="M1463.8 834.8l8.5-2.3-6.5-0.8-8.5 1.7z"/><path fill="#261a6d" stroke-width="1.3" d="M1455.3 836.8l8.5-2-6.5-1.4-8.6 1.4z"/><path fill="#241764" stroke-width="1.8" d="M1446.7 839.3l8.6-2.5-6.6-2-8.5 1.4z"/><path fill="#231764" stroke-width="1.5" d="M1438.2 840.6l8.5-1.3-6.5-3.1-8.5 1.3z"/><path fill="#231763" stroke-width="1.1" d="M1429.7 841.9l8.5-1.3-6.5-3.1-8.6 2.7z"/><path fill="#241866" stroke-width="1.5" d="M1649.5 811.2l8.5-1.3-6.5-1.7-8.6 0z"/><path fill="#271c72" stroke-width="1.1" d="M1641 810.9l8.5 0.3-6.6-3-8.5 1z"/><path fill="#2a1f7f" stroke-width="1.1" d="M1632.4 811.7l8.6-0.8-6.6-1.7-8.5 1.1z"/><path fill="#2d248b" stroke-width="1.1" d="M1623.9 812.5l8.5-0.8-6.5-1.4-8.6 1.1z"/><path fill="#302997" stroke-width="1.1" d="M1615.4 813.3l8.5-0.8-6.6-1.1-8.5 1.1z"/><path fill="#312a9c" stroke-width="1.1" d="M1606.8 814.2l8.6-0.9-6.6-0.8-8.5 1.1z"/><path fill="#3f4dda" stroke-width="1.1" d="M1564.2 816.2l8.5 0.5-6.5-0.4-8.6-2.1z"/><path fill="#4065f4" stroke-width="1.7" d="M1555.7 814.9l8.5 1.3-6.6-2-8.5-4.8z"/><path fill="#3e6fff" stroke-width="2.4" d="M1547.1 814.1l8.6 0.8-6.6-5.5-8.5-5zM1538.6 815.7l8.5-1.6-6.5-9.7-8.6 0.1z"/><path fill="#4167f8" stroke-width="2.4" d="M1530.1 818.3l8.5-2.6-6.6-11.2-8.5 4.5z"/><path fill="#405ceb" stroke-width="2.4" d="M1521.5 821l8.6-2.7-6.6-9.3-8.5 5.1z"/><path fill="#3f53e0" stroke-width="2.4" d="M1513 823.5l8.5-2.5-6.5-6.9-8.5 4.5z"/><path fill="#3d4bd4" stroke-width="1.9" d="M1504.5 826l8.5-2.5-6.5-4.9-8.6 3.9z"/><path fill="#3b44c9" stroke-width="1.5" d="M1495.9 828.4l8.6-2.4-6.6-3.5-8.5 3.7z"/><path fill="#383cbd" stroke-width="1.2" d="M1487.4 830.8l8.5-2.4-6.5-2.2-8.5 3.4z"/><path fill="#332fa6" stroke-width="1.1" d="M1478.9 833.3l8.5-2.5-6.5-1.2-8.6 2.9z"/><path fill="#2d248c" stroke-width="1.1" d="M1470.4 835.7l8.5-2.4-6.6-0.8-8.5 2.3z"/><path fill="#281c74" stroke-width="1.1" d="M1461.8 837.9l8.6-2.2-6.6-0.9-8.5 2z"/><path fill="#241866" stroke-width="1.5" d="M1453.3 841l8.5-3.1-6.5-1.1-8.6 2.5z"/><path fill="#261b6e" stroke-width="1.1" d="M1647.5 812.9l8.5 0-6.5-1.7-8.5-0.3z"/><path fill="#291f7c" stroke-width="1.1" d="M1639 813.6l8.5-0.7-6.5-2-8.6 0.8z"/><path fill="#2d248c" stroke-width="1.1" d="M1630.4 814.1l8.6-0.5-6.6-1.9-8.5 0.8z"/><path fill="#322a9e" stroke-width="1.1" d="M1621.9 814.5l8.5-0.4-6.5-1.6-8.5 0.8z"/><path fill="#3736b4" stroke-width="1.1" d="M1613.4 814.9l8.5-0.4-6.5-1.2-8.6 0.9z"/><path fill="#405cea" stroke-width="2.4" d="M1553.7 819l8.5-4-6.5-0.1-8.6-0.8z"/><path fill="#3d46cf" stroke-width="2.4" d="M1545.2 822.7l8.5-3.7-6.6-4.9-8.5 1.6z"/><path fill="#3a3ec3" stroke-width="2.4" d="M1536.6 825.1l8.6-2.4-6.6-7-8.5 2.6z"/><path fill="#393dc0" stroke-width="2.4" d="M1528.1 826.9l8.5-1.8-6.5-6.8-8.6 2.7z"/><path fill="#393dbe" stroke-width="2.3" d="M1519.6 828.5l8.5-1.6-6.6-5.9-8.5 2.5z"/><path fill="#3837b8" stroke-width="2.0" d="M1511 830l8.6-1.5-6.6-5-8.5 2.5z"/><path fill="#3737b5" stroke-width="1.7" d="M1502.5 831.6l8.5-1.6-6.5-4-8.6 2.4z"/><path fill="#3531aa" stroke-width="1.5" d="M1494 833.4l8.5-1.8-6.6-3.2-8.5 2.4z"/><path fill="#322b9e" stroke-width="1.3" d="M1485.4 835.2l8.6-1.8-6.6-2.6-8.5 2.5z"/><path fill="#2f2590" stroke-width="1.1" d="M1476.9 837.1l8.5-1.9-6.5-1.9-8.5 2.4z"/><path fill="#2b2081" stroke-width="1.1" d="M1468.4 839.1l8.5-2-6.5-1.4-8.6 2.2z"/><path fill="#271c72" stroke-width="1.1" d="M1459.9 841l8.5-1.9-6.6-1.2-8.5 3.1z"/><path fill="#241866" stroke-width="1.4" d="M1451.3 844l8.6-3-6.6 0-8.5 1.3z"/><path fill="#231763" stroke-width="1.5" d="M1654.1 815.9l8.5-1.3-6.6-1.7-8.5 0z"/><path fill="#261b6f" stroke-width="1.1" d="M1645.5 815.8l8.6 0.1-6.6-3-8.5 0.7z"/><path fill="#2a207f" stroke-width="1.1" d="M1637 816.3l8.5-0.5-6.5-2.2-8.6 0.5z"/><path fill="#31299a" stroke-width="1.1" d="M1628.5 816.5l8.5-0.2-6.6-2.2-8.5 0.4z"/><path fill="#3737b7" stroke-width="1.1" d="M1619.9 816.3l8.6 0.2-6.6-2-8.5 0.4z"/><path fill="#3c45cd" stroke-width="1.1" d="M1611.4 815.7l8.5 0.6-6.5-1.4-8.5 0.3z"/><path fill="#4268fb" stroke-width="1.7" d="M1560.2 818.7l8.6-9-6.6 5.3-8.5 4z"/><path fill="#3c44cb" stroke-width="2.2" d="M1551.7 825l8.5-6.3-6.5 0.3-8.5 3.7z"/><path fill="#3430a9" stroke-width="2.2" d="M1543.2 828.7l8.5-3.7-6.5-2.3-8.6 2.4z"/><path fill="#302998" stroke-width="2.1" d="M1534.6 830.9l8.6-2.2-6.6-3.6-8.5 1.8z"/><path fill="#2e258f" stroke-width="1.9" d="M1526.1 832.4l8.5-1.5-6.5-4-8.5 1.6z"/><path fill="#2e258f" stroke-width="1.8" d="M1517.6 833.7l8.5-1.3-6.5-3.9-8.6 1.5z"/><path fill="#2e258f" stroke-width="1.7" d="M1509.1 835l8.5-1.3-6.6-3.7-8.5 1.6z"/><path fill="#2e258e" stroke-width="1.5" d="M1500.5 836.3l8.6-1.3-6.6-3.4-8.5 1.8z"/><path fill="#2d248d" stroke-width="1.4" d="M1492 837.8l8.5-1.5-6.5-2.9-8.6 1.8z"/><path fill="#2d238a" stroke-width="1.3" d="M1483.5 839.3l8.5-1.5-6.6-2.6-8.5 1.9z"/><path fill="#2a207f" stroke-width="1.2" d="M1474.9 840.9l8.6-1.6-6.6-2.2-8.5 2z"/><path fill="#281c74" stroke-width="1.1" d="M1466.4 842.6l8.5-1.7-6.5-1.8-8.5 1.9z"/><path fill="#261b6f" stroke-width="1.1" d="M1457.9 844.3l8.5-1.7-6.5-1.6-8.6 3z"/><path fill="#241765" stroke-width="1.4" d="M1449.3 846.9l8.6-2.6-6.6-0.3-8.5 1.2z"/><path fill="#231764" stroke-width="1.5" d="M1652.1 818.9l8.5-1.3-6.5-1.7-8.6-0.1z"/><path fill="#261b70" stroke-width="1.1" d="M1643.6 818.7l8.5 0.2-6.6-3.1-8.5 0.5z"/><path fill="#2b2082" stroke-width="1.1" d="M1635 819.1l8.6-0.4-6.6-2.4-8.5 0.2z"/><path fill="#3430a8" stroke-width="1.1" d="M1626.5 818.8l8.5 0.3-6.5-2.6-8.6-0.2z"/><path fill="#3b44cb" stroke-width="1.1" d="M1618 817.7l8.5 1.1-6.6-2.5-8.5-0.6z"/><path fill="#327cfc" stroke-width="1.9" d="M1566.8 816.1l8.5-19-6.5 12.6-8.6 9z"/><path fill="#3e4dd9" stroke-width="1.9" d="M1558.3 825.3l8.5-9.2-6.6 2.6-8.5 6.3z"/><path fill="#3736b3" stroke-width="1.6" d="M1549.7 830l8.6-4.7-6.6-0.3-8.5 3.7z"/><path fill="#2e248e" stroke-width="1.5" d="M1541.2 832.9l8.5-2.9-6.5-1.3-8.6 2.2z"/><path fill="#2a1f7d" stroke-width="1.6" d="M1532.7 835l8.5-2.1-6.6-2-8.5 1.5z"/><path fill="#271c73" stroke-width="1.6" d="M1524.1 836.6l8.6-1.6-6.6-2.6-8.5 1.3z"/><path fill="#271c72" stroke-width="1.5" d="M1515.6 838l8.5-1.4-6.5-2.9-8.5 1.3z"/><path fill="#271c73" stroke-width="1.5" d="M1507.1 839.2l8.5-1.2-6.5-3-8.6 1.3z"/><path fill="#271c73" stroke-width="1.4" d="M1498.5 840.5l8.6-1.3-6.6-2.9-8.5 1.5z"/><path fill="#271c73" stroke-width="1.3" d="M1490 841.8l8.5-1.3-6.5-2.7-8.5 1.5z"/><path fill="#271c72" stroke-width="1.3" d="M1481.5 843.1l8.5-1.3-6.5-2.5-8.6 1.6z"/><path fill="#271b71" stroke-width="1.2" d="M1473 844.6l8.5-1.5-6.6-2.2-8.5 1.7z"/><path fill="#261b6f" stroke-width="1.1" d="M1464.4 846l8.6-1.4-6.6-2-8.5 1.7z"/><path fill="#241866" stroke-width="1.4" d="M1455.9 848.6l8.5-2.6-6.5-1.7-8.6 2.6z"/><path fill="#261a6d" stroke-width="1.1" d="M1650.1 820.7l8.5-0.1-6.5-1.7-8.5-0.2z"/><path fill="#271c72" stroke-width="1.2" d="M1641.6 821.5l8.5-0.8-6.5-2-8.6 0.4z"/><path fill="#2e248d" stroke-width="1.2" d="M1633 821.7l8.6-0.2-6.6-2.4-8.5-0.3z"/><path fill="#3838b8" stroke-width="1.1" d="M1624.5 820.8l8.5 0.9-6.5-2.9-8.5-1.1z"/><path fill="#405dec" stroke-width="1.1" d="M1616 817.4l8.5 3.4-6.5-3.1-8.6-3z"/><path fill="#01b8ca" stroke-width="1.7" d="M1581.9 785.4l8.5-48.7-6.6 41.1-8.5 19.3z"/><path fill="#2e87f7" stroke-width="2.3" d="M1573.3 815.3l8.6-29.9-6.6 11.7-8.5 19z"/><path fill="#4055e5" stroke-width="2.1" d="M1564.8 825.8l8.5-10.5-6.5 0.8-8.5 9.2z"/><path fill="#393dbf" stroke-width="1.6" d="M1556.3 830.8l8.5-5-6.5-0.5-8.6 4.7z"/><path fill="#312a9b" stroke-width="1.3" d="M1547.7 834l8.6-3.2-6.6-0.8-8.5 2.9z"/><path fill="#2b2080" stroke-width="1.3" d="M1539.2 836.5l8.5-2.5-6.5-1.1-8.5 2.1z"/><path fill="#271b71" stroke-width="1.3" d="M1530.7 838.4l8.5-1.9-6.5-1.5-8.6 1.6z"/><path fill="#241866" stroke-width="2.0" d="M1522.2 841.3l8.5-2.9-6.6-1.8-8.5 1.4z"/><path fill="#241765" stroke-width="1.7" d="M1513.6 842.6l8.6-1.3-6.6-3.3-8.5 1.2zM1505.1 843.9l8.5-1.3-6.5-3.4-8.6 1.3z"/><path fill="#241865" stroke-width="1.7" d="M1496.6 845.2l8.5-1.3-6.6-3.4-8.5 1.3z"/><path fill="#241865" stroke-width="1.6" d="M1488 846.5l8.6-1.3-6.6-3.4-8.5 1.3zM1479.5 847.7l8.5-1.2-6.5-3.4-8.5 1.5z"/><path fill="#241765" stroke-width="1.5" d="M1471 849l8.5-1.3-6.5-3.1-8.6 1.4z"/><path fill="#231764" stroke-width="1.1" d="M1462.4 850.3l8.6-1.3-6.6-3-8.5 2.6z"/><path fill="#261b6e" stroke-width="1.1" d="M1682.2 818.4l8.6 0-6.6-1.7-8.5 1.3z"/><path fill="#261b70" stroke-width="1.1" d="M1673.7 819.6l8.5-1.2-6.5-0.4-8.5 1.3z"/><path fill="#271b71" stroke-width="1.1" d="M1665.2 820.7l8.5-1.1-6.5-0.3-8.6 1.3z"/><path fill="#271c73" stroke-width="1.1" d="M1656.7 821.9l8.5-1.2-6.6-0.1-8.5 0.1z"/><path fill="#291f7c" stroke-width="1.1" d="M1648.1 823l8.6-1.1-6.6-1.2-8.5 0.8z"/><path fill="#2b2081" stroke-width="1.1" d="M1639.6 823.8l8.5-0.8-6.5-1.5-8.6 0.2z"/><path fill="#322a9e" stroke-width="1.2" d="M1631.1 823.9l8.5-0.1-6.6-2.1-8.5-0.9z"/><path fill="#3d46cf" stroke-width="1.1" d="M1622.5 821.7l8.6 2.2-6.6-3.1-8.5-3.4z"/><path fill="#01b8ca" stroke-width="2.4" d="M1596.9 786.7l8.6 13-6.6-20.3-8.5-42.7z"/><path fill="#23a0e5" stroke-width="2.4" d="M1588.4 804.2l8.5-17.5-6.5-50-8.5 48.7z"/><path fill="#327cfc" stroke-width="2.4" d="M1579.9 820.3l8.5-16.1-6.5-18.8-8.6 29.9z"/><path fill="#3f54e2" stroke-width="2.2" d="M1571.4 827.9l8.5-7.6-6.6-5-8.5 10.5z"/><path fill="#3a3ec2" stroke-width="1.6" d="M1562.8 832.1l8.6-4.2-6.6-2.1-8.5 5z"/><path fill="#3430a8" stroke-width="1.3" d="M1554.3 835.2l8.5-3.1-6.5-1.3-8.6 3.2z"/><path fill="#2e248d" stroke-width="1.2" d="M1545.8 837.7l8.5-2.5-6.6-1.2-8.5 2.5z"/><path fill="#291f7c" stroke-width="1.1" d="M1537.2 839.8l8.6-2.1-6.6-1.2-8.5 1.9z"/><path fill="#261b6e" stroke-width="1.1" d="M1528.7 841.7l8.5-1.9-6.5-1.4-8.5 2.9z"/><path fill="#231764" stroke-width="1.4" d="M1520.2 844.3l8.5-2.6-6.5-0.4-8.6 1.3z"/><path fill="#261b6f" stroke-width="1.1" d="M1697.3 818.7l8.6 0.1-6.6-1.7-8.5 1.3z"/><path fill="#271c72" stroke-width="1.1" d="M1688.8 819.7l8.5-1-6.5-0.3-8.6 0z"/><path fill="#291f7d" stroke-width="1.1" d="M1680.3 820.7l8.5-1-6.6-1.3-8.5 1.2z"/><path fill="#2b2080" stroke-width="1.1" d="M1671.7 821.7l8.6-1-6.6-1.1-8.5 1.1z"/><path fill="#2d238a" stroke-width="1.1" d="M1663.2 822.8l8.5-1.1-6.5-1-8.5 1.2z"/><path fill="#3530aa" stroke-width="1.1" d="M1637.6 825l8.6-0.4-6.6-0.8-8.5 0.1z"/><path fill="#3a3ec2" stroke-width="1.1" d="M1629.1 824.7l8.5 0.3-6.5-1.1-8.6-2.2z"/><path fill="#4055e5" stroke-width="2.0" d="M1620.6 822.7l8.5 2-6.6-3-8.5-6.9z"/><path fill="#3875fe" stroke-width="2.4" d="M1612 819.4l8.6 3.3-6.6-7.9-8.5-15.1z"/><path fill="#327cfc" stroke-width="2.4" d="M1603.5 818.6l8.5 0.8-6.5-19.7-8.6-13z"/><path fill="#3875fe" stroke-width="2.4" d="M1595 822.8l8.5-4.2-6.6-31.9-8.5 17.5z"/><path fill="#4055e5" stroke-width="2.4" d="M1586.4 827.9l8.6-5.1-6.6-18.6-8.5 16.1z"/><path fill="#3c45cd" stroke-width="2.2" d="M1577.9 831.5l8.5-3.6-6.5-7.6-8.5 7.6z"/><path fill="#393dbe" stroke-width="1.6" d="M1569.4 834.3l8.5-2.8-6.5-3.6-8.6 4.2z"/><path fill="#3430a9" stroke-width="1.3" d="M1560.9 836.8l8.5-2.5-6.6-2.2-8.5 3.1z"/><path fill="#302997" stroke-width="1.2" d="M1552.3 839l8.6-2.2-6.6-1.6-8.5 2.5z"/><path fill="#2b2080" stroke-width="1.1" d="M1543.8 841.1l8.5-2.1-6.5-1.3-8.6 2.1z"/><path fill="#271c72" stroke-width="1.1" d="M1535.3 843.1l8.5-2-6.6-1.3-8.5 1.9z"/><path fill="#241866" stroke-width="1.4" d="M1526.7 846l8.6-2.9-6.6-1.4-8.5 2.6z"/><path fill="#261b6f" stroke-width="1.1" d="M1703.9 820.4l8.5 0.1-6.5-1.7-8.6-0.1z"/><path fill="#281c74" stroke-width="1.1" d="M1695.4 821.3l8.5-0.9-6.6-1.7-8.5 1z"/><path fill="#2b2081" stroke-width="1.1" d="M1686.8 822.1l8.6-0.8-6.6-1.6-8.5 1z"/><path fill="#2e258f" stroke-width="1.1" d="M1678.3 822.8l8.5-0.7-6.5-1.4-8.6 1z"/><path fill="#312a9d" stroke-width="1.1" d="M1669.8 823.5l8.5-0.7-6.6-1.1-8.5 1.1z"/><path fill="#3531ab" stroke-width="1.1" d="M1661.2 824.1l8.6-0.6-6.6-0.7-8.5 0.9z"/><path fill="#3f4eda" stroke-width="1.3" d="M1627.1 825.4l8.5-0.9-6.5 0.2-8.5-2z"/><path fill="#3d46d1" stroke-width="2.4" d="M1618.6 827.6l8.5-2.2-6.5-2.7-8.6-3.3z"/><path fill="#3b44c8" stroke-width="2.4" d="M1610.1 829.9l8.5-2.3-6.6-8.2-8.5-0.8z"/><path fill="#393dbf" stroke-width="2.4" d="M1601.5 832l8.6-2.1-6.6-11.3-8.5 4.2z"/><path fill="#3737b5" stroke-width="2.4" d="M1593 834l8.5-2-6.5-9.2-8.6 5.1z"/><path fill="#3530aa" stroke-width="2.1" d="M1584.5 835.8l8.5-1.8-6.6-6.1-8.5 3.6z"/><path fill="#332fa5" stroke-width="1.7" d="M1575.9 837.5l8.6-1.7-6.6-4.3-8.5 2.8z"/><path fill="#312a9b" stroke-width="1.4" d="M1567.4 839.1l8.5-1.6-6.5-3.2-8.5 2.5z"/><path fill="#2e258f" stroke-width="1.2" d="M1558.9 840.9l8.5-1.8-6.5-2.3-8.6 2.2z"/><path fill="#2b2081" stroke-width="1.2" d="M1550.3 842.7l8.6-1.8-6.6-1.9-8.5 2.1z"/><path fill="#281c74" stroke-width="1.1" d="M1541.8 844.6l8.5-1.9-6.5-1.6-8.5 2z"/><path fill="#261b6f" stroke-width="1.1" d="M1533.3 846.3l8.5-1.7-6.5-1.5-8.6 2.9z"/><path fill="#241765" stroke-width="1.4" d="M1524.8 849l8.5-2.7-6.6-0.3-8.5 1.3z"/><path fill="#241867" stroke-width="1.5" d="M1710.4 823.5l8.6-1.3-6.6-1.7-8.5-0.1z"/><path fill="#271c72" stroke-width="1.1" d="M1701.9 823.1l8.5 0.4-6.5-3.1-8.5 0.9z"/><path fill="#2b2081" stroke-width="1.1" d="M1693.4 823.8l8.5-0.7-6.5-1.8-8.6 0.8z"/><path fill="#302998" stroke-width="1.1" d="M1684.8 824.2l8.6-0.4-6.6-1.7-8.5 0.7z"/><path fill="#3531ab" stroke-width="1.1" d="M1676.3 824.5l8.5-0.3-6.5-1.4-8.5 0.7z"/><path fill="#3a3ec1" stroke-width="1.1" d="M1667.8 824.3l8.5 0.2-6.5-1-8.6 0.6z"/><path fill="#405dec" stroke-width="1.1" d="M1633.7 825.5l8.5-2.7-6.6 1.7-8.5 0.9z"/><path fill="#3c45cc" stroke-width="1.9" d="M1625.1 829.8l8.6-4.3-6.6-0.1-8.5 2.2z"/><path fill="#3635b1" stroke-width="2.2" d="M1616.6 833.4l8.5-3.6-6.5-2.2-8.5 2.3z"/><path fill="#2e258f" stroke-width="2.2" d="M1608.1 836.1l8.5-2.7-6.5-3.5-8.6 2.1z"/><path fill="#2b2080" stroke-width="2.0" d="M1599.5 838l8.6-1.9-6.6-4.1-8.5 2z"/><path fill="#2a207f" stroke-width="1.8" d="M1591 839.5l8.5-1.5-6.5-4-8.5 1.8z"/><path fill="#2a207f" stroke-width="1.6" d="M1582.5 840.7l8.5-1.2-6.5-3.7-8.6 1.7z"/><path fill="#2a207f" stroke-width="1.5" d="M1574 842l8.5-1.3-6.6-3.2-8.5 1.6z"/><path fill="#2a207f" stroke-width="1.3" d="M1565.4 843.4l8.6-1.4-6.6-2.9-8.5 1.8z"/><path fill="#2a1f7d" stroke-width="1.2" d="M1556.9 844.8l8.5-1.4-6.5-2.5-8.6 1.8z"/><path fill="#281c73" stroke-width="1.2" d="M1548.4 846.3l8.5-1.5-6.6-2.1-8.5 1.9z"/><path fill="#261b70" stroke-width="1.1" d="M1539.8 848l8.6-1.7-6.6-1.7-8.5 1.7z"/><path fill="#241866" stroke-width="1.4" d="M1531.3 850.6l8.5-2.6-6.5-1.7-8.5 2.7z"/><path fill="#261b6f" stroke-width="1.1" d="M1708.5 825.1l8.5 0.1-6.6-1.7-8.5-0.4z"/><path fill="#2a1f7d" stroke-width="1.1" d="M1699.9 825.7l8.6-0.6-6.6-2-8.5 0.7z"/><path fill="#2e2590" stroke-width="1.1" d="M1691.4 826.1l8.5-0.4-6.5-1.9-8.6 0.4z"/><path fill="#3636b1" stroke-width="1.1" d="M1682.9 826l8.5 0.1-6.6-1.9-8.5 0.3z"/><path fill="#3b44ca" stroke-width="1.1" d="M1674.3 825.3l8.6 0.7-6.6-1.5-8.5-0.2z"/><path fill="#4167f9" stroke-width="1.2" d="M1640.2 825.7l8.5-4.1-6.5 1.2-8.5 2.7z"/><path fill="#3d4bd4" stroke-width="1.7" d="M1631.7 830.9l8.5-5.2-6.5-0.2-8.6 4.3z"/><path fill="#3736b4" stroke-width="1.6" d="M1623.2 834.9l8.5-4-6.6-1.1-8.5 3.6z"/><path fill="#2e258e" stroke-width="1.5" d="M1614.6 837.9l8.6-3-6.6-1.5-8.5 2.7z"/><path fill="#291f7c" stroke-width="1.4" d="M1606.1 840.1l8.5-2.2-6.5-1.8-8.6 1.9z"/><path fill="#261b6f" stroke-width="1.4" d="M1597.6 841.9l8.5-1.8-6.6-2.1-8.5 1.5z"/><path fill="#241867" stroke-width="2.1" d="M1589 844.6l8.6-2.7-6.6-2.4-8.5 1.2z"/><path fill="#241867" stroke-width="1.8" d="M1580.5 845.9l8.5-1.3-6.5-3.9-8.5 1.3z"/><path fill="#261b6e" stroke-width="1.1" d="M1572 845.9l8.5 0-6.5-3.9-8.6 1.4z"/><path fill="#261b6e" stroke-width="1.3" d="M1563.4 847.2l8.6-1.3-6.6-2.5-8.5 1.4z"/><path fill="#261b6e" stroke-width="1.2" d="M1554.9 848.5l8.5-1.3-6.5-2.4-8.5 1.5z"/><path fill="#241867" stroke-width="1.8" d="M1546.4 851l8.5-2.5-6.5-2.2-8.6 1.7z"/><path fill="#241865" stroke-width="1.1" d="M1537.9 852.3l8.5-1.3-6.6-3-8.5 2.6z"/><path fill="#241867" stroke-width="1.5" d="M1715 828.2l8.5-1.3-6.5-1.7-8.5-0.1z"/><path fill="#271c73" stroke-width="1.1" d="M1706.5 827.8l8.5 0.4-6.5-3.1-8.6 0.6z"/><path fill="#2d248b" stroke-width="1.1" d="M1697.9 828.2l8.6-0.4-6.6-2.1-8.5 0.4z"/><path fill="#3430a8" stroke-width="1.1" d="M1689.4 828.1l8.5 0.1-6.5-2.1-8.5-0.1z"/><path fill="#3b44ca" stroke-width="1.1" d="M1680.9 827.1l8.5 1-6.5-2.1-8.6-0.7z"/><path fill="#415ded" stroke-width="1.1" d="M1672.4 824.8l8.5 2.3-6.6-1.8-8.5-1.7z"/><path fill="#327cfc" stroke-width="1.1" d="M1655.3 823l8.5-0.7-6.5-0.8-8.6 0.1z"/><path fill="#4167f8" stroke-width="1.8" d="M1646.8 827.5l8.5-4.5-6.6-1.4-8.5 4.1z"/><path fill="#3d4cd6" stroke-width="1.7" d="M1638.2 832.4l8.6-4.9-6.6-1.8-8.5 5.2z"/><path fill="#3837b8" stroke-width="1.5" d="M1629.7 836.2l8.5-3.8-6.5-1.5-8.5 4z"/><path fill="#31299a" stroke-width="1.3" d="M1621.2 839.1l8.5-2.9-6.5-1.3-8.6 3z"/><path fill="#2a207f" stroke-width="1.2" d="M1612.6 841.5l8.6-2.4-6.6-1.2-8.5 2.2z"/><path fill="#271b71" stroke-width="1.2" d="M1604.1 843.5l8.5-2-6.5-1.4-8.5 1.8z"/><path fill="#241865" stroke-width="1.4" d="M1595.6 846.3l8.5-2.8-6.5-1.6-8.6 2.7z"/><path fill="#221761" stroke-width="1.5" d="M1578.5 848.9l8.6-1.3-6.6-1.7-8.5 0z"/><path fill="#231762" stroke-width="1.5" d="M1570 850.2l8.5-1.3-6.5-3-8.6 1.3zM1561.5 851.5l8.5-1.3-6.6-3-8.5 1.3z"/><path fill="#231762" stroke-width="1.1" d="M1552.9 852.7l8.6-1.2-6.6-3-8.5 2.5z"/><path fill="#261b6e" stroke-width="1.1" d="M1755.7 823.4l8.5 0-6.5-1.7-8.6 1.3zM1747.2 824.7l8.5-1.3-6.6-0.4-8.5 1.3z"/><path fill="#261b6f" stroke-width="1.1" d="M1738.6 826l8.6-1.3-6.6-0.4-8.5 1.3z"/><path fill="#2b2080" stroke-width="1.1" d="M1704.5 830.2l8.5-0.7-6.5-1.7-8.6 0.4z"/><path fill="#312a9c" stroke-width="1.1" d="M1696 830.3l8.5-0.1-6.6-2-8.5-0.1z"/><path fill="#3a3ec1" stroke-width="1.1" d="M1687.4 829.4l8.6 0.9-6.6-2.2-8.5-1z"/><path fill="#4055e4" stroke-width="1.1" d="M1678.9 827.4l8.5 2-6.5-2.3-8.5-2.3z"/><path fill="#3e6fff" stroke-width="1.1" d="M1670.4 825.8l8.5 1.6-6.5-2.6-8.6-2.5z"/><path fill="#4268fb" stroke-width="2.1" d="M1661.8 827.5l8.6-1.7-6.6-3.5-8.5 0.7z"/><path fill="#4055e4" stroke-width="2.3" d="M1653.3 831.3l8.5-3.8-6.5-4.5-8.5 4.5z"/><path fill="#3c45cc" stroke-width="1.9" d="M1644.8 834.9l8.5-3.6-6.5-3.8-8.6 4.9z"/><path fill="#3837b7" stroke-width="1.5" d="M1636.3 838l8.5-3.1-6.6-2.5-8.5 3.8z"/><path fill="#312a9d" stroke-width="1.3" d="M1627.7 840.6l8.6-2.6-6.6-1.8-8.5 2.9z"/><path fill="#2d238a" stroke-width="1.2" d="M1619.2 842.9l8.5-2.3-6.5-1.5-8.6 2.4z"/><path fill="#281c74" stroke-width="1.1" d="M1610.7 844.9l8.5-2-6.6-1.4-8.5 2z"/><path fill="#261b6e" stroke-width="1.1" d="M1602.1 846.7l8.6-1.8-6.6-1.4-8.5 2.8z"/><path fill="#231763" stroke-width="1.4" d="M1593.6 849.3l8.5-2.6-6.5-0.4-8.5 1.3z"/><path fill="#261b6f" stroke-width="1.1" d="M1770.8 823.7l8.5 0.1-6.6-1.7-8.5 1.3z"/><path fill="#271c73" stroke-width="1.1" d="M1762.2 824.7l8.6-1-6.6-0.3-8.5 0z"/><path fill="#291f7c" stroke-width="1.1" d="M1753.7 825.8l8.5-1.1-6.5-1.3-8.5 1.3z"/><path fill="#2a1f7f" stroke-width="1.1" d="M1745.2 826.9l8.5-1.1-6.5-1.1-8.6 1.3z"/><path fill="#2b2080" stroke-width="1.1" d="M1736.6 828l8.6-1.1-6.6-0.9-8.5 1.2z"/><path fill="#312a9c" stroke-width="1.1" d="M1702.5 832l8.6-0.5-6.6-1.3-8.5 0.1z"/><path fill="#393cbd" stroke-width="1.1" d="M1694 831.6l8.5 0.4-6.5-1.7-8.6-0.9z"/><path fill="#3d4cd5" stroke-width="1.1" d="M1685.5 830.7l8.5 0.9-6.6-2.2-8.5-2z"/><path fill="#3f54e1" stroke-width="1.9" d="M1676.9 830.8l8.6-0.1-6.6-3.3-8.5-1.6z"/><path fill="#3e4dd8" stroke-width="2.4" d="M1668.4 832.9l8.5-2.1-6.5-5-8.6 1.7z"/><path fill="#3b44ca" stroke-width="2.3" d="M1659.9 835.6l8.5-2.7-6.6-5.4-8.5 3.8z"/><path fill="#383cbd" stroke-width="1.9" d="M1651.3 838.2l8.6-2.6-6.6-4.3-8.5 3.6z"/><path fill="#3430a9" stroke-width="1.6" d="M1642.8 840.5l8.5-2.3-6.5-3.3-8.5 3.1z"/><path fill="#30299a" stroke-width="1.3" d="M1634.3 842.5l8.5-2-6.5-2.5-8.6 2.6z"/><path fill="#2d248b" stroke-width="1.2" d="M1625.8 844.5l8.5-2-6.6-1.9-8.5 2.3z"/><path fill="#291f7d" stroke-width="1.1" d="M1617.2 846.4l8.6-1.9-6.6-1.6-8.5 2z"/><path fill="#261b70" stroke-width="1.1" d="M1608.7 848.2l8.5-1.8-6.5-1.5-8.6 1.8z"/><path fill="#241865" stroke-width="1.4" d="M1600.2 851l8.5-2.8-6.6-1.5-8.5 2.6z"/><path fill="#241866" stroke-width="1.5" d="M1777.3 826.8l8.5-1.3-6.5-1.7-8.5-0.1z"/><path fill="#271c73" stroke-width="1.1" d="M1768.8 826.4l8.5 0.4-6.5-3.1-8.6 1z"/><path fill="#2b2081" stroke-width="1.1" d="M1760.3 827.1l8.5-0.7-6.6-1.7-8.5 1.1z"/><path fill="#2e258e" stroke-width="1.1" d="M1751.7 827.8l8.6-0.7-6.6-1.3-8.5 1.1z"/><path fill="#312a9a" stroke-width="1.1" d="M1743.2 828.6l8.5-0.8-6.5-0.9-8.6 1.1z"/><path fill="#3b44c9" stroke-width="1.1" d="M1700.5 832.3l8.6-0.6-6.6 0.3-8.5-0.4z"/><path fill="#3c45cb" stroke-width="1.3" d="M1692 833.2l8.5-0.9-6.5-0.7-8.5-0.9z"/><path fill="#3a3ec3" stroke-width="2.1" d="M1683.5 835.1l8.5-1.9-6.5-2.5-8.6 0.1z"/><path fill="#3837b7" stroke-width="2.3" d="M1675 837.5l8.5-2.4-6.6-4.3-8.5 2.1z"/><path fill="#3430a9" stroke-width="2.1" d="M1666.4 839.6l8.6-2.1-6.6-4.6-8.5 2.7z"/><path fill="#312a9b" stroke-width="1.8" d="M1657.9 841.5l8.5-1.9-6.5-4-8.6 2.6z"/><path fill="#2e2590" stroke-width="1.6" d="M1649.4 843.2l8.5-1.7-6.6-3.3-8.5 2.3z"/><path fill="#2d248b" stroke-width="1.4" d="M1640.8 844.9l8.6-1.7-6.6-2.7-8.5 2z"/><path fill="#2b2080" stroke-width="1.3" d="M1632.3 846.6l8.5-1.7-6.5-2.4-8.5 2z"/><path fill="#291f7b" stroke-width="1.2" d="M1623.8 848.2l8.5-1.6-6.5-2.1-8.6 1.9z"/><path fill="#271b71" stroke-width="1.1" d="M1615.2 849.9l8.6-1.7-6.6-1.8-8.5 1.8z"/><path fill="#241867" stroke-width="1.4" d="M1606.7 852.7l8.5-2.8-6.5-1.7-8.5 2.8z"/><path fill="#241867" stroke-width="1.7" d="M1775.3 829.8l8.6-1.3-6.6-1.7-8.5-0.4z"/><path fill="#291f7c" stroke-width="1.1" d="M1766.8 829.1l8.5 0.7-6.5-3.4-8.5 0.7z"/><path fill="#2e258f" stroke-width="1.1" d="M1758.3 829.5l8.5-0.4-6.5-2-8.6 0.7z"/><path fill="#3430a9" stroke-width="1.1" d="M1749.7 829.6l8.6-0.1-6.6-1.7-8.5 0.8z"/><path fill="#393dbe" stroke-width="1.1" d="M1741.2 829.7l8.5-0.1-6.5-1-8.5 0.9z"/><path fill="#3f4edd" stroke-width="1.1" d="M1698.6 833.1l8.5-3.8-6.6 3-8.5 0.9z"/><path fill="#393dbf" stroke-width="1.9" d="M1690 837.4l8.6-4.3-6.6 0.1-8.5 1.9z"/><path fill="#312a9c" stroke-width="2.0" d="M1681.5 840.6l8.5-3.2-6.5-2.3-8.5 2.4z"/><path fill="#2d248b" stroke-width="1.8" d="M1673 842.7l8.5-2.1-6.5-3.1-8.6 2.1z"/><path fill="#2a207f" stroke-width="1.6" d="M1664.4 844.4l8.6-1.7-6.6-3.1-8.5 1.9z"/><path fill="#2a1f7d" stroke-width="1.5" d="M1655.9 845.9l8.5-1.5-6.5-2.9-8.5 1.7z"/><path fill="#281c74" stroke-width="1.4" d="M1647.4 847.4l8.5-1.5-6.5-2.7-8.6 1.7z"/><path fill="#271c72" stroke-width="1.3" d="M1638.9 848.8l8.5-1.4-6.6-2.5-8.5 1.7z"/><path fill="#271b70" stroke-width="1.2" d="M1630.3 850.3l8.6-1.5-6.6-2.2-8.5 1.6z"/><path fill="#261b6e" stroke-width="1.2" d="M1621.8 851.8l8.5-1.5-6.5-2.1-8.6 1.7z"/><path fill="#241866" stroke-width="1.4" d="M1613.3 854.4l8.5-2.6-6.6-1.9-8.5 2.8z"/><path fill="#241867" stroke-width="1.1" d="M1773.4 831.6l8.5-0.1-6.6-1.7-8.5-0.7z"/><path fill="#2a1f7e" stroke-width="1.1" d="M1764.8 832l8.6-0.4-6.6-2.5-8.5 0.4z"/><path fill="#312a9c" stroke-width="1.1" d="M1756.3 831.9l8.5 0.1-6.5-2.5-8.6 0.1z"/><path fill="#3a3dc1" stroke-width="1.1" d="M1747.8 831.1l8.5 0.8-6.6-2.3-8.5 0.1z"/><path fill="#3e6fff" stroke-width="1.5" d="M1705.1 831.3l8.5-10.6-6.5 8.6-8.5 3.8z"/><path fill="#3c45cd" stroke-width="1.6" d="M1696.6 837.7l8.5-6.4-6.5 1.8-8.6 4.3z"/><path fill="#332fa6" stroke-width="1.6" d="M1688.1 841.9l8.5-4.2-6.6-0.3-8.5 3.2z"/><path fill="#2b2081" stroke-width="1.5" d="M1679.5 844.7l8.6-2.8-6.6-1.3-8.5 2.1z"/><path fill="#271c72" stroke-width="1.4" d="M1671 846.7l8.5-2-6.5-2-8.6 1.7z"/><path fill="#261b6f" stroke-width="1.4" d="M1662.5 848.3l8.5-1.6-6.6-2.3-8.5 1.5z"/><path fill="#241867" stroke-width="2.0" d="M1653.9 850.9l8.6-2.6-6.6-2.4-8.5 1.5z"/><path fill="#241866" stroke-width="1.6" d="M1645.4 852.2l8.5-1.3-6.5-3.5-8.5 1.4z"/><path fill="#241865" stroke-width="1.6" d="M1636.9 853.5l8.5-1.3-6.5-3.4-8.6 1.5z"/><path fill="#241765" stroke-width="1.5" d="M1628.3 854.8l8.6-1.3-6.6-3.2-8.5 1.5z"/><path fill="#231764" stroke-width="1.1" d="M1619.8 856l8.5-1.2-6.5-3-8.5 2.6z"/><path fill="#231764" stroke-width="1.5" d="M1779.9 834.5l8.5-1.3-6.5-1.7-8.5 0.1z"/><path fill="#261b70" stroke-width="1.1" d="M1771.4 834.3l8.5 0.2-6.5-2.9-8.6 0.4z"/><path fill="#2b2080" stroke-width="1.3" d="M1762.8 834.8l8.6-0.5-6.6-2.3-8.5-0.1z"/><path fill="#3530aa" stroke-width="1.1" d="M1754.3 834.3l8.5 0.5-6.5-2.9-8.5-0.8z"/><path fill="#3f54e1" stroke-width="1.1" d="M1745.8 831.1l8.5 3.2-6.5-3.2-8.6-2.1z"/><path fill="#1ca9df" stroke-width="2.1" d="M1720.2 807.9l8.5-114.4-6.5 114.2-8.6 13z"/><path fill="#327cfc" stroke-width="2.3" d="M1711.7 830.8l8.5-22.9-6.6 12.8-8.5 10.6z"/><path fill="#3f4edb" stroke-width="1.7" d="M1703.1 838l8.6-7.2-6.6 0.5-8.5 6.4z"/><path fill="#3837b8" stroke-width="1.4" d="M1694.6 842.5l8.5-4.5-6.5-0.3-8.5 4.2z"/><path fill="#2f2590" stroke-width="1.3" d="M1686.1 845.7l8.5-3.2-6.5-0.6-8.6 2.8z"/><path fill="#291f7c" stroke-width="1.2" d="M1677.6 848.1l8.5-2.4-6.6-1-8.5 2z"/><path fill="#261b6e" stroke-width="1.3" d="M1669 850.1l8.6-2-6.6-1.4-8.5 1.6z"/><path fill="#231764" stroke-width="1.4" d="M1660.5 852.6l8.5-2.5-6.5-1.8-8.6 2.6z"/><path fill="#241866" stroke-width="1.6" d="M1777.9 837.4l8.6-1.2-6.6-1.7-8.5-0.2z"/><path fill="#281c74" stroke-width="1.1" d="M1769.4 837l8.5 0.4-6.5-3.1-8.6 0.5z"/><path fill="#2e258f" stroke-width="1.2" d="M1760.9 837.1l8.5-0.1-6.6-2.2-8.5-0.5z"/><path fill="#3a3ec1" stroke-width="1.4" d="M1752.3 835.8l8.6 1.3-6.6-2.8-8.5-3.2z"/><path fill="#327cfc" stroke-width="1.9" d="M1743.8 827.5l8.5 8.3-6.5-4.7-8.5-20.8z"/><path fill="#20a5e3" stroke-width="2.4" d="M1735.3 812.1l8.5 15.4-6.5-17.2-8.6-116.8z"/><path fill="#2d8cf3" stroke-width="2.4" d="M1726.8 824.7l8.5-12.6-6.6-118.6-8.5 114.4z"/><path fill="#3e6fff" stroke-width="2.4" d="M1718.2 834.2l8.6-9.5-6.6-16.8-8.5 22.9z"/><path fill="#3f4edc" stroke-width="1.8" d="M1709.7 839.6l8.5-5.4-6.5-3.4-8.6 7.2z"/><path fill="#3a3ec1" stroke-width="1.4" d="M1701.2 843.5l8.5-3.9-6.6-1.6-8.5 4.5z"/><path fill="#332fa6" stroke-width="1.2" d="M1692.6 846.6l8.6-3.1-6.6-1-8.5 3.2z"/><path fill="#2d238a" stroke-width="1.1" d="M1684.1 849.2l8.5-2.6-6.5-0.9-8.5 2.4z"/><path fill="#271c72" stroke-width="1.1" d="M1675.6 851.3l8.5-2.1-6.5-1.1-8.6 2z"/><path fill="#241866" stroke-width="1.4" d="M1667 854.3l8.6-3-6.6-1.2-8.5 2.5z"/><path fill="#261b70" stroke-width="1.1" d="M1776 839l8.5 0.1-6.6-1.7-8.5-0.4z"/><path fill="#2b2082" stroke-width="1.1" d="M1767.4 839.3l8.6-0.3-6.6-2-8.5 0.1z"/><path fill="#3531ab" stroke-width="1.1" d="M1758.9 838.9l8.5 0.4-6.5-2.2-8.6-1.3z"/><path fill="#3c45ce" stroke-width="2.4" d="M1750.4 837.5l8.5 1.4-6.6-3.1-8.5-8.3z"/><path fill="#4055e3" stroke-width="2.4" d="M1741.8 836.9l8.6 0.6-6.6-10-8.5-15.4z"/><path fill="#3f54e1" stroke-width="2.4" d="M1733.3 838.4l8.5-1.5-6.5-24.8-8.5 12.6z"/><path fill="#3e4cd6" stroke-width="2.4" d="M1724.8 840.8l8.5-2.4-6.5-13.7-8.6 9.5z"/><path fill="#3b44cb" stroke-width="1.9" d="M1716.2 843.1l8.6-2.3-6.6-6.6-8.5 5.4z"/><path fill="#393dbe" stroke-width="1.5" d="M1707.7 845.6l8.5-2.5-6.5-3.5-8.5 3.9z"/><path fill="#3430a9" stroke-width="1.3" d="M1699.2 848.1l8.5-2.5-6.5-2.1-8.6 3.1z"/><path fill="#2f2590" stroke-width="1.2" d="M1690.7 850.4l8.5-2.3-6.6-1.5-8.5 2.6z"/><path fill="#2a1f7f" stroke-width="1.1" d="M1682.1 852.6l8.6-2.2-6.6-1.2-8.5 2.1z"/><path fill="#261b70" stroke-width="1.1" d="M1673.6 854.5l8.5-1.9-6.5-1.3-8.6 3z"/><path fill="#241764" stroke-width="1.4" d="M1665.1 857.3l8.5-2.8-6.6-0.2-8.5 1.3z"/><path fill="#241867" stroke-width="1.6" d="M1782.5 842.1l8.5-1.3-6.5-1.7-8.5-0.1z"/><path fill="#2a1f7d" stroke-width="1.1" d="M1774 841.5l8.5 0.6-6.5-3.1-8.6 0.3z"/><path fill="#31299a" stroke-width="1.1" d="M1765.4 841.5l8.6 0-6.6-2.2-8.5-0.4z"/><path fill="#3736b4" stroke-width="1.5" d="M1756.9 841.5l8.5 0-6.5-2.6-8.5-1.4z"/><path fill="#3737b7" stroke-width="2.4" d="M1748.4 842.6l8.5-1.1-6.5-4-8.6-0.6z"/><path fill="#3530aa" stroke-width="2.4" d="M1739.9 844.5l8.5-1.9-6.6-5.7-8.5 1.5z"/><path fill="#322a9d" stroke-width="2.4" d="M1731.3 846.4l8.6-1.9-6.6-6.1-8.5 2.4z"/><path fill="#312a9c" stroke-width="2.1" d="M1722.8 847.8l8.5-1.4-6.5-5.6-8.6 2.3z"/><path fill="#312a9c" stroke-width="1.7" d="M1714.3 849.1l8.5-1.3-6.6-4.7-8.5 2.5z"/><path fill="#31299a" stroke-width="1.4" d="M1705.7 850.5l8.6-1.4-6.6-3.5-8.5 2.5z"/><path fill="#2e258f" stroke-width="1.2" d="M1697.2 852.2l8.5-1.7-6.5-2.4-8.5 2.3z"/><path fill="#2b2081" stroke-width="1.1" d="M1688.7 854.1l8.5-1.9-6.5-1.8-8.6 2.2z"/><path fill="#281c73" stroke-width="1.1" d="M1680.1 855.9l8.6-1.8-6.6-1.5-8.5 1.9z"/><path fill="#261b6e" stroke-width="1.1" d="M1671.6 857.7l8.5-1.8-6.5-1.4-8.5 2.8z"/><path fill="#231763" stroke-width="1.4" d="M1663.1 860.2l8.5-2.5-6.5-0.4-8.6 1.3z"/><path fill="#271c73" stroke-width="1.1" d="M1780.5 843.5l8.6 0.3-6.6-1.7-8.5-0.6z"/><path fill="#2d238a" stroke-width="1.1" d="M1772 843.9l8.5-0.4-6.5-2-8.6 0z"/><path fill="#2f2590" stroke-width="1.5" d="M1763.5 844.7l8.5-0.8-6.6-2.4-8.5 0z"/><path fill="#2e248e" stroke-width="1.8" d="M1754.9 846.2l8.6-1.5-6.6-3.2-8.5 1.1z"/><path fill="#2b2082" stroke-width="1.8" d="M1746.4 847.9l8.5-1.7-6.5-3.6-8.5 1.9z"/><path fill="#2a1f7e" stroke-width="1.7" d="M1737.9 849.5l8.5-1.6-6.5-3.4-8.6 1.9z"/><path fill="#291f7b" stroke-width="1.7" d="M1729.3 851.1l8.6-1.6-6.6-3.1-8.5 1.4z"/><path fill="#271c73" stroke-width="1.7" d="M1720.8 852.5l8.5-1.4-6.5-3.3-8.5 1.3z"/><path fill="#291f7b" stroke-width="1.5" d="M1712.3 853.7l8.5-1.2-6.5-3.4-8.6 1.4z"/><path fill="#291f7c" stroke-width="1.4" d="M1703.8 854.9l8.5-1.2-6.6-3.2-8.5 1.7z"/><path fill="#291f7c" stroke-width="1.2" d="M1695.2 856.2l8.6-1.3-6.6-2.7-8.5 1.9z"/><path fill="#271c73" stroke-width="1.1" d="M1686.7 857.7l8.5-1.5-6.5-2.1-8.6 1.8z"/><path fill="#261b6f" stroke-width="1.1" d="M1678.2 859.3l8.5-1.6-6.6-1.8-8.5 1.8z"/><path fill="#241865" stroke-width="1.4" d="M1669.6 861.9l8.6-2.6-6.6-1.6-8.5 2.5z"/><path fill="#261b70" stroke-width="1.1" d="M1787.1 845.4l8.5 0.1-6.5-1.7-8.6-0.3z"/><path fill="#291f7c" stroke-width="1.1" d="M1778.6 846.2l8.5-0.8-6.6-1.9-8.5 0.4z"/><path fill="#291f7d" stroke-width="1.4" d="M1770 847.5l8.6-1.3-6.6-2.3-8.5 0.8z"/><path fill="#271c72" stroke-width="1.5" d="M1761.5 849.1l8.5-1.6-6.5-2.8-8.6 1.5z"/><path fill="#261b6f" stroke-width="1.5" d="M1753 850.6l8.5-1.5-6.6-2.9-8.5 1.7z"/><path fill="#261b6e" stroke-width="1.4" d="M1744.4 852.1l8.6-1.5-6.6-2.7-8.5 1.6z"/><path fill="#241866" stroke-width="2.0" d="M1735.9 854.6l8.5-2.5-6.5-2.6-8.6 1.6z"/><path fill="#241865" stroke-width="1.7" d="M1727.4 855.9l8.5-1.3-6.6-3.5-8.5 1.4z"/><path fill="#241765" stroke-width="1.7" d="M1718.8 857.2l8.6-1.3-6.6-3.4-8.5 1.2zM1710.3 858.5l8.5-1.3-6.5-3.5-8.5 1.2z"/><path fill="#241866" stroke-width="1.7" d="M1701.8 859.8l8.5-1.3-6.5-3.6-8.6 1.3zM1693.2 861l8.6-1.2-6.6-3.6-8.5 1.5z"/><path fill="#241866" stroke-width="1.5" d="M1684.7 862.3l8.5-1.3-6.5-3.3-8.5 1.6z"/><path fill="#241865" stroke-width="1.1" d="M1676.2 863.6l8.5-1.3-6.5-3-8.6 2.6z"/></g>
<text transform="translate(1133.7 813.5) scale(1.18 1)" font-size="20" text-anchor="end" font-weight="normal" fill="#404040" stroke="#404040" stroke-width="0.1" >0</text>
<text transform="translate(1133.7 721.1) scale(1.18 1)" font-size="20" text-anchor="end" font-weight="normal" fill="#404040" stroke="#404040" stroke-width="0.1" >2</text>
<text transform="translate(1133.7 628.8) scale(1.18 1)" font-size="20" text-anchor="end" font-weight="normal" fill="#404040" stroke="#404040" stroke-width="0.1" >4</text>
<text transform="translate(1460.4 919.2) scale(1.18 1)" font-size="20" text-anchor="end" font-weight="normal" fill="#404040" stroke="#404040" stroke-width="0.1" >-10</text>
<text transform="translate(1378.5 898) scale(1.18 1)" font-size="20" text-anchor="end" font-weight="normal" fill="#404040" stroke="#404040" stroke-width="0.1" >-5</text>
<text transform="translate(1296.6 876.8) scale(1.18 1)" font-size="20" text-anchor="end" font-weight="normal" fill="#404040" stroke="#404040" stroke-width="0.1" >0</text>
<text transform="translate(1214.7 855.6) scale(1.18 1)" font-size="20" text-anchor="end" font-weight="normal" fill="#404040" stroke="#404040" stroke-width="0.1" >5</text>
<text transform="translate(1132.8 834.4) scale(1.18 1)" font-size="20" text-anchor="end" font-weight="normal" fill="#404040" stroke="#404040" stroke-width="0.1" >10</text>
<text transform="translate(1500 921.1) scale(1.18 1)" font-size="20" text-anchor="start" font-weight="normal" fill="#404040" stroke="#404040" stroke-width="0.1" >-10</text>
<text transform="translate(1606.6 904.9) scale(1.18 1)" font-size="20" text-anchor="start" font-weight="normal" fill="#404040" stroke="#404040" stroke-width="0.1" >-5</text>
<text transform="translate(1713.2 888.8) scale(1.18 1)" font-size="20" text-anchor="start" font-weight="normal" fill="#404040" stroke="#404040" stroke-width="0.1" >0</text>
<text transform="translate(1819.9 872.6) scale(1.18 1)" font-size="20" text-anchor="start" font-weight="normal" fill="#404040" stroke="#404040" stroke-width="0.1" >5</text>
<text transform="translate(1926.5 856.4) scale(1.18 1)" font-size="20" text-anchor="start" font-weight="normal" fill="#404040" stroke="#404040" stroke-width="0.1" >10</text>
<text transform="translate(1318 933.8) scale(1.18 1)" font-size="22" text-anchor="middle" font-weight="normal" fill="#404040" stroke="#404040" stroke-width="0.1" >y</text>
<text transform="translate(1666.5 940.1) scale(1.18 1)" font-size="22" text-anchor="middle" font-weight="normal" fill="#404040" stroke="#404040" stroke-width="0.1" >x</text>
<text transform="translate(1094.3 717.7) rotate(-90) scale(1 1.18)" font-size="22" text-anchor="middle" fill="#404040" textLength="39.5" lengthAdjust="spacing">|<tspan font-family="'Liberation Serif', 'DejaVu Serif', serif" font-style="italic" font-size="23" fill="#6a6a6a">ψ</tspan><tspan font-size="16" dy="7.5">2</tspan><tspan dy="-7.5">|</tspan></text>
<text transform="translate(1324.5 538) scale(1.18 1)" font-size="22" font-weight="bold" fill="#000" textLength="298.0" lengthAdjust="spacingAndGlyphs">Numerical representation of</text>
<text transform="translate(1685.1 538) scale(1.18 1)" font-size="22" font-weight="bold" fill="#000" textLength="40.6" lengthAdjust="spacing">|<tspan font-family="'Liberation Serif', 'DejaVu Serif', serif" font-style="italic" font-weight="normal" font-size="25">ψ</tspan><tspan font-size="16" dy="9.3">2</tspan><tspan dy="-9.3">|</tspan></text>
<rect x="1397" y="619.2" width="132.5" height="32.8" rx="3" fill="none" stroke="#505050" stroke-width="2.2"/>
<text x="1409" y="647.1" font-size="20.5" fill="#000" textLength="72" lengthAdjust="spacingAndGlyphs">At t = 4</text>
</g>
<use href="#art" filter="url(#soft)" opacity="0.7"/>
<rect x="3.55" y="3.3" width="1992.95" height="979.9" fill="none" stroke="#000" stroke-width="2.9"/>
</svg>
</body></html>
